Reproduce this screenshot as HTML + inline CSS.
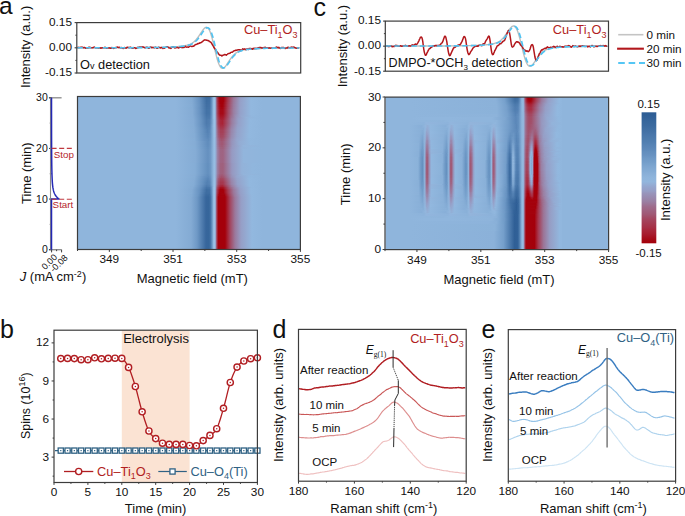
<!DOCTYPE html><html><head><meta charset="utf-8"><style>html,body{margin:0;padding:0;background:#fff;}svg{display:block;}</style></head><body><svg width="685" height="516" viewBox="0 0 685 516" font-family='"Liberation Sans", sans-serif'><defs><linearGradient id="h1" gradientUnits="userSpaceOnUse" x1="176" x2="262" y1="0" y2="0"><stop offset="0" stop-color="#8fb5dc"/><stop offset="0.186" stop-color="#83abd4"/><stop offset="0.267" stop-color="#6994c2"/><stop offset="0.349" stop-color="#3e6da1"/><stop offset="0.39" stop-color="#406fa3"/><stop offset="0.407" stop-color="#5380b3"/><stop offset="0.436" stop-color="#94bbe2"/><stop offset="0.448" stop-color="#9bc2e7"/><stop offset="0.453" stop-color="#99c0e5"/><stop offset="0.459" stop-color="#98aad1"/><stop offset="0.471" stop-color="#9f627f"/><stop offset="0.477" stop-color="#a3465f"/><stop offset="0.488" stop-color="#a72133"/><stop offset="0.506" stop-color="#a4020d"/><stop offset="0.552" stop-color="#a4000a"/><stop offset="0.61" stop-color="#a4425a"/><stop offset="0.669" stop-color="#9c7699"/><stop offset="0.744" stop-color="#969ec6"/><stop offset="0.872" stop-color="#92b8df"/><stop offset="1" stop-color="#8fb5dc"/></linearGradient><linearGradient id="h2" gradientUnits="userSpaceOnUse" x1="176" x2="262" y1="0" y2="0"><stop offset="0" stop-color="#8fb5dc"/><stop offset="0.186" stop-color="#83abd4"/><stop offset="0.273" stop-color="#6792c1"/><stop offset="0.355" stop-color="#3e6da1"/><stop offset="0.39" stop-color="#4170a4"/><stop offset="0.407" stop-color="#5481b3"/><stop offset="0.436" stop-color="#94bbe2"/><stop offset="0.448" stop-color="#9bc2e7"/><stop offset="0.453" stop-color="#99c0e5"/><stop offset="0.459" stop-color="#98aad1"/><stop offset="0.471" stop-color="#9f6482"/><stop offset="0.477" stop-color="#a34862"/><stop offset="0.488" stop-color="#a82437"/><stop offset="0.506" stop-color="#a50611"/><stop offset="0.517" stop-color="#a4000a"/><stop offset="0.552" stop-color="#a4010b"/><stop offset="0.605" stop-color="#a43e55"/><stop offset="0.669" stop-color="#9c789a"/><stop offset="0.744" stop-color="#969fc7"/><stop offset="0.872" stop-color="#92b8df"/><stop offset="1" stop-color="#8fb5dc"/></linearGradient><linearGradient id="h3" gradientUnits="userSpaceOnUse" x1="176" x2="262" y1="0" y2="0"><stop offset="0" stop-color="#8fb5dc"/><stop offset="0.186" stop-color="#84abd4"/><stop offset="0.273" stop-color="#6893c1"/><stop offset="0.355" stop-color="#3f6ea2"/><stop offset="0.39" stop-color="#4271a5"/><stop offset="0.407" stop-color="#5582b4"/><stop offset="0.436" stop-color="#95bce2"/><stop offset="0.448" stop-color="#9bc2e7"/><stop offset="0.453" stop-color="#99c0e5"/><stop offset="0.459" stop-color="#98aad1"/><stop offset="0.471" stop-color="#9f6584"/><stop offset="0.477" stop-color="#a34b64"/><stop offset="0.488" stop-color="#a8273b"/><stop offset="0.506" stop-color="#a50916"/><stop offset="0.517" stop-color="#a4000a"/><stop offset="0.547" stop-color="#a4000a"/><stop offset="0.605" stop-color="#a44158"/><stop offset="0.669" stop-color="#9b799c"/><stop offset="0.744" stop-color="#96a0c8"/><stop offset="0.872" stop-color="#92b8df"/><stop offset="1" stop-color="#8fb5dc"/></linearGradient><linearGradient id="h4" gradientUnits="userSpaceOnUse" x1="176" x2="262" y1="0" y2="0"><stop offset="0" stop-color="#8fb5dc"/><stop offset="0.186" stop-color="#84acd5"/><stop offset="0.273" stop-color="#6994c2"/><stop offset="0.355" stop-color="#416fa3"/><stop offset="0.39" stop-color="#4472a6"/><stop offset="0.407" stop-color="#5683b5"/><stop offset="0.436" stop-color="#95bce2"/><stop offset="0.448" stop-color="#9bc2e7"/><stop offset="0.453" stop-color="#99c0e5"/><stop offset="0.459" stop-color="#98abd2"/><stop offset="0.471" stop-color="#9e6786"/><stop offset="0.477" stop-color="#a24d67"/><stop offset="0.488" stop-color="#a72a3e"/><stop offset="0.506" stop-color="#a50d1a"/><stop offset="0.523" stop-color="#a4000a"/><stop offset="0.547" stop-color="#a4030d"/><stop offset="0.605" stop-color="#a4435c"/><stop offset="0.669" stop-color="#9b7b9e"/><stop offset="0.744" stop-color="#96a0c8"/><stop offset="0.872" stop-color="#92b8df"/><stop offset="1" stop-color="#8fb5dc"/></linearGradient><linearGradient id="h5" gradientUnits="userSpaceOnUse" x1="176" x2="262" y1="0" y2="0"><stop offset="0" stop-color="#8fb5dc"/><stop offset="0.192" stop-color="#83abd4"/><stop offset="0.279" stop-color="#6691c0"/><stop offset="0.355" stop-color="#4271a4"/><stop offset="0.39" stop-color="#4573a7"/><stop offset="0.407" stop-color="#5784b6"/><stop offset="0.436" stop-color="#95bce2"/><stop offset="0.448" stop-color="#9bc2e7"/><stop offset="0.453" stop-color="#99c0e5"/><stop offset="0.459" stop-color="#98abd2"/><stop offset="0.471" stop-color="#9e6989"/><stop offset="0.477" stop-color="#a2506a"/><stop offset="0.488" stop-color="#a72d42"/><stop offset="0.506" stop-color="#a6101f"/><stop offset="0.523" stop-color="#a4040f"/><stop offset="0.547" stop-color="#a50712"/><stop offset="0.605" stop-color="#a3465f"/><stop offset="0.669" stop-color="#9b7c9f"/><stop offset="0.744" stop-color="#96a1c9"/><stop offset="0.872" stop-color="#92b8df"/><stop offset="1" stop-color="#8fb5dc"/></linearGradient><linearGradient id="h6" gradientUnits="userSpaceOnUse" x1="176" x2="262" y1="0" y2="0"><stop offset="0" stop-color="#8fb5dc"/><stop offset="0.192" stop-color="#84abd4"/><stop offset="0.279" stop-color="#6792c1"/><stop offset="0.355" stop-color="#4372a6"/><stop offset="0.39" stop-color="#4675a8"/><stop offset="0.407" stop-color="#5885b7"/><stop offset="0.436" stop-color="#95bce2"/><stop offset="0.448" stop-color="#9bc2e7"/><stop offset="0.453" stop-color="#99c0e5"/><stop offset="0.459" stop-color="#98acd3"/><stop offset="0.471" stop-color="#9e6b8b"/><stop offset="0.483" stop-color="#a43f57"/><stop offset="0.5" stop-color="#a71b2d"/><stop offset="0.517" stop-color="#a50a16"/><stop offset="0.547" stop-color="#a50a17"/><stop offset="0.61" stop-color="#a24e68"/><stop offset="0.669" stop-color="#9b7ea1"/><stop offset="0.744" stop-color="#95a1c9"/><stop offset="0.872" stop-color="#92b8df"/><stop offset="1" stop-color="#8fb5dc"/></linearGradient><linearGradient id="h7" gradientUnits="userSpaceOnUse" x1="176" x2="262" y1="0" y2="0"><stop offset="0" stop-color="#8fb5dc"/><stop offset="0.192" stop-color="#84abd5"/><stop offset="0.279" stop-color="#6893c1"/><stop offset="0.355" stop-color="#4573a7"/><stop offset="0.39" stop-color="#4776a9"/><stop offset="0.407" stop-color="#5986b7"/><stop offset="0.436" stop-color="#95bce2"/><stop offset="0.448" stop-color="#9bc2e7"/><stop offset="0.453" stop-color="#99c0e5"/><stop offset="0.459" stop-color="#98acd3"/><stop offset="0.471" stop-color="#9e6d8d"/><stop offset="0.483" stop-color="#a4425a"/><stop offset="0.5" stop-color="#a71f31"/><stop offset="0.517" stop-color="#a50d1b"/><stop offset="0.547" stop-color="#a50e1c"/><stop offset="0.616" stop-color="#a15672"/><stop offset="0.674" stop-color="#9a83a7"/><stop offset="0.744" stop-color="#95a2ca"/><stop offset="0.872" stop-color="#92b8df"/><stop offset="1" stop-color="#8fb5dc"/></linearGradient><linearGradient id="h8" gradientUnits="userSpaceOnUse" x1="176" x2="262" y1="0" y2="0"><stop offset="0" stop-color="#8fb5dc"/><stop offset="0.192" stop-color="#84acd5"/><stop offset="0.279" stop-color="#6994c2"/><stop offset="0.355" stop-color="#4674a8"/><stop offset="0.39" stop-color="#4977aa"/><stop offset="0.407" stop-color="#5b87b8"/><stop offset="0.436" stop-color="#95bce2"/><stop offset="0.448" stop-color="#9bc2e7"/><stop offset="0.453" stop-color="#99c0e5"/><stop offset="0.459" stop-color="#98add4"/><stop offset="0.471" stop-color="#9d6f8f"/><stop offset="0.483" stop-color="#a3455d"/><stop offset="0.5" stop-color="#a82235"/><stop offset="0.517" stop-color="#a61120"/><stop offset="0.547" stop-color="#a61220"/><stop offset="0.628" stop-color="#9f6381"/><stop offset="0.686" stop-color="#998bb0"/><stop offset="0.75" stop-color="#95a4cc"/><stop offset="0.878" stop-color="#91b7de"/><stop offset="1" stop-color="#8fb5dc"/></linearGradient><linearGradient id="h9" gradientUnits="userSpaceOnUse" x1="176" x2="262" y1="0" y2="0"><stop offset="0" stop-color="#8fb5dc"/><stop offset="0.198" stop-color="#84abd4"/><stop offset="0.285" stop-color="#6792c1"/><stop offset="0.355" stop-color="#4776a9"/><stop offset="0.39" stop-color="#4a78ab"/><stop offset="0.407" stop-color="#5c88b9"/><stop offset="0.436" stop-color="#95bce2"/><stop offset="0.448" stop-color="#9bc2e7"/><stop offset="0.453" stop-color="#99c0e5"/><stop offset="0.459" stop-color="#98add4"/><stop offset="0.471" stop-color="#9d7192"/><stop offset="0.483" stop-color="#a34760"/><stop offset="0.5" stop-color="#a82539"/><stop offset="0.517" stop-color="#a61524"/><stop offset="0.547" stop-color="#a61525"/><stop offset="0.634" stop-color="#9e6a89"/><stop offset="0.698" stop-color="#9892b8"/><stop offset="0.762" stop-color="#95a8cf"/><stop offset="0.884" stop-color="#91b7de"/><stop offset="1" stop-color="#8fb5dc"/></linearGradient><linearGradient id="h10" gradientUnits="userSpaceOnUse" x1="176" x2="262" y1="0" y2="0"><stop offset="0" stop-color="#8fb5dc"/><stop offset="0.198" stop-color="#84abd5"/><stop offset="0.285" stop-color="#6893c1"/><stop offset="0.355" stop-color="#4977aa"/><stop offset="0.39" stop-color="#4b79ac"/><stop offset="0.407" stop-color="#5d89ba"/><stop offset="0.436" stop-color="#95bce2"/><stop offset="0.448" stop-color="#9bc2e7"/><stop offset="0.453" stop-color="#99bfe5"/><stop offset="0.459" stop-color="#97aed4"/><stop offset="0.471" stop-color="#9d7394"/><stop offset="0.483" stop-color="#a34a64"/><stop offset="0.5" stop-color="#a8293d"/><stop offset="0.517" stop-color="#a71929"/><stop offset="0.547" stop-color="#a7192a"/><stop offset="0.64" stop-color="#9d7091"/><stop offset="0.709" stop-color="#9798bf"/><stop offset="0.82" stop-color="#93b3da"/><stop offset="0.919" stop-color="#90b6dd"/><stop offset="1" stop-color="#8fb5dc"/></linearGradient><linearGradient id="h11" gradientUnits="userSpaceOnUse" x1="176" x2="262" y1="0" y2="0"><stop offset="0" stop-color="#8fb5dc"/><stop offset="0.198" stop-color="#84acd5"/><stop offset="0.285" stop-color="#6894c2"/><stop offset="0.355" stop-color="#4a78ab"/><stop offset="0.39" stop-color="#4d7aad"/><stop offset="0.407" stop-color="#5e8abb"/><stop offset="0.436" stop-color="#95bce2"/><stop offset="0.448" stop-color="#9bc2e7"/><stop offset="0.453" stop-color="#99bfe5"/><stop offset="0.459" stop-color="#97aed5"/><stop offset="0.471" stop-color="#9c7596"/><stop offset="0.483" stop-color="#a24d67"/><stop offset="0.5" stop-color="#a72d42"/><stop offset="0.517" stop-color="#a71c2e"/><stop offset="0.547" stop-color="#a71d2f"/><stop offset="0.645" stop-color="#9c7799"/><stop offset="0.721" stop-color="#969ec6"/><stop offset="0.855" stop-color="#92b7de"/><stop offset="1" stop-color="#8fb5dc"/></linearGradient><linearGradient id="h12" gradientUnits="userSpaceOnUse" x1="176" x2="262" y1="0" y2="0"><stop offset="0" stop-color="#8fb5dc"/><stop offset="0.203" stop-color="#84abd4"/><stop offset="0.291" stop-color="#6792c1"/><stop offset="0.355" stop-color="#4b79ac"/><stop offset="0.395" stop-color="#517fb1"/><stop offset="0.419" stop-color="#749eca"/><stop offset="0.442" stop-color="#9bc2e7"/><stop offset="0.453" stop-color="#99bfe5"/><stop offset="0.459" stop-color="#97aed5"/><stop offset="0.471" stop-color="#9c7798"/><stop offset="0.483" stop-color="#a2506a"/><stop offset="0.5" stop-color="#a63046"/><stop offset="0.523" stop-color="#a71f31"/><stop offset="0.547" stop-color="#a72133"/><stop offset="0.645" stop-color="#9c799b"/><stop offset="0.721" stop-color="#969fc7"/><stop offset="0.86" stop-color="#92b8df"/><stop offset="1" stop-color="#8fb5dc"/></linearGradient><linearGradient id="h13" gradientUnits="userSpaceOnUse" x1="176" x2="262" y1="0" y2="0"><stop offset="0" stop-color="#8fb5dc"/><stop offset="0.203" stop-color="#84abd5"/><stop offset="0.291" stop-color="#6893c1"/><stop offset="0.355" stop-color="#4d7aad"/><stop offset="0.395" stop-color="#5380b2"/><stop offset="0.419" stop-color="#759fcb"/><stop offset="0.442" stop-color="#9bc2e7"/><stop offset="0.453" stop-color="#99bfe5"/><stop offset="0.459" stop-color="#97afd6"/><stop offset="0.477" stop-color="#9f6381"/><stop offset="0.488" stop-color="#a3465f"/><stop offset="0.512" stop-color="#a8283c"/><stop offset="0.541" stop-color="#a82336"/><stop offset="0.651" stop-color="#9b7ea1"/><stop offset="0.727" stop-color="#95a1c9"/><stop offset="0.86" stop-color="#92b8df"/><stop offset="1" stop-color="#8fb5dc"/></linearGradient><linearGradient id="h14" gradientUnits="userSpaceOnUse" x1="176" x2="262" y1="0" y2="0"><stop offset="0" stop-color="#8fb5dc"/><stop offset="0.203" stop-color="#84acd5"/><stop offset="0.297" stop-color="#6691c0"/><stop offset="0.355" stop-color="#4e7cae"/><stop offset="0.395" stop-color="#5481b3"/><stop offset="0.424" stop-color="#80a9d3"/><stop offset="0.442" stop-color="#9bc2e7"/><stop offset="0.453" stop-color="#99bfe5"/><stop offset="0.459" stop-color="#97afd6"/><stop offset="0.477" stop-color="#9f6584"/><stop offset="0.488" stop-color="#a34962"/><stop offset="0.512" stop-color="#a72b40"/><stop offset="0.541" stop-color="#a8263a"/><stop offset="0.651" stop-color="#9b80a3"/><stop offset="0.721" stop-color="#96a0c8"/><stop offset="0.855" stop-color="#92b8df"/><stop offset="1" stop-color="#8fb5dc"/></linearGradient><linearGradient id="h15" gradientUnits="userSpaceOnUse" x1="176" x2="262" y1="0" y2="0"><stop offset="0" stop-color="#8fb5dc"/><stop offset="0.203" stop-color="#84acd5"/><stop offset="0.297" stop-color="#6792c1"/><stop offset="0.355" stop-color="#4f7db0"/><stop offset="0.395" stop-color="#5582b4"/><stop offset="0.424" stop-color="#81a9d3"/><stop offset="0.442" stop-color="#9bc2e7"/><stop offset="0.453" stop-color="#99bfe5"/><stop offset="0.459" stop-color="#97b0d6"/><stop offset="0.477" stop-color="#9e6887"/><stop offset="0.494" stop-color="#a4435b"/><stop offset="0.517" stop-color="#a72c41"/><stop offset="0.547" stop-color="#a72c41"/><stop offset="0.645" stop-color="#9b7ea1"/><stop offset="0.715" stop-color="#969fc7"/><stop offset="0.855" stop-color="#92b8df"/><stop offset="1" stop-color="#8fb5dc"/></linearGradient><linearGradient id="h16" gradientUnits="userSpaceOnUse" x1="176" x2="262" y1="0" y2="0"><stop offset="0" stop-color="#8fb5dc"/><stop offset="0.209" stop-color="#84abd4"/><stop offset="0.302" stop-color="#6591c0"/><stop offset="0.36" stop-color="#507db0"/><stop offset="0.395" stop-color="#5683b5"/><stop offset="0.43" stop-color="#8cb3db"/><stop offset="0.442" stop-color="#9bc1e6"/><stop offset="0.453" stop-color="#99bfe4"/><stop offset="0.459" stop-color="#97b0d7"/><stop offset="0.477" stop-color="#9e6a8a"/><stop offset="0.494" stop-color="#a3465f"/><stop offset="0.517" stop-color="#a73045"/><stop offset="0.547" stop-color="#a63046"/><stop offset="0.645" stop-color="#9b80a3"/><stop offset="0.715" stop-color="#96a0c8"/><stop offset="0.855" stop-color="#92b8df"/><stop offset="1" stop-color="#8fb5dc"/></linearGradient><linearGradient id="h17" gradientUnits="userSpaceOnUse" x1="176" x2="262" y1="0" y2="0"><stop offset="0" stop-color="#8fb5dc"/><stop offset="0.209" stop-color="#84acd5"/><stop offset="0.302" stop-color="#6792c1"/><stop offset="0.36" stop-color="#517eb1"/><stop offset="0.395" stop-color="#5885b6"/><stop offset="0.442" stop-color="#9ac1e6"/><stop offset="0.453" stop-color="#98bfe4"/><stop offset="0.459" stop-color="#97b0d7"/><stop offset="0.477" stop-color="#9d6d8d"/><stop offset="0.494" stop-color="#a34963"/><stop offset="0.517" stop-color="#a6344a"/><stop offset="0.547" stop-color="#a6344a"/><stop offset="0.645" stop-color="#9a82a6"/><stop offset="0.715" stop-color="#96a1c9"/><stop offset="0.855" stop-color="#92b8df"/><stop offset="1" stop-color="#8fb5dc"/></linearGradient><linearGradient id="h18" gradientUnits="userSpaceOnUse" x1="176" x2="262" y1="0" y2="0"><stop offset="0" stop-color="#8fb5dc"/><stop offset="0.209" stop-color="#84acd5"/><stop offset="0.302" stop-color="#6893c1"/><stop offset="0.36" stop-color="#5280b2"/><stop offset="0.395" stop-color="#5986b7"/><stop offset="0.442" stop-color="#9ac1e6"/><stop offset="0.453" stop-color="#98bee4"/><stop offset="0.459" stop-color="#97b1d7"/><stop offset="0.477" stop-color="#9d6f90"/><stop offset="0.494" stop-color="#a24d67"/><stop offset="0.517" stop-color="#a5384e"/><stop offset="0.547" stop-color="#a5384f"/><stop offset="0.645" stop-color="#9a84a8"/><stop offset="0.715" stop-color="#95a2ca"/><stop offset="0.855" stop-color="#92b8df"/><stop offset="1" stop-color="#8fb5dc"/></linearGradient><linearGradient id="h19" gradientUnits="userSpaceOnUse" x1="176" x2="262" y1="0" y2="0"><stop offset="0" stop-color="#8fb5dc"/><stop offset="0.209" stop-color="#85acd5"/><stop offset="0.308" stop-color="#6692c1"/><stop offset="0.366" stop-color="#5381b3"/><stop offset="0.395" stop-color="#5b87b8"/><stop offset="0.442" stop-color="#9ac0e5"/><stop offset="0.453" stop-color="#98bee4"/><stop offset="0.459" stop-color="#96b1d8"/><stop offset="0.477" stop-color="#9d7193"/><stop offset="0.494" stop-color="#a2506b"/><stop offset="0.517" stop-color="#a53c53"/><stop offset="0.547" stop-color="#a53c53"/><stop offset="0.645" stop-color="#9a86aa"/><stop offset="0.715" stop-color="#95a3ca"/><stop offset="0.855" stop-color="#92b8df"/><stop offset="1" stop-color="#8fb5dc"/></linearGradient><linearGradient id="h20" gradientUnits="userSpaceOnUse" x1="176" x2="262" y1="0" y2="0"><stop offset="0" stop-color="#8fb5dc"/><stop offset="0.209" stop-color="#85acd5"/><stop offset="0.308" stop-color="#6893c1"/><stop offset="0.366" stop-color="#5582b4"/><stop offset="0.395" stop-color="#5d89ba"/><stop offset="0.442" stop-color="#99c0e5"/><stop offset="0.453" stop-color="#98bee4"/><stop offset="0.459" stop-color="#96b1d8"/><stop offset="0.477" stop-color="#9c7495"/><stop offset="0.494" stop-color="#a1546f"/><stop offset="0.517" stop-color="#a44057"/><stop offset="0.547" stop-color="#a44058"/><stop offset="0.645" stop-color="#9987ac"/><stop offset="0.715" stop-color="#95a3cb"/><stop offset="0.855" stop-color="#92b8df"/><stop offset="1" stop-color="#8fb5dc"/></linearGradient><linearGradient id="h21" gradientUnits="userSpaceOnUse" x1="176" x2="262" y1="0" y2="0"><stop offset="0" stop-color="#8fb5dc"/><stop offset="0.215" stop-color="#84acd5"/><stop offset="0.314" stop-color="#6692c0"/><stop offset="0.372" stop-color="#5784b5"/><stop offset="0.401" stop-color="#648fbf"/><stop offset="0.442" stop-color="#99c0e5"/><stop offset="0.453" stop-color="#97bee3"/><stop offset="0.459" stop-color="#96b1d8"/><stop offset="0.477" stop-color="#9c7698"/><stop offset="0.494" stop-color="#a15773"/><stop offset="0.517" stop-color="#a4435c"/><stop offset="0.547" stop-color="#a4445c"/><stop offset="0.645" stop-color="#9989ae"/><stop offset="0.709" stop-color="#95a3ca"/><stop offset="0.849" stop-color="#92b8df"/><stop offset="1" stop-color="#8fb5dc"/></linearGradient><linearGradient id="h22" gradientUnits="userSpaceOnUse" x1="176" x2="262" y1="0" y2="0"><stop offset="0" stop-color="#8fb5dc"/><stop offset="0.215" stop-color="#84acd5"/><stop offset="0.314" stop-color="#6893c1"/><stop offset="0.372" stop-color="#5885b7"/><stop offset="0.401" stop-color="#6591c0"/><stop offset="0.442" stop-color="#99bfe5"/><stop offset="0.453" stop-color="#97bde3"/><stop offset="0.459" stop-color="#96b2d9"/><stop offset="0.477" stop-color="#9c799b"/><stop offset="0.494" stop-color="#a05a77"/><stop offset="0.517" stop-color="#a34760"/><stop offset="0.547" stop-color="#a34861"/><stop offset="0.645" stop-color="#998bb0"/><stop offset="0.709" stop-color="#95a3cb"/><stop offset="0.849" stop-color="#92b8df"/><stop offset="1" stop-color="#8fb5dc"/></linearGradient><linearGradient id="h23" gradientUnits="userSpaceOnUse" x1="176" x2="262" y1="0" y2="0"><stop offset="0" stop-color="#8fb5dc"/><stop offset="0.215" stop-color="#85acd5"/><stop offset="0.32" stop-color="#6792c1"/><stop offset="0.372" stop-color="#5a87b8"/><stop offset="0.401" stop-color="#6692c1"/><stop offset="0.442" stop-color="#98bfe4"/><stop offset="0.453" stop-color="#97bde3"/><stop offset="0.465" stop-color="#979fc7"/><stop offset="0.477" stop-color="#9b7b9e"/><stop offset="0.494" stop-color="#a05e7b"/><stop offset="0.517" stop-color="#a24b65"/><stop offset="0.547" stop-color="#a24c65"/><stop offset="0.645" stop-color="#998db2"/><stop offset="0.709" stop-color="#95a4cc"/><stop offset="0.849" stop-color="#92b8df"/><stop offset="1" stop-color="#8fb5dc"/></linearGradient><linearGradient id="h24" gradientUnits="userSpaceOnUse" x1="176" x2="262" y1="0" y2="0"><stop offset="0" stop-color="#8fb5dc"/><stop offset="0.215" stop-color="#85add5"/><stop offset="0.32" stop-color="#6893c2"/><stop offset="0.372" stop-color="#5c88b9"/><stop offset="0.401" stop-color="#6893c2"/><stop offset="0.442" stop-color="#98bee4"/><stop offset="0.453" stop-color="#97bde3"/><stop offset="0.465" stop-color="#97a0c8"/><stop offset="0.483" stop-color="#9d7293"/><stop offset="0.506" stop-color="#a15672"/><stop offset="0.529" stop-color="#a24e68"/><stop offset="0.552" stop-color="#a1536e"/><stop offset="0.645" stop-color="#988fb4"/><stop offset="0.709" stop-color="#95a5cd"/><stop offset="0.849" stop-color="#91b7de"/><stop offset="1" stop-color="#8fb5dc"/></linearGradient><linearGradient id="h25" gradientUnits="userSpaceOnUse" x1="176" x2="262" y1="0" y2="0"><stop offset="0" stop-color="#8fb5dc"/><stop offset="0.215" stop-color="#85add6"/><stop offset="0.326" stop-color="#6792c1"/><stop offset="0.378" stop-color="#5f8bbb"/><stop offset="0.401" stop-color="#6994c2"/><stop offset="0.442" stop-color="#98bee4"/><stop offset="0.453" stop-color="#96bde3"/><stop offset="0.465" stop-color="#96a1c9"/><stop offset="0.483" stop-color="#9c7496"/><stop offset="0.506" stop-color="#a05a76"/><stop offset="0.529" stop-color="#a1526d"/><stop offset="0.552" stop-color="#a15773"/><stop offset="0.645" stop-color="#9891b7"/><stop offset="0.709" stop-color="#95a6ce"/><stop offset="0.849" stop-color="#91b7de"/><stop offset="1" stop-color="#8fb5dc"/></linearGradient><linearGradient id="h26" gradientUnits="userSpaceOnUse" x1="176" x2="262" y1="0" y2="0"><stop offset="0" stop-color="#8fb5dc"/><stop offset="0.221" stop-color="#85acd5"/><stop offset="0.372" stop-color="#608cbc"/><stop offset="0.401" stop-color="#6b96c3"/><stop offset="0.442" stop-color="#97bee3"/><stop offset="0.453" stop-color="#96bce2"/><stop offset="0.465" stop-color="#96a2ca"/><stop offset="0.483" stop-color="#9c7799"/><stop offset="0.506" stop-color="#a05d7b"/><stop offset="0.535" stop-color="#a15672"/><stop offset="0.558" stop-color="#9f5f7d"/><stop offset="0.651" stop-color="#9795bc"/><stop offset="0.733" stop-color="#94acd3"/><stop offset="0.86" stop-color="#91b7de"/><stop offset="1" stop-color="#8fb5dc"/></linearGradient><linearGradient id="h27" gradientUnits="userSpaceOnUse" x1="176" x2="262" y1="0" y2="0"><stop offset="0" stop-color="#8fb5dc"/><stop offset="0.221" stop-color="#85add5"/><stop offset="0.372" stop-color="#618dbd"/><stop offset="0.401" stop-color="#6c97c4"/><stop offset="0.442" stop-color="#97bde3"/><stop offset="0.453" stop-color="#96bce2"/><stop offset="0.465" stop-color="#96a3cb"/><stop offset="0.483" stop-color="#9b7a9d"/><stop offset="0.506" stop-color="#9f617f"/><stop offset="0.535" stop-color="#a05a76"/><stop offset="0.558" stop-color="#9f6381"/><stop offset="0.657" stop-color="#9799c0"/><stop offset="0.785" stop-color="#93b4db"/><stop offset="1" stop-color="#8fb5dc"/></linearGradient><linearGradient id="h28" gradientUnits="userSpaceOnUse" x1="176" x2="262" y1="0" y2="0"><stop offset="0" stop-color="#8fb5dc"/><stop offset="0.221" stop-color="#85add6"/><stop offset="0.372" stop-color="#638fbe"/><stop offset="0.401" stop-color="#6d98c5"/><stop offset="0.442" stop-color="#97bde3"/><stop offset="0.453" stop-color="#96bce2"/><stop offset="0.465" stop-color="#96a4cc"/><stop offset="0.483" stop-color="#9b7da0"/><stop offset="0.512" stop-color="#9f627f"/><stop offset="0.547" stop-color="#9f607d"/><stop offset="0.651" stop-color="#9798c0"/><stop offset="0.767" stop-color="#93b2d9"/><stop offset="0.89" stop-color="#90b6dd"/><stop offset="1" stop-color="#8fb5dc"/></linearGradient><linearGradient id="h29" gradientUnits="userSpaceOnUse" x1="176" x2="262" y1="0" y2="0"><stop offset="0" stop-color="#8fb5dc"/><stop offset="0.227" stop-color="#85acd5"/><stop offset="0.372" stop-color="#6590bf"/><stop offset="0.401" stop-color="#6f99c6"/><stop offset="0.442" stop-color="#96bde3"/><stop offset="0.453" stop-color="#95bce2"/><stop offset="0.465" stop-color="#96a5cd"/><stop offset="0.483" stop-color="#9b80a3"/><stop offset="0.512" stop-color="#9e6584"/><stop offset="0.547" stop-color="#9f6382"/><stop offset="0.651" stop-color="#979ac2"/><stop offset="0.785" stop-color="#92b5dc"/><stop offset="1" stop-color="#8fb5dc"/></linearGradient><linearGradient id="h30" gradientUnits="userSpaceOnUse" x1="176" x2="262" y1="0" y2="0"><stop offset="0" stop-color="#8fb5dc"/><stop offset="0.18" stop-color="#84acd5"/><stop offset="0.262" stop-color="#6b96c4"/><stop offset="0.349" stop-color="#3d6ca1"/><stop offset="0.39" stop-color="#3f6ea2"/><stop offset="0.407" stop-color="#527fb2"/><stop offset="0.436" stop-color="#94bbe1"/><stop offset="0.448" stop-color="#9bc2e7"/><stop offset="0.453" stop-color="#99c0e5"/><stop offset="0.459" stop-color="#98a9d0"/><stop offset="0.471" stop-color="#a0607d"/><stop offset="0.477" stop-color="#a4445c"/><stop offset="0.488" stop-color="#a71e30"/><stop offset="0.506" stop-color="#a4000a"/><stop offset="0.558" stop-color="#a4020c"/><stop offset="0.61" stop-color="#a43f57"/><stop offset="0.669" stop-color="#9c7597"/><stop offset="0.744" stop-color="#969ec6"/><stop offset="0.872" stop-color="#92b8df"/><stop offset="1" stop-color="#8fb5dc"/></linearGradient><linearGradient id="h31" gradientUnits="userSpaceOnUse" x1="176" x2="262" y1="0" y2="0"><stop offset="0" stop-color="#8fb5dc"/><stop offset="0.18" stop-color="#83abd4"/><stop offset="0.256" stop-color="#6c97c5"/><stop offset="0.349" stop-color="#3b6a9f"/><stop offset="0.39" stop-color="#3c6ca0"/><stop offset="0.407" stop-color="#507eb0"/><stop offset="0.436" stop-color="#94bbe1"/><stop offset="0.448" stop-color="#9bc2e7"/><stop offset="0.453" stop-color="#99bfe5"/><stop offset="0.459" stop-color="#98a8cf"/><stop offset="0.471" stop-color="#a05c79"/><stop offset="0.477" stop-color="#a43f56"/><stop offset="0.488" stop-color="#a71828"/><stop offset="0.5" stop-color="#a4000a"/><stop offset="0.564" stop-color="#a4030e"/><stop offset="0.616" stop-color="#a44159"/><stop offset="0.674" stop-color="#9c7799"/><stop offset="0.75" stop-color="#969ec6"/><stop offset="0.878" stop-color="#92b8df"/><stop offset="1" stop-color="#8fb5dc"/></linearGradient><linearGradient id="h32" gradientUnits="userSpaceOnUse" x1="176" x2="262" y1="0" y2="0"><stop offset="0" stop-color="#8fb5dc"/><stop offset="0.18" stop-color="#83abd4"/><stop offset="0.256" stop-color="#6c97c4"/><stop offset="0.349" stop-color="#3a699e"/><stop offset="0.384" stop-color="#39699e"/><stop offset="0.401" stop-color="#4775a8"/><stop offset="0.419" stop-color="#6a95c3"/><stop offset="0.436" stop-color="#94bbe1"/><stop offset="0.448" stop-color="#9bc2e7"/><stop offset="0.453" stop-color="#99bfe5"/><stop offset="0.459" stop-color="#98a8cf"/><stop offset="0.471" stop-color="#a05a76"/><stop offset="0.477" stop-color="#a53c54"/><stop offset="0.488" stop-color="#a61524"/><stop offset="0.5" stop-color="#a4000a"/><stop offset="0.564" stop-color="#a4000a"/><stop offset="0.622" stop-color="#a3455d"/><stop offset="0.68" stop-color="#9b7a9c"/><stop offset="0.756" stop-color="#96a0c8"/><stop offset="0.884" stop-color="#92b8df"/><stop offset="1" stop-color="#8fb5dc"/></linearGradient><linearGradient id="h33" gradientUnits="userSpaceOnUse" x1="176" x2="262" y1="0" y2="0"><stop offset="0" stop-color="#8fb5dc"/><stop offset="0.18" stop-color="#83abd4"/><stop offset="0.25" stop-color="#6d98c5"/><stop offset="0.349" stop-color="#38679d"/><stop offset="0.384" stop-color="#37679c"/><stop offset="0.401" stop-color="#4473a7"/><stop offset="0.419" stop-color="#6893c2"/><stop offset="0.436" stop-color="#94bbe1"/><stop offset="0.448" stop-color="#9bc2e7"/><stop offset="0.453" stop-color="#99bfe5"/><stop offset="0.459" stop-color="#99a7ce"/><stop offset="0.471" stop-color="#a15672"/><stop offset="0.477" stop-color="#a5384e"/><stop offset="0.488" stop-color="#a60f1d"/><stop offset="0.494" stop-color="#a4010c"/><stop offset="0.57" stop-color="#a4010b"/><stop offset="0.622" stop-color="#a44058"/><stop offset="0.68" stop-color="#9c7799"/><stop offset="0.756" stop-color="#969fc7"/><stop offset="0.884" stop-color="#92b8df"/><stop offset="1" stop-color="#8fb5dc"/></linearGradient><linearGradient id="h34" gradientUnits="userSpaceOnUse" x1="176" x2="262" y1="0" y2="0"><stop offset="0" stop-color="#8fb5dc"/><stop offset="0.174" stop-color="#84abd4"/><stop offset="0.244" stop-color="#6f99c6"/><stop offset="0.349" stop-color="#37669c"/><stop offset="0.384" stop-color="#36669b"/><stop offset="0.401" stop-color="#4372a6"/><stop offset="0.419" stop-color="#6793c1"/><stop offset="0.436" stop-color="#94bbe1"/><stop offset="0.448" stop-color="#9bc2e7"/><stop offset="0.453" stop-color="#99bfe5"/><stop offset="0.459" stop-color="#99a7ce"/><stop offset="0.471" stop-color="#a15470"/><stop offset="0.477" stop-color="#a6354b"/><stop offset="0.488" stop-color="#a50c19"/><stop offset="0.494" stop-color="#a4000a"/><stop offset="0.57" stop-color="#a4000a"/><stop offset="0.628" stop-color="#a3445d"/><stop offset="0.686" stop-color="#9b799c"/><stop offset="0.756" stop-color="#969ec6"/><stop offset="0.884" stop-color="#92b8df"/><stop offset="1" stop-color="#8fb5dc"/></linearGradient><linearGradient id="h35" gradientUnits="userSpaceOnUse" x1="410" x2="562" y1="0" y2="0"><stop offset="0" stop-color="#8fb5dc"/><stop offset="0.562" stop-color="#8bb1d9"/><stop offset="0.618" stop-color="#78a2cd"/><stop offset="0.688" stop-color="#3e6da1"/><stop offset="0.707" stop-color="#3f6ea2"/><stop offset="0.72" stop-color="#5986b7"/><stop offset="0.734" stop-color="#8ab1d9"/><stop offset="0.743" stop-color="#95bbe1"/><stop offset="0.747" stop-color="#95afd6"/><stop offset="0.757" stop-color="#a2506b"/><stop offset="0.763" stop-color="#a8273b"/><stop offset="0.773" stop-color="#a50611"/><stop offset="0.78" stop-color="#a4000a"/><stop offset="0.803" stop-color="#a4030d"/><stop offset="0.832" stop-color="#a44058"/><stop offset="0.868" stop-color="#9b799c"/><stop offset="0.911" stop-color="#969fc7"/><stop offset="0.984" stop-color="#92b8df"/><stop offset="1" stop-color="#90b6dd"/></linearGradient><linearGradient id="h36" gradientUnits="userSpaceOnUse" x1="410" x2="562" y1="0" y2="0"><stop offset="0" stop-color="#8fb5dc"/><stop offset="0.562" stop-color="#8bb1d9"/><stop offset="0.622" stop-color="#77a0cc"/><stop offset="0.691" stop-color="#3e6da1"/><stop offset="0.711" stop-color="#4472a6"/><stop offset="0.72" stop-color="#5b87b8"/><stop offset="0.734" stop-color="#8ab1d9"/><stop offset="0.743" stop-color="#95bbe1"/><stop offset="0.747" stop-color="#95b0d7"/><stop offset="0.757" stop-color="#a1536e"/><stop offset="0.763" stop-color="#a72b40"/><stop offset="0.773" stop-color="#a50a17"/><stop offset="0.78" stop-color="#a4000a"/><stop offset="0.799" stop-color="#a4000a"/><stop offset="0.832" stop-color="#a4435b"/><stop offset="0.868" stop-color="#9b7b9e"/><stop offset="0.911" stop-color="#96a0c8"/><stop offset="0.984" stop-color="#92b8df"/><stop offset="1" stop-color="#90b6dd"/></linearGradient><linearGradient id="h37" gradientUnits="userSpaceOnUse" x1="410" x2="562" y1="0" y2="0"><stop offset="0" stop-color="#8fb5dc"/><stop offset="0.562" stop-color="#8bb1d9"/><stop offset="0.622" stop-color="#77a1cc"/><stop offset="0.691" stop-color="#3f6ea2"/><stop offset="0.711" stop-color="#4574a7"/><stop offset="0.72" stop-color="#5c88b9"/><stop offset="0.734" stop-color="#8ab2d9"/><stop offset="0.743" stop-color="#94bbe1"/><stop offset="0.747" stop-color="#95b0d7"/><stop offset="0.757" stop-color="#a15671"/><stop offset="0.763" stop-color="#a72e44"/><stop offset="0.773" stop-color="#a60e1c"/><stop offset="0.783" stop-color="#a4000a"/><stop offset="0.796" stop-color="#a4000a"/><stop offset="0.829" stop-color="#a44057"/><stop offset="0.865" stop-color="#9c799b"/><stop offset="0.908" stop-color="#969fc7"/><stop offset="0.98" stop-color="#92b8df"/><stop offset="1" stop-color="#90b6dd"/></linearGradient><linearGradient id="h38" gradientUnits="userSpaceOnUse" x1="410" x2="562" y1="0" y2="0"><stop offset="0" stop-color="#8fb5dc"/><stop offset="0.566" stop-color="#8bb1d9"/><stop offset="0.622" stop-color="#78a1cd"/><stop offset="0.691" stop-color="#4170a3"/><stop offset="0.711" stop-color="#4775a8"/><stop offset="0.72" stop-color="#5d8aba"/><stop offset="0.734" stop-color="#8ab2da"/><stop offset="0.743" stop-color="#94bbe1"/><stop offset="0.747" stop-color="#95b0d7"/><stop offset="0.757" stop-color="#a05874"/><stop offset="0.763" stop-color="#a63248"/><stop offset="0.773" stop-color="#a61221"/><stop offset="0.783" stop-color="#a4040f"/><stop offset="0.796" stop-color="#a40510"/><stop offset="0.829" stop-color="#a4435b"/><stop offset="0.865" stop-color="#9b7b9d"/><stop offset="0.908" stop-color="#96a0c8"/><stop offset="0.98" stop-color="#92b8df"/><stop offset="1" stop-color="#90b6dd"/></linearGradient><linearGradient id="h39" gradientUnits="userSpaceOnUse" x1="410" x2="562" y1="0" y2="0"><stop offset="0" stop-color="#8fb5dc"/><stop offset="0.566" stop-color="#8bb1d9"/><stop offset="0.625" stop-color="#77a1cc"/><stop offset="0.691" stop-color="#4473a6"/><stop offset="0.711" stop-color="#4a78ab"/><stop offset="0.72" stop-color="#608cbc"/><stop offset="0.734" stop-color="#8bb2da"/><stop offset="0.743" stop-color="#94bae1"/><stop offset="0.747" stop-color="#95b1d8"/><stop offset="0.75" stop-color="#9896bd"/><stop offset="0.757" stop-color="#a05e7b"/><stop offset="0.763" stop-color="#a53950"/><stop offset="0.773" stop-color="#a71b2c"/><stop offset="0.783" stop-color="#a50d1a"/><stop offset="0.796" stop-color="#a50e1b"/><stop offset="0.836" stop-color="#a15470"/><stop offset="0.868" stop-color="#9a82a6"/><stop offset="0.908" stop-color="#95a1c9"/><stop offset="0.98" stop-color="#92b8df"/><stop offset="1" stop-color="#90b6dd"/></linearGradient><linearGradient id="h40" gradientUnits="userSpaceOnUse" x1="410" x2="562" y1="0" y2="0"><stop offset="0" stop-color="#8fb5dc"/><stop offset="0.566" stop-color="#8bb2d9"/><stop offset="0.625" stop-color="#78a2cd"/><stop offset="0.691" stop-color="#4776a9"/><stop offset="0.711" stop-color="#4d7bad"/><stop offset="0.72" stop-color="#628ebe"/><stop offset="0.737" stop-color="#91b8de"/><stop offset="0.743" stop-color="#94bae0"/><stop offset="0.747" stop-color="#95b2d9"/><stop offset="0.75" stop-color="#9799c0"/><stop offset="0.757" stop-color="#9f6381"/><stop offset="0.763" stop-color="#a44159"/><stop offset="0.776" stop-color="#a71d2f"/><stop offset="0.786" stop-color="#a61525"/><stop offset="0.799" stop-color="#a71a2b"/><stop offset="0.845" stop-color="#9e6988"/><stop offset="0.882" stop-color="#9892b8"/><stop offset="0.914" stop-color="#95a6ce"/><stop offset="0.984" stop-color="#91b7de"/><stop offset="1" stop-color="#90b6dd"/></linearGradient><linearGradient id="h41" gradientUnits="userSpaceOnUse" x1="410" x2="562" y1="0" y2="0"><stop offset="0" stop-color="#8fb5dc"/><stop offset="0.569" stop-color="#8bb1d9"/><stop offset="0.628" stop-color="#78a1cd"/><stop offset="0.691" stop-color="#4b79ac"/><stop offset="0.711" stop-color="#507db0"/><stop offset="0.724" stop-color="#6f9ac7"/><stop offset="0.737" stop-color="#91b7de"/><stop offset="0.743" stop-color="#94bae0"/><stop offset="0.747" stop-color="#95b2d9"/><stop offset="0.75" stop-color="#979bc2"/><stop offset="0.757" stop-color="#9e6888"/><stop offset="0.763" stop-color="#a34861"/><stop offset="0.776" stop-color="#a8263a"/><stop offset="0.789" stop-color="#a71e30"/><stop offset="0.799" stop-color="#a82337"/><stop offset="0.852" stop-color="#9c7799"/><stop offset="0.895" stop-color="#969ec6"/><stop offset="0.974" stop-color="#92b8df"/><stop offset="1" stop-color="#90b6dd"/></linearGradient><linearGradient id="h42" gradientUnits="userSpaceOnUse" x1="410" x2="562" y1="0" y2="0"><stop offset="0" stop-color="#8fb5dc"/><stop offset="0.569" stop-color="#8bb1d9"/><stop offset="0.632" stop-color="#77a1cc"/><stop offset="0.691" stop-color="#4c7aad"/><stop offset="0.711" stop-color="#517fb1"/><stop offset="0.724" stop-color="#709bc7"/><stop offset="0.737" stop-color="#91b7de"/><stop offset="0.743" stop-color="#93bae0"/><stop offset="0.747" stop-color="#94b3da"/><stop offset="0.75" stop-color="#979cc4"/><stop offset="0.757" stop-color="#9e6b8b"/><stop offset="0.763" stop-color="#a24b65"/><stop offset="0.776" stop-color="#a72a3f"/><stop offset="0.789" stop-color="#a82336"/><stop offset="0.799" stop-color="#a8283c"/><stop offset="0.852" stop-color="#9c799c"/><stop offset="0.895" stop-color="#969fc7"/><stop offset="0.974" stop-color="#92b8df"/><stop offset="1" stop-color="#90b6dd"/></linearGradient><linearGradient id="h43" gradientUnits="userSpaceOnUse" x1="410" x2="562" y1="0" y2="0"><stop offset="0" stop-color="#8fb5dc"/><stop offset="0.569" stop-color="#8bb2d9"/><stop offset="0.632" stop-color="#78a1cc"/><stop offset="0.691" stop-color="#4e7cae"/><stop offset="0.711" stop-color="#5380b2"/><stop offset="0.737" stop-color="#91b7de"/><stop offset="0.743" stop-color="#93bae0"/><stop offset="0.747" stop-color="#94b3da"/><stop offset="0.75" stop-color="#969ec5"/><stop offset="0.757" stop-color="#9d6e8e"/><stop offset="0.763" stop-color="#a24f69"/><stop offset="0.776" stop-color="#a72f44"/><stop offset="0.789" stop-color="#a8283c"/><stop offset="0.799" stop-color="#a72c41"/><stop offset="0.852" stop-color="#9b7b9e"/><stop offset="0.891" stop-color="#969ec6"/><stop offset="0.97" stop-color="#92b8df"/><stop offset="1" stop-color="#90b6dd"/></linearGradient><linearGradient id="h44" gradientUnits="userSpaceOnUse" x1="410" x2="562" y1="0" y2="0"><stop offset="0" stop-color="#8fb5dc"/><stop offset="0.572" stop-color="#8bb1d9"/><stop offset="0.635" stop-color="#77a0cc"/><stop offset="0.691" stop-color="#507db0"/><stop offset="0.711" stop-color="#5481b4"/><stop offset="0.737" stop-color="#91b7de"/><stop offset="0.743" stop-color="#93b9e0"/><stop offset="0.747" stop-color="#94b3da"/><stop offset="0.75" stop-color="#969fc7"/><stop offset="0.757" stop-color="#9d7091"/><stop offset="0.763" stop-color="#a1536d"/><stop offset="0.776" stop-color="#a6344a"/><stop offset="0.789" stop-color="#a72d42"/><stop offset="0.799" stop-color="#a63147"/><stop offset="0.852" stop-color="#9b7ea1"/><stop offset="0.891" stop-color="#969fc7"/><stop offset="0.97" stop-color="#92b8df"/><stop offset="1" stop-color="#90b6dd"/></linearGradient><linearGradient id="h45" gradientUnits="userSpaceOnUse" x1="410" x2="562" y1="0" y2="0"><stop offset="0" stop-color="#8fb5dc"/><stop offset="0.572" stop-color="#8bb2d9"/><stop offset="0.638" stop-color="#76a0cb"/><stop offset="0.691" stop-color="#517fb1"/><stop offset="0.711" stop-color="#5683b5"/><stop offset="0.737" stop-color="#91b7de"/><stop offset="0.743" stop-color="#93b9e0"/><stop offset="0.747" stop-color="#94b4da"/><stop offset="0.75" stop-color="#96a0c8"/><stop offset="0.76" stop-color="#9f6381"/><stop offset="0.77" stop-color="#a3445d"/><stop offset="0.783" stop-color="#a63248"/><stop offset="0.799" stop-color="#a6364c"/><stop offset="0.852" stop-color="#9b80a3"/><stop offset="0.891" stop-color="#96a0c8"/><stop offset="0.97" stop-color="#92b8df"/><stop offset="1" stop-color="#90b6dd"/></linearGradient><linearGradient id="h46" gradientUnits="userSpaceOnUse" x1="410" x2="562" y1="0" y2="0"><stop offset="0" stop-color="#8fb5dc"/><stop offset="0.572" stop-color="#8bb2d9"/><stop offset="0.638" stop-color="#77a0cc"/><stop offset="0.691" stop-color="#5380b2"/><stop offset="0.711" stop-color="#5884b6"/><stop offset="0.737" stop-color="#90b7de"/><stop offset="0.743" stop-color="#93b9e0"/><stop offset="0.747" stop-color="#94b4db"/><stop offset="0.753" stop-color="#998aaf"/><stop offset="0.76" stop-color="#9e6685"/><stop offset="0.77" stop-color="#a34862"/><stop offset="0.783" stop-color="#a5374d"/><stop offset="0.799" stop-color="#a53b52"/><stop offset="0.852" stop-color="#9a82a6"/><stop offset="0.891" stop-color="#96a1c9"/><stop offset="0.97" stop-color="#92b8df"/><stop offset="1" stop-color="#90b6dd"/></linearGradient><linearGradient id="h47" gradientUnits="userSpaceOnUse" x1="410" x2="562" y1="0" y2="0"><stop offset="0" stop-color="#8fb5dc"/><stop offset="0.572" stop-color="#8bb2d9"/><stop offset="0.638" stop-color="#78a1cc"/><stop offset="0.694" stop-color="#5481b3"/><stop offset="0.711" stop-color="#5a86b7"/><stop offset="0.737" stop-color="#90b7de"/><stop offset="0.747" stop-color="#94b4db"/><stop offset="0.76" stop-color="#9e6989"/><stop offset="0.77" stop-color="#a24d66"/><stop offset="0.783" stop-color="#a53c53"/><stop offset="0.799" stop-color="#a43f57"/><stop offset="0.852" stop-color="#9a84a9"/><stop offset="0.891" stop-color="#95a2ca"/><stop offset="0.97" stop-color="#92b8df"/><stop offset="1" stop-color="#90b6dd"/></linearGradient><linearGradient id="h48" gradientUnits="userSpaceOnUse" x1="410" x2="562" y1="0" y2="0"><stop offset="0" stop-color="#8fb5dc"/><stop offset="0.572" stop-color="#8bb2da"/><stop offset="0.641" stop-color="#77a0cc"/><stop offset="0.694" stop-color="#5582b5"/><stop offset="0.711" stop-color="#5c88b9"/><stop offset="0.737" stop-color="#90b7de"/><stop offset="0.747" stop-color="#94b5db"/><stop offset="0.76" stop-color="#9d6c8d"/><stop offset="0.77" stop-color="#a2516b"/><stop offset="0.783" stop-color="#a44058"/><stop offset="0.799" stop-color="#a4445c"/><stop offset="0.852" stop-color="#9987ab"/><stop offset="0.888" stop-color="#95a1c9"/><stop offset="0.967" stop-color="#92b8df"/><stop offset="1" stop-color="#90b6dd"/></linearGradient><linearGradient id="h49" gradientUnits="userSpaceOnUse" x1="410" x2="562" y1="0" y2="0"><stop offset="0" stop-color="#8fb5dc"/><stop offset="0.569" stop-color="#8db3da"/><stop offset="0.641" stop-color="#77a1cc"/><stop offset="0.694" stop-color="#5784b6"/><stop offset="0.714" stop-color="#628ebe"/><stop offset="0.737" stop-color="#90b7de"/><stop offset="0.747" stop-color="#94b5dc"/><stop offset="0.76" stop-color="#9d7090"/><stop offset="0.77" stop-color="#a15570"/><stop offset="0.783" stop-color="#a3455e"/><stop offset="0.799" stop-color="#a34963"/><stop offset="0.855" stop-color="#998cb1"/><stop offset="0.891" stop-color="#95a4cc"/><stop offset="0.97" stop-color="#92b8df"/><stop offset="1" stop-color="#90b6dd"/></linearGradient><linearGradient id="h50" gradientUnits="userSpaceOnUse" x1="410" x2="562" y1="0" y2="0"><stop offset="0" stop-color="#8fb5dc"/><stop offset="0.569" stop-color="#8db3da"/><stop offset="0.641" stop-color="#78a2cd"/><stop offset="0.694" stop-color="#5a86b8"/><stop offset="0.714" stop-color="#6490bf"/><stop offset="0.737" stop-color="#90b7de"/><stop offset="0.747" stop-color="#94b5dc"/><stop offset="0.76" stop-color="#9c7394"/><stop offset="0.773" stop-color="#a1546f"/><stop offset="0.786" stop-color="#a34a63"/><stop offset="0.799" stop-color="#a24e68"/><stop offset="0.855" stop-color="#988eb4"/><stop offset="0.891" stop-color="#95a5cd"/><stop offset="0.97" stop-color="#91b7de"/><stop offset="1" stop-color="#90b6dd"/></linearGradient><linearGradient id="h51" gradientUnits="userSpaceOnUse" x1="410" x2="562" y1="0" y2="0"><stop offset="0" stop-color="#8fb5dc"/><stop offset="0.099" stop-color="#90b6dd"/><stop offset="0.257" stop-color="#90b6dd"/><stop offset="0.385" stop-color="#8fb5dc"/><stop offset="0.539" stop-color="#8fb5dc"/><stop offset="0.625" stop-color="#7fa7d1"/><stop offset="0.697" stop-color="#5a86b8"/><stop offset="0.714" stop-color="#6490bf"/><stop offset="0.737" stop-color="#90b7de"/><stop offset="0.747" stop-color="#94b5dc"/><stop offset="0.76" stop-color="#9c7394"/><stop offset="0.77" stop-color="#a05975"/><stop offset="0.783" stop-color="#a34b64"/><stop offset="0.799" stop-color="#a24f69"/><stop offset="0.862" stop-color="#9894ba"/><stop offset="0.901" stop-color="#94a9d1"/><stop offset="0.977" stop-color="#91b7de"/><stop offset="1" stop-color="#90b6dd"/></linearGradient><linearGradient id="h52" gradientUnits="userSpaceOnUse" x1="410" x2="562" y1="0" y2="0"><stop offset="0" stop-color="#8fb5dc"/><stop offset="0.095" stop-color="#8fb5dc"/><stop offset="0.22" stop-color="#8eb4db"/><stop offset="0.257" stop-color="#90b6dd"/><stop offset="0.382" stop-color="#8eb4db"/><stop offset="0.441" stop-color="#8fb5dc"/><stop offset="0.536" stop-color="#8eb5dc"/><stop offset="0.569" stop-color="#8eb4db"/><stop offset="0.645" stop-color="#76a0cb"/><stop offset="0.697" stop-color="#5a86b8"/><stop offset="0.714" stop-color="#6490bf"/><stop offset="0.737" stop-color="#90b7de"/><stop offset="0.747" stop-color="#94b5dc"/><stop offset="0.76" stop-color="#9c7394"/><stop offset="0.77" stop-color="#a05976"/><stop offset="0.783" stop-color="#a24b65"/><stop offset="0.799" stop-color="#a2506a"/><stop offset="0.865" stop-color="#9796bd"/><stop offset="0.918" stop-color="#94aed6"/><stop offset="0.98" stop-color="#91b7de"/><stop offset="1" stop-color="#90b6dd"/></linearGradient><linearGradient id="h53" gradientUnits="userSpaceOnUse" x1="410" x2="562" y1="0" y2="0"><stop offset="0" stop-color="#8fb5dc"/><stop offset="0.092" stop-color="#8db3db"/><stop offset="0.105" stop-color="#92b5dd"/><stop offset="0.25" stop-color="#8db3db"/><stop offset="0.263" stop-color="#92b5dd"/><stop offset="0.378" stop-color="#8cb3da"/><stop offset="0.395" stop-color="#93b4db"/><stop offset="0.533" stop-color="#8db3da"/><stop offset="0.562" stop-color="#90b6dd"/><stop offset="0.645" stop-color="#76a0cb"/><stop offset="0.697" stop-color="#5a87b8"/><stop offset="0.714" stop-color="#6490bf"/><stop offset="0.737" stop-color="#90b7de"/><stop offset="0.747" stop-color="#94b5dc"/><stop offset="0.76" stop-color="#9c7394"/><stop offset="0.77" stop-color="#a05976"/><stop offset="0.783" stop-color="#a24c65"/><stop offset="0.799" stop-color="#a1516c"/><stop offset="0.868" stop-color="#9799c0"/><stop offset="0.934" stop-color="#93b3da"/><stop offset="1" stop-color="#90b6dd"/></linearGradient><linearGradient id="h54" gradientUnits="userSpaceOnUse" x1="410" x2="562" y1="0" y2="0"><stop offset="0" stop-color="#8fb5dc"/><stop offset="0.092" stop-color="#8cb3da"/><stop offset="0.105" stop-color="#93b4db"/><stop offset="0.125" stop-color="#92b7de"/><stop offset="0.247" stop-color="#8bb1d9"/><stop offset="0.263" stop-color="#93b4db"/><stop offset="0.283" stop-color="#92b7de"/><stop offset="0.378" stop-color="#8cb2da"/><stop offset="0.391" stop-color="#93b5dc"/><stop offset="0.408" stop-color="#93b4db"/><stop offset="0.487" stop-color="#8fb5dc"/><stop offset="0.53" stop-color="#8bb1d9"/><stop offset="0.546" stop-color="#93b5dc"/><stop offset="0.572" stop-color="#8db3db"/><stop offset="0.645" stop-color="#769fcb"/><stop offset="0.701" stop-color="#5b87b8"/><stop offset="0.714" stop-color="#6490bf"/><stop offset="0.737" stop-color="#90b7de"/><stop offset="0.747" stop-color="#94b5dc"/><stop offset="0.76" stop-color="#9c7394"/><stop offset="0.77" stop-color="#a05a76"/><stop offset="0.783" stop-color="#a24d66"/><stop offset="0.803" stop-color="#a15773"/><stop offset="0.836" stop-color="#9c7698"/><stop offset="0.868" stop-color="#9799c0"/><stop offset="0.934" stop-color="#93b3da"/><stop offset="1" stop-color="#90b6dd"/></linearGradient><linearGradient id="h55" gradientUnits="userSpaceOnUse" x1="410" x2="562" y1="0" y2="0"><stop offset="0" stop-color="#8fb5dc"/><stop offset="0.076" stop-color="#88afd8"/><stop offset="0.102" stop-color="#92b6dd"/><stop offset="0.115" stop-color="#93afd6"/><stop offset="0.135" stop-color="#91b7de"/><stop offset="0.234" stop-color="#88afd8"/><stop offset="0.26" stop-color="#92b6dd"/><stop offset="0.273" stop-color="#93afd6"/><stop offset="0.293" stop-color="#91b7de"/><stop offset="0.375" stop-color="#89b0d8"/><stop offset="0.388" stop-color="#92b7de"/><stop offset="0.401" stop-color="#93afd6"/><stop offset="0.424" stop-color="#90b6dd"/><stop offset="0.513" stop-color="#89b0d8"/><stop offset="0.536" stop-color="#8fb5dc"/><stop offset="0.556" stop-color="#93b4db"/><stop offset="0.572" stop-color="#8db4db"/><stop offset="0.645" stop-color="#759fcb"/><stop offset="0.701" stop-color="#5b87b8"/><stop offset="0.714" stop-color="#6490bf"/><stop offset="0.737" stop-color="#90b7de"/><stop offset="0.747" stop-color="#94b5dc"/><stop offset="0.76" stop-color="#9c7394"/><stop offset="0.77" stop-color="#a05a76"/><stop offset="0.783" stop-color="#a24d67"/><stop offset="0.803" stop-color="#a05975"/><stop offset="0.832" stop-color="#9d7091"/><stop offset="0.865" stop-color="#9796bd"/><stop offset="0.918" stop-color="#94aed6"/><stop offset="0.98" stop-color="#91b7de"/><stop offset="1" stop-color="#90b6dd"/></linearGradient><linearGradient id="h56" gradientUnits="userSpaceOnUse" x1="410" x2="562" y1="0" y2="0"><stop offset="0" stop-color="#8fb5dc"/><stop offset="0.072" stop-color="#89afd8"/><stop offset="0.092" stop-color="#8bb2da"/><stop offset="0.102" stop-color="#93b5dc"/><stop offset="0.115" stop-color="#94add4"/><stop offset="0.135" stop-color="#91b7de"/><stop offset="0.227" stop-color="#8ab1d9"/><stop offset="0.25" stop-color="#8bb2da"/><stop offset="0.26" stop-color="#93b5dc"/><stop offset="0.273" stop-color="#94add4"/><stop offset="0.293" stop-color="#91b7de"/><stop offset="0.375" stop-color="#89b0d8"/><stop offset="0.388" stop-color="#92b6dd"/><stop offset="0.401" stop-color="#94add4"/><stop offset="0.421" stop-color="#91b7de"/><stop offset="0.51" stop-color="#89b0d8"/><stop offset="0.53" stop-color="#8ab0d8"/><stop offset="0.539" stop-color="#92b8df"/><stop offset="0.553" stop-color="#93b0d7"/><stop offset="0.566" stop-color="#91b7de"/><stop offset="0.645" stop-color="#759fcb"/><stop offset="0.701" stop-color="#5b87b8"/><stop offset="0.714" stop-color="#6490bf"/><stop offset="0.737" stop-color="#90b7de"/><stop offset="0.747" stop-color="#94b5dc"/><stop offset="0.76" stop-color="#9c7394"/><stop offset="0.77" stop-color="#a05a76"/><stop offset="0.783" stop-color="#a24e69"/><stop offset="0.829" stop-color="#9e6a8a"/><stop offset="0.862" stop-color="#9893ba"/><stop offset="0.901" stop-color="#94a9d1"/><stop offset="0.977" stop-color="#91b7de"/><stop offset="1" stop-color="#90b6dd"/></linearGradient><linearGradient id="h57" gradientUnits="userSpaceOnUse" x1="410" x2="562" y1="0" y2="0"><stop offset="0" stop-color="#8fb5dc"/><stop offset="0.069" stop-color="#89b0d8"/><stop offset="0.089" stop-color="#88afd8"/><stop offset="0.099" stop-color="#91b7de"/><stop offset="0.112" stop-color="#94aad2"/><stop offset="0.135" stop-color="#91b7de"/><stop offset="0.227" stop-color="#89b0d8"/><stop offset="0.247" stop-color="#88afd8"/><stop offset="0.257" stop-color="#91b7de"/><stop offset="0.27" stop-color="#94aad2"/><stop offset="0.293" stop-color="#91b7de"/><stop offset="0.362" stop-color="#87aed7"/><stop offset="0.382" stop-color="#8db3db"/><stop offset="0.388" stop-color="#92b5dc"/><stop offset="0.401" stop-color="#94aad2"/><stop offset="0.421" stop-color="#91b7de"/><stop offset="0.51" stop-color="#89b0d8"/><stop offset="0.53" stop-color="#89b0d8"/><stop offset="0.539" stop-color="#92b7de"/><stop offset="0.549" stop-color="#94add4"/><stop offset="0.569" stop-color="#90b6dd"/><stop offset="0.645" stop-color="#759fcb"/><stop offset="0.701" stop-color="#5b87b8"/><stop offset="0.714" stop-color="#6490bf"/><stop offset="0.737" stop-color="#90b7de"/><stop offset="0.747" stop-color="#94b5dc"/><stop offset="0.76" stop-color="#9c7394"/><stop offset="0.77" stop-color="#a05a77"/><stop offset="0.783" stop-color="#a2506a"/><stop offset="0.812" stop-color="#9f607e"/><stop offset="0.829" stop-color="#9e6887"/><stop offset="0.859" stop-color="#9890b6"/><stop offset="0.891" stop-color="#95a5cd"/><stop offset="0.97" stop-color="#91b7de"/><stop offset="1" stop-color="#90b6dd"/></linearGradient><linearGradient id="h58" gradientUnits="userSpaceOnUse" x1="410" x2="562" y1="0" y2="0"><stop offset="0" stop-color="#8fb5dc"/><stop offset="0.066" stop-color="#8ab1d9"/><stop offset="0.089" stop-color="#88afd7"/><stop offset="0.099" stop-color="#91b7de"/><stop offset="0.112" stop-color="#94a8cf"/><stop offset="0.135" stop-color="#91b7de"/><stop offset="0.224" stop-color="#8ab1d9"/><stop offset="0.247" stop-color="#88afd7"/><stop offset="0.257" stop-color="#91b7de"/><stop offset="0.27" stop-color="#94a8cf"/><stop offset="0.293" stop-color="#91b7de"/><stop offset="0.359" stop-color="#87aed7"/><stop offset="0.378" stop-color="#8ab0d8"/><stop offset="0.388" stop-color="#93b4db"/><stop offset="0.398" stop-color="#94a8d0"/><stop offset="0.424" stop-color="#91b7de"/><stop offset="0.507" stop-color="#8ab0d8"/><stop offset="0.526" stop-color="#86add6"/><stop offset="0.539" stop-color="#92b6dd"/><stop offset="0.549" stop-color="#94abd2"/><stop offset="0.569" stop-color="#90b6dd"/><stop offset="0.645" stop-color="#749eca"/><stop offset="0.674" stop-color="#6793c1"/><stop offset="0.704" stop-color="#5c88b9"/><stop offset="0.717" stop-color="#6a95c3"/><stop offset="0.737" stop-color="#90b7de"/><stop offset="0.747" stop-color="#94b5dc"/><stop offset="0.76" stop-color="#9c7394"/><stop offset="0.77" stop-color="#a05a77"/><stop offset="0.783" stop-color="#a2516b"/><stop offset="0.809" stop-color="#9f617f"/><stop offset="0.826" stop-color="#9f6280"/><stop offset="0.859" stop-color="#9890b6"/><stop offset="0.891" stop-color="#95a5cd"/><stop offset="0.97" stop-color="#91b7de"/><stop offset="1" stop-color="#90b6dd"/></linearGradient><linearGradient id="h59" gradientUnits="userSpaceOnUse" x1="410" x2="562" y1="0" y2="0"><stop offset="0" stop-color="#8fb5dc"/><stop offset="0.066" stop-color="#89b0d8"/><stop offset="0.086" stop-color="#85acd5"/><stop offset="0.099" stop-color="#92b8df"/><stop offset="0.112" stop-color="#95a5cd"/><stop offset="0.135" stop-color="#91b7de"/><stop offset="0.224" stop-color="#89b0d8"/><stop offset="0.243" stop-color="#85acd5"/><stop offset="0.257" stop-color="#92b8df"/><stop offset="0.27" stop-color="#95a5cd"/><stop offset="0.293" stop-color="#91b7de"/><stop offset="0.355" stop-color="#88afd8"/><stop offset="0.375" stop-color="#86aed6"/><stop offset="0.385" stop-color="#91b7de"/><stop offset="0.398" stop-color="#95a6cd"/><stop offset="0.424" stop-color="#91b7de"/><stop offset="0.507" stop-color="#89b0d8"/><stop offset="0.526" stop-color="#85add5"/><stop offset="0.539" stop-color="#92b5dc"/><stop offset="0.549" stop-color="#94a8d0"/><stop offset="0.569" stop-color="#90b6dd"/><stop offset="0.645" stop-color="#749eca"/><stop offset="0.668" stop-color="#6893c2"/><stop offset="0.704" stop-color="#5c88b9"/><stop offset="0.717" stop-color="#6a95c3"/><stop offset="0.737" stop-color="#90b7de"/><stop offset="0.747" stop-color="#94b5dc"/><stop offset="0.76" stop-color="#9c7394"/><stop offset="0.77" stop-color="#a05b77"/><stop offset="0.78" stop-color="#a1516c"/><stop offset="0.806" stop-color="#9f6382"/><stop offset="0.826" stop-color="#9f607d"/><stop offset="0.859" stop-color="#9890b6"/><stop offset="0.891" stop-color="#95a5cd"/><stop offset="0.97" stop-color="#91b7de"/><stop offset="1" stop-color="#90b6dd"/></linearGradient><linearGradient id="h60" gradientUnits="userSpaceOnUse" x1="410" x2="562" y1="0" y2="0"><stop offset="0" stop-color="#8fb5dc"/><stop offset="0.066" stop-color="#89b0d8"/><stop offset="0.086" stop-color="#84acd5"/><stop offset="0.099" stop-color="#92b8df"/><stop offset="0.109" stop-color="#95a5cc"/><stop offset="0.122" stop-color="#94abd2"/><stop offset="0.135" stop-color="#92b8df"/><stop offset="0.224" stop-color="#89b0d8"/><stop offset="0.243" stop-color="#84acd5"/><stop offset="0.257" stop-color="#92b8df"/><stop offset="0.266" stop-color="#95a5cc"/><stop offset="0.28" stop-color="#94abd2"/><stop offset="0.293" stop-color="#92b8df"/><stop offset="0.355" stop-color="#88afd7"/><stop offset="0.375" stop-color="#86add6"/><stop offset="0.385" stop-color="#91b7de"/><stop offset="0.398" stop-color="#95a3cb"/><stop offset="0.424" stop-color="#91b7de"/><stop offset="0.503" stop-color="#8ab1d9"/><stop offset="0.526" stop-color="#84acd5"/><stop offset="0.539" stop-color="#93b4db"/><stop offset="0.549" stop-color="#95a6ce"/><stop offset="0.569" stop-color="#91b7de"/><stop offset="0.645" stop-color="#749eca"/><stop offset="0.668" stop-color="#6893c2"/><stop offset="0.688" stop-color="#628dbd"/><stop offset="0.707" stop-color="#5d89ba"/><stop offset="0.724" stop-color="#78a1cd"/><stop offset="0.737" stop-color="#90b7de"/><stop offset="0.747" stop-color="#94b5dc"/><stop offset="0.76" stop-color="#9c7394"/><stop offset="0.77" stop-color="#a05b77"/><stop offset="0.78" stop-color="#a1526d"/><stop offset="0.806" stop-color="#9e6684"/><stop offset="0.822" stop-color="#a05c79"/><stop offset="0.836" stop-color="#9e6b8b"/><stop offset="0.859" stop-color="#9890b6"/><stop offset="0.891" stop-color="#95a5cd"/><stop offset="0.97" stop-color="#91b7de"/><stop offset="1" stop-color="#90b6dd"/></linearGradient><linearGradient id="h61" gradientUnits="userSpaceOnUse" x1="410" x2="562" y1="0" y2="0"><stop offset="0" stop-color="#8fb5dc"/><stop offset="0.062" stop-color="#8ab1d9"/><stop offset="0.086" stop-color="#83abd4"/><stop offset="0.099" stop-color="#92b7de"/><stop offset="0.109" stop-color="#95a3ca"/><stop offset="0.122" stop-color="#94a9d0"/><stop offset="0.135" stop-color="#92b8df"/><stop offset="0.22" stop-color="#8ab1d9"/><stop offset="0.243" stop-color="#83abd4"/><stop offset="0.257" stop-color="#92b7de"/><stop offset="0.266" stop-color="#95a3ca"/><stop offset="0.28" stop-color="#94a9d0"/><stop offset="0.293" stop-color="#92b8df"/><stop offset="0.355" stop-color="#87aed7"/><stop offset="0.375" stop-color="#85acd5"/><stop offset="0.385" stop-color="#91b7de"/><stop offset="0.398" stop-color="#96a1c9"/><stop offset="0.424" stop-color="#91b7de"/><stop offset="0.503" stop-color="#8ab1d9"/><stop offset="0.523" stop-color="#82aad3"/><stop offset="0.536" stop-color="#90b6dd"/><stop offset="0.549" stop-color="#95a4cc"/><stop offset="0.569" stop-color="#91b7de"/><stop offset="0.641" stop-color="#76a0cb"/><stop offset="0.664" stop-color="#6893c1"/><stop offset="0.684" stop-color="#6691c0"/><stop offset="0.704" stop-color="#5c88b9"/><stop offset="0.717" stop-color="#6a95c3"/><stop offset="0.737" stop-color="#90b7de"/><stop offset="0.747" stop-color="#94b5dc"/><stop offset="0.76" stop-color="#9c7395"/><stop offset="0.77" stop-color="#a05b78"/><stop offset="0.78" stop-color="#a1536f"/><stop offset="0.806" stop-color="#9e6887"/><stop offset="0.822" stop-color="#a05976"/><stop offset="0.832" stop-color="#9f6381"/><stop offset="0.855" stop-color="#998cb2"/><stop offset="0.885" stop-color="#95a2ca"/><stop offset="0.964" stop-color="#92b8df"/><stop offset="1" stop-color="#90b6dd"/></linearGradient><linearGradient id="h62" gradientUnits="userSpaceOnUse" x1="410" x2="562" y1="0" y2="0"><stop offset="0" stop-color="#8fb5dc"/><stop offset="0.062" stop-color="#8ab1d9"/><stop offset="0.086" stop-color="#82aad3"/><stop offset="0.099" stop-color="#92b7de"/><stop offset="0.109" stop-color="#96a0c8"/><stop offset="0.118" stop-color="#95a3cb"/><stop offset="0.135" stop-color="#92b8df"/><stop offset="0.22" stop-color="#8ab1d9"/><stop offset="0.243" stop-color="#82aad3"/><stop offset="0.257" stop-color="#92b7de"/><stop offset="0.266" stop-color="#96a0c8"/><stop offset="0.276" stop-color="#95a3cb"/><stop offset="0.293" stop-color="#92b8df"/><stop offset="0.352" stop-color="#89b0d8"/><stop offset="0.372" stop-color="#82aad3"/><stop offset="0.385" stop-color="#91b7de"/><stop offset="0.398" stop-color="#969fc7"/><stop offset="0.414" stop-color="#93afd7"/><stop offset="0.424" stop-color="#91b7de"/><stop offset="0.503" stop-color="#8ab0d8"/><stop offset="0.523" stop-color="#81a9d3"/><stop offset="0.536" stop-color="#90b6dd"/><stop offset="0.549" stop-color="#95a2c9"/><stop offset="0.569" stop-color="#91b7de"/><stop offset="0.641" stop-color="#769fcb"/><stop offset="0.661" stop-color="#6792c1"/><stop offset="0.681" stop-color="#6994c3"/><stop offset="0.701" stop-color="#5c88b9"/><stop offset="0.714" stop-color="#6490bf"/><stop offset="0.737" stop-color="#90b7de"/><stop offset="0.747" stop-color="#94b5dc"/><stop offset="0.76" stop-color="#9c7395"/><stop offset="0.77" stop-color="#a05b78"/><stop offset="0.78" stop-color="#a15570"/><stop offset="0.803" stop-color="#9e6b8b"/><stop offset="0.822" stop-color="#a15773"/><stop offset="0.832" stop-color="#9f607e"/><stop offset="0.855" stop-color="#998cb1"/><stop offset="0.885" stop-color="#95a2ca"/><stop offset="0.964" stop-color="#92b8df"/><stop offset="1" stop-color="#90b6dd"/></linearGradient><linearGradient id="h63" gradientUnits="userSpaceOnUse" x1="410" x2="562" y1="0" y2="0"><stop offset="0" stop-color="#8fb5dc"/><stop offset="0.062" stop-color="#8ab0d8"/><stop offset="0.086" stop-color="#81a9d3"/><stop offset="0.099" stop-color="#92b6dd"/><stop offset="0.109" stop-color="#969ec6"/><stop offset="0.118" stop-color="#96a1c9"/><stop offset="0.135" stop-color="#92b7de"/><stop offset="0.22" stop-color="#8ab0d8"/><stop offset="0.243" stop-color="#81a9d3"/><stop offset="0.257" stop-color="#92b6dd"/><stop offset="0.266" stop-color="#969ec6"/><stop offset="0.276" stop-color="#96a1c9"/><stop offset="0.293" stop-color="#92b7de"/><stop offset="0.352" stop-color="#88afd7"/><stop offset="0.372" stop-color="#81a9d2"/><stop offset="0.385" stop-color="#91b7de"/><stop offset="0.395" stop-color="#969fc7"/><stop offset="0.405" stop-color="#96a0c8"/><stop offset="0.424" stop-color="#91b7de"/><stop offset="0.503" stop-color="#89b0d8"/><stop offset="0.523" stop-color="#80a8d2"/><stop offset="0.536" stop-color="#90b6dd"/><stop offset="0.549" stop-color="#969fc7"/><stop offset="0.569" stop-color="#92b8df"/><stop offset="0.641" stop-color="#759fcb"/><stop offset="0.661" stop-color="#6692c0"/><stop offset="0.681" stop-color="#6b96c4"/><stop offset="0.701" stop-color="#5c88b9"/><stop offset="0.714" stop-color="#6490bf"/><stop offset="0.737" stop-color="#90b7de"/><stop offset="0.747" stop-color="#94b5dc"/><stop offset="0.76" stop-color="#9c7395"/><stop offset="0.77" stop-color="#a05c78"/><stop offset="0.78" stop-color="#a15671"/><stop offset="0.803" stop-color="#9d6f8f"/><stop offset="0.822" stop-color="#a1546f"/><stop offset="0.832" stop-color="#a05d7a"/><stop offset="0.852" stop-color="#9987ac"/><stop offset="0.878" stop-color="#969fc7"/><stop offset="0.964" stop-color="#92b8df"/><stop offset="1" stop-color="#90b6dd"/></linearGradient><linearGradient id="h64" gradientUnits="userSpaceOnUse" x1="410" x2="562" y1="0" y2="0"><stop offset="0" stop-color="#8fb5dc"/><stop offset="0.062" stop-color="#89b0d8"/><stop offset="0.082" stop-color="#7fa7d1"/><stop offset="0.099" stop-color="#92b6dd"/><stop offset="0.109" stop-color="#969cc3"/><stop offset="0.115" stop-color="#979bc2"/><stop offset="0.135" stop-color="#92b7de"/><stop offset="0.22" stop-color="#89b0d8"/><stop offset="0.24" stop-color="#7fa7d1"/><stop offset="0.257" stop-color="#92b6dd"/><stop offset="0.266" stop-color="#969cc3"/><stop offset="0.273" stop-color="#979bc2"/><stop offset="0.293" stop-color="#92b7de"/><stop offset="0.352" stop-color="#88afd7"/><stop offset="0.372" stop-color="#80a8d2"/><stop offset="0.385" stop-color="#91b7de"/><stop offset="0.395" stop-color="#969dc5"/><stop offset="0.401" stop-color="#979ac1"/><stop offset="0.424" stop-color="#92b8df"/><stop offset="0.503" stop-color="#89b0d8"/><stop offset="0.523" stop-color="#7fa7d1"/><stop offset="0.536" stop-color="#90b6dd"/><stop offset="0.549" stop-color="#969dc5"/><stop offset="0.562" stop-color="#94add5"/><stop offset="0.569" stop-color="#92b8df"/><stop offset="0.641" stop-color="#749eca"/><stop offset="0.661" stop-color="#6490bf"/><stop offset="0.681" stop-color="#6a95c3"/><stop offset="0.701" stop-color="#5a87b8"/><stop offset="0.714" stop-color="#628ebe"/><stop offset="0.737" stop-color="#90b7de"/><stop offset="0.747" stop-color="#94b5dc"/><stop offset="0.76" stop-color="#9d7091"/><stop offset="0.77" stop-color="#a15874"/><stop offset="0.78" stop-color="#a1526d"/><stop offset="0.799" stop-color="#9d6d8d"/><stop offset="0.806" stop-color="#9e6c8c"/><stop offset="0.822" stop-color="#a24e68"/><stop offset="0.832" stop-color="#a15772"/><stop offset="0.852" stop-color="#9a84a8"/><stop offset="0.878" stop-color="#969ec6"/><stop offset="0.964" stop-color="#92b8df"/><stop offset="1" stop-color="#90b6dd"/></linearGradient><linearGradient id="h65" gradientUnits="userSpaceOnUse" x1="410" x2="562" y1="0" y2="0"><stop offset="0" stop-color="#8fb5dc"/><stop offset="0.062" stop-color="#89b0d8"/><stop offset="0.082" stop-color="#7ea6d1"/><stop offset="0.099" stop-color="#92b5dc"/><stop offset="0.109" stop-color="#9799c0"/><stop offset="0.115" stop-color="#9798bf"/><stop offset="0.135" stop-color="#92b7de"/><stop offset="0.22" stop-color="#89b0d8"/><stop offset="0.24" stop-color="#7ea6d1"/><stop offset="0.257" stop-color="#92b5dc"/><stop offset="0.266" stop-color="#9799c0"/><stop offset="0.273" stop-color="#9798bf"/><stop offset="0.293" stop-color="#92b7de"/><stop offset="0.352" stop-color="#87aed7"/><stop offset="0.372" stop-color="#7fa7d1"/><stop offset="0.385" stop-color="#91b7de"/><stop offset="0.395" stop-color="#969bc2"/><stop offset="0.401" stop-color="#9797be"/><stop offset="0.424" stop-color="#92b8df"/><stop offset="0.5" stop-color="#8bb1d9"/><stop offset="0.523" stop-color="#7ea6d1"/><stop offset="0.536" stop-color="#90b6dd"/><stop offset="0.549" stop-color="#979ac2"/><stop offset="0.562" stop-color="#94acd3"/><stop offset="0.569" stop-color="#92b8df"/><stop offset="0.641" stop-color="#749eca"/><stop offset="0.658" stop-color="#638fbe"/><stop offset="0.681" stop-color="#6c97c4"/><stop offset="0.701" stop-color="#5a87b8"/><stop offset="0.714" stop-color="#628ebe"/><stop offset="0.737" stop-color="#90b7de"/><stop offset="0.747" stop-color="#94b5dc"/><stop offset="0.76" stop-color="#9d7091"/><stop offset="0.77" stop-color="#a05874"/><stop offset="0.78" stop-color="#a1546f"/><stop offset="0.799" stop-color="#9d7192"/><stop offset="0.806" stop-color="#9d6f8f"/><stop offset="0.819" stop-color="#a24f69"/><stop offset="0.826" stop-color="#a34a64"/><stop offset="0.836" stop-color="#a05b78"/><stop offset="0.852" stop-color="#9a84a8"/><stop offset="0.878" stop-color="#969ec6"/><stop offset="0.964" stop-color="#92b8df"/><stop offset="1" stop-color="#90b6dd"/></linearGradient><linearGradient id="h66" gradientUnits="userSpaceOnUse" x1="410" x2="562" y1="0" y2="0"><stop offset="0" stop-color="#8fb5dc"/><stop offset="0.059" stop-color="#8bb1d9"/><stop offset="0.082" stop-color="#7da5d0"/><stop offset="0.099" stop-color="#92b5dc"/><stop offset="0.109" stop-color="#9796bd"/><stop offset="0.115" stop-color="#9795bc"/><stop offset="0.135" stop-color="#92b6dd"/><stop offset="0.217" stop-color="#8bb1d9"/><stop offset="0.24" stop-color="#7da5d0"/><stop offset="0.257" stop-color="#92b5dc"/><stop offset="0.266" stop-color="#9796bd"/><stop offset="0.273" stop-color="#9795bc"/><stop offset="0.293" stop-color="#92b6dd"/><stop offset="0.349" stop-color="#89b0d8"/><stop offset="0.372" stop-color="#7ea6d1"/><stop offset="0.385" stop-color="#92b8df"/><stop offset="0.395" stop-color="#9798bf"/><stop offset="0.401" stop-color="#9794bb"/><stop offset="0.424" stop-color="#92b8df"/><stop offset="0.5" stop-color="#8ab1d9"/><stop offset="0.523" stop-color="#7da5d0"/><stop offset="0.536" stop-color="#90b6dd"/><stop offset="0.549" stop-color="#9797be"/><stop offset="0.562" stop-color="#94abd2"/><stop offset="0.569" stop-color="#92b7de"/><stop offset="0.638" stop-color="#77a0cc"/><stop offset="0.658" stop-color="#628ebe"/><stop offset="0.678" stop-color="#6f9ac7"/><stop offset="0.701" stop-color="#5a87b8"/><stop offset="0.714" stop-color="#628ebe"/><stop offset="0.737" stop-color="#90b7de"/><stop offset="0.747" stop-color="#94b5dc"/><stop offset="0.76" stop-color="#9d7091"/><stop offset="0.77" stop-color="#a05874"/><stop offset="0.78" stop-color="#a15570"/><stop offset="0.799" stop-color="#9c7597"/><stop offset="0.806" stop-color="#9d7293"/><stop offset="0.819" stop-color="#a24d67"/><stop offset="0.826" stop-color="#a34760"/><stop offset="0.836" stop-color="#a05874"/><stop offset="0.852" stop-color="#9a83a7"/><stop offset="0.878" stop-color="#969ec6"/><stop offset="0.964" stop-color="#92b8df"/><stop offset="1" stop-color="#90b6dd"/></linearGradient><linearGradient id="h67" gradientUnits="userSpaceOnUse" x1="410" x2="562" y1="0" y2="0"><stop offset="0" stop-color="#8fb5dc"/><stop offset="0.059" stop-color="#8ab1d9"/><stop offset="0.082" stop-color="#7ca5cf"/><stop offset="0.099" stop-color="#93b4db"/><stop offset="0.109" stop-color="#9894ba"/><stop offset="0.115" stop-color="#9893b9"/><stop offset="0.135" stop-color="#92b6dd"/><stop offset="0.217" stop-color="#8ab1d9"/><stop offset="0.24" stop-color="#7ca5cf"/><stop offset="0.257" stop-color="#93b4db"/><stop offset="0.266" stop-color="#9894ba"/><stop offset="0.273" stop-color="#9893b9"/><stop offset="0.293" stop-color="#92b6dd"/><stop offset="0.349" stop-color="#89b0d8"/><stop offset="0.368" stop-color="#7ca4cf"/><stop offset="0.382" stop-color="#8bb2d9"/><stop offset="0.385" stop-color="#92b8df"/><stop offset="0.395" stop-color="#9796bc"/><stop offset="0.401" stop-color="#9892b8"/><stop offset="0.424" stop-color="#92b8df"/><stop offset="0.5" stop-color="#8ab1d9"/><stop offset="0.523" stop-color="#7ca5cf"/><stop offset="0.536" stop-color="#90b6dd"/><stop offset="0.546" stop-color="#9799c0"/><stop offset="0.553" stop-color="#9796bd"/><stop offset="0.569" stop-color="#92b7de"/><stop offset="0.638" stop-color="#759fcb"/><stop offset="0.658" stop-color="#608cbc"/><stop offset="0.678" stop-color="#6f9ac7"/><stop offset="0.701" stop-color="#5885b7"/><stop offset="0.714" stop-color="#618cbc"/><stop offset="0.737" stop-color="#90b7de"/><stop offset="0.747" stop-color="#94b5db"/><stop offset="0.76" stop-color="#9d6d8d"/><stop offset="0.77" stop-color="#a15570"/><stop offset="0.78" stop-color="#a1526c"/><stop offset="0.799" stop-color="#9c7597"/><stop offset="0.806" stop-color="#9d7192"/><stop offset="0.819" stop-color="#a34760"/><stop offset="0.826" stop-color="#a44057"/><stop offset="0.836" stop-color="#a1526d"/><stop offset="0.852" stop-color="#9a80a4"/><stop offset="0.875" stop-color="#979ac2"/><stop offset="0.947" stop-color="#93b5dc"/><stop offset="1" stop-color="#90b6dd"/></linearGradient><linearGradient id="h68" gradientUnits="userSpaceOnUse" x1="410" x2="562" y1="0" y2="0"><stop offset="0" stop-color="#8fb5dc"/><stop offset="0.059" stop-color="#8ab1d9"/><stop offset="0.082" stop-color="#7ba4ce"/><stop offset="0.099" stop-color="#93b4db"/><stop offset="0.109" stop-color="#9891b7"/><stop offset="0.115" stop-color="#9890b6"/><stop offset="0.135" stop-color="#92b5dc"/><stop offset="0.217" stop-color="#8ab1d9"/><stop offset="0.24" stop-color="#7ba4ce"/><stop offset="0.257" stop-color="#93b4db"/><stop offset="0.266" stop-color="#9891b7"/><stop offset="0.273" stop-color="#9890b6"/><stop offset="0.293" stop-color="#92b5dc"/><stop offset="0.349" stop-color="#88afd8"/><stop offset="0.368" stop-color="#7ba4ce"/><stop offset="0.382" stop-color="#8bb1d9"/><stop offset="0.385" stop-color="#92b8df"/><stop offset="0.395" stop-color="#9893b9"/><stop offset="0.401" stop-color="#988fb5"/><stop offset="0.424" stop-color="#92b8df"/><stop offset="0.5" stop-color="#8ab1d8"/><stop offset="0.523" stop-color="#7ba4cf"/><stop offset="0.536" stop-color="#90b6dd"/><stop offset="0.546" stop-color="#9796bd"/><stop offset="0.553" stop-color="#9893ba"/><stop offset="0.569" stop-color="#92b6dd"/><stop offset="0.638" stop-color="#759fcb"/><stop offset="0.658" stop-color="#5f8bbb"/><stop offset="0.678" stop-color="#719bc8"/><stop offset="0.701" stop-color="#5985b7"/><stop offset="0.714" stop-color="#618cbc"/><stop offset="0.737" stop-color="#90b7de"/><stop offset="0.747" stop-color="#94b5db"/><stop offset="0.76" stop-color="#9d6d8d"/><stop offset="0.77" stop-color="#a15570"/><stop offset="0.78" stop-color="#a1536e"/><stop offset="0.796" stop-color="#9c7698"/><stop offset="0.803" stop-color="#9b7a9c"/><stop offset="0.809" stop-color="#9e6989"/><stop offset="0.819" stop-color="#a3445d"/><stop offset="0.826" stop-color="#a53c53"/><stop offset="0.832" stop-color="#a3455e"/><stop offset="0.852" stop-color="#9b80a3"/><stop offset="0.875" stop-color="#979ac2"/><stop offset="0.947" stop-color="#93b5dc"/><stop offset="1" stop-color="#90b6dd"/></linearGradient><linearGradient id="h69" gradientUnits="userSpaceOnUse" x1="410" x2="562" y1="0" y2="0"><stop offset="0" stop-color="#8fb5dc"/><stop offset="0.059" stop-color="#8ab0d8"/><stop offset="0.082" stop-color="#79a2cd"/><stop offset="0.095" stop-color="#8db3da"/><stop offset="0.099" stop-color="#93b3da"/><stop offset="0.109" stop-color="#998cb1"/><stop offset="0.115" stop-color="#998aaf"/><stop offset="0.132" stop-color="#93afd7"/><stop offset="0.141" stop-color="#91b7de"/><stop offset="0.217" stop-color="#8ab0d8"/><stop offset="0.24" stop-color="#79a2cd"/><stop offset="0.253" stop-color="#8db3da"/><stop offset="0.257" stop-color="#93b3da"/><stop offset="0.266" stop-color="#998cb1"/><stop offset="0.273" stop-color="#998aaf"/><stop offset="0.289" stop-color="#93afd7"/><stop offset="0.299" stop-color="#91b7de"/><stop offset="0.349" stop-color="#88afd7"/><stop offset="0.368" stop-color="#78a2cd"/><stop offset="0.382" stop-color="#8ab1d9"/><stop offset="0.385" stop-color="#92b8df"/><stop offset="0.395" stop-color="#988eb4"/><stop offset="0.401" stop-color="#9989ae"/><stop offset="0.421" stop-color="#93b3da"/><stop offset="0.461" stop-color="#8fb5dc"/><stop offset="0.5" stop-color="#89b0d8"/><stop offset="0.52" stop-color="#78a2cd"/><stop offset="0.53" stop-color="#81a9d3"/><stop offset="0.536" stop-color="#91b7de"/><stop offset="0.546" stop-color="#9891b7"/><stop offset="0.553" stop-color="#988eb4"/><stop offset="0.569" stop-color="#93b5dc"/><stop offset="0.635" stop-color="#77a0cc"/><stop offset="0.658" stop-color="#5b88b9"/><stop offset="0.668" stop-color="#6590bf"/><stop offset="0.678" stop-color="#739dc9"/><stop offset="0.701" stop-color="#5784b6"/><stop offset="0.714" stop-color="#5f8bbb"/><stop offset="0.737" stop-color="#90b7de"/><stop offset="0.747" stop-color="#94b4db"/><stop offset="0.76" stop-color="#9e6a8a"/><stop offset="0.77" stop-color="#a1526c"/><stop offset="0.78" stop-color="#a1526c"/><stop offset="0.796" stop-color="#9b7c9e"/><stop offset="0.803" stop-color="#9b7ea2"/><stop offset="0.809" stop-color="#9e6989"/><stop offset="0.819" stop-color="#a53c53"/><stop offset="0.826" stop-color="#a63046"/><stop offset="0.832" stop-color="#a53a51"/><stop offset="0.852" stop-color="#9b7c9f"/><stop offset="0.872" stop-color="#9796bd"/><stop offset="0.928" stop-color="#93b0d7"/><stop offset="0.99" stop-color="#91b7de"/><stop offset="1" stop-color="#90b6dd"/></linearGradient><linearGradient id="h70" gradientUnits="userSpaceOnUse" x1="410" x2="562" y1="0" y2="0"><stop offset="0" stop-color="#8fb5dc"/><stop offset="0.059" stop-color="#89b0d8"/><stop offset="0.082" stop-color="#78a1cc"/><stop offset="0.095" stop-color="#8db3da"/><stop offset="0.099" stop-color="#93b2d9"/><stop offset="0.109" stop-color="#9989ae"/><stop offset="0.115" stop-color="#9988ac"/><stop offset="0.132" stop-color="#93aed6"/><stop offset="0.141" stop-color="#91b7de"/><stop offset="0.217" stop-color="#89b0d8"/><stop offset="0.24" stop-color="#78a1cc"/><stop offset="0.253" stop-color="#8db3da"/><stop offset="0.257" stop-color="#93b2d9"/><stop offset="0.266" stop-color="#9989ae"/><stop offset="0.273" stop-color="#9988ac"/><stop offset="0.289" stop-color="#93aed6"/><stop offset="0.299" stop-color="#91b7de"/><stop offset="0.349" stop-color="#87afd7"/><stop offset="0.368" stop-color="#77a1cc"/><stop offset="0.378" stop-color="#83abd4"/><stop offset="0.385" stop-color="#92b7de"/><stop offset="0.395" stop-color="#998bb1"/><stop offset="0.401" stop-color="#9a87ab"/><stop offset="0.421" stop-color="#93b2da"/><stop offset="0.441" stop-color="#8fb5dc"/><stop offset="0.5" stop-color="#89b0d8"/><stop offset="0.52" stop-color="#77a1cc"/><stop offset="0.53" stop-color="#81a9d2"/><stop offset="0.536" stop-color="#91b7de"/><stop offset="0.546" stop-color="#988fb4"/><stop offset="0.553" stop-color="#998bb0"/><stop offset="0.569" stop-color="#93b4db"/><stop offset="0.635" stop-color="#77a0cc"/><stop offset="0.658" stop-color="#5a86b8"/><stop offset="0.668" stop-color="#6590bf"/><stop offset="0.678" stop-color="#759fcb"/><stop offset="0.701" stop-color="#5784b6"/><stop offset="0.714" stop-color="#5f8bbb"/><stop offset="0.737" stop-color="#90b7de"/><stop offset="0.747" stop-color="#94b4db"/><stop offset="0.76" stop-color="#9e6a8a"/><stop offset="0.77" stop-color="#a1526d"/><stop offset="0.78" stop-color="#a1536e"/><stop offset="0.796" stop-color="#9a81a5"/><stop offset="0.803" stop-color="#9a83a7"/><stop offset="0.806" stop-color="#9b7b9e"/><stop offset="0.819" stop-color="#a53950"/><stop offset="0.826" stop-color="#a72c40"/><stop offset="0.832" stop-color="#a6364c"/><stop offset="0.852" stop-color="#9b7b9e"/><stop offset="0.872" stop-color="#9796bd"/><stop offset="0.928" stop-color="#93b0d7"/><stop offset="0.99" stop-color="#91b7de"/><stop offset="1" stop-color="#90b6dd"/></linearGradient><linearGradient id="h71" gradientUnits="userSpaceOnUse" x1="410" x2="562" y1="0" y2="0"><stop offset="0" stop-color="#8fb5dc"/><stop offset="0.059" stop-color="#89b0d8"/><stop offset="0.082" stop-color="#77a0cc"/><stop offset="0.095" stop-color="#8cb3da"/><stop offset="0.099" stop-color="#93b2d9"/><stop offset="0.105" stop-color="#9891b7"/><stop offset="0.112" stop-color="#9a83a7"/><stop offset="0.118" stop-color="#998cb1"/><stop offset="0.132" stop-color="#94aed5"/><stop offset="0.141" stop-color="#91b7de"/><stop offset="0.217" stop-color="#89b0d8"/><stop offset="0.24" stop-color="#77a0cc"/><stop offset="0.253" stop-color="#8cb3da"/><stop offset="0.257" stop-color="#93b2d9"/><stop offset="0.263" stop-color="#9891b7"/><stop offset="0.27" stop-color="#9a83a7"/><stop offset="0.276" stop-color="#998cb1"/><stop offset="0.289" stop-color="#94aed5"/><stop offset="0.299" stop-color="#91b7de"/><stop offset="0.349" stop-color="#87aed7"/><stop offset="0.368" stop-color="#76a0cc"/><stop offset="0.378" stop-color="#82aad3"/><stop offset="0.385" stop-color="#92b7de"/><stop offset="0.395" stop-color="#9989ae"/><stop offset="0.401" stop-color="#9a84a8"/><stop offset="0.421" stop-color="#93b2d9"/><stop offset="0.434" stop-color="#90b6dd"/><stop offset="0.497" stop-color="#8bb2d9"/><stop offset="0.52" stop-color="#76a0cb"/><stop offset="0.53" stop-color="#80a8d2"/><stop offset="0.536" stop-color="#91b7de"/><stop offset="0.546" stop-color="#998cb1"/><stop offset="0.553" stop-color="#9988ad"/><stop offset="0.569" stop-color="#93b3db"/><stop offset="0.579" stop-color="#8cb3da"/><stop offset="0.635" stop-color="#76a0cc"/><stop offset="0.655" stop-color="#5986b7"/><stop offset="0.664" stop-color="#5f8bbb"/><stop offset="0.678" stop-color="#77a0cc"/><stop offset="0.691" stop-color="#638fbe"/><stop offset="0.704" stop-color="#5784b6"/><stop offset="0.714" stop-color="#5f8bbb"/><stop offset="0.737" stop-color="#90b7de"/><stop offset="0.747" stop-color="#94b4db"/><stop offset="0.76" stop-color="#9e6a8a"/><stop offset="0.77" stop-color="#a1526d"/><stop offset="0.78" stop-color="#a15571"/><stop offset="0.796" stop-color="#9a86ab"/><stop offset="0.803" stop-color="#9988ad"/><stop offset="0.806" stop-color="#9b7fa2"/><stop offset="0.819" stop-color="#a6364d"/><stop offset="0.826" stop-color="#a8273b"/><stop offset="0.832" stop-color="#a63247"/><stop offset="0.849" stop-color="#9d7192"/><stop offset="0.862" stop-color="#998cb1"/><stop offset="0.891" stop-color="#95a2ca"/><stop offset="0.97" stop-color="#92b8df"/><stop offset="1" stop-color="#90b6dd"/></linearGradient><linearGradient id="h72" gradientUnits="userSpaceOnUse" x1="410" x2="562" y1="0" y2="0"><stop offset="0" stop-color="#8fb5dc"/><stop offset="0.056" stop-color="#8bb2d9"/><stop offset="0.082" stop-color="#769fcb"/><stop offset="0.092" stop-color="#84acd5"/><stop offset="0.095" stop-color="#8cb3da"/><stop offset="0.099" stop-color="#93b1d8"/><stop offset="0.105" stop-color="#988fb4"/><stop offset="0.112" stop-color="#9a80a4"/><stop offset="0.118" stop-color="#9989ae"/><stop offset="0.128" stop-color="#95a6ce"/><stop offset="0.138" stop-color="#92b7de"/><stop offset="0.217" stop-color="#89b0d8"/><stop offset="0.24" stop-color="#769fcb"/><stop offset="0.25" stop-color="#84acd5"/><stop offset="0.253" stop-color="#8cb3da"/><stop offset="0.257" stop-color="#93b1d8"/><stop offset="0.263" stop-color="#988fb4"/><stop offset="0.27" stop-color="#9a80a4"/><stop offset="0.276" stop-color="#9989ae"/><stop offset="0.286" stop-color="#95a6ce"/><stop offset="0.296" stop-color="#92b7de"/><stop offset="0.345" stop-color="#89b0d8"/><stop offset="0.368" stop-color="#759fcb"/><stop offset="0.378" stop-color="#82aad3"/><stop offset="0.385" stop-color="#92b7de"/><stop offset="0.395" stop-color="#9a86ab"/><stop offset="0.401" stop-color="#9a81a5"/><stop offset="0.418" stop-color="#94abd3"/><stop offset="0.428" stop-color="#91b7de"/><stop offset="0.497" stop-color="#8bb1d9"/><stop offset="0.52" stop-color="#759fcb"/><stop offset="0.53" stop-color="#80a8d2"/><stop offset="0.536" stop-color="#91b7de"/><stop offset="0.546" stop-color="#9989ae"/><stop offset="0.553" stop-color="#9a86aa"/><stop offset="0.569" stop-color="#93b3da"/><stop offset="0.576" stop-color="#8fb5dc"/><stop offset="0.635" stop-color="#76a0cc"/><stop offset="0.655" stop-color="#5885b6"/><stop offset="0.664" stop-color="#5e8abb"/><stop offset="0.674" stop-color="#76a0cc"/><stop offset="0.684" stop-color="#739dc9"/><stop offset="0.697" stop-color="#5a86b8"/><stop offset="0.711" stop-color="#5a87b8"/><stop offset="0.737" stop-color="#90b7de"/><stop offset="0.747" stop-color="#94b4db"/><stop offset="0.76" stop-color="#9e6a8a"/><stop offset="0.77" stop-color="#a1536e"/><stop offset="0.776" stop-color="#a1526d"/><stop offset="0.783" stop-color="#9f607d"/><stop offset="0.796" stop-color="#998cb1"/><stop offset="0.803" stop-color="#988db3"/><stop offset="0.806" stop-color="#9a83a7"/><stop offset="0.819" stop-color="#a63349"/><stop offset="0.826" stop-color="#a82336"/><stop offset="0.832" stop-color="#a72d42"/><stop offset="0.849" stop-color="#9d7091"/><stop offset="0.859" stop-color="#9987ac"/><stop offset="0.885" stop-color="#969fc7"/><stop offset="0.967" stop-color="#92b8df"/><stop offset="1" stop-color="#90b6dd"/></linearGradient><linearGradient id="h73" gradientUnits="userSpaceOnUse" x1="410" x2="562" y1="0" y2="0"><stop offset="0" stop-color="#8fb5dc"/><stop offset="0.056" stop-color="#8bb1d9"/><stop offset="0.082" stop-color="#759fca"/><stop offset="0.092" stop-color="#84abd4"/><stop offset="0.095" stop-color="#8cb3da"/><stop offset="0.099" stop-color="#93b0d8"/><stop offset="0.105" stop-color="#998cb2"/><stop offset="0.109" stop-color="#9a81a5"/><stop offset="0.115" stop-color="#9b80a3"/><stop offset="0.132" stop-color="#94acd4"/><stop offset="0.141" stop-color="#91b7de"/><stop offset="0.214" stop-color="#8bb1d9"/><stop offset="0.24" stop-color="#759fca"/><stop offset="0.25" stop-color="#84abd4"/><stop offset="0.253" stop-color="#8cb3da"/><stop offset="0.257" stop-color="#93b0d8"/><stop offset="0.263" stop-color="#998cb2"/><stop offset="0.266" stop-color="#9a81a5"/><stop offset="0.273" stop-color="#9b80a3"/><stop offset="0.289" stop-color="#94acd4"/><stop offset="0.299" stop-color="#91b7de"/><stop offset="0.345" stop-color="#89b0d8"/><stop offset="0.368" stop-color="#749eca"/><stop offset="0.378" stop-color="#81a9d3"/><stop offset="0.385" stop-color="#92b6dd"/><stop offset="0.395" stop-color="#9a84a8"/><stop offset="0.401" stop-color="#9b7ea2"/><stop offset="0.418" stop-color="#94aad2"/><stop offset="0.428" stop-color="#92b8df"/><stop offset="0.497" stop-color="#8bb1d9"/><stop offset="0.52" stop-color="#749eca"/><stop offset="0.53" stop-color="#7fa7d1"/><stop offset="0.536" stop-color="#91b7de"/><stop offset="0.546" stop-color="#9987ab"/><stop offset="0.549" stop-color="#9a81a5"/><stop offset="0.556" stop-color="#998aaf"/><stop offset="0.569" stop-color="#93b2d9"/><stop offset="0.572" stop-color="#92b8df"/><stop offset="0.635" stop-color="#76a0cb"/><stop offset="0.655" stop-color="#5683b5"/><stop offset="0.664" stop-color="#5e8aba"/><stop offset="0.674" stop-color="#78a1cd"/><stop offset="0.684" stop-color="#759fcb"/><stop offset="0.697" stop-color="#5a87b8"/><stop offset="0.711" stop-color="#5a87b8"/><stop offset="0.737" stop-color="#90b7de"/><stop offset="0.747" stop-color="#94b4db"/><stop offset="0.76" stop-color="#9e6a8a"/><stop offset="0.77" stop-color="#a1536e"/><stop offset="0.776" stop-color="#a1536e"/><stop offset="0.783" stop-color="#9f6281"/><stop offset="0.796" stop-color="#9892b8"/><stop offset="0.803" stop-color="#9893b9"/><stop offset="0.806" stop-color="#9987ac"/><stop offset="0.819" stop-color="#a63046"/><stop offset="0.822" stop-color="#a82337"/><stop offset="0.826" stop-color="#a71e30"/><stop offset="0.832" stop-color="#a8283d"/><stop offset="0.849" stop-color="#9d6f8f"/><stop offset="0.859" stop-color="#9987ab"/><stop offset="0.885" stop-color="#969fc7"/><stop offset="0.967" stop-color="#92b8df"/><stop offset="1" stop-color="#90b6dd"/></linearGradient><linearGradient id="h74" gradientUnits="userSpaceOnUse" x1="410" x2="562" y1="0" y2="0"><stop offset="0" stop-color="#8fb5dc"/><stop offset="0.056" stop-color="#8bb1d9"/><stop offset="0.082" stop-color="#749eca"/><stop offset="0.092" stop-color="#83abd4"/><stop offset="0.095" stop-color="#8cb3da"/><stop offset="0.099" stop-color="#93b0d7"/><stop offset="0.105" stop-color="#998aaf"/><stop offset="0.109" stop-color="#9b7fa2"/><stop offset="0.115" stop-color="#9b7da0"/><stop offset="0.132" stop-color="#94acd3"/><stop offset="0.141" stop-color="#91b7de"/><stop offset="0.214" stop-color="#8bb1d9"/><stop offset="0.24" stop-color="#749eca"/><stop offset="0.25" stop-color="#83abd4"/><stop offset="0.253" stop-color="#8cb3da"/><stop offset="0.257" stop-color="#93b0d7"/><stop offset="0.263" stop-color="#998aaf"/><stop offset="0.266" stop-color="#9b7fa2"/><stop offset="0.273" stop-color="#9b7da0"/><stop offset="0.289" stop-color="#94acd3"/><stop offset="0.299" stop-color="#91b7de"/><stop offset="0.345" stop-color="#89b0d8"/><stop offset="0.368" stop-color="#739dc9"/><stop offset="0.378" stop-color="#81a9d2"/><stop offset="0.385" stop-color="#92b6dd"/><stop offset="0.395" stop-color="#9a81a5"/><stop offset="0.401" stop-color="#9b7c9e"/><stop offset="0.418" stop-color="#94aad1"/><stop offset="0.428" stop-color="#92b8df"/><stop offset="0.497" stop-color="#8ab1d9"/><stop offset="0.52" stop-color="#739dc9"/><stop offset="0.53" stop-color="#7ea7d1"/><stop offset="0.536" stop-color="#91b7de"/><stop offset="0.546" stop-color="#9a84a9"/><stop offset="0.549" stop-color="#9b7fa2"/><stop offset="0.556" stop-color="#9988ad"/><stop offset="0.566" stop-color="#94a9d0"/><stop offset="0.572" stop-color="#92b8df"/><stop offset="0.635" stop-color="#759fcb"/><stop offset="0.655" stop-color="#5481b3"/><stop offset="0.664" stop-color="#5c88b9"/><stop offset="0.674" stop-color="#78a2cd"/><stop offset="0.681" stop-color="#7aa3ce"/><stop offset="0.697" stop-color="#5985b7"/><stop offset="0.711" stop-color="#5885b6"/><stop offset="0.737" stop-color="#90b7de"/><stop offset="0.743" stop-color="#93b9e0"/><stop offset="0.747" stop-color="#94b4db"/><stop offset="0.76" stop-color="#9e6786"/><stop offset="0.77" stop-color="#a2506a"/><stop offset="0.776" stop-color="#a2506b"/><stop offset="0.783" stop-color="#9f607e"/><stop offset="0.793" stop-color="#998aaf"/><stop offset="0.799" stop-color="#9797be"/><stop offset="0.803" stop-color="#9894ba"/><stop offset="0.806" stop-color="#9987ac"/><stop offset="0.819" stop-color="#a72a3e"/><stop offset="0.822" stop-color="#a71c2d"/><stop offset="0.826" stop-color="#a61626"/><stop offset="0.829" stop-color="#a71828"/><stop offset="0.836" stop-color="#a72e43"/><stop offset="0.849" stop-color="#9e6b8b"/><stop offset="0.859" stop-color="#9a84a9"/><stop offset="0.885" stop-color="#969ec5"/><stop offset="0.967" stop-color="#92b8df"/><stop offset="1" stop-color="#90b6dd"/></linearGradient><linearGradient id="h75" gradientUnits="userSpaceOnUse" x1="410" x2="562" y1="0" y2="0"><stop offset="0" stop-color="#8fb5dc"/><stop offset="0.056" stop-color="#8ab1d9"/><stop offset="0.082" stop-color="#729dc9"/><stop offset="0.092" stop-color="#83aad4"/><stop offset="0.095" stop-color="#8cb2da"/><stop offset="0.099" stop-color="#93afd7"/><stop offset="0.105" stop-color="#9988ad"/><stop offset="0.109" stop-color="#9b7c9f"/><stop offset="0.115" stop-color="#9b7a9d"/><stop offset="0.132" stop-color="#94abd2"/><stop offset="0.141" stop-color="#91b7de"/><stop offset="0.214" stop-color="#8ab1d9"/><stop offset="0.24" stop-color="#729dc9"/><stop offset="0.25" stop-color="#83aad4"/><stop offset="0.253" stop-color="#8cb2da"/><stop offset="0.257" stop-color="#93afd7"/><stop offset="0.263" stop-color="#9988ad"/><stop offset="0.266" stop-color="#9b7c9f"/><stop offset="0.273" stop-color="#9b7a9d"/><stop offset="0.289" stop-color="#94abd2"/><stop offset="0.299" stop-color="#91b7de"/><stop offset="0.345" stop-color="#89b0d8"/><stop offset="0.368" stop-color="#729cc9"/><stop offset="0.378" stop-color="#80a8d2"/><stop offset="0.385" stop-color="#92b6dd"/><stop offset="0.391" stop-color="#998db2"/><stop offset="0.395" stop-color="#9b7fa2"/><stop offset="0.398" stop-color="#9c789a"/><stop offset="0.405" stop-color="#9b7fa3"/><stop offset="0.418" stop-color="#94a9d0"/><stop offset="0.428" stop-color="#92b8df"/><stop offset="0.497" stop-color="#8ab1d9"/><stop offset="0.52" stop-color="#729cc8"/><stop offset="0.53" stop-color="#7ea6d0"/><stop offset="0.536" stop-color="#91b7de"/><stop offset="0.546" stop-color="#9a82a6"/><stop offset="0.549" stop-color="#9b7c9f"/><stop offset="0.556" stop-color="#9a85aa"/><stop offset="0.566" stop-color="#94a8cf"/><stop offset="0.572" stop-color="#92b8df"/><stop offset="0.635" stop-color="#759fcb"/><stop offset="0.655" stop-color="#5380b2"/><stop offset="0.664" stop-color="#5b88b9"/><stop offset="0.674" stop-color="#7aa3ce"/><stop offset="0.681" stop-color="#7ca5cf"/><stop offset="0.697" stop-color="#5986b7"/><stop offset="0.711" stop-color="#5885b7"/><stop offset="0.737" stop-color="#90b7de"/><stop offset="0.743" stop-color="#93b9e0"/><stop offset="0.747" stop-color="#94b4db"/><stop offset="0.76" stop-color="#9e6786"/><stop offset="0.766" stop-color="#a15470"/><stop offset="0.773" stop-color="#a24f69"/><stop offset="0.78" stop-color="#a05874"/><stop offset="0.793" stop-color="#9890b6"/><stop offset="0.799" stop-color="#969ec6"/><stop offset="0.803" stop-color="#979ac1"/><stop offset="0.806" stop-color="#998bb1"/><stop offset="0.809" stop-color="#9c7496"/><stop offset="0.816" stop-color="#a53c54"/><stop offset="0.822" stop-color="#a61828"/><stop offset="0.826" stop-color="#a61120"/><stop offset="0.829" stop-color="#a61322"/><stop offset="0.836" stop-color="#a72a3e"/><stop offset="0.849" stop-color="#9e6a89"/><stop offset="0.859" stop-color="#9a84a8"/><stop offset="0.885" stop-color="#969ec5"/><stop offset="0.967" stop-color="#92b8df"/><stop offset="1" stop-color="#90b6dd"/></linearGradient><linearGradient id="h76" gradientUnits="userSpaceOnUse" x1="410" x2="562" y1="0" y2="0"><stop offset="0" stop-color="#8fb5dc"/><stop offset="0.056" stop-color="#8ab1d9"/><stop offset="0.082" stop-color="#719cc8"/><stop offset="0.092" stop-color="#82aad3"/><stop offset="0.095" stop-color="#8cb2da"/><stop offset="0.099" stop-color="#93afd6"/><stop offset="0.105" stop-color="#9a86aa"/><stop offset="0.109" stop-color="#9c799c"/><stop offset="0.112" stop-color="#9c7597"/><stop offset="0.118" stop-color="#9b7fa3"/><stop offset="0.132" stop-color="#94aad2"/><stop offset="0.141" stop-color="#91b7de"/><stop offset="0.214" stop-color="#8ab1d9"/><stop offset="0.24" stop-color="#719cc8"/><stop offset="0.25" stop-color="#82aad3"/><stop offset="0.253" stop-color="#8cb2da"/><stop offset="0.257" stop-color="#93afd6"/><stop offset="0.263" stop-color="#9a86aa"/><stop offset="0.266" stop-color="#9c799c"/><stop offset="0.27" stop-color="#9c7597"/><stop offset="0.276" stop-color="#9b7fa3"/><stop offset="0.289" stop-color="#94aad2"/><stop offset="0.299" stop-color="#91b7de"/><stop offset="0.345" stop-color="#89b0d8"/><stop offset="0.368" stop-color="#719bc8"/><stop offset="0.378" stop-color="#80a8d2"/><stop offset="0.385" stop-color="#92b5dd"/><stop offset="0.391" stop-color="#998bb0"/><stop offset="0.395" stop-color="#9b7c9f"/><stop offset="0.398" stop-color="#9c7597"/><stop offset="0.405" stop-color="#9b7da0"/><stop offset="0.418" stop-color="#94a8d0"/><stop offset="0.428" stop-color="#92b8df"/><stop offset="0.497" stop-color="#8ab1d9"/><stop offset="0.52" stop-color="#719bc8"/><stop offset="0.53" stop-color="#7da6d0"/><stop offset="0.536" stop-color="#91b7de"/><stop offset="0.546" stop-color="#9b7fa3"/><stop offset="0.549" stop-color="#9c799c"/><stop offset="0.556" stop-color="#9a83a7"/><stop offset="0.566" stop-color="#95a7cf"/><stop offset="0.572" stop-color="#92b8df"/><stop offset="0.635" stop-color="#749eca"/><stop offset="0.655" stop-color="#517eb1"/><stop offset="0.664" stop-color="#5986b7"/><stop offset="0.674" stop-color="#7aa3ce"/><stop offset="0.681" stop-color="#7da5d0"/><stop offset="0.697" stop-color="#5884b6"/><stop offset="0.711" stop-color="#5683b5"/><stop offset="0.737" stop-color="#91b7de"/><stop offset="0.743" stop-color="#93b9e0"/><stop offset="0.747" stop-color="#94b4db"/><stop offset="0.75" stop-color="#96a0c8"/><stop offset="0.757" stop-color="#9c7495"/><stop offset="0.763" stop-color="#a05975"/><stop offset="0.77" stop-color="#a24c66"/><stop offset="0.776" stop-color="#a24e68"/><stop offset="0.783" stop-color="#9f617f"/><stop offset="0.793" stop-color="#9891b7"/><stop offset="0.799" stop-color="#969fc7"/><stop offset="0.803" stop-color="#969bc3"/><stop offset="0.806" stop-color="#998cb1"/><stop offset="0.809" stop-color="#9d7394"/><stop offset="0.816" stop-color="#a5374e"/><stop offset="0.822" stop-color="#a6101e"/><stop offset="0.826" stop-color="#a50915"/><stop offset="0.829" stop-color="#a50b18"/><stop offset="0.836" stop-color="#a82336"/><stop offset="0.849" stop-color="#9e6685"/><stop offset="0.859" stop-color="#9a82a6"/><stop offset="0.882" stop-color="#979ac1"/><stop offset="0.954" stop-color="#92b5dc"/><stop offset="1" stop-color="#90b6dd"/></linearGradient><linearGradient id="h77" gradientUnits="userSpaceOnUse" x1="410" x2="562" y1="0" y2="0"><stop offset="0" stop-color="#8fb5dc"/><stop offset="0.056" stop-color="#8ab1d9"/><stop offset="0.082" stop-color="#709bc7"/><stop offset="0.092" stop-color="#82aad3"/><stop offset="0.095" stop-color="#8cb2da"/><stop offset="0.099" stop-color="#93aed6"/><stop offset="0.105" stop-color="#9a83a8"/><stop offset="0.109" stop-color="#9c7799"/><stop offset="0.112" stop-color="#9d7293"/><stop offset="0.118" stop-color="#9b7da0"/><stop offset="0.132" stop-color="#94aad1"/><stop offset="0.141" stop-color="#92b8df"/><stop offset="0.214" stop-color="#8ab1d9"/><stop offset="0.24" stop-color="#709bc7"/><stop offset="0.25" stop-color="#82aad3"/><stop offset="0.253" stop-color="#8cb2da"/><stop offset="0.257" stop-color="#93aed6"/><stop offset="0.263" stop-color="#9a83a8"/><stop offset="0.266" stop-color="#9c7799"/><stop offset="0.27" stop-color="#9d7293"/><stop offset="0.276" stop-color="#9b7da0"/><stop offset="0.289" stop-color="#94aad1"/><stop offset="0.299" stop-color="#92b8df"/><stop offset="0.345" stop-color="#88afd8"/><stop offset="0.368" stop-color="#709ac7"/><stop offset="0.378" stop-color="#7fa7d1"/><stop offset="0.385" stop-color="#92b5dc"/><stop offset="0.391" stop-color="#9989ae"/><stop offset="0.395" stop-color="#9b7a9c"/><stop offset="0.398" stop-color="#9d7394"/><stop offset="0.405" stop-color="#9b7a9d"/><stop offset="0.418" stop-color="#95a7cf"/><stop offset="0.428" stop-color="#92b8df"/><stop offset="0.497" stop-color="#8ab1d9"/><stop offset="0.52" stop-color="#6f9ac7"/><stop offset="0.53" stop-color="#7da5d0"/><stop offset="0.536" stop-color="#91b7de"/><stop offset="0.543" stop-color="#998cb2"/><stop offset="0.546" stop-color="#9b7da0"/><stop offset="0.549" stop-color="#9c7699"/><stop offset="0.556" stop-color="#9a81a4"/><stop offset="0.566" stop-color="#95a6ce"/><stop offset="0.572" stop-color="#92b7df"/><stop offset="0.635" stop-color="#749eca"/><stop offset="0.655" stop-color="#4f7db0"/><stop offset="0.664" stop-color="#5885b7"/><stop offset="0.674" stop-color="#7ca5cf"/><stop offset="0.681" stop-color="#7fa7d1"/><stop offset="0.697" stop-color="#5885b7"/><stop offset="0.711" stop-color="#5683b5"/><stop offset="0.737" stop-color="#91b7de"/><stop offset="0.743" stop-color="#93b9e0"/><stop offset="0.747" stop-color="#94b4db"/><stop offset="0.75" stop-color="#96a0c8"/><stop offset="0.757" stop-color="#9c7495"/><stop offset="0.763" stop-color="#a05975"/><stop offset="0.77" stop-color="#a24d67"/><stop offset="0.776" stop-color="#a2506a"/><stop offset="0.783" stop-color="#9f6483"/><stop offset="0.793" stop-color="#9797be"/><stop offset="0.799" stop-color="#95a5cc"/><stop offset="0.803" stop-color="#96a0c8"/><stop offset="0.806" stop-color="#9890b6"/><stop offset="0.809" stop-color="#9c7597"/><stop offset="0.816" stop-color="#a6354c"/><stop offset="0.819" stop-color="#a71d2e"/><stop offset="0.822" stop-color="#a50b18"/><stop offset="0.826" stop-color="#a4040f"/><stop offset="0.829" stop-color="#a50511"/><stop offset="0.836" stop-color="#a71e30"/><stop offset="0.849" stop-color="#9f6583"/><stop offset="0.859" stop-color="#9a82a5"/><stop offset="0.882" stop-color="#979ac1"/><stop offset="0.954" stop-color="#92b5dc"/><stop offset="1" stop-color="#90b6dd"/></linearGradient><linearGradient id="h78" gradientUnits="userSpaceOnUse" x1="410" x2="562" y1="0" y2="0"><stop offset="0" stop-color="#8fb5dc"/><stop offset="0.056" stop-color="#8ab1d9"/><stop offset="0.079" stop-color="#6f9ac7"/><stop offset="0.089" stop-color="#79a2cd"/><stop offset="0.095" stop-color="#8cb2da"/><stop offset="0.099" stop-color="#94aed5"/><stop offset="0.105" stop-color="#9a81a5"/><stop offset="0.109" stop-color="#9c7496"/><stop offset="0.112" stop-color="#9d6f90"/><stop offset="0.118" stop-color="#9b7b9d"/><stop offset="0.128" stop-color="#96a0c8"/><stop offset="0.138" stop-color="#92b5dc"/><stop offset="0.214" stop-color="#8ab1d9"/><stop offset="0.237" stop-color="#6f9ac7"/><stop offset="0.247" stop-color="#79a2cd"/><stop offset="0.253" stop-color="#8cb2da"/><stop offset="0.257" stop-color="#94aed5"/><stop offset="0.263" stop-color="#9a81a5"/><stop offset="0.266" stop-color="#9c7496"/><stop offset="0.27" stop-color="#9d6f90"/><stop offset="0.276" stop-color="#9b7b9d"/><stop offset="0.286" stop-color="#96a0c8"/><stop offset="0.296" stop-color="#92b5dc"/><stop offset="0.345" stop-color="#88afd7"/><stop offset="0.368" stop-color="#6f99c6"/><stop offset="0.378" stop-color="#7ea7d1"/><stop offset="0.385" stop-color="#92b5dc"/><stop offset="0.391" stop-color="#9987ab"/><stop offset="0.395" stop-color="#9c7799"/><stop offset="0.398" stop-color="#9d7091"/><stop offset="0.405" stop-color="#9c789a"/><stop offset="0.418" stop-color="#95a6ce"/><stop offset="0.428" stop-color="#92b8df"/><stop offset="0.497" stop-color="#8ab1d8"/><stop offset="0.52" stop-color="#6e99c6"/><stop offset="0.53" stop-color="#7ca5cf"/><stop offset="0.536" stop-color="#92b8df"/><stop offset="0.543" stop-color="#998aaf"/><stop offset="0.546" stop-color="#9b7a9d"/><stop offset="0.549" stop-color="#9c7495"/><stop offset="0.556" stop-color="#9b7ea2"/><stop offset="0.566" stop-color="#95a5cd"/><stop offset="0.572" stop-color="#92b7de"/><stop offset="0.635" stop-color="#739dc9"/><stop offset="0.655" stop-color="#4d7bae"/><stop offset="0.664" stop-color="#5683b5"/><stop offset="0.674" stop-color="#7ca5d0"/><stop offset="0.681" stop-color="#80a8d2"/><stop offset="0.697" stop-color="#5783b5"/><stop offset="0.711" stop-color="#5582b4"/><stop offset="0.737" stop-color="#91b7de"/><stop offset="0.743" stop-color="#93b9e0"/><stop offset="0.747" stop-color="#94b3da"/><stop offset="0.75" stop-color="#969fc7"/><stop offset="0.757" stop-color="#9d7192"/><stop offset="0.763" stop-color="#a15571"/><stop offset="0.77" stop-color="#a34963"/><stop offset="0.776" stop-color="#a24c66"/><stop offset="0.783" stop-color="#9f6381"/><stop offset="0.793" stop-color="#9798bf"/><stop offset="0.799" stop-color="#95a6ce"/><stop offset="0.803" stop-color="#95a2ca"/><stop offset="0.806" stop-color="#9891b7"/><stop offset="0.809" stop-color="#9c7496"/><stop offset="0.816" stop-color="#a73045"/><stop offset="0.819" stop-color="#a61625"/><stop offset="0.822" stop-color="#a4040e"/><stop offset="0.829" stop-color="#a4000a"/><stop offset="0.832" stop-color="#a50713"/><stop offset="0.842" stop-color="#a43e56"/><stop offset="0.852" stop-color="#9d6e8e"/><stop offset="0.862" stop-color="#9a85a9"/><stop offset="0.891" stop-color="#969fc7"/><stop offset="0.97" stop-color="#92b8df"/><stop offset="1" stop-color="#90b6dd"/></linearGradient><linearGradient id="h79" gradientUnits="userSpaceOnUse" x1="410" x2="562" y1="0" y2="0"><stop offset="0" stop-color="#8fb5dc"/><stop offset="0.056" stop-color="#8ab1d9"/><stop offset="0.079" stop-color="#6e99c6"/><stop offset="0.089" stop-color="#78a1cd"/><stop offset="0.095" stop-color="#8cb2da"/><stop offset="0.099" stop-color="#94add5"/><stop offset="0.105" stop-color="#9b7fa2"/><stop offset="0.109" stop-color="#9d7192"/><stop offset="0.112" stop-color="#9d6c8d"/><stop offset="0.118" stop-color="#9c789a"/><stop offset="0.128" stop-color="#969fc7"/><stop offset="0.138" stop-color="#92b5dc"/><stop offset="0.214" stop-color="#8ab1d9"/><stop offset="0.237" stop-color="#6e99c6"/><stop offset="0.247" stop-color="#78a1cd"/><stop offset="0.253" stop-color="#8cb2da"/><stop offset="0.257" stop-color="#94add5"/><stop offset="0.263" stop-color="#9b7fa2"/><stop offset="0.266" stop-color="#9d7192"/><stop offset="0.27" stop-color="#9d6c8d"/><stop offset="0.276" stop-color="#9c789a"/><stop offset="0.286" stop-color="#969fc7"/><stop offset="0.296" stop-color="#92b5dc"/><stop offset="0.345" stop-color="#88afd7"/><stop offset="0.368" stop-color="#6e98c6"/><stop offset="0.378" stop-color="#7ea6d1"/><stop offset="0.385" stop-color="#93b5dc"/><stop offset="0.391" stop-color="#9a85a9"/><stop offset="0.395" stop-color="#9c7596"/><stop offset="0.398" stop-color="#9d6d8d"/><stop offset="0.405" stop-color="#9c7597"/><stop offset="0.418" stop-color="#95a6cd"/><stop offset="0.428" stop-color="#92b8df"/><stop offset="0.497" stop-color="#8ab0d8"/><stop offset="0.52" stop-color="#6d98c5"/><stop offset="0.53" stop-color="#7ba4cf"/><stop offset="0.536" stop-color="#92b8df"/><stop offset="0.543" stop-color="#9988ad"/><stop offset="0.546" stop-color="#9c789a"/><stop offset="0.549" stop-color="#9d7192"/><stop offset="0.556" stop-color="#9b7c9f"/><stop offset="0.566" stop-color="#95a4cc"/><stop offset="0.572" stop-color="#92b7de"/><stop offset="0.635" stop-color="#729cc9"/><stop offset="0.655" stop-color="#4c7aad"/><stop offset="0.664" stop-color="#5683b5"/><stop offset="0.674" stop-color="#7ea7d1"/><stop offset="0.681" stop-color="#82aad3"/><stop offset="0.697" stop-color="#5784b6"/><stop offset="0.711" stop-color="#5582b4"/><stop offset="0.737" stop-color="#91b7de"/><stop offset="0.743" stop-color="#93b9e0"/><stop offset="0.747" stop-color="#94b3da"/><stop offset="0.75" stop-color="#969fc7"/><stop offset="0.757" stop-color="#9d7192"/><stop offset="0.763" stop-color="#a15671"/><stop offset="0.77" stop-color="#a34a63"/><stop offset="0.776" stop-color="#a24e68"/><stop offset="0.783" stop-color="#9e6685"/><stop offset="0.793" stop-color="#969ec6"/><stop offset="0.799" stop-color="#94acd3"/><stop offset="0.803" stop-color="#95a7cf"/><stop offset="0.806" stop-color="#9796bd"/><stop offset="0.809" stop-color="#9c7799"/><stop offset="0.816" stop-color="#a72e44"/><stop offset="0.819" stop-color="#a61221"/><stop offset="0.822" stop-color="#a4000a"/><stop offset="0.832" stop-color="#a4020c"/><stop offset="0.842" stop-color="#a53b52"/><stop offset="0.852" stop-color="#9d6d8d"/><stop offset="0.862" stop-color="#9a85a9"/><stop offset="0.888" stop-color="#969dc5"/><stop offset="0.967" stop-color="#92b7de"/><stop offset="1" stop-color="#90b6dd"/></linearGradient><linearGradient id="h80" gradientUnits="userSpaceOnUse" x1="410" x2="562" y1="0" y2="0"><stop offset="0" stop-color="#8fb5dc"/><stop offset="0.056" stop-color="#8ab0d8"/><stop offset="0.079" stop-color="#6d97c5"/><stop offset="0.089" stop-color="#77a1cc"/><stop offset="0.095" stop-color="#8cb2da"/><stop offset="0.099" stop-color="#94add4"/><stop offset="0.105" stop-color="#9b7da0"/><stop offset="0.109" stop-color="#9d6f8f"/><stop offset="0.112" stop-color="#9e6a89"/><stop offset="0.118" stop-color="#9c7698"/><stop offset="0.128" stop-color="#969ec6"/><stop offset="0.138" stop-color="#93b5dc"/><stop offset="0.214" stop-color="#8ab0d8"/><stop offset="0.237" stop-color="#6d97c5"/><stop offset="0.247" stop-color="#77a1cc"/><stop offset="0.253" stop-color="#8cb2da"/><stop offset="0.257" stop-color="#94add4"/><stop offset="0.263" stop-color="#9b7da0"/><stop offset="0.266" stop-color="#9d6f8f"/><stop offset="0.27" stop-color="#9e6a89"/><stop offset="0.276" stop-color="#9c7698"/><stop offset="0.286" stop-color="#969ec6"/><stop offset="0.296" stop-color="#93b5dc"/><stop offset="0.345" stop-color="#88afd7"/><stop offset="0.368" stop-color="#6c97c5"/><stop offset="0.378" stop-color="#7da6d0"/><stop offset="0.385" stop-color="#93b4db"/><stop offset="0.391" stop-color="#9a83a7"/><stop offset="0.395" stop-color="#9d7293"/><stop offset="0.398" stop-color="#9e6a8a"/><stop offset="0.401" stop-color="#9e6b8b"/><stop offset="0.411" stop-color="#998cb2"/><stop offset="0.418" stop-color="#95a5cd"/><stop offset="0.428" stop-color="#92b7df"/><stop offset="0.497" stop-color="#89b0d8"/><stop offset="0.52" stop-color="#6c97c4"/><stop offset="0.53" stop-color="#7ba4ce"/><stop offset="0.536" stop-color="#92b8df"/><stop offset="0.543" stop-color="#9a86ab"/><stop offset="0.546" stop-color="#9c7597"/><stop offset="0.549" stop-color="#9d6e8f"/><stop offset="0.553" stop-color="#9d7091"/><stop offset="0.569" stop-color="#94aed5"/><stop offset="0.572" stop-color="#92b6dd"/><stop offset="0.635" stop-color="#729cc9"/><stop offset="0.655" stop-color="#4a78ab"/><stop offset="0.664" stop-color="#5582b4"/><stop offset="0.674" stop-color="#80a9d2"/><stop offset="0.681" stop-color="#85acd5"/><stop offset="0.697" stop-color="#5885b6"/><stop offset="0.711" stop-color="#5582b4"/><stop offset="0.737" stop-color="#91b7de"/><stop offset="0.743" stop-color="#93b9e0"/><stop offset="0.747" stop-color="#94b3da"/><stop offset="0.75" stop-color="#969fc7"/><stop offset="0.757" stop-color="#9d7192"/><stop offset="0.763" stop-color="#a15671"/><stop offset="0.77" stop-color="#a34a64"/><stop offset="0.776" stop-color="#a24f6a"/><stop offset="0.783" stop-color="#9e6988"/><stop offset="0.793" stop-color="#95a4cb"/><stop offset="0.799" stop-color="#93b2d9"/><stop offset="0.803" stop-color="#94acd4"/><stop offset="0.806" stop-color="#969bc3"/><stop offset="0.809" stop-color="#9b7a9d"/><stop offset="0.816" stop-color="#a72d42"/><stop offset="0.819" stop-color="#a60f1d"/><stop offset="0.822" stop-color="#a4000a"/><stop offset="0.832" stop-color="#a4000a"/><stop offset="0.836" stop-color="#a50e1b"/><stop offset="0.849" stop-color="#a05e7b"/><stop offset="0.859" stop-color="#9b7ea2"/><stop offset="0.878" stop-color="#9796bd"/><stop offset="0.934" stop-color="#93b0d8"/><stop offset="0.993" stop-color="#90b6dd"/><stop offset="1" stop-color="#90b6dd"/></linearGradient><linearGradient id="h81" gradientUnits="userSpaceOnUse" x1="410" x2="562" y1="0" y2="0"><stop offset="0" stop-color="#8fb5dc"/><stop offset="0.056" stop-color="#89b0d8"/><stop offset="0.079" stop-color="#6c96c4"/><stop offset="0.089" stop-color="#76a0cc"/><stop offset="0.095" stop-color="#8bb2da"/><stop offset="0.099" stop-color="#94acd4"/><stop offset="0.105" stop-color="#9b7b9d"/><stop offset="0.109" stop-color="#9d6c8c"/><stop offset="0.112" stop-color="#9e6786"/><stop offset="0.118" stop-color="#9c7395"/><stop offset="0.128" stop-color="#969dc5"/><stop offset="0.138" stop-color="#93b4db"/><stop offset="0.214" stop-color="#89b0d8"/><stop offset="0.237" stop-color="#6c96c4"/><stop offset="0.247" stop-color="#76a0cc"/><stop offset="0.253" stop-color="#8bb2da"/><stop offset="0.257" stop-color="#94acd4"/><stop offset="0.263" stop-color="#9b7b9d"/><stop offset="0.266" stop-color="#9d6c8c"/><stop offset="0.27" stop-color="#9e6786"/><stop offset="0.276" stop-color="#9c7395"/><stop offset="0.286" stop-color="#969dc5"/><stop offset="0.296" stop-color="#93b4db"/><stop offset="0.342" stop-color="#8ab1d9"/><stop offset="0.368" stop-color="#6b96c4"/><stop offset="0.378" stop-color="#7da6d0"/><stop offset="0.385" stop-color="#93b4db"/><stop offset="0.391" stop-color="#9a81a4"/><stop offset="0.395" stop-color="#9d6f90"/><stop offset="0.398" stop-color="#9e6787"/><stop offset="0.401" stop-color="#9e6887"/><stop offset="0.408" stop-color="#9b7c9f"/><stop offset="0.418" stop-color="#95a4cc"/><stop offset="0.428" stop-color="#92b7de"/><stop offset="0.497" stop-color="#89b0d8"/><stop offset="0.52" stop-color="#6b96c4"/><stop offset="0.53" stop-color="#7aa3ce"/><stop offset="0.536" stop-color="#92b8df"/><stop offset="0.543" stop-color="#9a84a8"/><stop offset="0.546" stop-color="#9c7394"/><stop offset="0.549" stop-color="#9e6b8b"/><stop offset="0.553" stop-color="#9d6e8e"/><stop offset="0.569" stop-color="#94add4"/><stop offset="0.572" stop-color="#92b6dd"/><stop offset="0.632" stop-color="#769fcb"/><stop offset="0.645" stop-color="#5b88b9"/><stop offset="0.655" stop-color="#4977aa"/><stop offset="0.664" stop-color="#5582b4"/><stop offset="0.674" stop-color="#83aad4"/><stop offset="0.681" stop-color="#87aed7"/><stop offset="0.697" stop-color="#5885b7"/><stop offset="0.711" stop-color="#5582b4"/><stop offset="0.737" stop-color="#91b7de"/><stop offset="0.743" stop-color="#93b9e0"/><stop offset="0.747" stop-color="#94b3da"/><stop offset="0.75" stop-color="#969fc7"/><stop offset="0.757" stop-color="#9d7192"/><stop offset="0.763" stop-color="#a15671"/><stop offset="0.77" stop-color="#a24b64"/><stop offset="0.776" stop-color="#a2516b"/><stop offset="0.783" stop-color="#9d6c8c"/><stop offset="0.789" stop-color="#9798bf"/><stop offset="0.796" stop-color="#93b4db"/><stop offset="0.799" stop-color="#92b8df"/><stop offset="0.803" stop-color="#93b2d9"/><stop offset="0.806" stop-color="#96a0c8"/><stop offset="0.809" stop-color="#9b7da0"/><stop offset="0.816" stop-color="#a72b40"/><stop offset="0.819" stop-color="#a50b18"/><stop offset="0.822" stop-color="#a4000a"/><stop offset="0.832" stop-color="#a4000a"/><stop offset="0.836" stop-color="#a50915"/><stop offset="0.845" stop-color="#a34a64"/><stop offset="0.852" stop-color="#9e6b8b"/><stop offset="0.862" stop-color="#9a84a8"/><stop offset="0.888" stop-color="#969dc5"/><stop offset="0.967" stop-color="#92b7de"/><stop offset="1" stop-color="#90b6dd"/></linearGradient><linearGradient id="h82" gradientUnits="userSpaceOnUse" x1="410" x2="562" y1="0" y2="0"><stop offset="0" stop-color="#8fb5dc"/><stop offset="0.056" stop-color="#89b0d8"/><stop offset="0.079" stop-color="#6b95c3"/><stop offset="0.089" stop-color="#769fcb"/><stop offset="0.095" stop-color="#8bb2da"/><stop offset="0.099" stop-color="#94acd3"/><stop offset="0.105" stop-color="#9c789b"/><stop offset="0.109" stop-color="#9e6989"/><stop offset="0.112" stop-color="#9f6482"/><stop offset="0.118" stop-color="#9d7192"/><stop offset="0.128" stop-color="#969cc3"/><stop offset="0.138" stop-color="#93b4db"/><stop offset="0.207" stop-color="#8db3db"/><stop offset="0.227" stop-color="#78a1cd"/><stop offset="0.24" stop-color="#6b95c3"/><stop offset="0.25" stop-color="#80a8d2"/><stop offset="0.253" stop-color="#8bb2da"/><stop offset="0.257" stop-color="#94acd3"/><stop offset="0.263" stop-color="#9c789b"/><stop offset="0.266" stop-color="#9e6989"/><stop offset="0.27" stop-color="#9f6482"/><stop offset="0.276" stop-color="#9d7192"/><stop offset="0.286" stop-color="#969cc3"/><stop offset="0.296" stop-color="#93b4db"/><stop offset="0.336" stop-color="#8db3db"/><stop offset="0.355" stop-color="#7aa3ce"/><stop offset="0.368" stop-color="#6a95c3"/><stop offset="0.378" stop-color="#7ca5d0"/><stop offset="0.385" stop-color="#93b4db"/><stop offset="0.391" stop-color="#9b7fa2"/><stop offset="0.395" stop-color="#9d6d8d"/><stop offset="0.398" stop-color="#9f6583"/><stop offset="0.401" stop-color="#9e6584"/><stop offset="0.408" stop-color="#9b7a9d"/><stop offset="0.418" stop-color="#95a3cb"/><stop offset="0.428" stop-color="#92b7de"/><stop offset="0.497" stop-color="#89b0d8"/><stop offset="0.52" stop-color="#6a95c3"/><stop offset="0.53" stop-color="#7aa3ce"/><stop offset="0.536" stop-color="#92b8df"/><stop offset="0.543" stop-color="#9a82a6"/><stop offset="0.546" stop-color="#9d7091"/><stop offset="0.549" stop-color="#9e6988"/><stop offset="0.553" stop-color="#9e6b8b"/><stop offset="0.562" stop-color="#9893b9"/><stop offset="0.569" stop-color="#94add4"/><stop offset="0.572" stop-color="#92b6dd"/><stop offset="0.632" stop-color="#759fcb"/><stop offset="0.645" stop-color="#5986b7"/><stop offset="0.655" stop-color="#4675a8"/><stop offset="0.661" stop-color="#4b79ac"/><stop offset="0.668" stop-color="#618dbd"/><stop offset="0.674" stop-color="#83abd4"/><stop offset="0.681" stop-color="#88afd7"/><stop offset="0.697" stop-color="#5784b6"/><stop offset="0.711" stop-color="#5381b3"/><stop offset="0.727" stop-color="#7ba4cf"/><stop offset="0.737" stop-color="#91b7de"/><stop offset="0.743" stop-color="#93b9e0"/><stop offset="0.747" stop-color="#94b3da"/><stop offset="0.75" stop-color="#969ec5"/><stop offset="0.757" stop-color="#9d6f8f"/><stop offset="0.763" stop-color="#a1526d"/><stop offset="0.77" stop-color="#a34760"/><stop offset="0.776" stop-color="#a24e68"/><stop offset="0.783" stop-color="#9e6b8b"/><stop offset="0.789" stop-color="#9799c0"/><stop offset="0.796" stop-color="#92b6dd"/><stop offset="0.803" stop-color="#93b4db"/><stop offset="0.806" stop-color="#96a1c9"/><stop offset="0.809" stop-color="#9b7c9f"/><stop offset="0.816" stop-color="#a82539"/><stop offset="0.819" stop-color="#a4040f"/><stop offset="0.829" stop-color="#a4000a"/><stop offset="0.836" stop-color="#a4010b"/><stop offset="0.845" stop-color="#a3455e"/><stop offset="0.852" stop-color="#9e6887"/><stop offset="0.862" stop-color="#9a82a6"/><stop offset="0.888" stop-color="#969cc3"/><stop offset="0.964" stop-color="#92b7de"/><stop offset="1" stop-color="#90b6dd"/></linearGradient><linearGradient id="h83" gradientUnits="userSpaceOnUse" x1="410" x2="562" y1="0" y2="0"><stop offset="0" stop-color="#8fb5dc"/><stop offset="0.056" stop-color="#89b0d8"/><stop offset="0.079" stop-color="#6994c3"/><stop offset="0.089" stop-color="#759fcb"/><stop offset="0.095" stop-color="#8bb2d9"/><stop offset="0.099" stop-color="#94abd3"/><stop offset="0.105" stop-color="#9c7698"/><stop offset="0.109" stop-color="#9e6786"/><stop offset="0.112" stop-color="#9f617f"/><stop offset="0.115" stop-color="#9f6483"/><stop offset="0.132" stop-color="#95a5cd"/><stop offset="0.141" stop-color="#92b8df"/><stop offset="0.214" stop-color="#89b0d8"/><stop offset="0.237" stop-color="#6994c3"/><stop offset="0.247" stop-color="#759fcb"/><stop offset="0.253" stop-color="#8bb2d9"/><stop offset="0.257" stop-color="#94abd3"/><stop offset="0.263" stop-color="#9c7698"/><stop offset="0.266" stop-color="#9e6786"/><stop offset="0.27" stop-color="#9f617f"/><stop offset="0.273" stop-color="#9f6483"/><stop offset="0.289" stop-color="#95a5cd"/><stop offset="0.299" stop-color="#92b8df"/><stop offset="0.345" stop-color="#87aed7"/><stop offset="0.368" stop-color="#6994c2"/><stop offset="0.378" stop-color="#7ca5cf"/><stop offset="0.385" stop-color="#93b3da"/><stop offset="0.391" stop-color="#9b7da0"/><stop offset="0.395" stop-color="#9e6a8a"/><stop offset="0.398" stop-color="#9f6280"/><stop offset="0.401" stop-color="#9f6381"/><stop offset="0.408" stop-color="#9c789a"/><stop offset="0.418" stop-color="#95a3ca"/><stop offset="0.428" stop-color="#92b7de"/><stop offset="0.497" stop-color="#89b0d8"/><stop offset="0.52" stop-color="#6994c2"/><stop offset="0.526" stop-color="#709ac7"/><stop offset="0.536" stop-color="#92b8df"/><stop offset="0.543" stop-color="#9a80a4"/><stop offset="0.546" stop-color="#9d6e8e"/><stop offset="0.549" stop-color="#9e6685"/><stop offset="0.553" stop-color="#9e6887"/><stop offset="0.559" stop-color="#9a81a4"/><stop offset="0.566" stop-color="#96a0c8"/><stop offset="0.572" stop-color="#92b5dc"/><stop offset="0.632" stop-color="#759fca"/><stop offset="0.645" stop-color="#5885b6"/><stop offset="0.655" stop-color="#4573a7"/><stop offset="0.661" stop-color="#4a78ab"/><stop offset="0.668" stop-color="#618dbd"/><stop offset="0.674" stop-color="#85add6"/><stop offset="0.681" stop-color="#8bb1d9"/><stop offset="0.697" stop-color="#5784b6"/><stop offset="0.711" stop-color="#5381b3"/><stop offset="0.727" stop-color="#7ba4cf"/><stop offset="0.737" stop-color="#91b7de"/><stop offset="0.743" stop-color="#93b9e0"/><stop offset="0.747" stop-color="#94b3da"/><stop offset="0.75" stop-color="#969ec5"/><stop offset="0.757" stop-color="#9d6f8f"/><stop offset="0.763" stop-color="#a1536e"/><stop offset="0.77" stop-color="#a34861"/><stop offset="0.776" stop-color="#a2506a"/><stop offset="0.783" stop-color="#9d6e8f"/><stop offset="0.789" stop-color="#969fc7"/><stop offset="0.793" stop-color="#93b0d8"/><stop offset="0.799" stop-color="#8eb4db"/><stop offset="0.803" stop-color="#91b7de"/><stop offset="0.806" stop-color="#95a5cd"/><stop offset="0.809" stop-color="#9b7fa3"/><stop offset="0.816" stop-color="#a82437"/><stop offset="0.819" stop-color="#a4010b"/><stop offset="0.836" stop-color="#a4000a"/><stop offset="0.845" stop-color="#a4435b"/><stop offset="0.852" stop-color="#9e6786"/><stop offset="0.862" stop-color="#9a82a6"/><stop offset="0.885" stop-color="#979ac1"/><stop offset="0.954" stop-color="#93b4dc"/><stop offset="1" stop-color="#90b6dd"/></linearGradient><linearGradient id="h84" gradientUnits="userSpaceOnUse" x1="410" x2="562" y1="0" y2="0"><stop offset="0" stop-color="#8fb5dc"/><stop offset="0.056" stop-color="#89b0d8"/><stop offset="0.079" stop-color="#6893c2"/><stop offset="0.086" stop-color="#6c97c5"/><stop offset="0.095" stop-color="#8bb2d9"/><stop offset="0.099" stop-color="#94aad2"/><stop offset="0.105" stop-color="#9c7496"/><stop offset="0.109" stop-color="#9f6483"/><stop offset="0.112" stop-color="#a05e7c"/><stop offset="0.115" stop-color="#9f6280"/><stop offset="0.132" stop-color="#95a5cc"/><stop offset="0.141" stop-color="#92b8df"/><stop offset="0.214" stop-color="#89b0d8"/><stop offset="0.237" stop-color="#6893c2"/><stop offset="0.243" stop-color="#6c97c5"/><stop offset="0.253" stop-color="#8bb2d9"/><stop offset="0.257" stop-color="#94aad2"/><stop offset="0.263" stop-color="#9c7496"/><stop offset="0.266" stop-color="#9f6483"/><stop offset="0.27" stop-color="#a05e7c"/><stop offset="0.273" stop-color="#9f6280"/><stop offset="0.289" stop-color="#95a5cc"/><stop offset="0.299" stop-color="#92b8df"/><stop offset="0.345" stop-color="#87aed7"/><stop offset="0.368" stop-color="#6893c2"/><stop offset="0.378" stop-color="#7ba4cf"/><stop offset="0.385" stop-color="#93b3da"/><stop offset="0.391" stop-color="#9b7b9d"/><stop offset="0.395" stop-color="#9e6887"/><stop offset="0.398" stop-color="#9f5f7d"/><stop offset="0.401" stop-color="#9f607e"/><stop offset="0.408" stop-color="#9c7698"/><stop offset="0.418" stop-color="#95a2ca"/><stop offset="0.428" stop-color="#92b7de"/><stop offset="0.497" stop-color="#89b0d8"/><stop offset="0.52" stop-color="#6793c1"/><stop offset="0.526" stop-color="#6f99c6"/><stop offset="0.536" stop-color="#92b8df"/><stop offset="0.543" stop-color="#9b7ea1"/><stop offset="0.546" stop-color="#9e6b8b"/><stop offset="0.549" stop-color="#9f6381"/><stop offset="0.553" stop-color="#9e6584"/><stop offset="0.559" stop-color="#9b7fa2"/><stop offset="0.566" stop-color="#96a0c7"/><stop offset="0.572" stop-color="#92b5dc"/><stop offset="0.632" stop-color="#759eca"/><stop offset="0.645" stop-color="#5784b6"/><stop offset="0.655" stop-color="#4372a6"/><stop offset="0.661" stop-color="#4977aa"/><stop offset="0.668" stop-color="#618dbd"/><stop offset="0.674" stop-color="#88afd7"/><stop offset="0.678" stop-color="#8fb5dc"/><stop offset="0.684" stop-color="#86add6"/><stop offset="0.697" stop-color="#5885b6"/><stop offset="0.711" stop-color="#5381b3"/><stop offset="0.724" stop-color="#719cc8"/><stop offset="0.737" stop-color="#91b7de"/><stop offset="0.743" stop-color="#93b9e0"/><stop offset="0.747" stop-color="#94b3da"/><stop offset="0.75" stop-color="#969ec5"/><stop offset="0.757" stop-color="#9d6f8f"/><stop offset="0.763" stop-color="#a1536e"/><stop offset="0.77" stop-color="#a34962"/><stop offset="0.776" stop-color="#a2516c"/><stop offset="0.783" stop-color="#9d7293"/><stop offset="0.789" stop-color="#95a4cb"/><stop offset="0.793" stop-color="#92b6dd"/><stop offset="0.799" stop-color="#89b0d8"/><stop offset="0.803" stop-color="#8fb5dc"/><stop offset="0.806" stop-color="#94aad1"/><stop offset="0.809" stop-color="#9a83a7"/><stop offset="0.816" stop-color="#a82235"/><stop offset="0.819" stop-color="#a4000a"/><stop offset="0.836" stop-color="#a4000a"/><stop offset="0.839" stop-color="#a60f1d"/><stop offset="0.849" stop-color="#a15571"/><stop offset="0.855" stop-color="#9d7293"/><stop offset="0.868" stop-color="#998bb1"/><stop offset="0.905" stop-color="#95a5cc"/><stop offset="0.98" stop-color="#91b7de"/><stop offset="1" stop-color="#90b6dd"/></linearGradient><linearGradient id="h85" gradientUnits="userSpaceOnUse" x1="410" x2="562" y1="0" y2="0"><stop offset="0" stop-color="#8fb5dc"/><stop offset="0.053" stop-color="#8bb2d9"/><stop offset="0.072" stop-color="#709ac7"/><stop offset="0.082" stop-color="#6792c1"/><stop offset="0.092" stop-color="#7ea7d1"/><stop offset="0.095" stop-color="#8bb2d9"/><stop offset="0.099" stop-color="#94aad1"/><stop offset="0.105" stop-color="#9d7293"/><stop offset="0.109" stop-color="#9f627f"/><stop offset="0.112" stop-color="#a05c78"/><stop offset="0.115" stop-color="#9f5f7c"/><stop offset="0.125" stop-color="#9988ad"/><stop offset="0.132" stop-color="#95a4cc"/><stop offset="0.141" stop-color="#92b8df"/><stop offset="0.214" stop-color="#89b0d8"/><stop offset="0.237" stop-color="#6792c1"/><stop offset="0.243" stop-color="#6b96c4"/><stop offset="0.253" stop-color="#8bb2d9"/><stop offset="0.257" stop-color="#94aad1"/><stop offset="0.263" stop-color="#9d7293"/><stop offset="0.266" stop-color="#9f627f"/><stop offset="0.27" stop-color="#a05c78"/><stop offset="0.273" stop-color="#9f5f7c"/><stop offset="0.283" stop-color="#9988ad"/><stop offset="0.289" stop-color="#95a4cc"/><stop offset="0.299" stop-color="#92b8df"/><stop offset="0.342" stop-color="#8ab0d8"/><stop offset="0.368" stop-color="#6792c1"/><stop offset="0.378" stop-color="#7ba4ce"/><stop offset="0.385" stop-color="#93b3da"/><stop offset="0.391" stop-color="#9c799b"/><stop offset="0.395" stop-color="#9f6584"/><stop offset="0.398" stop-color="#a05c79"/><stop offset="0.401" stop-color="#a05d7a"/><stop offset="0.408" stop-color="#9c7495"/><stop offset="0.418" stop-color="#96a1c9"/><stop offset="0.428" stop-color="#92b6dd"/><stop offset="0.497" stop-color="#89b0d8"/><stop offset="0.52" stop-color="#6692c0"/><stop offset="0.526" stop-color="#6e98c6"/><stop offset="0.536" stop-color="#92b7de"/><stop offset="0.543" stop-color="#9b7c9f"/><stop offset="0.546" stop-color="#9e6988"/><stop offset="0.549" stop-color="#9f607e"/><stop offset="0.553" stop-color="#9f6381"/><stop offset="0.559" stop-color="#9b7da0"/><stop offset="0.566" stop-color="#969fc7"/><stop offset="0.572" stop-color="#93b4db"/><stop offset="0.632" stop-color="#749eca"/><stop offset="0.645" stop-color="#5683b5"/><stop offset="0.655" stop-color="#4271a4"/><stop offset="0.661" stop-color="#4876a9"/><stop offset="0.668" stop-color="#628ebd"/><stop offset="0.674" stop-color="#8ab1d9"/><stop offset="0.681" stop-color="#90b6dd"/><stop offset="0.697" stop-color="#5986b7"/><stop offset="0.711" stop-color="#5381b3"/><stop offset="0.724" stop-color="#719cc8"/><stop offset="0.737" stop-color="#91b7de"/><stop offset="0.743" stop-color="#93b9e0"/><stop offset="0.747" stop-color="#94b3da"/><stop offset="0.75" stop-color="#969ec5"/><stop offset="0.757" stop-color="#9d6f8f"/><stop offset="0.763" stop-color="#a1536e"/><stop offset="0.77" stop-color="#a34962"/><stop offset="0.776" stop-color="#a1536e"/><stop offset="0.78" stop-color="#9f617f"/><stop offset="0.789" stop-color="#94a9d0"/><stop offset="0.793" stop-color="#90b6dd"/><stop offset="0.799" stop-color="#85add5"/><stop offset="0.806" stop-color="#93aed6"/><stop offset="0.809" stop-color="#9a86ab"/><stop offset="0.812" stop-color="#a2506a"/><stop offset="0.816" stop-color="#a72032"/><stop offset="0.819" stop-color="#a4000a"/><stop offset="0.836" stop-color="#a4000a"/><stop offset="0.839" stop-color="#a50b18"/><stop offset="0.845" stop-color="#a43e56"/><stop offset="0.852" stop-color="#9f6483"/><stop offset="0.862" stop-color="#9a82a5"/><stop offset="0.885" stop-color="#979ac1"/><stop offset="0.954" stop-color="#93b4dc"/><stop offset="1" stop-color="#90b6dd"/></linearGradient><linearGradient id="h86" gradientUnits="userSpaceOnUse" x1="410" x2="562" y1="0" y2="0"><stop offset="0" stop-color="#8fb5dc"/><stop offset="0.053" stop-color="#8bb2d9"/><stop offset="0.072" stop-color="#709ac7"/><stop offset="0.082" stop-color="#6792c1"/><stop offset="0.092" stop-color="#7ea7d1"/><stop offset="0.095" stop-color="#8bb2d9"/><stop offset="0.099" stop-color="#94aad1"/><stop offset="0.105" stop-color="#9d7293"/><stop offset="0.109" stop-color="#9f627f"/><stop offset="0.112" stop-color="#a05c78"/><stop offset="0.115" stop-color="#9f5f7c"/><stop offset="0.125" stop-color="#9988ad"/><stop offset="0.132" stop-color="#95a4cc"/><stop offset="0.141" stop-color="#92b8df"/><stop offset="0.214" stop-color="#89b0d8"/><stop offset="0.237" stop-color="#6792c1"/><stop offset="0.243" stop-color="#6b96c4"/><stop offset="0.253" stop-color="#8bb2d9"/><stop offset="0.257" stop-color="#94aad1"/><stop offset="0.263" stop-color="#9d7293"/><stop offset="0.266" stop-color="#9f627f"/><stop offset="0.27" stop-color="#a05c78"/><stop offset="0.273" stop-color="#9f5f7c"/><stop offset="0.283" stop-color="#9988ad"/><stop offset="0.289" stop-color="#95a4cc"/><stop offset="0.299" stop-color="#92b8df"/><stop offset="0.342" stop-color="#8ab0d8"/><stop offset="0.368" stop-color="#6792c1"/><stop offset="0.378" stop-color="#7ba4ce"/><stop offset="0.385" stop-color="#93b3da"/><stop offset="0.391" stop-color="#9c799b"/><stop offset="0.395" stop-color="#9f6584"/><stop offset="0.398" stop-color="#a05c79"/><stop offset="0.401" stop-color="#a05d7a"/><stop offset="0.408" stop-color="#9c7495"/><stop offset="0.418" stop-color="#96a1c9"/><stop offset="0.428" stop-color="#92b6dd"/><stop offset="0.497" stop-color="#89b0d8"/><stop offset="0.52" stop-color="#6692c0"/><stop offset="0.526" stop-color="#6e98c6"/><stop offset="0.536" stop-color="#92b8df"/><stop offset="0.543" stop-color="#9b7c9f"/><stop offset="0.546" stop-color="#9e6988"/><stop offset="0.549" stop-color="#9f617e"/><stop offset="0.553" stop-color="#9f6381"/><stop offset="0.559" stop-color="#9b7da0"/><stop offset="0.566" stop-color="#969fc7"/><stop offset="0.572" stop-color="#93b5dc"/><stop offset="0.632" stop-color="#749eca"/><stop offset="0.645" stop-color="#5582b4"/><stop offset="0.655" stop-color="#4170a3"/><stop offset="0.661" stop-color="#4775a8"/><stop offset="0.668" stop-color="#608cbc"/><stop offset="0.674" stop-color="#88afd7"/><stop offset="0.678" stop-color="#8fb5dc"/><stop offset="0.684" stop-color="#86aed6"/><stop offset="0.697" stop-color="#5784b5"/><stop offset="0.711" stop-color="#527fb2"/><stop offset="0.724" stop-color="#709bc7"/><stop offset="0.737" stop-color="#91b7de"/><stop offset="0.743" stop-color="#93bae0"/><stop offset="0.747" stop-color="#94b3da"/><stop offset="0.75" stop-color="#979cc4"/><stop offset="0.757" stop-color="#9d6c8c"/><stop offset="0.763" stop-color="#a24f6a"/><stop offset="0.77" stop-color="#a3455e"/><stop offset="0.776" stop-color="#a24e68"/><stop offset="0.78" stop-color="#a05c79"/><stop offset="0.789" stop-color="#95a5cc"/><stop offset="0.793" stop-color="#92b8df"/><stop offset="0.799" stop-color="#88afd7"/><stop offset="0.803" stop-color="#8db3db"/><stop offset="0.806" stop-color="#94abd2"/><stop offset="0.809" stop-color="#9a82a6"/><stop offset="0.812" stop-color="#a24c66"/><stop offset="0.816" stop-color="#a71c2e"/><stop offset="0.819" stop-color="#a4000a"/><stop offset="0.836" stop-color="#a4000a"/><stop offset="0.839" stop-color="#a50814"/><stop offset="0.845" stop-color="#a53c53"/><stop offset="0.852" stop-color="#9f6280"/><stop offset="0.862" stop-color="#9b80a3"/><stop offset="0.885" stop-color="#9798bf"/><stop offset="0.944" stop-color="#93b2d9"/><stop offset="1" stop-color="#90b6dd"/></linearGradient><linearGradient id="h87" gradientUnits="userSpaceOnUse" x1="410" x2="562" y1="0" y2="0"><stop offset="0" stop-color="#8fb5dc"/><stop offset="0.053" stop-color="#8bb2d9"/><stop offset="0.072" stop-color="#6f99c6"/><stop offset="0.082" stop-color="#6691c0"/><stop offset="0.092" stop-color="#7ea6d1"/><stop offset="0.095" stop-color="#8bb1d9"/><stop offset="0.099" stop-color="#94a9d1"/><stop offset="0.105" stop-color="#9d7090"/><stop offset="0.109" stop-color="#9f5f7c"/><stop offset="0.112" stop-color="#a05975"/><stop offset="0.115" stop-color="#a05c79"/><stop offset="0.125" stop-color="#9987ab"/><stop offset="0.132" stop-color="#95a3cb"/><stop offset="0.141" stop-color="#92b7de"/><stop offset="0.214" stop-color="#89b0d8"/><stop offset="0.237" stop-color="#6691c0"/><stop offset="0.243" stop-color="#6a95c3"/><stop offset="0.253" stop-color="#8bb1d9"/><stop offset="0.257" stop-color="#94a9d1"/><stop offset="0.263" stop-color="#9d7090"/><stop offset="0.266" stop-color="#9f5f7c"/><stop offset="0.27" stop-color="#a05975"/><stop offset="0.273" stop-color="#a05c79"/><stop offset="0.283" stop-color="#9987ab"/><stop offset="0.289" stop-color="#95a3cb"/><stop offset="0.299" stop-color="#92b7de"/><stop offset="0.342" stop-color="#89b0d8"/><stop offset="0.368" stop-color="#6691c0"/><stop offset="0.378" stop-color="#7aa3ce"/><stop offset="0.385" stop-color="#93b2da"/><stop offset="0.391" stop-color="#9c7799"/><stop offset="0.395" stop-color="#9f6381"/><stop offset="0.398" stop-color="#a05a76"/><stop offset="0.401" stop-color="#a05a77"/><stop offset="0.408" stop-color="#9d7193"/><stop offset="0.418" stop-color="#96a0c8"/><stop offset="0.428" stop-color="#92b6dd"/><stop offset="0.493" stop-color="#8bb2d9"/><stop offset="0.513" stop-color="#6d98c5"/><stop offset="0.523" stop-color="#6792c1"/><stop offset="0.533" stop-color="#84abd5"/><stop offset="0.536" stop-color="#92b7de"/><stop offset="0.543" stop-color="#9b7a9d"/><stop offset="0.546" stop-color="#9e6685"/><stop offset="0.549" stop-color="#a05e7b"/><stop offset="0.553" stop-color="#9f607e"/><stop offset="0.559" stop-color="#9b7b9d"/><stop offset="0.566" stop-color="#969ec6"/><stop offset="0.572" stop-color="#93b4db"/><stop offset="0.632" stop-color="#749eca"/><stop offset="0.645" stop-color="#5481b3"/><stop offset="0.655" stop-color="#3f6ea2"/><stop offset="0.661" stop-color="#4574a7"/><stop offset="0.668" stop-color="#608cbc"/><stop offset="0.671" stop-color="#7aa3ce"/><stop offset="0.674" stop-color="#8bb1d9"/><stop offset="0.681" stop-color="#91b7de"/><stop offset="0.691" stop-color="#6e99c6"/><stop offset="0.697" stop-color="#5784b6"/><stop offset="0.711" stop-color="#527fb2"/><stop offset="0.724" stop-color="#709bc7"/><stop offset="0.737" stop-color="#91b7de"/><stop offset="0.743" stop-color="#93bae0"/><stop offset="0.747" stop-color="#94b3da"/><stop offset="0.75" stop-color="#979dc4"/><stop offset="0.757" stop-color="#9d6c8c"/><stop offset="0.763" stop-color="#a2506a"/><stop offset="0.77" stop-color="#a3465e"/><stop offset="0.776" stop-color="#a2506a"/><stop offset="0.78" stop-color="#9f5f7c"/><stop offset="0.789" stop-color="#94aad1"/><stop offset="0.793" stop-color="#8fb5dc"/><stop offset="0.799" stop-color="#83abd4"/><stop offset="0.806" stop-color="#93b0d7"/><stop offset="0.809" stop-color="#9a85aa"/><stop offset="0.812" stop-color="#a24d66"/><stop offset="0.816" stop-color="#a71a2b"/><stop offset="0.819" stop-color="#a4000a"/><stop offset="0.836" stop-color="#a4000a"/><stop offset="0.839" stop-color="#a4040f"/><stop offset="0.845" stop-color="#a53950"/><stop offset="0.852" stop-color="#9f617f"/><stop offset="0.859" stop-color="#9c789b"/><stop offset="0.875" stop-color="#9891b7"/><stop offset="0.914" stop-color="#94a8cf"/><stop offset="0.984" stop-color="#91b7de"/><stop offset="1" stop-color="#90b6dd"/></linearGradient><linearGradient id="h88" gradientUnits="userSpaceOnUse" x1="410" x2="562" y1="0" y2="0"><stop offset="0" stop-color="#8fb5dc"/><stop offset="0.053" stop-color="#8bb2d9"/><stop offset="0.072" stop-color="#6f99c6"/><stop offset="0.082" stop-color="#6691c0"/><stop offset="0.092" stop-color="#7ea6d1"/><stop offset="0.095" stop-color="#8bb1d9"/><stop offset="0.099" stop-color="#94a9d1"/><stop offset="0.105" stop-color="#9d7090"/><stop offset="0.109" stop-color="#9f5f7c"/><stop offset="0.112" stop-color="#a05975"/><stop offset="0.115" stop-color="#a05c79"/><stop offset="0.125" stop-color="#9987ab"/><stop offset="0.132" stop-color="#95a3cb"/><stop offset="0.141" stop-color="#92b7de"/><stop offset="0.214" stop-color="#89b0d8"/><stop offset="0.237" stop-color="#6691c0"/><stop offset="0.243" stop-color="#6a95c3"/><stop offset="0.253" stop-color="#8bb1d9"/><stop offset="0.257" stop-color="#94a9d1"/><stop offset="0.263" stop-color="#9d7090"/><stop offset="0.266" stop-color="#9f5f7c"/><stop offset="0.27" stop-color="#a05975"/><stop offset="0.273" stop-color="#a05c79"/><stop offset="0.283" stop-color="#9987ab"/><stop offset="0.289" stop-color="#95a3cb"/><stop offset="0.299" stop-color="#92b7de"/><stop offset="0.342" stop-color="#89b0d8"/><stop offset="0.368" stop-color="#6691c0"/><stop offset="0.378" stop-color="#7aa3ce"/><stop offset="0.385" stop-color="#93b2da"/><stop offset="0.391" stop-color="#9c7799"/><stop offset="0.395" stop-color="#9f6381"/><stop offset="0.398" stop-color="#a05a76"/><stop offset="0.401" stop-color="#a05a77"/><stop offset="0.408" stop-color="#9d7193"/><stop offset="0.418" stop-color="#96a0c8"/><stop offset="0.428" stop-color="#92b6dd"/><stop offset="0.493" stop-color="#8bb2d9"/><stop offset="0.513" stop-color="#6d98c5"/><stop offset="0.523" stop-color="#6792c1"/><stop offset="0.533" stop-color="#84abd5"/><stop offset="0.536" stop-color="#92b7de"/><stop offset="0.543" stop-color="#9b7a9d"/><stop offset="0.546" stop-color="#9e6685"/><stop offset="0.549" stop-color="#a05e7b"/><stop offset="0.553" stop-color="#9f607e"/><stop offset="0.559" stop-color="#9b7b9e"/><stop offset="0.566" stop-color="#969ec6"/><stop offset="0.572" stop-color="#93b4db"/><stop offset="0.632" stop-color="#739dc9"/><stop offset="0.645" stop-color="#5380b3"/><stop offset="0.655" stop-color="#3e6da2"/><stop offset="0.661" stop-color="#4473a6"/><stop offset="0.668" stop-color="#5f8bbb"/><stop offset="0.671" stop-color="#78a1cd"/><stop offset="0.674" stop-color="#89b0d8"/><stop offset="0.678" stop-color="#90b6dd"/><stop offset="0.684" stop-color="#87aed7"/><stop offset="0.697" stop-color="#5582b4"/><stop offset="0.711" stop-color="#517eb0"/><stop offset="0.724" stop-color="#6f9ac7"/><stop offset="0.737" stop-color="#91b7de"/><stop offset="0.743" stop-color="#94bae0"/><stop offset="0.747" stop-color="#95b2d9"/><stop offset="0.75" stop-color="#979bc3"/><stop offset="0.757" stop-color="#9e6989"/><stop offset="0.763" stop-color="#a24c66"/><stop offset="0.77" stop-color="#a44159"/><stop offset="0.776" stop-color="#a24b65"/><stop offset="0.78" stop-color="#a05a76"/><stop offset="0.789" stop-color="#95a6ce"/><stop offset="0.793" stop-color="#91b7de"/><stop offset="0.799" stop-color="#86add6"/><stop offset="0.803" stop-color="#8bb2da"/><stop offset="0.806" stop-color="#94acd4"/><stop offset="0.809" stop-color="#9a81a5"/><stop offset="0.812" stop-color="#a34962"/><stop offset="0.816" stop-color="#a61727"/><stop offset="0.819" stop-color="#a4000a"/><stop offset="0.839" stop-color="#a4010c"/><stop offset="0.845" stop-color="#a6364d"/><stop offset="0.852" stop-color="#9f5f7c"/><stop offset="0.859" stop-color="#9c7698"/><stop offset="0.875" stop-color="#988fb5"/><stop offset="0.911" stop-color="#95a6ce"/><stop offset="0.984" stop-color="#91b7de"/><stop offset="1" stop-color="#90b6dd"/></linearGradient><linearGradient id="h89" gradientUnits="userSpaceOnUse" x1="410" x2="562" y1="0" y2="0"><stop offset="0" stop-color="#8fb5dc"/><stop offset="0.053" stop-color="#8bb2d9"/><stop offset="0.072" stop-color="#6e99c6"/><stop offset="0.082" stop-color="#6590bf"/><stop offset="0.092" stop-color="#7da6d0"/><stop offset="0.095" stop-color="#8bb1d9"/><stop offset="0.099" stop-color="#94a9d0"/><stop offset="0.105" stop-color="#9d6d8e"/><stop offset="0.109" stop-color="#a05c79"/><stop offset="0.112" stop-color="#a15672"/><stop offset="0.115" stop-color="#a05a76"/><stop offset="0.125" stop-color="#9a85aa"/><stop offset="0.132" stop-color="#95a3ca"/><stop offset="0.141" stop-color="#92b7de"/><stop offset="0.211" stop-color="#8bb2d9"/><stop offset="0.23" stop-color="#6e99c6"/><stop offset="0.24" stop-color="#6590bf"/><stop offset="0.25" stop-color="#7da6d0"/><stop offset="0.253" stop-color="#8bb1d9"/><stop offset="0.257" stop-color="#94a9d0"/><stop offset="0.263" stop-color="#9d6d8e"/><stop offset="0.266" stop-color="#a05c79"/><stop offset="0.27" stop-color="#a15672"/><stop offset="0.273" stop-color="#a05a76"/><stop offset="0.283" stop-color="#9a85aa"/><stop offset="0.289" stop-color="#95a3ca"/><stop offset="0.299" stop-color="#92b7de"/><stop offset="0.342" stop-color="#89b0d8"/><stop offset="0.368" stop-color="#6490bf"/><stop offset="0.375" stop-color="#6f99c6"/><stop offset="0.382" stop-color="#87aed6"/><stop offset="0.385" stop-color="#93b2d9"/><stop offset="0.391" stop-color="#9c7596"/><stop offset="0.395" stop-color="#9f607e"/><stop offset="0.398" stop-color="#a15773"/><stop offset="0.401" stop-color="#a15874"/><stop offset="0.408" stop-color="#9d6f90"/><stop offset="0.418" stop-color="#969fc7"/><stop offset="0.428" stop-color="#92b6dd"/><stop offset="0.493" stop-color="#8bb1d9"/><stop offset="0.51" stop-color="#739dc9"/><stop offset="0.52" stop-color="#6490bf"/><stop offset="0.526" stop-color="#6c97c4"/><stop offset="0.536" stop-color="#92b7de"/><stop offset="0.543" stop-color="#9c789b"/><stop offset="0.546" stop-color="#9f6482"/><stop offset="0.549" stop-color="#a05b78"/><stop offset="0.553" stop-color="#a05e7b"/><stop offset="0.559" stop-color="#9c799b"/><stop offset="0.566" stop-color="#969dc4"/><stop offset="0.572" stop-color="#93b4db"/><stop offset="0.628" stop-color="#76a0cb"/><stop offset="0.638" stop-color="#6691c0"/><stop offset="0.651" stop-color="#4170a4"/><stop offset="0.658" stop-color="#3d6ca1"/><stop offset="0.664" stop-color="#4e7cae"/><stop offset="0.668" stop-color="#5f8bbb"/><stop offset="0.671" stop-color="#79a3ce"/><stop offset="0.674" stop-color="#8bb2da"/><stop offset="0.681" stop-color="#91b7de"/><stop offset="0.688" stop-color="#7da5d0"/><stop offset="0.697" stop-color="#5683b5"/><stop offset="0.711" stop-color="#517eb1"/><stop offset="0.724" stop-color="#6f9ac7"/><stop offset="0.737" stop-color="#91b7de"/><stop offset="0.743" stop-color="#94bae0"/><stop offset="0.747" stop-color="#95b2d9"/><stop offset="0.75" stop-color="#979bc3"/><stop offset="0.757" stop-color="#9e6a89"/><stop offset="0.763" stop-color="#a24c66"/><stop offset="0.77" stop-color="#a4425a"/><stop offset="0.776" stop-color="#a24d67"/><stop offset="0.78" stop-color="#a05d7a"/><stop offset="0.789" stop-color="#94abd3"/><stop offset="0.793" stop-color="#8eb4db"/><stop offset="0.799" stop-color="#81a9d3"/><stop offset="0.806" stop-color="#93b1d8"/><stop offset="0.809" stop-color="#9a85a9"/><stop offset="0.812" stop-color="#a34963"/><stop offset="0.816" stop-color="#a61524"/><stop offset="0.819" stop-color="#a4000a"/><stop offset="0.839" stop-color="#a4000a"/><stop offset="0.849" stop-color="#a24b65"/><stop offset="0.855" stop-color="#9e6c8c"/><stop offset="0.865" stop-color="#9a83a7"/><stop offset="0.898" stop-color="#96a0c8"/><stop offset="0.974" stop-color="#92b8df"/><stop offset="1" stop-color="#90b6dd"/></linearGradient><linearGradient id="h90" gradientUnits="userSpaceOnUse" x1="410" x2="562" y1="0" y2="0"><stop offset="0" stop-color="#8fb5dc"/><stop offset="0.053" stop-color="#8bb2d9"/><stop offset="0.072" stop-color="#6e99c6"/><stop offset="0.082" stop-color="#6590bf"/><stop offset="0.092" stop-color="#7da6d0"/><stop offset="0.095" stop-color="#8bb1d9"/><stop offset="0.099" stop-color="#94a9d0"/><stop offset="0.105" stop-color="#9d6d8e"/><stop offset="0.109" stop-color="#a05c79"/><stop offset="0.112" stop-color="#a15672"/><stop offset="0.115" stop-color="#a05a76"/><stop offset="0.125" stop-color="#9a85aa"/><stop offset="0.132" stop-color="#95a3ca"/><stop offset="0.141" stop-color="#92b7de"/><stop offset="0.211" stop-color="#8bb2d9"/><stop offset="0.23" stop-color="#6e99c6"/><stop offset="0.24" stop-color="#6590bf"/><stop offset="0.25" stop-color="#7da6d0"/><stop offset="0.253" stop-color="#8bb1d9"/><stop offset="0.257" stop-color="#94a9d0"/><stop offset="0.263" stop-color="#9d6d8e"/><stop offset="0.266" stop-color="#a05c79"/><stop offset="0.27" stop-color="#a15672"/><stop offset="0.273" stop-color="#a05a76"/><stop offset="0.283" stop-color="#9a85aa"/><stop offset="0.289" stop-color="#95a3ca"/><stop offset="0.299" stop-color="#92b7de"/><stop offset="0.342" stop-color="#89b0d8"/><stop offset="0.368" stop-color="#6490bf"/><stop offset="0.375" stop-color="#6f99c6"/><stop offset="0.382" stop-color="#87aed6"/><stop offset="0.385" stop-color="#93b2d9"/><stop offset="0.391" stop-color="#9c7596"/><stop offset="0.395" stop-color="#9f607e"/><stop offset="0.398" stop-color="#a15773"/><stop offset="0.401" stop-color="#a15874"/><stop offset="0.408" stop-color="#9d6f90"/><stop offset="0.418" stop-color="#969fc7"/><stop offset="0.428" stop-color="#92b6dd"/><stop offset="0.493" stop-color="#8bb1d9"/><stop offset="0.51" stop-color="#739dc9"/><stop offset="0.52" stop-color="#6490bf"/><stop offset="0.526" stop-color="#6c97c4"/><stop offset="0.536" stop-color="#92b7de"/><stop offset="0.543" stop-color="#9c789b"/><stop offset="0.546" stop-color="#9f6482"/><stop offset="0.549" stop-color="#a05b78"/><stop offset="0.553" stop-color="#a05e7b"/><stop offset="0.559" stop-color="#9c799b"/><stop offset="0.566" stop-color="#969dc5"/><stop offset="0.572" stop-color="#93b4db"/><stop offset="0.628" stop-color="#759fcb"/><stop offset="0.641" stop-color="#5b88b9"/><stop offset="0.655" stop-color="#3c6ba0"/><stop offset="0.661" stop-color="#4271a5"/><stop offset="0.668" stop-color="#5d8aba"/><stop offset="0.671" stop-color="#78a1cd"/><stop offset="0.674" stop-color="#8ab0d8"/><stop offset="0.678" stop-color="#91b7de"/><stop offset="0.684" stop-color="#88afd7"/><stop offset="0.697" stop-color="#5481b4"/><stop offset="0.711" stop-color="#4f7daf"/><stop offset="0.72" stop-color="#648fbf"/><stop offset="0.737" stop-color="#91b8de"/><stop offset="0.743" stop-color="#94bae0"/><stop offset="0.747" stop-color="#95b2d9"/><stop offset="0.75" stop-color="#979ac1"/><stop offset="0.757" stop-color="#9e6786"/><stop offset="0.763" stop-color="#a34962"/><stop offset="0.77" stop-color="#a43e55"/><stop offset="0.776" stop-color="#a34962"/><stop offset="0.78" stop-color="#a15874"/><stop offset="0.789" stop-color="#95a7cf"/><stop offset="0.793" stop-color="#90b6dd"/><stop offset="0.799" stop-color="#84abd4"/><stop offset="0.803" stop-color="#8ab0d8"/><stop offset="0.806" stop-color="#94add5"/><stop offset="0.809" stop-color="#9a81a4"/><stop offset="0.812" stop-color="#a3455e"/><stop offset="0.816" stop-color="#a61120"/><stop offset="0.819" stop-color="#a4000a"/><stop offset="0.839" stop-color="#a4000a"/><stop offset="0.849" stop-color="#a34962"/><stop offset="0.855" stop-color="#9e6a89"/><stop offset="0.865" stop-color="#9a81a5"/><stop offset="0.898" stop-color="#969fc7"/><stop offset="0.974" stop-color="#92b8df"/><stop offset="1" stop-color="#90b6dd"/></linearGradient><linearGradient id="h91" gradientUnits="userSpaceOnUse" x1="410" x2="562" y1="0" y2="0"><stop offset="0" stop-color="#8fb5dc"/><stop offset="0.053" stop-color="#8bb2d9"/><stop offset="0.072" stop-color="#6e99c6"/><stop offset="0.082" stop-color="#6590bf"/><stop offset="0.092" stop-color="#7da6d0"/><stop offset="0.095" stop-color="#8bb1d9"/><stop offset="0.099" stop-color="#94a9d0"/><stop offset="0.105" stop-color="#9d6d8e"/><stop offset="0.109" stop-color="#a05c79"/><stop offset="0.112" stop-color="#a15672"/><stop offset="0.115" stop-color="#a05a76"/><stop offset="0.125" stop-color="#9a85aa"/><stop offset="0.132" stop-color="#95a3ca"/><stop offset="0.141" stop-color="#92b7de"/><stop offset="0.211" stop-color="#8bb2d9"/><stop offset="0.23" stop-color="#6e99c6"/><stop offset="0.24" stop-color="#6590bf"/><stop offset="0.25" stop-color="#7da6d0"/><stop offset="0.253" stop-color="#8bb1d9"/><stop offset="0.257" stop-color="#94a9d0"/><stop offset="0.263" stop-color="#9d6d8e"/><stop offset="0.266" stop-color="#a05c79"/><stop offset="0.27" stop-color="#a15672"/><stop offset="0.273" stop-color="#a05a76"/><stop offset="0.283" stop-color="#9a85aa"/><stop offset="0.289" stop-color="#95a3ca"/><stop offset="0.299" stop-color="#92b7de"/><stop offset="0.342" stop-color="#89b0d8"/><stop offset="0.368" stop-color="#6490bf"/><stop offset="0.375" stop-color="#6f99c6"/><stop offset="0.382" stop-color="#87aed6"/><stop offset="0.385" stop-color="#93b2d9"/><stop offset="0.391" stop-color="#9c7596"/><stop offset="0.395" stop-color="#9f607e"/><stop offset="0.398" stop-color="#a15773"/><stop offset="0.401" stop-color="#a15874"/><stop offset="0.408" stop-color="#9d6f90"/><stop offset="0.418" stop-color="#969fc7"/><stop offset="0.428" stop-color="#92b6dd"/><stop offset="0.493" stop-color="#8bb1d9"/><stop offset="0.51" stop-color="#739dc9"/><stop offset="0.52" stop-color="#6490bf"/><stop offset="0.526" stop-color="#6c97c4"/><stop offset="0.536" stop-color="#92b7de"/><stop offset="0.543" stop-color="#9c789b"/><stop offset="0.546" stop-color="#9f6482"/><stop offset="0.549" stop-color="#a05b78"/><stop offset="0.553" stop-color="#a05e7b"/><stop offset="0.559" stop-color="#9c799c"/><stop offset="0.566" stop-color="#969dc5"/><stop offset="0.572" stop-color="#93b4db"/><stop offset="0.628" stop-color="#759fcb"/><stop offset="0.641" stop-color="#5b87b8"/><stop offset="0.655" stop-color="#3b6b9f"/><stop offset="0.661" stop-color="#4170a4"/><stop offset="0.668" stop-color="#5c88b9"/><stop offset="0.671" stop-color="#76a0cc"/><stop offset="0.674" stop-color="#88afd7"/><stop offset="0.678" stop-color="#90b6dd"/><stop offset="0.684" stop-color="#86add6"/><stop offset="0.694" stop-color="#5b88b9"/><stop offset="0.704" stop-color="#4c7aad"/><stop offset="0.714" stop-color="#527fb2"/><stop offset="0.737" stop-color="#91b8de"/><stop offset="0.743" stop-color="#94bae0"/><stop offset="0.747" stop-color="#95b2d9"/><stop offset="0.75" stop-color="#9799c0"/><stop offset="0.757" stop-color="#9f6483"/><stop offset="0.763" stop-color="#a3455e"/><stop offset="0.77" stop-color="#a53a51"/><stop offset="0.776" stop-color="#a3445d"/><stop offset="0.78" stop-color="#a1536e"/><stop offset="0.789" stop-color="#95a3cb"/><stop offset="0.793" stop-color="#92b8df"/><stop offset="0.799" stop-color="#86add6"/><stop offset="0.803" stop-color="#8cb3da"/><stop offset="0.806" stop-color="#94aad2"/><stop offset="0.809" stop-color="#9b7da0"/><stop offset="0.816" stop-color="#a50e1b"/><stop offset="0.819" stop-color="#a4000a"/><stop offset="0.839" stop-color="#a4000a"/><stop offset="0.849" stop-color="#a3465f"/><stop offset="0.855" stop-color="#9e6786"/><stop offset="0.865" stop-color="#9b7fa3"/><stop offset="0.898" stop-color="#969ec6"/><stop offset="0.974" stop-color="#92b8df"/><stop offset="1" stop-color="#90b6dd"/></linearGradient><linearGradient id="h92" gradientUnits="userSpaceOnUse" x1="410" x2="562" y1="0" y2="0"><stop offset="0" stop-color="#8fb5dc"/><stop offset="0.053" stop-color="#8bb2d9"/><stop offset="0.072" stop-color="#6e99c6"/><stop offset="0.082" stop-color="#6590bf"/><stop offset="0.092" stop-color="#7da6d0"/><stop offset="0.095" stop-color="#8bb1d9"/><stop offset="0.099" stop-color="#94a9d0"/><stop offset="0.105" stop-color="#9d6d8e"/><stop offset="0.109" stop-color="#a05c79"/><stop offset="0.112" stop-color="#a15672"/><stop offset="0.115" stop-color="#a05a76"/><stop offset="0.125" stop-color="#9a85aa"/><stop offset="0.132" stop-color="#95a3ca"/><stop offset="0.141" stop-color="#92b7de"/><stop offset="0.211" stop-color="#8bb2d9"/><stop offset="0.23" stop-color="#6e99c6"/><stop offset="0.24" stop-color="#6590bf"/><stop offset="0.25" stop-color="#7da6d0"/><stop offset="0.253" stop-color="#8bb1d9"/><stop offset="0.257" stop-color="#94a9d0"/><stop offset="0.263" stop-color="#9d6d8e"/><stop offset="0.266" stop-color="#a05c79"/><stop offset="0.27" stop-color="#a15672"/><stop offset="0.273" stop-color="#a05a76"/><stop offset="0.283" stop-color="#9a85aa"/><stop offset="0.289" stop-color="#95a3ca"/><stop offset="0.299" stop-color="#92b7de"/><stop offset="0.342" stop-color="#89b0d8"/><stop offset="0.368" stop-color="#6490bf"/><stop offset="0.375" stop-color="#6f99c6"/><stop offset="0.382" stop-color="#87aed6"/><stop offset="0.385" stop-color="#93b2d9"/><stop offset="0.391" stop-color="#9c7596"/><stop offset="0.395" stop-color="#9f607e"/><stop offset="0.398" stop-color="#a15773"/><stop offset="0.401" stop-color="#a15874"/><stop offset="0.408" stop-color="#9d6f90"/><stop offset="0.418" stop-color="#969fc7"/><stop offset="0.428" stop-color="#92b6dd"/><stop offset="0.493" stop-color="#8bb1d9"/><stop offset="0.51" stop-color="#739dc9"/><stop offset="0.52" stop-color="#6490bf"/><stop offset="0.526" stop-color="#6c97c4"/><stop offset="0.536" stop-color="#92b7de"/><stop offset="0.543" stop-color="#9c799b"/><stop offset="0.546" stop-color="#9f6483"/><stop offset="0.549" stop-color="#a05c78"/><stop offset="0.553" stop-color="#a05e7b"/><stop offset="0.559" stop-color="#9c799c"/><stop offset="0.566" stop-color="#969dc5"/><stop offset="0.572" stop-color="#93b4dc"/><stop offset="0.605" stop-color="#82aad3"/><stop offset="0.632" stop-color="#709bc7"/><stop offset="0.655" stop-color="#3b6a9f"/><stop offset="0.661" stop-color="#406fa3"/><stop offset="0.668" stop-color="#5a87b8"/><stop offset="0.671" stop-color="#759fca"/><stop offset="0.674" stop-color="#86aed6"/><stop offset="0.678" stop-color="#8fb5dc"/><stop offset="0.684" stop-color="#84acd5"/><stop offset="0.694" stop-color="#5986b7"/><stop offset="0.704" stop-color="#4a78ab"/><stop offset="0.714" stop-color="#517eb1"/><stop offset="0.737" stop-color="#91b8de"/><stop offset="0.743" stop-color="#94bae0"/><stop offset="0.747" stop-color="#95b1d8"/><stop offset="0.75" stop-color="#9798bf"/><stop offset="0.757" stop-color="#9f627f"/><stop offset="0.763" stop-color="#a44159"/><stop offset="0.77" stop-color="#a6354c"/><stop offset="0.776" stop-color="#a43f57"/><stop offset="0.78" stop-color="#a24f69"/><stop offset="0.786" stop-color="#9a82a5"/><stop offset="0.789" stop-color="#969fc7"/><stop offset="0.793" stop-color="#92b5dc"/><stop offset="0.799" stop-color="#89b0d8"/><stop offset="0.803" stop-color="#8fb5dc"/><stop offset="0.806" stop-color="#95a6ce"/><stop offset="0.809" stop-color="#9c789b"/><stop offset="0.812" stop-color="#a43d55"/><stop offset="0.816" stop-color="#a50a17"/><stop offset="0.819" stop-color="#a4000a"/><stop offset="0.839" stop-color="#a4000a"/><stop offset="0.842" stop-color="#a61220"/><stop offset="0.849" stop-color="#a3445d"/><stop offset="0.855" stop-color="#9f6584"/><stop offset="0.865" stop-color="#9b7ea1"/><stop offset="0.898" stop-color="#969dc5"/><stop offset="0.974" stop-color="#92b7de"/><stop offset="1" stop-color="#90b6dd"/></linearGradient><linearGradient id="h93" gradientUnits="userSpaceOnUse" x1="410" x2="562" y1="0" y2="0"><stop offset="0" stop-color="#8fb5dc"/><stop offset="0.053" stop-color="#8bb2d9"/><stop offset="0.072" stop-color="#6f99c6"/><stop offset="0.082" stop-color="#6691c0"/><stop offset="0.092" stop-color="#7ea6d1"/><stop offset="0.095" stop-color="#8bb1d9"/><stop offset="0.099" stop-color="#94a9d1"/><stop offset="0.105" stop-color="#9d7090"/><stop offset="0.109" stop-color="#9f5f7c"/><stop offset="0.112" stop-color="#a05975"/><stop offset="0.115" stop-color="#a05c79"/><stop offset="0.125" stop-color="#9987ab"/><stop offset="0.132" stop-color="#95a3cb"/><stop offset="0.141" stop-color="#92b7de"/><stop offset="0.214" stop-color="#89b0d8"/><stop offset="0.237" stop-color="#6691c0"/><stop offset="0.243" stop-color="#6a95c3"/><stop offset="0.253" stop-color="#8bb1d9"/><stop offset="0.257" stop-color="#94a9d1"/><stop offset="0.263" stop-color="#9d7090"/><stop offset="0.266" stop-color="#9f5f7c"/><stop offset="0.27" stop-color="#a05975"/><stop offset="0.273" stop-color="#a05c79"/><stop offset="0.283" stop-color="#9987ab"/><stop offset="0.289" stop-color="#95a3cb"/><stop offset="0.299" stop-color="#92b7de"/><stop offset="0.342" stop-color="#89b0d8"/><stop offset="0.368" stop-color="#6691c0"/><stop offset="0.378" stop-color="#7aa3ce"/><stop offset="0.385" stop-color="#93b2da"/><stop offset="0.391" stop-color="#9c7799"/><stop offset="0.395" stop-color="#9f6381"/><stop offset="0.398" stop-color="#a05a76"/><stop offset="0.401" stop-color="#a05a77"/><stop offset="0.408" stop-color="#9d7193"/><stop offset="0.418" stop-color="#96a0c8"/><stop offset="0.428" stop-color="#92b6dd"/><stop offset="0.493" stop-color="#8bb2d9"/><stop offset="0.513" stop-color="#6d98c5"/><stop offset="0.523" stop-color="#6792c1"/><stop offset="0.533" stop-color="#84abd4"/><stop offset="0.536" stop-color="#92b8df"/><stop offset="0.543" stop-color="#9b7b9d"/><stop offset="0.546" stop-color="#9e6786"/><stop offset="0.549" stop-color="#a05e7c"/><stop offset="0.553" stop-color="#9f617e"/><stop offset="0.559" stop-color="#9b7b9e"/><stop offset="0.566" stop-color="#969ec6"/><stop offset="0.572" stop-color="#92b5dc"/><stop offset="0.605" stop-color="#82aad3"/><stop offset="0.632" stop-color="#709bc7"/><stop offset="0.655" stop-color="#3c6ba0"/><stop offset="0.661" stop-color="#4170a4"/><stop offset="0.668" stop-color="#5a86b8"/><stop offset="0.671" stop-color="#739dc9"/><stop offset="0.674" stop-color="#84acd5"/><stop offset="0.678" stop-color="#8cb2da"/><stop offset="0.684" stop-color="#82aad3"/><stop offset="0.694" stop-color="#5885b6"/><stop offset="0.704" stop-color="#4a78ab"/><stop offset="0.714" stop-color="#517eb1"/><stop offset="0.737" stop-color="#91b8de"/><stop offset="0.743" stop-color="#94bae0"/><stop offset="0.747" stop-color="#95b1d8"/><stop offset="0.75" stop-color="#9798bf"/><stop offset="0.757" stop-color="#9f617f"/><stop offset="0.763" stop-color="#a44159"/><stop offset="0.77" stop-color="#a6354b"/><stop offset="0.776" stop-color="#a43e55"/><stop offset="0.78" stop-color="#a24c66"/><stop offset="0.786" stop-color="#9b7da0"/><stop offset="0.789" stop-color="#9799c1"/><stop offset="0.793" stop-color="#93afd6"/><stop offset="0.796" stop-color="#90b6dd"/><stop offset="0.803" stop-color="#92b8df"/><stop offset="0.806" stop-color="#95a2ca"/><stop offset="0.809" stop-color="#9c7597"/><stop offset="0.816" stop-color="#a50c19"/><stop offset="0.819" stop-color="#a4000a"/><stop offset="0.839" stop-color="#a4000a"/><stop offset="0.849" stop-color="#a3465f"/><stop offset="0.855" stop-color="#9e6685"/><stop offset="0.865" stop-color="#9b7ea1"/><stop offset="0.898" stop-color="#969dc5"/><stop offset="0.974" stop-color="#92b7de"/><stop offset="1" stop-color="#90b6dd"/></linearGradient><linearGradient id="h94" gradientUnits="userSpaceOnUse" x1="410" x2="562" y1="0" y2="0"><stop offset="0" stop-color="#8fb5dc"/><stop offset="0.053" stop-color="#8bb2d9"/><stop offset="0.072" stop-color="#6f99c6"/><stop offset="0.082" stop-color="#6691c0"/><stop offset="0.092" stop-color="#7ea6d1"/><stop offset="0.095" stop-color="#8bb1d9"/><stop offset="0.099" stop-color="#94a9d1"/><stop offset="0.105" stop-color="#9d7090"/><stop offset="0.109" stop-color="#9f5f7c"/><stop offset="0.112" stop-color="#a05975"/><stop offset="0.115" stop-color="#a05c79"/><stop offset="0.125" stop-color="#9987ab"/><stop offset="0.132" stop-color="#95a3cb"/><stop offset="0.141" stop-color="#92b7de"/><stop offset="0.214" stop-color="#89b0d8"/><stop offset="0.237" stop-color="#6691c0"/><stop offset="0.243" stop-color="#6a95c3"/><stop offset="0.253" stop-color="#8bb1d9"/><stop offset="0.257" stop-color="#94a9d1"/><stop offset="0.263" stop-color="#9d7090"/><stop offset="0.266" stop-color="#9f5f7c"/><stop offset="0.27" stop-color="#a05975"/><stop offset="0.273" stop-color="#a05c79"/><stop offset="0.283" stop-color="#9987ab"/><stop offset="0.289" stop-color="#95a3cb"/><stop offset="0.299" stop-color="#92b7de"/><stop offset="0.342" stop-color="#89b0d8"/><stop offset="0.368" stop-color="#6691c0"/><stop offset="0.378" stop-color="#7aa3ce"/><stop offset="0.385" stop-color="#93b2da"/><stop offset="0.391" stop-color="#9c7799"/><stop offset="0.395" stop-color="#9f6381"/><stop offset="0.398" stop-color="#a05a76"/><stop offset="0.401" stop-color="#a05a77"/><stop offset="0.408" stop-color="#9d7193"/><stop offset="0.418" stop-color="#96a0c8"/><stop offset="0.428" stop-color="#92b6dd"/><stop offset="0.493" stop-color="#8bb2d9"/><stop offset="0.513" stop-color="#6d98c5"/><stop offset="0.523" stop-color="#6792c1"/><stop offset="0.533" stop-color="#84abd4"/><stop offset="0.536" stop-color="#92b8df"/><stop offset="0.543" stop-color="#9b7b9d"/><stop offset="0.546" stop-color="#9e6786"/><stop offset="0.549" stop-color="#a05e7c"/><stop offset="0.553" stop-color="#9f617f"/><stop offset="0.559" stop-color="#9b7c9e"/><stop offset="0.566" stop-color="#969fc6"/><stop offset="0.572" stop-color="#92b5dc"/><stop offset="0.605" stop-color="#82aad3"/><stop offset="0.632" stop-color="#709ac7"/><stop offset="0.655" stop-color="#3b6a9f"/><stop offset="0.661" stop-color="#406fa3"/><stop offset="0.668" stop-color="#5885b6"/><stop offset="0.671" stop-color="#719cc8"/><stop offset="0.674" stop-color="#82aad4"/><stop offset="0.678" stop-color="#8ab1d9"/><stop offset="0.684" stop-color="#80a8d2"/><stop offset="0.694" stop-color="#5683b5"/><stop offset="0.704" stop-color="#4977aa"/><stop offset="0.714" stop-color="#4f7db0"/><stop offset="0.737" stop-color="#91b8de"/><stop offset="0.743" stop-color="#94bae1"/><stop offset="0.747" stop-color="#95b1d8"/><stop offset="0.757" stop-color="#9f5f7c"/><stop offset="0.763" stop-color="#a43e55"/><stop offset="0.77" stop-color="#a63146"/><stop offset="0.776" stop-color="#a53950"/><stop offset="0.78" stop-color="#a34760"/><stop offset="0.786" stop-color="#9c789a"/><stop offset="0.789" stop-color="#9794bb"/><stop offset="0.793" stop-color="#94abd2"/><stop offset="0.796" stop-color="#92b8df"/><stop offset="0.803" stop-color="#92b5dc"/><stop offset="0.806" stop-color="#969ec6"/><stop offset="0.809" stop-color="#9d7192"/><stop offset="0.812" stop-color="#a53950"/><stop offset="0.816" stop-color="#a50815"/><stop offset="0.819" stop-color="#a4000a"/><stop offset="0.839" stop-color="#a4000a"/><stop offset="0.842" stop-color="#a61221"/><stop offset="0.849" stop-color="#a4435c"/><stop offset="0.855" stop-color="#9f6482"/><stop offset="0.865" stop-color="#9b7c9f"/><stop offset="0.898" stop-color="#969cc4"/><stop offset="0.97" stop-color="#92b7de"/><stop offset="1" stop-color="#90b6dd"/></linearGradient><linearGradient id="h95" gradientUnits="userSpaceOnUse" x1="410" x2="562" y1="0" y2="0"><stop offset="0" stop-color="#8fb5dc"/><stop offset="0.053" stop-color="#8bb2d9"/><stop offset="0.072" stop-color="#709ac7"/><stop offset="0.082" stop-color="#6792c1"/><stop offset="0.092" stop-color="#7ea7d1"/><stop offset="0.095" stop-color="#8bb2d9"/><stop offset="0.099" stop-color="#94aad1"/><stop offset="0.105" stop-color="#9d7293"/><stop offset="0.109" stop-color="#9f627f"/><stop offset="0.112" stop-color="#a05c78"/><stop offset="0.115" stop-color="#9f5f7c"/><stop offset="0.125" stop-color="#9988ad"/><stop offset="0.132" stop-color="#95a4cc"/><stop offset="0.141" stop-color="#92b8df"/><stop offset="0.214" stop-color="#89b0d8"/><stop offset="0.237" stop-color="#6792c1"/><stop offset="0.243" stop-color="#6b96c4"/><stop offset="0.253" stop-color="#8bb2d9"/><stop offset="0.257" stop-color="#94aad1"/><stop offset="0.263" stop-color="#9d7293"/><stop offset="0.266" stop-color="#9f627f"/><stop offset="0.27" stop-color="#a05c78"/><stop offset="0.273" stop-color="#9f5f7c"/><stop offset="0.283" stop-color="#9988ad"/><stop offset="0.289" stop-color="#95a4cc"/><stop offset="0.299" stop-color="#92b8df"/><stop offset="0.342" stop-color="#8ab0d8"/><stop offset="0.368" stop-color="#6792c1"/><stop offset="0.378" stop-color="#7ba4ce"/><stop offset="0.385" stop-color="#93b3da"/><stop offset="0.391" stop-color="#9c799b"/><stop offset="0.395" stop-color="#9f6584"/><stop offset="0.398" stop-color="#a05c79"/><stop offset="0.401" stop-color="#a05d7a"/><stop offset="0.408" stop-color="#9c7495"/><stop offset="0.418" stop-color="#96a1c9"/><stop offset="0.428" stop-color="#92b6dd"/><stop offset="0.497" stop-color="#89b0d8"/><stop offset="0.52" stop-color="#6692c0"/><stop offset="0.526" stop-color="#6e98c6"/><stop offset="0.536" stop-color="#92b8df"/><stop offset="0.543" stop-color="#9b7da0"/><stop offset="0.546" stop-color="#9e6989"/><stop offset="0.549" stop-color="#9f617f"/><stop offset="0.553" stop-color="#9f6482"/><stop offset="0.559" stop-color="#9b7ea1"/><stop offset="0.566" stop-color="#969fc7"/><stop offset="0.572" stop-color="#92b6dd"/><stop offset="0.605" stop-color="#82aad3"/><stop offset="0.632" stop-color="#709ac7"/><stop offset="0.655" stop-color="#3c6ca0"/><stop offset="0.661" stop-color="#4170a4"/><stop offset="0.668" stop-color="#5885b6"/><stop offset="0.674" stop-color="#80a8d2"/><stop offset="0.678" stop-color="#87aed7"/><stop offset="0.684" stop-color="#7da6d0"/><stop offset="0.694" stop-color="#5582b4"/><stop offset="0.704" stop-color="#4977aa"/><stop offset="0.714" stop-color="#4f7daf"/><stop offset="0.737" stop-color="#91b8de"/><stop offset="0.743" stop-color="#94bae1"/><stop offset="0.747" stop-color="#95b1d8"/><stop offset="0.757" stop-color="#9f5f7c"/><stop offset="0.763" stop-color="#a53d55"/><stop offset="0.77" stop-color="#a73045"/><stop offset="0.776" stop-color="#a5374e"/><stop offset="0.78" stop-color="#a3455d"/><stop offset="0.786" stop-color="#9c7394"/><stop offset="0.793" stop-color="#95a5cc"/><stop offset="0.796" stop-color="#93b2d9"/><stop offset="0.799" stop-color="#92b7de"/><stop offset="0.803" stop-color="#93afd7"/><stop offset="0.806" stop-color="#9798c0"/><stop offset="0.809" stop-color="#9d6d8e"/><stop offset="0.812" stop-color="#a5384f"/><stop offset="0.816" stop-color="#a50a17"/><stop offset="0.819" stop-color="#a4000a"/><stop offset="0.839" stop-color="#a4000a"/><stop offset="0.849" stop-color="#a3455e"/><stop offset="0.855" stop-color="#9f6483"/><stop offset="0.865" stop-color="#9b7c9f"/><stop offset="0.898" stop-color="#969cc4"/><stop offset="0.97" stop-color="#92b7de"/><stop offset="1" stop-color="#90b6dd"/></linearGradient><linearGradient id="h96" gradientUnits="userSpaceOnUse" x1="410" x2="562" y1="0" y2="0"><stop offset="0" stop-color="#8fb5dc"/><stop offset="0.056" stop-color="#89b0d8"/><stop offset="0.079" stop-color="#6893c2"/><stop offset="0.086" stop-color="#6c97c5"/><stop offset="0.095" stop-color="#8bb2d9"/><stop offset="0.099" stop-color="#94aad2"/><stop offset="0.105" stop-color="#9c7496"/><stop offset="0.109" stop-color="#9f6483"/><stop offset="0.112" stop-color="#a05e7c"/><stop offset="0.115" stop-color="#9f6280"/><stop offset="0.132" stop-color="#95a5cc"/><stop offset="0.141" stop-color="#92b8df"/><stop offset="0.214" stop-color="#89b0d8"/><stop offset="0.237" stop-color="#6893c2"/><stop offset="0.243" stop-color="#6c97c5"/><stop offset="0.253" stop-color="#8bb2d9"/><stop offset="0.257" stop-color="#94aad2"/><stop offset="0.263" stop-color="#9c7496"/><stop offset="0.266" stop-color="#9f6483"/><stop offset="0.27" stop-color="#a05e7c"/><stop offset="0.273" stop-color="#9f6280"/><stop offset="0.289" stop-color="#95a5cc"/><stop offset="0.299" stop-color="#92b8df"/><stop offset="0.345" stop-color="#87aed7"/><stop offset="0.368" stop-color="#6893c2"/><stop offset="0.378" stop-color="#7ba4cf"/><stop offset="0.385" stop-color="#93b3da"/><stop offset="0.391" stop-color="#9b7b9d"/><stop offset="0.395" stop-color="#9e6887"/><stop offset="0.398" stop-color="#9f5f7d"/><stop offset="0.401" stop-color="#9f607e"/><stop offset="0.408" stop-color="#9c7698"/><stop offset="0.418" stop-color="#95a2ca"/><stop offset="0.428" stop-color="#92b7de"/><stop offset="0.497" stop-color="#89b0d8"/><stop offset="0.52" stop-color="#6793c1"/><stop offset="0.526" stop-color="#6f99c6"/><stop offset="0.536" stop-color="#92b8df"/><stop offset="0.543" stop-color="#9b7fa2"/><stop offset="0.546" stop-color="#9d6c8c"/><stop offset="0.549" stop-color="#9f6483"/><stop offset="0.553" stop-color="#9e6685"/><stop offset="0.559" stop-color="#9b80a3"/><stop offset="0.566" stop-color="#96a1c9"/><stop offset="0.572" stop-color="#92b6dd"/><stop offset="0.602" stop-color="#82aad4"/><stop offset="0.632" stop-color="#6f9ac7"/><stop offset="0.655" stop-color="#3d6ca0"/><stop offset="0.661" stop-color="#4170a4"/><stop offset="0.668" stop-color="#5683b5"/><stop offset="0.674" stop-color="#7ca5cf"/><stop offset="0.678" stop-color="#83aad4"/><stop offset="0.684" stop-color="#79a2cd"/><stop offset="0.694" stop-color="#5380b2"/><stop offset="0.704" stop-color="#4775a8"/><stop offset="0.714" stop-color="#4e7cae"/><stop offset="0.737" stop-color="#91b8df"/><stop offset="0.743" stop-color="#94bae1"/><stop offset="0.747" stop-color="#95b1d8"/><stop offset="0.757" stop-color="#a05c79"/><stop offset="0.763" stop-color="#a53a50"/><stop offset="0.77" stop-color="#a72b40"/><stop offset="0.776" stop-color="#a63147"/><stop offset="0.78" stop-color="#a53d55"/><stop offset="0.786" stop-color="#9e6989"/><stop offset="0.793" stop-color="#979ac2"/><stop offset="0.796" stop-color="#95a8cf"/><stop offset="0.799" stop-color="#94acd4"/><stop offset="0.803" stop-color="#95a6cd"/><stop offset="0.806" stop-color="#988eb4"/><stop offset="0.809" stop-color="#9e6685"/><stop offset="0.812" stop-color="#a6344a"/><stop offset="0.816" stop-color="#a50815"/><stop offset="0.819" stop-color="#a4000a"/><stop offset="0.839" stop-color="#a4000a"/><stop offset="0.849" stop-color="#a3445d"/><stop offset="0.855" stop-color="#9f6381"/><stop offset="0.868" stop-color="#9b7fa3"/><stop offset="0.908" stop-color="#96a1c9"/><stop offset="0.98" stop-color="#92b8df"/><stop offset="1" stop-color="#90b6dd"/></linearGradient><linearGradient id="h97" gradientUnits="userSpaceOnUse" x1="410" x2="562" y1="0" y2="0"><stop offset="0" stop-color="#8fb5dc"/><stop offset="0.056" stop-color="#89b0d8"/><stop offset="0.079" stop-color="#6994c3"/><stop offset="0.089" stop-color="#759fcb"/><stop offset="0.095" stop-color="#8bb2d9"/><stop offset="0.099" stop-color="#94abd3"/><stop offset="0.105" stop-color="#9c7698"/><stop offset="0.109" stop-color="#9e6786"/><stop offset="0.112" stop-color="#9f617f"/><stop offset="0.115" stop-color="#9f6483"/><stop offset="0.132" stop-color="#95a5cd"/><stop offset="0.141" stop-color="#92b8df"/><stop offset="0.214" stop-color="#89b0d8"/><stop offset="0.237" stop-color="#6994c3"/><stop offset="0.247" stop-color="#759fcb"/><stop offset="0.253" stop-color="#8bb2d9"/><stop offset="0.257" stop-color="#94abd3"/><stop offset="0.263" stop-color="#9c7698"/><stop offset="0.266" stop-color="#9e6786"/><stop offset="0.27" stop-color="#9f617f"/><stop offset="0.273" stop-color="#9f6483"/><stop offset="0.289" stop-color="#95a5cd"/><stop offset="0.299" stop-color="#92b8df"/><stop offset="0.345" stop-color="#87aed7"/><stop offset="0.368" stop-color="#6994c2"/><stop offset="0.378" stop-color="#7ca5cf"/><stop offset="0.385" stop-color="#93b3da"/><stop offset="0.391" stop-color="#9b7da0"/><stop offset="0.395" stop-color="#9e6a8a"/><stop offset="0.398" stop-color="#9f6280"/><stop offset="0.401" stop-color="#9f6381"/><stop offset="0.408" stop-color="#9c789a"/><stop offset="0.418" stop-color="#95a3ca"/><stop offset="0.428" stop-color="#92b7de"/><stop offset="0.497" stop-color="#89b0d8"/><stop offset="0.52" stop-color="#6894c2"/><stop offset="0.526" stop-color="#6f9ac7"/><stop offset="0.536" stop-color="#92b8df"/><stop offset="0.543" stop-color="#9a81a5"/><stop offset="0.546" stop-color="#9d6f8f"/><stop offset="0.549" stop-color="#9e6786"/><stop offset="0.553" stop-color="#9e6989"/><stop offset="0.559" stop-color="#9a82a6"/><stop offset="0.566" stop-color="#95a2c9"/><stop offset="0.572" stop-color="#92b7de"/><stop offset="0.602" stop-color="#82aad4"/><stop offset="0.632" stop-color="#6f9ac7"/><stop offset="0.655" stop-color="#3e6da1"/><stop offset="0.661" stop-color="#4271a5"/><stop offset="0.668" stop-color="#5683b5"/><stop offset="0.674" stop-color="#7aa3ce"/><stop offset="0.681" stop-color="#7ea7d1"/><stop offset="0.697" stop-color="#4b79ac"/><stop offset="0.711" stop-color="#4977aa"/><stop offset="0.72" stop-color="#5f8bbb"/><stop offset="0.734" stop-color="#8ab2da"/><stop offset="0.743" stop-color="#94bae1"/><stop offset="0.747" stop-color="#95b1d8"/><stop offset="0.757" stop-color="#a05c79"/><stop offset="0.763" stop-color="#a53950"/><stop offset="0.77" stop-color="#a72b3f"/><stop offset="0.776" stop-color="#a72f45"/><stop offset="0.783" stop-color="#a24d67"/><stop offset="0.793" stop-color="#9893b9"/><stop offset="0.796" stop-color="#95a1c9"/><stop offset="0.799" stop-color="#95a6ce"/><stop offset="0.803" stop-color="#96a0c8"/><stop offset="0.806" stop-color="#9989ae"/><stop offset="0.809" stop-color="#9f6381"/><stop offset="0.812" stop-color="#a63349"/><stop offset="0.816" stop-color="#a50a17"/><stop offset="0.819" stop-color="#a4000a"/><stop offset="0.839" stop-color="#a4010b"/><stop offset="0.845" stop-color="#a63147"/><stop offset="0.852" stop-color="#a15773"/><stop offset="0.862" stop-color="#9c7496"/><stop offset="0.885" stop-color="#9890b6"/><stop offset="0.918" stop-color="#95a5cd"/><stop offset="0.987" stop-color="#91b7de"/><stop offset="1" stop-color="#90b6dd"/></linearGradient><linearGradient id="h98" gradientUnits="userSpaceOnUse" x1="410" x2="562" y1="0" y2="0"><stop offset="0" stop-color="#8fb5dc"/><stop offset="0.056" stop-color="#89b0d8"/><stop offset="0.079" stop-color="#6b95c3"/><stop offset="0.089" stop-color="#769fcb"/><stop offset="0.095" stop-color="#8bb2da"/><stop offset="0.099" stop-color="#94acd3"/><stop offset="0.105" stop-color="#9c789b"/><stop offset="0.109" stop-color="#9e6989"/><stop offset="0.112" stop-color="#9f6482"/><stop offset="0.118" stop-color="#9d7192"/><stop offset="0.128" stop-color="#969cc3"/><stop offset="0.138" stop-color="#93b4db"/><stop offset="0.207" stop-color="#8db3db"/><stop offset="0.227" stop-color="#78a1cd"/><stop offset="0.24" stop-color="#6b95c3"/><stop offset="0.25" stop-color="#80a8d2"/><stop offset="0.253" stop-color="#8bb2da"/><stop offset="0.257" stop-color="#94acd3"/><stop offset="0.263" stop-color="#9c789b"/><stop offset="0.266" stop-color="#9e6989"/><stop offset="0.27" stop-color="#9f6482"/><stop offset="0.276" stop-color="#9d7192"/><stop offset="0.286" stop-color="#969cc3"/><stop offset="0.296" stop-color="#93b4db"/><stop offset="0.336" stop-color="#8db3db"/><stop offset="0.355" stop-color="#7aa3ce"/><stop offset="0.368" stop-color="#6a95c3"/><stop offset="0.378" stop-color="#7ca5d0"/><stop offset="0.385" stop-color="#93b4db"/><stop offset="0.391" stop-color="#9b7fa2"/><stop offset="0.395" stop-color="#9d6d8d"/><stop offset="0.398" stop-color="#9f6583"/><stop offset="0.401" stop-color="#9e6584"/><stop offset="0.408" stop-color="#9b7a9d"/><stop offset="0.418" stop-color="#95a3cb"/><stop offset="0.428" stop-color="#92b7de"/><stop offset="0.497" stop-color="#89b0d8"/><stop offset="0.52" stop-color="#6a95c3"/><stop offset="0.53" stop-color="#79a3ce"/><stop offset="0.536" stop-color="#92b8df"/><stop offset="0.543" stop-color="#9a83a7"/><stop offset="0.546" stop-color="#9d7192"/><stop offset="0.549" stop-color="#9e6a89"/><stop offset="0.553" stop-color="#9e6c8c"/><stop offset="0.569" stop-color="#94aed5"/><stop offset="0.572" stop-color="#92b7de"/><stop offset="0.605" stop-color="#81a9d3"/><stop offset="0.635" stop-color="#6b96c3"/><stop offset="0.655" stop-color="#3f6ea2"/><stop offset="0.661" stop-color="#4372a5"/><stop offset="0.668" stop-color="#5683b5"/><stop offset="0.674" stop-color="#78a1cc"/><stop offset="0.681" stop-color="#7ba4cf"/><stop offset="0.697" stop-color="#4b79ac"/><stop offset="0.711" stop-color="#4977aa"/><stop offset="0.72" stop-color="#5f8bbb"/><stop offset="0.734" stop-color="#8ab2da"/><stop offset="0.743" stop-color="#94bae1"/><stop offset="0.747" stop-color="#95b1d8"/><stop offset="0.757" stop-color="#a05c79"/><stop offset="0.763" stop-color="#a53950"/><stop offset="0.77" stop-color="#a72a3f"/><stop offset="0.776" stop-color="#a72e43"/><stop offset="0.783" stop-color="#a34a63"/><stop offset="0.793" stop-color="#998cb1"/><stop offset="0.796" stop-color="#979bc2"/><stop offset="0.799" stop-color="#96a0c8"/><stop offset="0.803" stop-color="#9799c1"/><stop offset="0.806" stop-color="#9a83a7"/><stop offset="0.809" stop-color="#9f5f7d"/><stop offset="0.816" stop-color="#a50c19"/><stop offset="0.819" stop-color="#a4000a"/><stop offset="0.836" stop-color="#a4000a"/><stop offset="0.839" stop-color="#a50510"/><stop offset="0.849" stop-color="#a34861"/><stop offset="0.855" stop-color="#9f6483"/><stop offset="0.868" stop-color="#9b7fa3"/><stop offset="0.908" stop-color="#96a1c9"/><stop offset="0.98" stop-color="#92b8df"/><stop offset="1" stop-color="#90b6dd"/></linearGradient><linearGradient id="h99" gradientUnits="userSpaceOnUse" x1="410" x2="562" y1="0" y2="0"><stop offset="0" stop-color="#8fb5dc"/><stop offset="0.056" stop-color="#89b0d8"/><stop offset="0.079" stop-color="#6c96c4"/><stop offset="0.089" stop-color="#76a0cc"/><stop offset="0.095" stop-color="#8bb2da"/><stop offset="0.099" stop-color="#94acd4"/><stop offset="0.105" stop-color="#9b7b9d"/><stop offset="0.109" stop-color="#9d6c8c"/><stop offset="0.112" stop-color="#9e6786"/><stop offset="0.118" stop-color="#9c7395"/><stop offset="0.128" stop-color="#969dc5"/><stop offset="0.138" stop-color="#93b4db"/><stop offset="0.214" stop-color="#89b0d8"/><stop offset="0.237" stop-color="#6c96c4"/><stop offset="0.247" stop-color="#76a0cc"/><stop offset="0.253" stop-color="#8bb2da"/><stop offset="0.257" stop-color="#94acd4"/><stop offset="0.263" stop-color="#9b7b9d"/><stop offset="0.266" stop-color="#9d6c8c"/><stop offset="0.27" stop-color="#9e6786"/><stop offset="0.276" stop-color="#9c7395"/><stop offset="0.286" stop-color="#969dc5"/><stop offset="0.296" stop-color="#93b4db"/><stop offset="0.342" stop-color="#8ab1d9"/><stop offset="0.368" stop-color="#6b96c4"/><stop offset="0.378" stop-color="#7da6d0"/><stop offset="0.385" stop-color="#93b4db"/><stop offset="0.391" stop-color="#9a81a4"/><stop offset="0.395" stop-color="#9d6f90"/><stop offset="0.398" stop-color="#9e6787"/><stop offset="0.401" stop-color="#9e6887"/><stop offset="0.408" stop-color="#9b7c9f"/><stop offset="0.418" stop-color="#95a4cc"/><stop offset="0.428" stop-color="#92b7de"/><stop offset="0.497" stop-color="#89b0d8"/><stop offset="0.52" stop-color="#6b96c4"/><stop offset="0.53" stop-color="#7aa3ce"/><stop offset="0.536" stop-color="#92b8df"/><stop offset="0.543" stop-color="#9a85a9"/><stop offset="0.546" stop-color="#9c7495"/><stop offset="0.549" stop-color="#9d6d8d"/><stop offset="0.553" stop-color="#9d6f8f"/><stop offset="0.569" stop-color="#93afd6"/><stop offset="0.572" stop-color="#92b8df"/><stop offset="0.602" stop-color="#82aad3"/><stop offset="0.632" stop-color="#6f99c6"/><stop offset="0.655" stop-color="#406fa3"/><stop offset="0.664" stop-color="#4a78ab"/><stop offset="0.668" stop-color="#5481b3"/><stop offset="0.674" stop-color="#749eca"/><stop offset="0.681" stop-color="#77a1cc"/><stop offset="0.694" stop-color="#4f7caf"/><stop offset="0.707" stop-color="#4573a7"/><stop offset="0.717" stop-color="#5481b3"/><stop offset="0.734" stop-color="#8ab2da"/><stop offset="0.743" stop-color="#94bbe1"/><stop offset="0.747" stop-color="#95b0d7"/><stop offset="0.757" stop-color="#a05975"/><stop offset="0.763" stop-color="#a6354c"/><stop offset="0.77" stop-color="#a82539"/><stop offset="0.776" stop-color="#a8283c"/><stop offset="0.783" stop-color="#a44159"/><stop offset="0.793" stop-color="#9a80a4"/><stop offset="0.796" stop-color="#988eb4"/><stop offset="0.799" stop-color="#9894ba"/><stop offset="0.803" stop-color="#988eb4"/><stop offset="0.806" stop-color="#9b7a9c"/><stop offset="0.809" stop-color="#a05874"/><stop offset="0.812" stop-color="#a72e43"/><stop offset="0.816" stop-color="#a50a17"/><stop offset="0.819" stop-color="#a4000a"/><stop offset="0.836" stop-color="#a4000a"/><stop offset="0.839" stop-color="#a50712"/><stop offset="0.849" stop-color="#a34760"/><stop offset="0.859" stop-color="#9e6c8c"/><stop offset="0.875" stop-color="#9a86aa"/><stop offset="0.911" stop-color="#95a2c9"/><stop offset="0.984" stop-color="#92b8df"/><stop offset="1" stop-color="#90b6dd"/></linearGradient><linearGradient id="h100" gradientUnits="userSpaceOnUse" x1="410" x2="562" y1="0" y2="0"><stop offset="0" stop-color="#8fb5dc"/><stop offset="0.056" stop-color="#8ab0d8"/><stop offset="0.079" stop-color="#6d97c5"/><stop offset="0.089" stop-color="#77a1cc"/><stop offset="0.095" stop-color="#8cb2da"/><stop offset="0.099" stop-color="#94add4"/><stop offset="0.105" stop-color="#9b7da0"/><stop offset="0.109" stop-color="#9d6f8f"/><stop offset="0.112" stop-color="#9e6a89"/><stop offset="0.118" stop-color="#9c7698"/><stop offset="0.128" stop-color="#969ec6"/><stop offset="0.138" stop-color="#93b5dc"/><stop offset="0.214" stop-color="#8ab0d8"/><stop offset="0.237" stop-color="#6d97c5"/><stop offset="0.247" stop-color="#77a1cc"/><stop offset="0.253" stop-color="#8cb2da"/><stop offset="0.257" stop-color="#94add4"/><stop offset="0.263" stop-color="#9b7da0"/><stop offset="0.266" stop-color="#9d6f8f"/><stop offset="0.27" stop-color="#9e6a89"/><stop offset="0.276" stop-color="#9c7698"/><stop offset="0.286" stop-color="#969ec6"/><stop offset="0.296" stop-color="#93b5dc"/><stop offset="0.345" stop-color="#88afd7"/><stop offset="0.368" stop-color="#6c97c5"/><stop offset="0.378" stop-color="#7da6d0"/><stop offset="0.385" stop-color="#93b4db"/><stop offset="0.391" stop-color="#9a83a7"/><stop offset="0.395" stop-color="#9d7293"/><stop offset="0.398" stop-color="#9e6a8a"/><stop offset="0.401" stop-color="#9e6b8b"/><stop offset="0.411" stop-color="#998cb2"/><stop offset="0.418" stop-color="#95a5cd"/><stop offset="0.428" stop-color="#92b7df"/><stop offset="0.497" stop-color="#89b0d8"/><stop offset="0.52" stop-color="#6c97c4"/><stop offset="0.53" stop-color="#7aa3ce"/><stop offset="0.536" stop-color="#91b7de"/><stop offset="0.543" stop-color="#9987ac"/><stop offset="0.546" stop-color="#9c7799"/><stop offset="0.549" stop-color="#9d7090"/><stop offset="0.553" stop-color="#9d7293"/><stop offset="0.569" stop-color="#93b0d7"/><stop offset="0.572" stop-color="#92b8df"/><stop offset="0.602" stop-color="#82aad3"/><stop offset="0.635" stop-color="#6a95c3"/><stop offset="0.655" stop-color="#406fa3"/><stop offset="0.664" stop-color="#4977ab"/><stop offset="0.674" stop-color="#709ac7"/><stop offset="0.681" stop-color="#729dc9"/><stop offset="0.694" stop-color="#4c7aad"/><stop offset="0.707" stop-color="#4372a6"/><stop offset="0.717" stop-color="#5280b2"/><stop offset="0.734" stop-color="#8ab2d9"/><stop offset="0.743" stop-color="#94bbe1"/><stop offset="0.747" stop-color="#95b0d7"/><stop offset="0.757" stop-color="#a15772"/><stop offset="0.763" stop-color="#a63247"/><stop offset="0.77" stop-color="#a72133"/><stop offset="0.776" stop-color="#a82235"/><stop offset="0.783" stop-color="#a53950"/><stop offset="0.793" stop-color="#9c7597"/><stop offset="0.796" stop-color="#9a82a6"/><stop offset="0.799" stop-color="#9988ad"/><stop offset="0.803" stop-color="#9a83a7"/><stop offset="0.806" stop-color="#9d7091"/><stop offset="0.812" stop-color="#a72a3e"/><stop offset="0.816" stop-color="#a50814"/><stop offset="0.819" stop-color="#a4000a"/><stop offset="0.836" stop-color="#a4000a"/><stop offset="0.839" stop-color="#a50814"/><stop offset="0.849" stop-color="#a3465f"/><stop offset="0.859" stop-color="#9e6a8a"/><stop offset="0.875" stop-color="#9a84a8"/><stop offset="0.911" stop-color="#96a1c9"/><stop offset="0.984" stop-color="#92b8df"/><stop offset="1" stop-color="#90b6dd"/></linearGradient><linearGradient id="h101" gradientUnits="userSpaceOnUse" x1="410" x2="562" y1="0" y2="0"><stop offset="0" stop-color="#8fb5dc"/><stop offset="0.056" stop-color="#8ab1d9"/><stop offset="0.079" stop-color="#6e99c6"/><stop offset="0.089" stop-color="#78a1cd"/><stop offset="0.095" stop-color="#8cb2da"/><stop offset="0.099" stop-color="#94add5"/><stop offset="0.105" stop-color="#9b7fa2"/><stop offset="0.109" stop-color="#9d7192"/><stop offset="0.112" stop-color="#9d6c8d"/><stop offset="0.118" stop-color="#9c789a"/><stop offset="0.128" stop-color="#969fc7"/><stop offset="0.138" stop-color="#92b5dc"/><stop offset="0.214" stop-color="#8ab1d9"/><stop offset="0.237" stop-color="#6e99c6"/><stop offset="0.247" stop-color="#78a1cd"/><stop offset="0.253" stop-color="#8cb2da"/><stop offset="0.257" stop-color="#94add5"/><stop offset="0.263" stop-color="#9b7fa2"/><stop offset="0.266" stop-color="#9d7192"/><stop offset="0.27" stop-color="#9d6c8d"/><stop offset="0.276" stop-color="#9c789a"/><stop offset="0.286" stop-color="#969fc7"/><stop offset="0.296" stop-color="#92b5dc"/><stop offset="0.345" stop-color="#88afd7"/><stop offset="0.368" stop-color="#6e98c6"/><stop offset="0.378" stop-color="#7ea6d1"/><stop offset="0.385" stop-color="#93b5dc"/><stop offset="0.391" stop-color="#9a85a9"/><stop offset="0.395" stop-color="#9c7596"/><stop offset="0.398" stop-color="#9d6d8d"/><stop offset="0.405" stop-color="#9c7597"/><stop offset="0.418" stop-color="#95a6cd"/><stop offset="0.428" stop-color="#92b8df"/><stop offset="0.497" stop-color="#8ab0d8"/><stop offset="0.52" stop-color="#6d98c5"/><stop offset="0.53" stop-color="#7ba4cf"/><stop offset="0.536" stop-color="#91b7de"/><stop offset="0.543" stop-color="#9989ae"/><stop offset="0.546" stop-color="#9c799c"/><stop offset="0.549" stop-color="#9d7294"/><stop offset="0.556" stop-color="#9b7ea1"/><stop offset="0.566" stop-color="#95a6ce"/><stop offset="0.572" stop-color="#91b7de"/><stop offset="0.605" stop-color="#80a8d2"/><stop offset="0.635" stop-color="#6994c2"/><stop offset="0.655" stop-color="#4170a4"/><stop offset="0.664" stop-color="#4977aa"/><stop offset="0.674" stop-color="#6b96c4"/><stop offset="0.681" stop-color="#6e98c6"/><stop offset="0.697" stop-color="#4573a7"/><stop offset="0.711" stop-color="#4473a6"/><stop offset="0.72" stop-color="#5b87b8"/><stop offset="0.734" stop-color="#8ab1d9"/><stop offset="0.743" stop-color="#95bbe1"/><stop offset="0.747" stop-color="#95b0d7"/><stop offset="0.757" stop-color="#a1546f"/><stop offset="0.763" stop-color="#a72e43"/><stop offset="0.77" stop-color="#a71c2e"/><stop offset="0.776" stop-color="#a71c2d"/><stop offset="0.783" stop-color="#a63147"/><stop offset="0.793" stop-color="#9e6a89"/><stop offset="0.796" stop-color="#9c7698"/><stop offset="0.799" stop-color="#9b7c9f"/><stop offset="0.803" stop-color="#9c789a"/><stop offset="0.806" stop-color="#9e6786"/><stop offset="0.812" stop-color="#a82539"/><stop offset="0.816" stop-color="#a50612"/><stop offset="0.822" stop-color="#a4000a"/><stop offset="0.836" stop-color="#a4000a"/><stop offset="0.839" stop-color="#a50915"/><stop offset="0.849" stop-color="#a3455e"/><stop offset="0.859" stop-color="#9e6888"/><stop offset="0.878" stop-color="#9a86aa"/><stop offset="0.914" stop-color="#95a2ca"/><stop offset="0.987" stop-color="#92b8df"/><stop offset="1" stop-color="#90b6dd"/></linearGradient><linearGradient id="h102" gradientUnits="userSpaceOnUse" x1="410" x2="562" y1="0" y2="0"><stop offset="0" stop-color="#8fb5dc"/><stop offset="0.056" stop-color="#8ab1d9"/><stop offset="0.079" stop-color="#6f9ac7"/><stop offset="0.089" stop-color="#79a2cd"/><stop offset="0.095" stop-color="#8cb2da"/><stop offset="0.099" stop-color="#94aed5"/><stop offset="0.105" stop-color="#9a81a5"/><stop offset="0.109" stop-color="#9c7496"/><stop offset="0.112" stop-color="#9d6f90"/><stop offset="0.118" stop-color="#9b7b9d"/><stop offset="0.128" stop-color="#96a0c8"/><stop offset="0.138" stop-color="#92b5dc"/><stop offset="0.214" stop-color="#8ab1d9"/><stop offset="0.237" stop-color="#6f9ac7"/><stop offset="0.247" stop-color="#79a2cd"/><stop offset="0.253" stop-color="#8cb2da"/><stop offset="0.257" stop-color="#94aed5"/><stop offset="0.263" stop-color="#9a81a5"/><stop offset="0.266" stop-color="#9c7496"/><stop offset="0.27" stop-color="#9d6f90"/><stop offset="0.276" stop-color="#9b7b9d"/><stop offset="0.286" stop-color="#96a0c8"/><stop offset="0.296" stop-color="#92b5dc"/><stop offset="0.345" stop-color="#88afd7"/><stop offset="0.368" stop-color="#6f99c6"/><stop offset="0.378" stop-color="#7ea7d1"/><stop offset="0.385" stop-color="#92b5dc"/><stop offset="0.391" stop-color="#9987ab"/><stop offset="0.395" stop-color="#9c7799"/><stop offset="0.398" stop-color="#9d7091"/><stop offset="0.405" stop-color="#9c789a"/><stop offset="0.418" stop-color="#95a6ce"/><stop offset="0.428" stop-color="#92b8df"/><stop offset="0.497" stop-color="#8ab1d8"/><stop offset="0.52" stop-color="#6e99c6"/><stop offset="0.53" stop-color="#7ca4cf"/><stop offset="0.536" stop-color="#91b7de"/><stop offset="0.543" stop-color="#998cb1"/><stop offset="0.546" stop-color="#9b7c9f"/><stop offset="0.549" stop-color="#9c7597"/><stop offset="0.556" stop-color="#9a80a4"/><stop offset="0.566" stop-color="#95a7cf"/><stop offset="0.572" stop-color="#91b7de"/><stop offset="0.632" stop-color="#6d98c5"/><stop offset="0.655" stop-color="#4170a4"/><stop offset="0.664" stop-color="#4876a9"/><stop offset="0.674" stop-color="#6793c1"/><stop offset="0.681" stop-color="#6994c2"/><stop offset="0.697" stop-color="#4271a5"/><stop offset="0.711" stop-color="#4372a5"/><stop offset="0.72" stop-color="#5986b7"/><stop offset="0.734" stop-color="#8ab1d9"/><stop offset="0.743" stop-color="#95bbe1"/><stop offset="0.747" stop-color="#95afd6"/><stop offset="0.757" stop-color="#a2516c"/><stop offset="0.763" stop-color="#a72a3f"/><stop offset="0.77" stop-color="#a61828"/><stop offset="0.776" stop-color="#a61626"/><stop offset="0.783" stop-color="#a8293e"/><stop offset="0.793" stop-color="#a05f7c"/><stop offset="0.799" stop-color="#9d7091"/><stop offset="0.803" stop-color="#9d6d8d"/><stop offset="0.806" stop-color="#a05d7b"/><stop offset="0.812" stop-color="#a72134"/><stop offset="0.816" stop-color="#a4040f"/><stop offset="0.826" stop-color="#a4000a"/><stop offset="0.836" stop-color="#a4000a"/><stop offset="0.839" stop-color="#a50a17"/><stop offset="0.849" stop-color="#a3445d"/><stop offset="0.859" stop-color="#9e6786"/><stop offset="0.878" stop-color="#9a84a9"/><stop offset="0.914" stop-color="#96a1c9"/><stop offset="0.987" stop-color="#92b8df"/><stop offset="1" stop-color="#90b6dd"/></linearGradient><linearGradient id="h103" gradientUnits="userSpaceOnUse" x1="410" x2="562" y1="0" y2="0"><stop offset="0" stop-color="#8fb5dc"/><stop offset="0.056" stop-color="#8ab1d9"/><stop offset="0.082" stop-color="#709bc7"/><stop offset="0.092" stop-color="#82aad3"/><stop offset="0.095" stop-color="#8cb2da"/><stop offset="0.099" stop-color="#93aed6"/><stop offset="0.105" stop-color="#9a83a8"/><stop offset="0.109" stop-color="#9c7799"/><stop offset="0.112" stop-color="#9d7293"/><stop offset="0.118" stop-color="#9b7da0"/><stop offset="0.132" stop-color="#94aad1"/><stop offset="0.141" stop-color="#92b8df"/><stop offset="0.214" stop-color="#8ab1d9"/><stop offset="0.24" stop-color="#709bc7"/><stop offset="0.25" stop-color="#82aad3"/><stop offset="0.253" stop-color="#8cb2da"/><stop offset="0.257" stop-color="#93aed6"/><stop offset="0.263" stop-color="#9a83a8"/><stop offset="0.266" stop-color="#9c7799"/><stop offset="0.27" stop-color="#9d7293"/><stop offset="0.276" stop-color="#9b7da0"/><stop offset="0.289" stop-color="#94aad1"/><stop offset="0.299" stop-color="#92b8df"/><stop offset="0.345" stop-color="#88afd8"/><stop offset="0.368" stop-color="#709ac7"/><stop offset="0.378" stop-color="#7fa7d1"/><stop offset="0.385" stop-color="#92b5dc"/><stop offset="0.391" stop-color="#9989ae"/><stop offset="0.395" stop-color="#9b7a9c"/><stop offset="0.398" stop-color="#9d7394"/><stop offset="0.405" stop-color="#9b7a9d"/><stop offset="0.418" stop-color="#95a7cf"/><stop offset="0.428" stop-color="#92b8df"/><stop offset="0.497" stop-color="#8ab1d9"/><stop offset="0.52" stop-color="#6f9ac7"/><stop offset="0.53" stop-color="#7ca5cf"/><stop offset="0.536" stop-color="#91b7de"/><stop offset="0.546" stop-color="#9b7fa2"/><stop offset="0.549" stop-color="#9c789b"/><stop offset="0.556" stop-color="#9a83a7"/><stop offset="0.566" stop-color="#94a8d0"/><stop offset="0.572" stop-color="#91b7de"/><stop offset="0.632" stop-color="#6c97c5"/><stop offset="0.655" stop-color="#4270a4"/><stop offset="0.664" stop-color="#4775a9"/><stop offset="0.674" stop-color="#638fbe"/><stop offset="0.681" stop-color="#6490bf"/><stop offset="0.697" stop-color="#406fa3"/><stop offset="0.711" stop-color="#4170a4"/><stop offset="0.72" stop-color="#5885b6"/><stop offset="0.734" stop-color="#8ab1d9"/><stop offset="0.743" stop-color="#95bbe1"/><stop offset="0.747" stop-color="#96afd6"/><stop offset="0.757" stop-color="#a24e68"/><stop offset="0.763" stop-color="#a8263a"/><stop offset="0.77" stop-color="#a61322"/><stop offset="0.776" stop-color="#a6111f"/><stop offset="0.783" stop-color="#a82235"/><stop offset="0.793" stop-color="#a1546f"/><stop offset="0.799" stop-color="#9f6584"/><stop offset="0.803" stop-color="#9f6280"/><stop offset="0.806" stop-color="#a15470"/><stop offset="0.809" stop-color="#a53c53"/><stop offset="0.816" stop-color="#a4020d"/><stop offset="0.836" stop-color="#a4000a"/><stop offset="0.839" stop-color="#a50b18"/><stop offset="0.849" stop-color="#a4435c"/><stop offset="0.859" stop-color="#9f6584"/><stop offset="0.878" stop-color="#9a83a7"/><stop offset="0.914" stop-color="#96a1c8"/><stop offset="0.987" stop-color="#92b8df"/><stop offset="1" stop-color="#90b6dd"/></linearGradient><linearGradient id="h104" gradientUnits="userSpaceOnUse" x1="410" x2="562" y1="0" y2="0"><stop offset="0" stop-color="#8fb5dc"/><stop offset="0.056" stop-color="#8ab1d9"/><stop offset="0.082" stop-color="#719cc8"/><stop offset="0.092" stop-color="#82aad3"/><stop offset="0.095" stop-color="#8cb2da"/><stop offset="0.099" stop-color="#93afd6"/><stop offset="0.105" stop-color="#9a86aa"/><stop offset="0.109" stop-color="#9c799c"/><stop offset="0.112" stop-color="#9c7597"/><stop offset="0.118" stop-color="#9b7fa3"/><stop offset="0.132" stop-color="#94aad2"/><stop offset="0.141" stop-color="#91b7de"/><stop offset="0.214" stop-color="#8ab1d9"/><stop offset="0.24" stop-color="#719cc8"/><stop offset="0.25" stop-color="#82aad3"/><stop offset="0.253" stop-color="#8cb2da"/><stop offset="0.257" stop-color="#93afd6"/><stop offset="0.263" stop-color="#9a86aa"/><stop offset="0.266" stop-color="#9c799c"/><stop offset="0.27" stop-color="#9c7597"/><stop offset="0.276" stop-color="#9b7fa3"/><stop offset="0.289" stop-color="#94aad2"/><stop offset="0.299" stop-color="#91b7de"/><stop offset="0.345" stop-color="#89b0d8"/><stop offset="0.368" stop-color="#719bc8"/><stop offset="0.378" stop-color="#80a8d2"/><stop offset="0.385" stop-color="#92b5dd"/><stop offset="0.391" stop-color="#998bb0"/><stop offset="0.395" stop-color="#9b7c9f"/><stop offset="0.398" stop-color="#9c7597"/><stop offset="0.405" stop-color="#9b7da0"/><stop offset="0.418" stop-color="#94a8d0"/><stop offset="0.428" stop-color="#92b8df"/><stop offset="0.497" stop-color="#8ab1d9"/><stop offset="0.52" stop-color="#709bc7"/><stop offset="0.53" stop-color="#7da5d0"/><stop offset="0.536" stop-color="#91b7de"/><stop offset="0.546" stop-color="#9a81a5"/><stop offset="0.549" stop-color="#9b7b9e"/><stop offset="0.556" stop-color="#9a85aa"/><stop offset="0.566" stop-color="#94a9d1"/><stop offset="0.572" stop-color="#91b7de"/><stop offset="0.632" stop-color="#6c96c4"/><stop offset="0.655" stop-color="#4271a4"/><stop offset="0.664" stop-color="#4675a8"/><stop offset="0.674" stop-color="#5f8bbc"/><stop offset="0.681" stop-color="#608cbc"/><stop offset="0.697" stop-color="#3e6da2"/><stop offset="0.711" stop-color="#406fa3"/><stop offset="0.72" stop-color="#5784b6"/><stop offset="0.734" stop-color="#8ab1d9"/><stop offset="0.74" stop-color="#95bbe1"/><stop offset="0.743" stop-color="#95bbe1"/><stop offset="0.747" stop-color="#96afd6"/><stop offset="0.757" stop-color="#a24c65"/><stop offset="0.763" stop-color="#a82336"/><stop offset="0.77" stop-color="#a60f1d"/><stop offset="0.776" stop-color="#a50b18"/><stop offset="0.783" stop-color="#a71a2b"/><stop offset="0.793" stop-color="#a34962"/><stop offset="0.799" stop-color="#a05a76"/><stop offset="0.803" stop-color="#a15874"/><stop offset="0.806" stop-color="#a24b65"/><stop offset="0.809" stop-color="#a6354b"/><stop offset="0.816" stop-color="#a4000a"/><stop offset="0.836" stop-color="#a4000a"/><stop offset="0.839" stop-color="#a50c19"/><stop offset="0.849" stop-color="#a4425b"/><stop offset="0.859" stop-color="#9f6381"/><stop offset="0.878" stop-color="#9a81a5"/><stop offset="0.918" stop-color="#95a2ca"/><stop offset="0.987" stop-color="#92b8df"/><stop offset="1" stop-color="#90b6dd"/></linearGradient><linearGradient id="h105" gradientUnits="userSpaceOnUse" x1="410" x2="562" y1="0" y2="0"><stop offset="0" stop-color="#8fb5dc"/><stop offset="0.056" stop-color="#8ab1d9"/><stop offset="0.082" stop-color="#729dc9"/><stop offset="0.092" stop-color="#83aad4"/><stop offset="0.095" stop-color="#8cb2da"/><stop offset="0.099" stop-color="#93afd7"/><stop offset="0.105" stop-color="#9988ad"/><stop offset="0.109" stop-color="#9b7c9f"/><stop offset="0.115" stop-color="#9b7a9d"/><stop offset="0.132" stop-color="#94abd2"/><stop offset="0.141" stop-color="#91b7de"/><stop offset="0.214" stop-color="#8ab1d9"/><stop offset="0.24" stop-color="#729dc9"/><stop offset="0.25" stop-color="#83aad4"/><stop offset="0.253" stop-color="#8cb2da"/><stop offset="0.257" stop-color="#93afd7"/><stop offset="0.263" stop-color="#9988ad"/><stop offset="0.266" stop-color="#9b7c9f"/><stop offset="0.273" stop-color="#9b7a9d"/><stop offset="0.289" stop-color="#94abd2"/><stop offset="0.299" stop-color="#91b7de"/><stop offset="0.345" stop-color="#89b0d8"/><stop offset="0.368" stop-color="#729cc9"/><stop offset="0.378" stop-color="#80a8d2"/><stop offset="0.385" stop-color="#92b6dd"/><stop offset="0.391" stop-color="#998db2"/><stop offset="0.395" stop-color="#9b7fa2"/><stop offset="0.398" stop-color="#9c789a"/><stop offset="0.405" stop-color="#9b7fa3"/><stop offset="0.418" stop-color="#94a9d0"/><stop offset="0.428" stop-color="#92b8df"/><stop offset="0.497" stop-color="#8ab1d9"/><stop offset="0.52" stop-color="#729cc8"/><stop offset="0.53" stop-color="#7da6d0"/><stop offset="0.536" stop-color="#91b7de"/><stop offset="0.546" stop-color="#9a84a8"/><stop offset="0.549" stop-color="#9b7ea1"/><stop offset="0.556" stop-color="#9988ad"/><stop offset="0.566" stop-color="#94abd2"/><stop offset="0.572" stop-color="#90b6dd"/><stop offset="0.632" stop-color="#6b96c4"/><stop offset="0.655" stop-color="#4271a5"/><stop offset="0.664" stop-color="#4674a8"/><stop offset="0.678" stop-color="#5e8abb"/><stop offset="0.697" stop-color="#3d6ca0"/><stop offset="0.711" stop-color="#3e6da2"/><stop offset="0.72" stop-color="#5683b5"/><stop offset="0.734" stop-color="#8ab1d9"/><stop offset="0.74" stop-color="#95bbe1"/><stop offset="0.743" stop-color="#95bbe1"/><stop offset="0.747" stop-color="#96afd6"/><stop offset="0.757" stop-color="#a34962"/><stop offset="0.763" stop-color="#a71f31"/><stop offset="0.77" stop-color="#a50a17"/><stop offset="0.776" stop-color="#a50511"/><stop offset="0.783" stop-color="#a61322"/><stop offset="0.793" stop-color="#a43e56"/><stop offset="0.799" stop-color="#a24f69"/><stop offset="0.803" stop-color="#a24d67"/><stop offset="0.806" stop-color="#a4425b"/><stop offset="0.816" stop-color="#a4000a"/><stop offset="0.836" stop-color="#a4000a"/><stop offset="0.842" stop-color="#a71f32"/><stop offset="0.852" stop-color="#a24f69"/><stop offset="0.865" stop-color="#9d6e8f"/><stop offset="0.898" stop-color="#9894ba"/><stop offset="0.944" stop-color="#94add4"/><stop offset="0.997" stop-color="#91b7de"/><stop offset="1" stop-color="#90b6dd"/></linearGradient><linearGradient id="h106" gradientUnits="userSpaceOnUse" x1="410" x2="562" y1="0" y2="0"><stop offset="0" stop-color="#8fb5dc"/><stop offset="0.056" stop-color="#8bb1d9"/><stop offset="0.082" stop-color="#749eca"/><stop offset="0.092" stop-color="#83abd4"/><stop offset="0.095" stop-color="#8cb3da"/><stop offset="0.099" stop-color="#93b0d7"/><stop offset="0.105" stop-color="#998aaf"/><stop offset="0.109" stop-color="#9b7fa2"/><stop offset="0.115" stop-color="#9b7da0"/><stop offset="0.132" stop-color="#94acd3"/><stop offset="0.141" stop-color="#91b7de"/><stop offset="0.214" stop-color="#8bb1d9"/><stop offset="0.24" stop-color="#749eca"/><stop offset="0.25" stop-color="#83abd4"/><stop offset="0.253" stop-color="#8cb3da"/><stop offset="0.257" stop-color="#93b0d7"/><stop offset="0.263" stop-color="#998aaf"/><stop offset="0.266" stop-color="#9b7fa2"/><stop offset="0.273" stop-color="#9b7da0"/><stop offset="0.289" stop-color="#94acd3"/><stop offset="0.299" stop-color="#91b7de"/><stop offset="0.345" stop-color="#89b0d8"/><stop offset="0.368" stop-color="#739dc9"/><stop offset="0.378" stop-color="#81a9d2"/><stop offset="0.385" stop-color="#92b6dd"/><stop offset="0.395" stop-color="#9a81a5"/><stop offset="0.401" stop-color="#9b7c9e"/><stop offset="0.418" stop-color="#94aad1"/><stop offset="0.428" stop-color="#92b8df"/><stop offset="0.497" stop-color="#8ab1d9"/><stop offset="0.52" stop-color="#739dc9"/><stop offset="0.53" stop-color="#7ea6d1"/><stop offset="0.536" stop-color="#91b7de"/><stop offset="0.546" stop-color="#9a87ab"/><stop offset="0.549" stop-color="#9a81a5"/><stop offset="0.556" stop-color="#998bb0"/><stop offset="0.569" stop-color="#93b5dc"/><stop offset="0.602" stop-color="#80a8d2"/><stop offset="0.635" stop-color="#6792c1"/><stop offset="0.655" stop-color="#4372a6"/><stop offset="0.664" stop-color="#4674a8"/><stop offset="0.678" stop-color="#5b88b9"/><stop offset="0.697" stop-color="#3c6ba0"/><stop offset="0.711" stop-color="#3e6da2"/><stop offset="0.72" stop-color="#5683b5"/><stop offset="0.734" stop-color="#8ab1d9"/><stop offset="0.74" stop-color="#95bbe1"/><stop offset="0.743" stop-color="#95bbe1"/><stop offset="0.747" stop-color="#96afd6"/><stop offset="0.757" stop-color="#a34962"/><stop offset="0.763" stop-color="#a71f31"/><stop offset="0.77" stop-color="#a50a16"/><stop offset="0.776" stop-color="#a4040f"/><stop offset="0.783" stop-color="#a6101f"/><stop offset="0.796" stop-color="#a4425b"/><stop offset="0.803" stop-color="#a34861"/><stop offset="0.806" stop-color="#a43e56"/><stop offset="0.816" stop-color="#a4000a"/><stop offset="0.836" stop-color="#a4000a"/><stop offset="0.849" stop-color="#a4435b"/><stop offset="0.859" stop-color="#9f6280"/><stop offset="0.878" stop-color="#9b80a3"/><stop offset="0.918" stop-color="#96a1c9"/><stop offset="0.987" stop-color="#92b8df"/><stop offset="1" stop-color="#90b6dd"/></linearGradient><linearGradient id="h107" gradientUnits="userSpaceOnUse" x1="410" x2="562" y1="0" y2="0"><stop offset="0" stop-color="#8fb5dc"/><stop offset="0.056" stop-color="#8bb1d9"/><stop offset="0.082" stop-color="#759fca"/><stop offset="0.092" stop-color="#84abd4"/><stop offset="0.095" stop-color="#8cb3da"/><stop offset="0.099" stop-color="#93b0d8"/><stop offset="0.105" stop-color="#998cb2"/><stop offset="0.109" stop-color="#9a81a5"/><stop offset="0.115" stop-color="#9b80a3"/><stop offset="0.132" stop-color="#94acd4"/><stop offset="0.141" stop-color="#91b7de"/><stop offset="0.214" stop-color="#8bb1d9"/><stop offset="0.24" stop-color="#759fca"/><stop offset="0.25" stop-color="#84abd4"/><stop offset="0.253" stop-color="#8cb3da"/><stop offset="0.257" stop-color="#93b0d8"/><stop offset="0.263" stop-color="#998cb2"/><stop offset="0.266" stop-color="#9a81a5"/><stop offset="0.273" stop-color="#9b80a3"/><stop offset="0.289" stop-color="#94acd4"/><stop offset="0.299" stop-color="#91b7de"/><stop offset="0.345" stop-color="#89b0d8"/><stop offset="0.368" stop-color="#749eca"/><stop offset="0.378" stop-color="#81a9d3"/><stop offset="0.385" stop-color="#92b6dd"/><stop offset="0.395" stop-color="#9a84a8"/><stop offset="0.401" stop-color="#9b7ea2"/><stop offset="0.418" stop-color="#94aad2"/><stop offset="0.428" stop-color="#92b8df"/><stop offset="0.497" stop-color="#8bb1d9"/><stop offset="0.52" stop-color="#749eca"/><stop offset="0.53" stop-color="#7ea7d1"/><stop offset="0.536" stop-color="#90b6dd"/><stop offset="0.546" stop-color="#9989ae"/><stop offset="0.549" stop-color="#9a84a8"/><stop offset="0.556" stop-color="#998db3"/><stop offset="0.569" stop-color="#92b5dd"/><stop offset="0.602" stop-color="#80a8d2"/><stop offset="0.635" stop-color="#6692c0"/><stop offset="0.655" stop-color="#4472a6"/><stop offset="0.664" stop-color="#4574a7"/><stop offset="0.678" stop-color="#5784b6"/><stop offset="0.697" stop-color="#3b6a9f"/><stop offset="0.711" stop-color="#3d6ca1"/><stop offset="0.72" stop-color="#5582b4"/><stop offset="0.734" stop-color="#8ab1d9"/><stop offset="0.74" stop-color="#95bce2"/><stop offset="0.743" stop-color="#95bbe2"/><stop offset="0.747" stop-color="#96aed5"/><stop offset="0.757" stop-color="#a3465f"/><stop offset="0.763" stop-color="#a71b2d"/><stop offset="0.77" stop-color="#a50511"/><stop offset="0.776" stop-color="#a4000a"/><stop offset="0.78" stop-color="#a4010c"/><stop offset="0.789" stop-color="#a82235"/><stop offset="0.799" stop-color="#a43d55"/><stop offset="0.803" stop-color="#a43e55"/><stop offset="0.806" stop-color="#a6354c"/><stop offset="0.816" stop-color="#a4000a"/><stop offset="0.836" stop-color="#a4000a"/><stop offset="0.849" stop-color="#a4415a"/><stop offset="0.859" stop-color="#9f607e"/><stop offset="0.878" stop-color="#9b7fa2"/><stop offset="0.918" stop-color="#96a0c8"/><stop offset="0.99" stop-color="#91b7de"/><stop offset="1" stop-color="#90b6dd"/></linearGradient><linearGradient id="h108" gradientUnits="userSpaceOnUse" x1="410" x2="562" y1="0" y2="0"><stop offset="0" stop-color="#8fb5dc"/><stop offset="0.056" stop-color="#8bb2d9"/><stop offset="0.082" stop-color="#769fcb"/><stop offset="0.092" stop-color="#84acd5"/><stop offset="0.095" stop-color="#8cb3da"/><stop offset="0.099" stop-color="#93b1d8"/><stop offset="0.105" stop-color="#988fb4"/><stop offset="0.112" stop-color="#9a80a4"/><stop offset="0.118" stop-color="#9989ae"/><stop offset="0.128" stop-color="#95a6ce"/><stop offset="0.138" stop-color="#92b7de"/><stop offset="0.217" stop-color="#89b0d8"/><stop offset="0.24" stop-color="#769fcb"/><stop offset="0.25" stop-color="#84acd5"/><stop offset="0.253" stop-color="#8cb3da"/><stop offset="0.257" stop-color="#93b1d8"/><stop offset="0.263" stop-color="#988fb4"/><stop offset="0.27" stop-color="#9a80a4"/><stop offset="0.276" stop-color="#9989ae"/><stop offset="0.286" stop-color="#95a6ce"/><stop offset="0.296" stop-color="#92b7de"/><stop offset="0.345" stop-color="#89b0d8"/><stop offset="0.368" stop-color="#759fcb"/><stop offset="0.378" stop-color="#82aad3"/><stop offset="0.385" stop-color="#92b7de"/><stop offset="0.395" stop-color="#9a86ab"/><stop offset="0.401" stop-color="#9a81a5"/><stop offset="0.418" stop-color="#94abd3"/><stop offset="0.428" stop-color="#91b7de"/><stop offset="0.497" stop-color="#8bb1d9"/><stop offset="0.52" stop-color="#759fcb"/><stop offset="0.53" stop-color="#7fa7d1"/><stop offset="0.536" stop-color="#90b6dd"/><stop offset="0.546" stop-color="#998cb1"/><stop offset="0.553" stop-color="#9988ad"/><stop offset="0.569" stop-color="#92b6dd"/><stop offset="0.602" stop-color="#80a8d2"/><stop offset="0.635" stop-color="#6792c1"/><stop offset="0.655" stop-color="#4573a7"/><stop offset="0.668" stop-color="#4a78ab"/><stop offset="0.678" stop-color="#5582b4"/><stop offset="0.697" stop-color="#3a6a9f"/><stop offset="0.711" stop-color="#3d6ca1"/><stop offset="0.72" stop-color="#5582b4"/><stop offset="0.734" stop-color="#8ab1d9"/><stop offset="0.74" stop-color="#95bce2"/><stop offset="0.743" stop-color="#95bbe2"/><stop offset="0.747" stop-color="#96aed5"/><stop offset="0.757" stop-color="#a3465f"/><stop offset="0.763" stop-color="#a71b2c"/><stop offset="0.77" stop-color="#a50510"/><stop offset="0.776" stop-color="#a4000a"/><stop offset="0.78" stop-color="#a4000a"/><stop offset="0.786" stop-color="#a61220"/><stop offset="0.796" stop-color="#a63247"/><stop offset="0.803" stop-color="#a5384f"/><stop offset="0.806" stop-color="#a63147"/><stop offset="0.816" stop-color="#a4000a"/><stop offset="0.832" stop-color="#a4000a"/><stop offset="0.836" stop-color="#a4040f"/><stop offset="0.849" stop-color="#a4435b"/><stop offset="0.859" stop-color="#9f607e"/><stop offset="0.878" stop-color="#9b7fa2"/><stop offset="0.918" stop-color="#96a0c8"/><stop offset="0.99" stop-color="#91b7de"/><stop offset="1" stop-color="#90b6dd"/></linearGradient><linearGradient id="h109" gradientUnits="userSpaceOnUse" x1="410" x2="562" y1="0" y2="0"><stop offset="0" stop-color="#8fb5dc"/><stop offset="0.059" stop-color="#89b0d8"/><stop offset="0.082" stop-color="#77a0cc"/><stop offset="0.095" stop-color="#8cb3da"/><stop offset="0.099" stop-color="#93b2d9"/><stop offset="0.105" stop-color="#9891b7"/><stop offset="0.112" stop-color="#9a83a7"/><stop offset="0.118" stop-color="#998cb1"/><stop offset="0.132" stop-color="#94aed5"/><stop offset="0.141" stop-color="#91b7de"/><stop offset="0.217" stop-color="#89b0d8"/><stop offset="0.24" stop-color="#77a0cc"/><stop offset="0.253" stop-color="#8cb3da"/><stop offset="0.257" stop-color="#93b2d9"/><stop offset="0.263" stop-color="#9891b7"/><stop offset="0.27" stop-color="#9a83a7"/><stop offset="0.276" stop-color="#998cb1"/><stop offset="0.289" stop-color="#94aed5"/><stop offset="0.299" stop-color="#91b7de"/><stop offset="0.349" stop-color="#87aed7"/><stop offset="0.368" stop-color="#76a0cc"/><stop offset="0.378" stop-color="#82aad3"/><stop offset="0.385" stop-color="#92b7de"/><stop offset="0.395" stop-color="#9989ae"/><stop offset="0.401" stop-color="#9a84a8"/><stop offset="0.421" stop-color="#93b2d9"/><stop offset="0.434" stop-color="#90b6dd"/><stop offset="0.497" stop-color="#8bb2d9"/><stop offset="0.52" stop-color="#76a0cb"/><stop offset="0.53" stop-color="#7fa8d2"/><stop offset="0.536" stop-color="#90b6dd"/><stop offset="0.546" stop-color="#988eb4"/><stop offset="0.553" stop-color="#998bb0"/><stop offset="0.569" stop-color="#92b7de"/><stop offset="0.602" stop-color="#80a8d2"/><stop offset="0.635" stop-color="#6792c1"/><stop offset="0.655" stop-color="#4674a8"/><stop offset="0.668" stop-color="#4a78ab"/><stop offset="0.678" stop-color="#5381b3"/><stop offset="0.697" stop-color="#3a699e"/><stop offset="0.711" stop-color="#3d6ca1"/><stop offset="0.72" stop-color="#5582b4"/><stop offset="0.734" stop-color="#8ab1d9"/><stop offset="0.74" stop-color="#95bce2"/><stop offset="0.743" stop-color="#95bbe2"/><stop offset="0.747" stop-color="#96aed5"/><stop offset="0.757" stop-color="#a3465f"/><stop offset="0.763" stop-color="#a71b2c"/><stop offset="0.77" stop-color="#a40510"/><stop offset="0.78" stop-color="#a4000a"/><stop offset="0.786" stop-color="#a60e1c"/><stop offset="0.796" stop-color="#a72c41"/><stop offset="0.803" stop-color="#a63349"/><stop offset="0.806" stop-color="#a72d42"/><stop offset="0.816" stop-color="#a4000a"/><stop offset="0.832" stop-color="#a4000a"/><stop offset="0.836" stop-color="#a50814"/><stop offset="0.849" stop-color="#a4445c"/><stop offset="0.859" stop-color="#9f617e"/><stop offset="0.878" stop-color="#9b7fa2"/><stop offset="0.918" stop-color="#96a0c8"/><stop offset="0.99" stop-color="#91b7de"/><stop offset="1" stop-color="#90b6dd"/></linearGradient><linearGradient id="h110" gradientUnits="userSpaceOnUse" x1="410" x2="562" y1="0" y2="0"><stop offset="0" stop-color="#8fb5dc"/><stop offset="0.059" stop-color="#89b0d8"/><stop offset="0.082" stop-color="#78a1cc"/><stop offset="0.095" stop-color="#8db3da"/><stop offset="0.099" stop-color="#93b2d9"/><stop offset="0.109" stop-color="#9989ae"/><stop offset="0.115" stop-color="#9988ac"/><stop offset="0.132" stop-color="#93aed6"/><stop offset="0.141" stop-color="#91b7de"/><stop offset="0.217" stop-color="#89b0d8"/><stop offset="0.24" stop-color="#78a1cc"/><stop offset="0.253" stop-color="#8db3da"/><stop offset="0.257" stop-color="#93b2d9"/><stop offset="0.266" stop-color="#9989ae"/><stop offset="0.273" stop-color="#9988ac"/><stop offset="0.289" stop-color="#93aed6"/><stop offset="0.299" stop-color="#91b7de"/><stop offset="0.349" stop-color="#87afd7"/><stop offset="0.368" stop-color="#77a1cc"/><stop offset="0.378" stop-color="#83abd4"/><stop offset="0.385" stop-color="#92b7de"/><stop offset="0.395" stop-color="#998bb1"/><stop offset="0.401" stop-color="#9a87ab"/><stop offset="0.421" stop-color="#93b2da"/><stop offset="0.441" stop-color="#8fb5dc"/><stop offset="0.5" stop-color="#89b0d8"/><stop offset="0.52" stop-color="#77a0cc"/><stop offset="0.53" stop-color="#80a8d2"/><stop offset="0.536" stop-color="#90b6dd"/><stop offset="0.546" stop-color="#9891b7"/><stop offset="0.553" stop-color="#988eb4"/><stop offset="0.569" stop-color="#92b8df"/><stop offset="0.602" stop-color="#7fa8d2"/><stop offset="0.635" stop-color="#6692c0"/><stop offset="0.658" stop-color="#4472a6"/><stop offset="0.678" stop-color="#507eb0"/><stop offset="0.697" stop-color="#38689d"/><stop offset="0.711" stop-color="#3c6ba0"/><stop offset="0.72" stop-color="#5481b3"/><stop offset="0.734" stop-color="#8ab1d9"/><stop offset="0.74" stop-color="#95bce2"/><stop offset="0.743" stop-color="#95bce2"/><stop offset="0.747" stop-color="#96aed5"/><stop offset="0.757" stop-color="#a4435c"/><stop offset="0.763" stop-color="#a61828"/><stop offset="0.77" stop-color="#a4000a"/><stop offset="0.783" stop-color="#a4000a"/><stop offset="0.799" stop-color="#a8283c"/><stop offset="0.806" stop-color="#a82539"/><stop offset="0.816" stop-color="#a4000a"/><stop offset="0.832" stop-color="#a4000a"/><stop offset="0.839" stop-color="#a61728"/><stop offset="0.852" stop-color="#a24e68"/><stop offset="0.868" stop-color="#9d7091"/><stop offset="0.911" stop-color="#969cc3"/><stop offset="0.974" stop-color="#92b5dc"/><stop offset="1" stop-color="#91b7de"/></linearGradient><linearGradient id="h111" gradientUnits="userSpaceOnUse" x1="410" x2="562" y1="0" y2="0"><stop offset="0" stop-color="#8fb5dc"/><stop offset="0.059" stop-color="#8ab1d9"/><stop offset="0.082" stop-color="#7aa3ce"/><stop offset="0.099" stop-color="#93b3da"/><stop offset="0.109" stop-color="#988eb4"/><stop offset="0.115" stop-color="#998db3"/><stop offset="0.135" stop-color="#93b5dc"/><stop offset="0.217" stop-color="#8ab1d9"/><stop offset="0.24" stop-color="#7aa3ce"/><stop offset="0.257" stop-color="#93b3da"/><stop offset="0.266" stop-color="#988eb4"/><stop offset="0.273" stop-color="#998db3"/><stop offset="0.293" stop-color="#93b5dc"/><stop offset="0.349" stop-color="#88afd7"/><stop offset="0.368" stop-color="#79a3ce"/><stop offset="0.382" stop-color="#8bb1d9"/><stop offset="0.385" stop-color="#92b8df"/><stop offset="0.395" stop-color="#9891b7"/><stop offset="0.401" stop-color="#998cb1"/><stop offset="0.421" stop-color="#93b3db"/><stop offset="0.497" stop-color="#8bb2da"/><stop offset="0.523" stop-color="#79a3ce"/><stop offset="0.536" stop-color="#90b6dd"/><stop offset="0.546" stop-color="#9796bd"/><stop offset="0.553" stop-color="#9894ba"/><stop offset="0.569" stop-color="#91b7de"/><stop offset="0.632" stop-color="#6995c3"/><stop offset="0.658" stop-color="#4573a7"/><stop offset="0.678" stop-color="#4c7aad"/><stop offset="0.701" stop-color="#36659b"/><stop offset="0.714" stop-color="#406fa3"/><stop offset="0.724" stop-color="#608cbc"/><stop offset="0.734" stop-color="#8ab1d9"/><stop offset="0.74" stop-color="#95bce2"/><stop offset="0.743" stop-color="#95bce2"/><stop offset="0.747" stop-color="#96aed5"/><stop offset="0.757" stop-color="#a44159"/><stop offset="0.763" stop-color="#a61423"/><stop offset="0.766" stop-color="#a50611"/><stop offset="0.773" stop-color="#a4000a"/><stop offset="0.786" stop-color="#a4000a"/><stop offset="0.803" stop-color="#a71c2e"/><stop offset="0.809" stop-color="#a61221"/><stop offset="0.816" stop-color="#a4000a"/><stop offset="0.832" stop-color="#a4000a"/><stop offset="0.849" stop-color="#a4425b"/><stop offset="0.862" stop-color="#9f6382"/><stop offset="0.888" stop-color="#9a86ab"/><stop offset="0.928" stop-color="#95a5cd"/><stop offset="0.993" stop-color="#91b7de"/><stop offset="1" stop-color="#91b7de"/></linearGradient><linearGradient id="h112" gradientUnits="userSpaceOnUse" x1="410" x2="562" y1="0" y2="0"><stop offset="0" stop-color="#8fb5dc"/><stop offset="0.059" stop-color="#8ab1d9"/><stop offset="0.082" stop-color="#7ba4ce"/><stop offset="0.099" stop-color="#93b4db"/><stop offset="0.109" stop-color="#9891b7"/><stop offset="0.115" stop-color="#9890b6"/><stop offset="0.135" stop-color="#92b5dc"/><stop offset="0.217" stop-color="#8ab1d9"/><stop offset="0.24" stop-color="#7ba4ce"/><stop offset="0.257" stop-color="#93b4db"/><stop offset="0.266" stop-color="#9891b7"/><stop offset="0.273" stop-color="#9890b6"/><stop offset="0.293" stop-color="#92b5dc"/><stop offset="0.349" stop-color="#88afd8"/><stop offset="0.368" stop-color="#7ba4ce"/><stop offset="0.382" stop-color="#8bb1d9"/><stop offset="0.385" stop-color="#92b8df"/><stop offset="0.395" stop-color="#9893b9"/><stop offset="0.401" stop-color="#988fb5"/><stop offset="0.424" stop-color="#92b8df"/><stop offset="0.5" stop-color="#8ab1d8"/><stop offset="0.523" stop-color="#7aa3ce"/><stop offset="0.536" stop-color="#90b6dd"/><stop offset="0.546" stop-color="#9799c0"/><stop offset="0.553" stop-color="#9797be"/><stop offset="0.569" stop-color="#91b7de"/><stop offset="0.628" stop-color="#6c97c4"/><stop offset="0.658" stop-color="#4573a7"/><stop offset="0.681" stop-color="#4675a8"/><stop offset="0.701" stop-color="#35649a"/><stop offset="0.714" stop-color="#3f6ea2"/><stop offset="0.724" stop-color="#5f8bbc"/><stop offset="0.734" stop-color="#89b1d9"/><stop offset="0.74" stop-color="#95bce2"/><stop offset="0.743" stop-color="#95bce2"/><stop offset="0.747" stop-color="#96add4"/><stop offset="0.757" stop-color="#a43e56"/><stop offset="0.763" stop-color="#a6101f"/><stop offset="0.766" stop-color="#a4020c"/><stop offset="0.789" stop-color="#a4000a"/><stop offset="0.803" stop-color="#a61423"/><stop offset="0.809" stop-color="#a50c19"/><stop offset="0.812" stop-color="#a4020d"/><stop offset="0.832" stop-color="#a4010b"/><stop offset="0.849" stop-color="#a44159"/><stop offset="0.862" stop-color="#9f6280"/><stop offset="0.888" stop-color="#9a85a9"/><stop offset="0.928" stop-color="#95a4cc"/><stop offset="0.993" stop-color="#91b7de"/><stop offset="1" stop-color="#91b7de"/></linearGradient><linearGradient id="h113" gradientUnits="userSpaceOnUse" x1="410" x2="562" y1="0" y2="0"><stop offset="0" stop-color="#8fb5dc"/><stop offset="0.059" stop-color="#8ab1d9"/><stop offset="0.082" stop-color="#7ca5cf"/><stop offset="0.099" stop-color="#93b4db"/><stop offset="0.109" stop-color="#9894ba"/><stop offset="0.115" stop-color="#9893b9"/><stop offset="0.135" stop-color="#92b6dd"/><stop offset="0.217" stop-color="#8ab1d9"/><stop offset="0.24" stop-color="#7ca5cf"/><stop offset="0.257" stop-color="#93b4db"/><stop offset="0.266" stop-color="#9894ba"/><stop offset="0.273" stop-color="#9893b9"/><stop offset="0.293" stop-color="#92b6dd"/><stop offset="0.349" stop-color="#89b0d8"/><stop offset="0.368" stop-color="#7ca4cf"/><stop offset="0.382" stop-color="#8bb2d9"/><stop offset="0.385" stop-color="#92b8df"/><stop offset="0.395" stop-color="#9796bc"/><stop offset="0.401" stop-color="#9892b8"/><stop offset="0.424" stop-color="#92b8df"/><stop offset="0.5" stop-color="#8ab1d9"/><stop offset="0.523" stop-color="#7ba4cf"/><stop offset="0.536" stop-color="#90b6dd"/><stop offset="0.549" stop-color="#9798bf"/><stop offset="0.562" stop-color="#94add5"/><stop offset="0.569" stop-color="#91b7de"/><stop offset="0.628" stop-color="#6b96c3"/><stop offset="0.658" stop-color="#4372a6"/><stop offset="0.681" stop-color="#4271a4"/><stop offset="0.701" stop-color="#326198"/><stop offset="0.714" stop-color="#3d6ca0"/><stop offset="0.724" stop-color="#5d8aba"/><stop offset="0.734" stop-color="#89b1d9"/><stop offset="0.74" stop-color="#95bce2"/><stop offset="0.743" stop-color="#96bce2"/><stop offset="0.747" stop-color="#96add4"/><stop offset="0.757" stop-color="#a5394f"/><stop offset="0.763" stop-color="#a50916"/><stop offset="0.766" stop-color="#a4000a"/><stop offset="0.799" stop-color="#a4030d"/><stop offset="0.806" stop-color="#a50713"/><stop offset="0.816" stop-color="#a4000a"/><stop offset="0.832" stop-color="#a4000a"/><stop offset="0.849" stop-color="#a43d55"/><stop offset="0.865" stop-color="#9f6482"/><stop offset="0.898" stop-color="#998db3"/><stop offset="0.938" stop-color="#94a8d0"/><stop offset="0.997" stop-color="#91b7de"/><stop offset="1" stop-color="#91b7de"/></linearGradient><linearGradient id="h114" gradientUnits="userSpaceOnUse" x1="410" x2="562" y1="0" y2="0"><stop offset="0" stop-color="#8fb5dc"/><stop offset="0.059" stop-color="#8bb1d9"/><stop offset="0.082" stop-color="#7da5d0"/><stop offset="0.099" stop-color="#92b5dc"/><stop offset="0.109" stop-color="#9796bd"/><stop offset="0.115" stop-color="#9795bc"/><stop offset="0.135" stop-color="#92b6dd"/><stop offset="0.217" stop-color="#8bb1d9"/><stop offset="0.24" stop-color="#7da5d0"/><stop offset="0.257" stop-color="#92b5dc"/><stop offset="0.266" stop-color="#9796bd"/><stop offset="0.273" stop-color="#9795bc"/><stop offset="0.293" stop-color="#92b6dd"/><stop offset="0.349" stop-color="#89b0d8"/><stop offset="0.372" stop-color="#7ea6d1"/><stop offset="0.385" stop-color="#92b8df"/><stop offset="0.395" stop-color="#9798bf"/><stop offset="0.401" stop-color="#9794bb"/><stop offset="0.424" stop-color="#92b8df"/><stop offset="0.5" stop-color="#8ab1d9"/><stop offset="0.523" stop-color="#7ca5d0"/><stop offset="0.536" stop-color="#8fb5dc"/><stop offset="0.549" stop-color="#969bc3"/><stop offset="0.562" stop-color="#93afd6"/><stop offset="0.569" stop-color="#90b6dd"/><stop offset="0.628" stop-color="#6a95c3"/><stop offset="0.661" stop-color="#4270a4"/><stop offset="0.681" stop-color="#3f6ea2"/><stop offset="0.701" stop-color="#306097"/><stop offset="0.714" stop-color="#3b6b9f"/><stop offset="0.724" stop-color="#5c89ba"/><stop offset="0.734" stop-color="#89b1d9"/><stop offset="0.74" stop-color="#95bce2"/><stop offset="0.743" stop-color="#96bce2"/><stop offset="0.747" stop-color="#96acd3"/><stop offset="0.757" stop-color="#a6364c"/><stop offset="0.763" stop-color="#a50611"/><stop offset="0.77" stop-color="#a4000a"/><stop offset="0.832" stop-color="#a4000a"/><stop offset="0.849" stop-color="#a53c53"/><stop offset="0.865" stop-color="#9f6280"/><stop offset="0.898" stop-color="#998cb1"/><stop offset="0.938" stop-color="#94a8d0"/><stop offset="0.997" stop-color="#91b7de"/><stop offset="1" stop-color="#91b7de"/></linearGradient><linearGradient id="h115" gradientUnits="userSpaceOnUse" x1="410" x2="562" y1="0" y2="0"><stop offset="0" stop-color="#8fb5dc"/><stop offset="0.062" stop-color="#89b0d8"/><stop offset="0.082" stop-color="#7ea6d1"/><stop offset="0.099" stop-color="#92b5dc"/><stop offset="0.109" stop-color="#9799c0"/><stop offset="0.115" stop-color="#9798bf"/><stop offset="0.135" stop-color="#92b7de"/><stop offset="0.22" stop-color="#89b0d8"/><stop offset="0.24" stop-color="#7ea6d1"/><stop offset="0.257" stop-color="#92b5dc"/><stop offset="0.266" stop-color="#9799c0"/><stop offset="0.273" stop-color="#9798bf"/><stop offset="0.293" stop-color="#92b7de"/><stop offset="0.352" stop-color="#87aed7"/><stop offset="0.372" stop-color="#7fa7d1"/><stop offset="0.385" stop-color="#91b7de"/><stop offset="0.395" stop-color="#969bc2"/><stop offset="0.401" stop-color="#9797be"/><stop offset="0.424" stop-color="#92b8df"/><stop offset="0.5" stop-color="#8bb1d9"/><stop offset="0.523" stop-color="#7da6d0"/><stop offset="0.536" stop-color="#8fb5dc"/><stop offset="0.549" stop-color="#969ec6"/><stop offset="0.562" stop-color="#93b0d7"/><stop offset="0.569" stop-color="#90b6dd"/><stop offset="0.628" stop-color="#6a95c3"/><stop offset="0.661" stop-color="#4271a5"/><stop offset="0.684" stop-color="#3b6a9f"/><stop offset="0.701" stop-color="#306097"/><stop offset="0.714" stop-color="#3b6b9f"/><stop offset="0.724" stop-color="#5c89ba"/><stop offset="0.734" stop-color="#89b1d9"/><stop offset="0.74" stop-color="#95bce2"/><stop offset="0.743" stop-color="#96bce2"/><stop offset="0.747" stop-color="#96acd3"/><stop offset="0.757" stop-color="#a6364c"/><stop offset="0.763" stop-color="#a50611"/><stop offset="0.77" stop-color="#a4000a"/><stop offset="0.832" stop-color="#a4030e"/><stop offset="0.849" stop-color="#a53d54"/><stop offset="0.868" stop-color="#9e6887"/><stop offset="0.908" stop-color="#9795bb"/><stop offset="0.947" stop-color="#94acd3"/><stop offset="1" stop-color="#91b7de"/></linearGradient><linearGradient id="h116" gradientUnits="userSpaceOnUse" x1="410" x2="562" y1="0" y2="0"><stop offset="0" stop-color="#8fb5dc"/><stop offset="0.062" stop-color="#89b0d8"/><stop offset="0.082" stop-color="#7fa7d1"/><stop offset="0.099" stop-color="#92b6dd"/><stop offset="0.109" stop-color="#969cc3"/><stop offset="0.115" stop-color="#979bc2"/><stop offset="0.135" stop-color="#92b7de"/><stop offset="0.22" stop-color="#89b0d8"/><stop offset="0.24" stop-color="#7fa7d1"/><stop offset="0.257" stop-color="#92b6dd"/><stop offset="0.266" stop-color="#969cc3"/><stop offset="0.273" stop-color="#979bc2"/><stop offset="0.293" stop-color="#92b7de"/><stop offset="0.352" stop-color="#88afd7"/><stop offset="0.372" stop-color="#80a8d2"/><stop offset="0.385" stop-color="#91b7de"/><stop offset="0.395" stop-color="#969dc5"/><stop offset="0.401" stop-color="#979ac1"/><stop offset="0.424" stop-color="#92b8df"/><stop offset="0.503" stop-color="#89b0d8"/><stop offset="0.523" stop-color="#7ea7d1"/><stop offset="0.536" stop-color="#8fb5dc"/><stop offset="0.549" stop-color="#96a0c8"/><stop offset="0.562" stop-color="#93b1d9"/><stop offset="0.566" stop-color="#92b8df"/><stop offset="0.625" stop-color="#6c97c5"/><stop offset="0.661" stop-color="#4270a4"/><stop offset="0.684" stop-color="#39689d"/><stop offset="0.701" stop-color="#2f5e96"/><stop offset="0.714" stop-color="#3a6a9f"/><stop offset="0.724" stop-color="#5b88b9"/><stop offset="0.734" stop-color="#89b0d9"/><stop offset="0.74" stop-color="#95bce2"/><stop offset="0.743" stop-color="#96bce2"/><stop offset="0.747" stop-color="#96acd3"/><stop offset="0.757" stop-color="#a63349"/><stop offset="0.763" stop-color="#a4020d"/><stop offset="0.832" stop-color="#a4030e"/><stop offset="0.849" stop-color="#a53b53"/><stop offset="0.868" stop-color="#9e6685"/><stop offset="0.908" stop-color="#9894ba"/><stop offset="0.947" stop-color="#94abd3"/><stop offset="1" stop-color="#91b7de"/></linearGradient><linearGradient id="h117" gradientUnits="userSpaceOnUse" x1="410" x2="562" y1="0" y2="0"><stop offset="0" stop-color="#8fb5dc"/><stop offset="0.062" stop-color="#8ab0d8"/><stop offset="0.086" stop-color="#81a9d3"/><stop offset="0.099" stop-color="#92b6dd"/><stop offset="0.109" stop-color="#969ec6"/><stop offset="0.118" stop-color="#96a1c9"/><stop offset="0.135" stop-color="#92b7de"/><stop offset="0.22" stop-color="#8ab0d8"/><stop offset="0.243" stop-color="#81a9d3"/><stop offset="0.257" stop-color="#92b6dd"/><stop offset="0.266" stop-color="#969ec6"/><stop offset="0.276" stop-color="#96a1c9"/><stop offset="0.293" stop-color="#92b7de"/><stop offset="0.352" stop-color="#88afd7"/><stop offset="0.372" stop-color="#81a9d2"/><stop offset="0.385" stop-color="#91b7de"/><stop offset="0.395" stop-color="#969fc7"/><stop offset="0.405" stop-color="#96a0c8"/><stop offset="0.424" stop-color="#91b7de"/><stop offset="0.503" stop-color="#89b0d8"/><stop offset="0.523" stop-color="#7fa8d2"/><stop offset="0.539" stop-color="#93b3db"/><stop offset="0.549" stop-color="#95a2ca"/><stop offset="0.566" stop-color="#92b8df"/><stop offset="0.625" stop-color="#6c97c5"/><stop offset="0.661" stop-color="#4271a5"/><stop offset="0.691" stop-color="#326198"/><stop offset="0.707" stop-color="#316198"/><stop offset="0.717" stop-color="#4372a5"/><stop offset="0.734" stop-color="#89b0d9"/><stop offset="0.74" stop-color="#95bce2"/><stop offset="0.743" stop-color="#96bce2"/><stop offset="0.747" stop-color="#96acd3"/><stop offset="0.757" stop-color="#a63349"/><stop offset="0.763" stop-color="#a4020d"/><stop offset="0.829" stop-color="#a4000a"/><stop offset="0.839" stop-color="#a71c2d"/><stop offset="0.855" stop-color="#a24d67"/><stop offset="0.878" stop-color="#9c7496"/><stop offset="0.918" stop-color="#969cc3"/><stop offset="0.984" stop-color="#92b7de"/><stop offset="1" stop-color="#91b7de"/></linearGradient><linearGradient id="h118" gradientUnits="userSpaceOnUse" x1="410" x2="562" y1="0" y2="0"><stop offset="0" stop-color="#8fb5dc"/><stop offset="0.062" stop-color="#8ab1d9"/><stop offset="0.086" stop-color="#82aad3"/><stop offset="0.099" stop-color="#92b7de"/><stop offset="0.109" stop-color="#96a0c8"/><stop offset="0.118" stop-color="#95a3cb"/><stop offset="0.135" stop-color="#92b8df"/><stop offset="0.22" stop-color="#8ab1d9"/><stop offset="0.243" stop-color="#82aad3"/><stop offset="0.257" stop-color="#92b7de"/><stop offset="0.266" stop-color="#96a0c8"/><stop offset="0.276" stop-color="#95a3cb"/><stop offset="0.293" stop-color="#92b8df"/><stop offset="0.352" stop-color="#89b0d8"/><stop offset="0.372" stop-color="#82aad3"/><stop offset="0.385" stop-color="#91b7de"/><stop offset="0.398" stop-color="#969fc7"/><stop offset="0.414" stop-color="#93afd7"/><stop offset="0.424" stop-color="#91b7de"/><stop offset="0.503" stop-color="#8ab0d8"/><stop offset="0.523" stop-color="#80a8d2"/><stop offset="0.539" stop-color="#93b4dc"/><stop offset="0.549" stop-color="#95a5cc"/><stop offset="0.566" stop-color="#91b7de"/><stop offset="0.625" stop-color="#6c97c5"/><stop offset="0.664" stop-color="#4170a4"/><stop offset="0.701" stop-color="#2e5e96"/><stop offset="0.714" stop-color="#3a6a9f"/><stop offset="0.724" stop-color="#5b88b9"/><stop offset="0.734" stop-color="#89b0d9"/><stop offset="0.74" stop-color="#95bce2"/><stop offset="0.743" stop-color="#96bce2"/><stop offset="0.747" stop-color="#96acd3"/><stop offset="0.757" stop-color="#a63349"/><stop offset="0.763" stop-color="#a4020d"/><stop offset="0.829" stop-color="#a4000a"/><stop offset="0.849" stop-color="#a53d54"/><stop offset="0.872" stop-color="#9e6b8b"/><stop offset="0.911" stop-color="#9796bd"/><stop offset="0.954" stop-color="#94aed5"/><stop offset="1" stop-color="#91b7de"/></linearGradient><linearGradient id="h119" gradientUnits="userSpaceOnUse" x1="410" x2="562" y1="0" y2="0"><stop offset="0" stop-color="#8fb5dc"/><stop offset="0.062" stop-color="#8ab1d9"/><stop offset="0.086" stop-color="#83abd4"/><stop offset="0.099" stop-color="#92b7de"/><stop offset="0.109" stop-color="#95a3ca"/><stop offset="0.122" stop-color="#94a9d0"/><stop offset="0.135" stop-color="#92b8df"/><stop offset="0.22" stop-color="#8ab1d9"/><stop offset="0.243" stop-color="#83abd4"/><stop offset="0.257" stop-color="#92b7de"/><stop offset="0.266" stop-color="#95a3ca"/><stop offset="0.28" stop-color="#94a9d0"/><stop offset="0.293" stop-color="#92b8df"/><stop offset="0.355" stop-color="#87aed7"/><stop offset="0.375" stop-color="#85acd5"/><stop offset="0.385" stop-color="#91b7de"/><stop offset="0.398" stop-color="#96a1c9"/><stop offset="0.424" stop-color="#91b7de"/><stop offset="0.503" stop-color="#8ab1d9"/><stop offset="0.526" stop-color="#83abd4"/><stop offset="0.539" stop-color="#92b6dd"/><stop offset="0.549" stop-color="#95a7cf"/><stop offset="0.566" stop-color="#91b7de"/><stop offset="0.625" stop-color="#6c97c5"/><stop offset="0.664" stop-color="#4170a4"/><stop offset="0.701" stop-color="#2e5e96"/><stop offset="0.714" stop-color="#3a6a9f"/><stop offset="0.724" stop-color="#5b88b9"/><stop offset="0.734" stop-color="#89b0d9"/><stop offset="0.74" stop-color="#95bce2"/><stop offset="0.743" stop-color="#96bce2"/><stop offset="0.747" stop-color="#96acd3"/><stop offset="0.757" stop-color="#a63349"/><stop offset="0.763" stop-color="#a4020d"/><stop offset="0.829" stop-color="#a4030d"/><stop offset="0.852" stop-color="#a3465f"/><stop offset="0.878" stop-color="#9c7496"/><stop offset="0.918" stop-color="#969cc3"/><stop offset="0.984" stop-color="#92b7de"/><stop offset="1" stop-color="#91b7de"/></linearGradient><linearGradient id="h120" gradientUnits="userSpaceOnUse" x1="410" x2="562" y1="0" y2="0"><stop offset="0" stop-color="#8fb5dc"/><stop offset="0.066" stop-color="#89b0d8"/><stop offset="0.086" stop-color="#84acd5"/><stop offset="0.099" stop-color="#92b8df"/><stop offset="0.109" stop-color="#95a5cc"/><stop offset="0.122" stop-color="#94abd2"/><stop offset="0.135" stop-color="#92b8df"/><stop offset="0.224" stop-color="#89b0d8"/><stop offset="0.243" stop-color="#84acd5"/><stop offset="0.257" stop-color="#92b8df"/><stop offset="0.266" stop-color="#95a5cc"/><stop offset="0.28" stop-color="#94abd2"/><stop offset="0.293" stop-color="#92b8df"/><stop offset="0.355" stop-color="#88afd7"/><stop offset="0.375" stop-color="#86add6"/><stop offset="0.385" stop-color="#91b7de"/><stop offset="0.398" stop-color="#95a3cb"/><stop offset="0.424" stop-color="#91b7de"/><stop offset="0.503" stop-color="#8ab1d9"/><stop offset="0.526" stop-color="#84abd4"/><stop offset="0.539" stop-color="#92b7de"/><stop offset="0.549" stop-color="#94a9d1"/><stop offset="0.566" stop-color="#90b6dd"/><stop offset="0.625" stop-color="#6d97c5"/><stop offset="0.668" stop-color="#3f6ea2"/><stop offset="0.701" stop-color="#2e5e96"/><stop offset="0.714" stop-color="#3a6a9f"/><stop offset="0.724" stop-color="#5b88b9"/><stop offset="0.734" stop-color="#89b0d9"/><stop offset="0.74" stop-color="#95bce2"/><stop offset="0.743" stop-color="#96bce2"/><stop offset="0.747" stop-color="#96acd3"/><stop offset="0.757" stop-color="#a63349"/><stop offset="0.763" stop-color="#a4020d"/><stop offset="0.826" stop-color="#a4000a"/><stop offset="0.842" stop-color="#a72b40"/><stop offset="0.859" stop-color="#a15570"/><stop offset="0.885" stop-color="#9b7c9f"/><stop offset="0.924" stop-color="#96a0c8"/><stop offset="0.993" stop-color="#91b7de"/><stop offset="1" stop-color="#91b7de"/></linearGradient><linearGradient id="h121" gradientUnits="userSpaceOnUse" x1="410" x2="562" y1="0" y2="0"><stop offset="0" stop-color="#8fb5dc"/><stop offset="0.066" stop-color="#89b0d8"/><stop offset="0.086" stop-color="#85acd5"/><stop offset="0.099" stop-color="#92b8df"/><stop offset="0.112" stop-color="#95a5cd"/><stop offset="0.135" stop-color="#91b7de"/><stop offset="0.224" stop-color="#89b0d8"/><stop offset="0.243" stop-color="#85acd5"/><stop offset="0.257" stop-color="#92b8df"/><stop offset="0.27" stop-color="#95a5cd"/><stop offset="0.293" stop-color="#91b7de"/><stop offset="0.355" stop-color="#88afd8"/><stop offset="0.375" stop-color="#86aed6"/><stop offset="0.385" stop-color="#91b7de"/><stop offset="0.398" stop-color="#95a6cd"/><stop offset="0.424" stop-color="#91b7de"/><stop offset="0.507" stop-color="#89b0d8"/><stop offset="0.526" stop-color="#84acd5"/><stop offset="0.539" stop-color="#92b8df"/><stop offset="0.549" stop-color="#94acd3"/><stop offset="0.562" stop-color="#92b8df"/><stop offset="0.625" stop-color="#6d97c5"/><stop offset="0.668" stop-color="#3f6ea2"/><stop offset="0.701" stop-color="#2e5e95"/><stop offset="0.714" stop-color="#3a6a9f"/><stop offset="0.724" stop-color="#5b88b9"/><stop offset="0.734" stop-color="#89b0d9"/><stop offset="0.74" stop-color="#95bce2"/><stop offset="0.743" stop-color="#96bce2"/><stop offset="0.747" stop-color="#96acd3"/><stop offset="0.757" stop-color="#a63349"/><stop offset="0.763" stop-color="#a4020c"/><stop offset="0.826" stop-color="#a4010b"/><stop offset="0.849" stop-color="#a43f57"/><stop offset="0.875" stop-color="#9d7091"/><stop offset="0.914" stop-color="#9799c0"/><stop offset="0.964" stop-color="#93b1d9"/><stop offset="1" stop-color="#91b7de"/></linearGradient><linearGradient id="h122" gradientUnits="userSpaceOnUse" x1="410" x2="562" y1="0" y2="0"><stop offset="0" stop-color="#8fb5dc"/><stop offset="0.066" stop-color="#8ab1d9"/><stop offset="0.089" stop-color="#88afd7"/><stop offset="0.099" stop-color="#91b7de"/><stop offset="0.112" stop-color="#94a8cf"/><stop offset="0.135" stop-color="#91b7de"/><stop offset="0.224" stop-color="#8ab1d9"/><stop offset="0.247" stop-color="#88afd7"/><stop offset="0.257" stop-color="#91b7de"/><stop offset="0.27" stop-color="#94a8cf"/><stop offset="0.293" stop-color="#91b7de"/><stop offset="0.359" stop-color="#87aed7"/><stop offset="0.378" stop-color="#8ab0d8"/><stop offset="0.388" stop-color="#93b4db"/><stop offset="0.398" stop-color="#94a8d0"/><stop offset="0.424" stop-color="#91b7de"/><stop offset="0.507" stop-color="#8ab0d8"/><stop offset="0.526" stop-color="#85add6"/><stop offset="0.539" stop-color="#92b8df"/><stop offset="0.549" stop-color="#94aed5"/><stop offset="0.566" stop-color="#8fb5dc"/><stop offset="0.625" stop-color="#6d97c5"/><stop offset="0.671" stop-color="#3d6ca1"/><stop offset="0.701" stop-color="#2e5e95"/><stop offset="0.714" stop-color="#3a6a9f"/><stop offset="0.724" stop-color="#5b88b9"/><stop offset="0.734" stop-color="#89b0d9"/><stop offset="0.74" stop-color="#95bce2"/><stop offset="0.743" stop-color="#96bce2"/><stop offset="0.747" stop-color="#96acd3"/><stop offset="0.757" stop-color="#a63349"/><stop offset="0.763" stop-color="#a4020c"/><stop offset="0.826" stop-color="#a4030e"/><stop offset="0.849" stop-color="#a44057"/><stop offset="0.875" stop-color="#9d7091"/><stop offset="0.914" stop-color="#9799c0"/><stop offset="0.964" stop-color="#93b1d9"/><stop offset="1" stop-color="#91b7de"/></linearGradient><linearGradient id="h123" gradientUnits="userSpaceOnUse" x1="410" x2="562" y1="0" y2="0"><stop offset="0" stop-color="#8fb5dc"/><stop offset="0.069" stop-color="#89b0d8"/><stop offset="0.089" stop-color="#88afd8"/><stop offset="0.099" stop-color="#91b7de"/><stop offset="0.112" stop-color="#94aad2"/><stop offset="0.135" stop-color="#91b7de"/><stop offset="0.227" stop-color="#89b0d8"/><stop offset="0.247" stop-color="#88afd8"/><stop offset="0.257" stop-color="#91b7de"/><stop offset="0.27" stop-color="#94aad2"/><stop offset="0.293" stop-color="#91b7de"/><stop offset="0.362" stop-color="#87aed7"/><stop offset="0.382" stop-color="#8db3db"/><stop offset="0.388" stop-color="#92b5dc"/><stop offset="0.401" stop-color="#94aad2"/><stop offset="0.421" stop-color="#91b7de"/><stop offset="0.51" stop-color="#89b0d8"/><stop offset="0.53" stop-color="#88afd7"/><stop offset="0.539" stop-color="#91b7de"/><stop offset="0.553" stop-color="#93b1d8"/><stop offset="0.566" stop-color="#8fb5dc"/><stop offset="0.622" stop-color="#6f9ac7"/><stop offset="0.678" stop-color="#38689d"/><stop offset="0.701" stop-color="#2e5e95"/><stop offset="0.714" stop-color="#3a6a9f"/><stop offset="0.724" stop-color="#5b88b9"/><stop offset="0.734" stop-color="#89b0d9"/><stop offset="0.74" stop-color="#95bce2"/><stop offset="0.743" stop-color="#96bce2"/><stop offset="0.747" stop-color="#96acd3"/><stop offset="0.757" stop-color="#a63349"/><stop offset="0.763" stop-color="#a4020c"/><stop offset="0.822" stop-color="#a4000a"/><stop offset="0.849" stop-color="#a44058"/><stop offset="0.875" stop-color="#9d7091"/><stop offset="0.914" stop-color="#9799c0"/><stop offset="0.964" stop-color="#93b1d9"/><stop offset="1" stop-color="#91b7de"/></linearGradient><linearGradient id="h124" gradientUnits="userSpaceOnUse" x1="410" x2="562" y1="0" y2="0"><stop offset="0" stop-color="#8fb5dc"/><stop offset="0.072" stop-color="#89afd8"/><stop offset="0.092" stop-color="#8bb2da"/><stop offset="0.102" stop-color="#93b5dc"/><stop offset="0.115" stop-color="#94add4"/><stop offset="0.135" stop-color="#91b7de"/><stop offset="0.227" stop-color="#8ab1d9"/><stop offset="0.25" stop-color="#8bb2da"/><stop offset="0.26" stop-color="#93b5dc"/><stop offset="0.273" stop-color="#94add4"/><stop offset="0.293" stop-color="#91b7de"/><stop offset="0.375" stop-color="#89b0d8"/><stop offset="0.388" stop-color="#92b6dd"/><stop offset="0.401" stop-color="#94add4"/><stop offset="0.421" stop-color="#91b7de"/><stop offset="0.51" stop-color="#89b0d8"/><stop offset="0.53" stop-color="#89b0d8"/><stop offset="0.543" stop-color="#92b6dd"/><stop offset="0.556" stop-color="#92b5dd"/><stop offset="0.618" stop-color="#729dc9"/><stop offset="0.681" stop-color="#35659b"/><stop offset="0.701" stop-color="#2e5e95"/><stop offset="0.714" stop-color="#3a6a9f"/><stop offset="0.724" stop-color="#5b88b9"/><stop offset="0.734" stop-color="#89b0d9"/><stop offset="0.74" stop-color="#95bce2"/><stop offset="0.743" stop-color="#96bce2"/><stop offset="0.747" stop-color="#96acd3"/><stop offset="0.757" stop-color="#a63349"/><stop offset="0.763" stop-color="#a4020c"/><stop offset="0.822" stop-color="#a4000a"/><stop offset="0.849" stop-color="#a44159"/><stop offset="0.878" stop-color="#9c7496"/><stop offset="0.918" stop-color="#969cc3"/><stop offset="0.984" stop-color="#92b7de"/><stop offset="1" stop-color="#91b7de"/></linearGradient><linearGradient id="h125" gradientUnits="userSpaceOnUse" x1="410" x2="562" y1="0" y2="0"><stop offset="0" stop-color="#8fb5dc"/><stop offset="0.076" stop-color="#88afd8"/><stop offset="0.102" stop-color="#92b6dd"/><stop offset="0.115" stop-color="#93afd6"/><stop offset="0.135" stop-color="#91b7de"/><stop offset="0.234" stop-color="#88afd8"/><stop offset="0.26" stop-color="#92b6dd"/><stop offset="0.273" stop-color="#93afd6"/><stop offset="0.293" stop-color="#91b7de"/><stop offset="0.375" stop-color="#89b0d8"/><stop offset="0.388" stop-color="#92b7de"/><stop offset="0.401" stop-color="#93afd6"/><stop offset="0.424" stop-color="#90b6dd"/><stop offset="0.513" stop-color="#89b0d8"/><stop offset="0.536" stop-color="#8eb4db"/><stop offset="0.559" stop-color="#91b7de"/><stop offset="0.622" stop-color="#709ac7"/><stop offset="0.684" stop-color="#336299"/><stop offset="0.704" stop-color="#2f5f96"/><stop offset="0.714" stop-color="#3a6a9f"/><stop offset="0.724" stop-color="#5b88b9"/><stop offset="0.734" stop-color="#89b0d9"/><stop offset="0.74" stop-color="#95bce2"/><stop offset="0.743" stop-color="#96bce2"/><stop offset="0.747" stop-color="#96acd3"/><stop offset="0.757" stop-color="#a63349"/><stop offset="0.763" stop-color="#a4020c"/><stop offset="0.822" stop-color="#a4020c"/><stop offset="0.849" stop-color="#a44159"/><stop offset="0.878" stop-color="#9c7496"/><stop offset="0.918" stop-color="#969cc3"/><stop offset="0.984" stop-color="#92b7de"/><stop offset="1" stop-color="#91b7de"/></linearGradient><linearGradient id="h126" gradientUnits="userSpaceOnUse" x1="410" x2="562" y1="0" y2="0"><stop offset="0" stop-color="#8fb5dc"/><stop offset="0.092" stop-color="#8cb3da"/><stop offset="0.105" stop-color="#93b4db"/><stop offset="0.125" stop-color="#92b7de"/><stop offset="0.247" stop-color="#8bb1d9"/><stop offset="0.263" stop-color="#93b4db"/><stop offset="0.283" stop-color="#92b7de"/><stop offset="0.378" stop-color="#8cb2da"/><stop offset="0.391" stop-color="#93b5dc"/><stop offset="0.408" stop-color="#93b4db"/><stop offset="0.487" stop-color="#8fb5dc"/><stop offset="0.53" stop-color="#8ab1d9"/><stop offset="0.556" stop-color="#91b7de"/><stop offset="0.618" stop-color="#729dc9"/><stop offset="0.684" stop-color="#326299"/><stop offset="0.704" stop-color="#2f5f96"/><stop offset="0.714" stop-color="#3a6a9f"/><stop offset="0.724" stop-color="#5b88b9"/><stop offset="0.734" stop-color="#89b0d9"/><stop offset="0.74" stop-color="#95bce2"/><stop offset="0.743" stop-color="#96bce2"/><stop offset="0.747" stop-color="#96acd3"/><stop offset="0.757" stop-color="#a63349"/><stop offset="0.763" stop-color="#a4020c"/><stop offset="0.822" stop-color="#a4030e"/><stop offset="0.852" stop-color="#a34962"/><stop offset="0.882" stop-color="#9c789a"/><stop offset="0.921" stop-color="#969ec6"/><stop offset="0.99" stop-color="#92b8df"/><stop offset="1" stop-color="#91b7de"/></linearGradient><linearGradient id="h127" gradientUnits="userSpaceOnUse" x1="410" x2="562" y1="0" y2="0"><stop offset="0" stop-color="#8fb5dc"/><stop offset="0.092" stop-color="#8db3db"/><stop offset="0.105" stop-color="#92b5dd"/><stop offset="0.25" stop-color="#8db3db"/><stop offset="0.263" stop-color="#92b5dd"/><stop offset="0.378" stop-color="#8cb3da"/><stop offset="0.395" stop-color="#93b4db"/><stop offset="0.533" stop-color="#8cb2da"/><stop offset="0.559" stop-color="#8fb5dc"/><stop offset="0.618" stop-color="#729dc9"/><stop offset="0.688" stop-color="#306097"/><stop offset="0.707" stop-color="#316198"/><stop offset="0.717" stop-color="#4372a5"/><stop offset="0.734" stop-color="#89b0d9"/><stop offset="0.74" stop-color="#95bce2"/><stop offset="0.743" stop-color="#96bce2"/><stop offset="0.747" stop-color="#96acd3"/><stop offset="0.757" stop-color="#a63349"/><stop offset="0.763" stop-color="#a4020c"/><stop offset="0.819" stop-color="#a4000a"/><stop offset="0.849" stop-color="#a4425a"/><stop offset="0.878" stop-color="#9c7496"/><stop offset="0.918" stop-color="#969cc3"/><stop offset="0.984" stop-color="#92b7de"/><stop offset="1" stop-color="#91b7de"/></linearGradient><linearGradient id="h128" gradientUnits="userSpaceOnUse" x1="410" x2="562" y1="0" y2="0"><stop offset="0" stop-color="#8fb5dc"/><stop offset="0.095" stop-color="#8fb5dc"/><stop offset="0.22" stop-color="#8eb4db"/><stop offset="0.257" stop-color="#90b6dd"/><stop offset="0.382" stop-color="#8eb4db"/><stop offset="0.441" stop-color="#8fb5dc"/><stop offset="0.536" stop-color="#8db3db"/><stop offset="0.566" stop-color="#8cb2da"/><stop offset="0.618" stop-color="#729dc9"/><stop offset="0.688" stop-color="#305f97"/><stop offset="0.707" stop-color="#316198"/><stop offset="0.717" stop-color="#4372a5"/><stop offset="0.734" stop-color="#89b0d9"/><stop offset="0.74" stop-color="#95bce2"/><stop offset="0.743" stop-color="#96bce2"/><stop offset="0.747" stop-color="#96acd3"/><stop offset="0.757" stop-color="#a63349"/><stop offset="0.763" stop-color="#a4020c"/><stop offset="0.819" stop-color="#a4000a"/><stop offset="0.849" stop-color="#a4425a"/><stop offset="0.878" stop-color="#9c7496"/><stop offset="0.918" stop-color="#969cc3"/><stop offset="0.984" stop-color="#92b7de"/><stop offset="1" stop-color="#91b7de"/></linearGradient><linearGradient id="h129" gradientUnits="userSpaceOnUse" x1="410" x2="562" y1="0" y2="0"><stop offset="0" stop-color="#8fb5dc"/><stop offset="0.099" stop-color="#90b6dd"/><stop offset="0.257" stop-color="#90b6dd"/><stop offset="0.385" stop-color="#8fb5dc"/><stop offset="0.539" stop-color="#8eb4db"/><stop offset="0.582" stop-color="#84acd5"/><stop offset="0.622" stop-color="#709ac7"/><stop offset="0.688" stop-color="#2f5f97"/><stop offset="0.707" stop-color="#316198"/><stop offset="0.717" stop-color="#4372a5"/><stop offset="0.734" stop-color="#89b0d9"/><stop offset="0.74" stop-color="#95bce2"/><stop offset="0.743" stop-color="#96bce2"/><stop offset="0.747" stop-color="#96acd3"/><stop offset="0.757" stop-color="#a63349"/><stop offset="0.763" stop-color="#a4020c"/><stop offset="0.819" stop-color="#a4000a"/><stop offset="0.845" stop-color="#a53b52"/><stop offset="0.878" stop-color="#9c7496"/><stop offset="0.918" stop-color="#969cc3"/><stop offset="0.984" stop-color="#92b7de"/><stop offset="1" stop-color="#91b7de"/></linearGradient><linearGradient id="h130" gradientUnits="userSpaceOnUse" x1="410" x2="562" y1="0" y2="0"><stop offset="0" stop-color="#8fb5dc"/><stop offset="0.516" stop-color="#8db3db"/><stop offset="0.569" stop-color="#89b0d8"/><stop offset="0.618" stop-color="#729dc9"/><stop offset="0.688" stop-color="#2f5f96"/><stop offset="0.707" stop-color="#316198"/><stop offset="0.717" stop-color="#4372a5"/><stop offset="0.734" stop-color="#89b0d9"/><stop offset="0.74" stop-color="#95bce2"/><stop offset="0.743" stop-color="#96bce2"/><stop offset="0.747" stop-color="#96acd3"/><stop offset="0.757" stop-color="#a63349"/><stop offset="0.763" stop-color="#a4020c"/><stop offset="0.819" stop-color="#a4000a"/><stop offset="0.845" stop-color="#a53b53"/><stop offset="0.878" stop-color="#9c7496"/><stop offset="0.918" stop-color="#969cc3"/><stop offset="0.984" stop-color="#92b7de"/><stop offset="1" stop-color="#91b7de"/></linearGradient><linearGradient id="h131" gradientUnits="userSpaceOnUse" x1="410" x2="562" y1="0" y2="0"><stop offset="0" stop-color="#8fb5dc"/><stop offset="0.559" stop-color="#8bb2d9"/><stop offset="0.615" stop-color="#759fcb"/><stop offset="0.688" stop-color="#2f5f96"/><stop offset="0.707" stop-color="#316198"/><stop offset="0.717" stop-color="#4372a5"/><stop offset="0.734" stop-color="#89b0d9"/><stop offset="0.74" stop-color="#95bce2"/><stop offset="0.743" stop-color="#96bce2"/><stop offset="0.747" stop-color="#96acd3"/><stop offset="0.757" stop-color="#a63349"/><stop offset="0.763" stop-color="#a4020c"/><stop offset="0.819" stop-color="#a4000a"/><stop offset="0.845" stop-color="#a53c53"/><stop offset="0.878" stop-color="#9c7496"/><stop offset="0.918" stop-color="#969cc3"/><stop offset="0.984" stop-color="#92b7de"/><stop offset="1" stop-color="#91b7de"/></linearGradient><linearGradient id="h132" gradientUnits="userSpaceOnUse" x1="410" x2="562" y1="0" y2="0"><stop offset="0" stop-color="#8fb5dc"/><stop offset="0.553" stop-color="#8bb1d9"/><stop offset="0.615" stop-color="#759fcb"/><stop offset="0.688" stop-color="#2f5f96"/><stop offset="0.707" stop-color="#316198"/><stop offset="0.717" stop-color="#4372a5"/><stop offset="0.734" stop-color="#89b0d9"/><stop offset="0.74" stop-color="#95bce2"/><stop offset="0.743" stop-color="#96bce2"/><stop offset="0.747" stop-color="#96acd3"/><stop offset="0.757" stop-color="#a63349"/><stop offset="0.763" stop-color="#a4020c"/><stop offset="0.819" stop-color="#a4000a"/><stop offset="0.845" stop-color="#a53c53"/><stop offset="0.878" stop-color="#9c7496"/><stop offset="0.918" stop-color="#969cc3"/><stop offset="0.984" stop-color="#92b7de"/><stop offset="1" stop-color="#91b7de"/></linearGradient><linearGradient id="cb" x1="0" y1="0" x2="0" y2="1"><stop offset="0" stop-color="#2c5c94"/><stop offset="0.03" stop-color="#306097"/><stop offset="0.05" stop-color="#34639a"/><stop offset="0.07" stop-color="#37679c"/><stop offset="0.1" stop-color="#3b6a9f"/><stop offset="0.12" stop-color="#3f6ea2"/><stop offset="0.15" stop-color="#4472a6"/><stop offset="0.17" stop-color="#4876aa"/><stop offset="0.2" stop-color="#4d7bad"/><stop offset="0.23" stop-color="#517fb1"/><stop offset="0.25" stop-color="#5683b5"/><stop offset="0.28" stop-color="#5c88b9"/><stop offset="0.3" stop-color="#628ebd"/><stop offset="0.33" stop-color="#6893c2"/><stop offset="0.35" stop-color="#6e99c6"/><stop offset="0.38" stop-color="#749eca"/><stop offset="0.4" stop-color="#79a3ce"/><stop offset="0.42" stop-color="#7fa7d1"/><stop offset="0.45" stop-color="#84acd5"/><stop offset="0.47" stop-color="#8ab0d8"/><stop offset="0.5" stop-color="#8fb5dc"/><stop offset="0.53" stop-color="#92b6dd"/><stop offset="0.55" stop-color="#94aed6"/><stop offset="0.57" stop-color="#95a6ce"/><stop offset="0.6" stop-color="#969ec6"/><stop offset="0.62" stop-color="#9894ba"/><stop offset="0.65" stop-color="#998aaf"/><stop offset="0.68" stop-color="#9a80a3"/><stop offset="0.7" stop-color="#9c7698"/><stop offset="0.72" stop-color="#9e6c8c"/><stop offset="0.75" stop-color="#9f6280"/><stop offset="0.78" stop-color="#a05874"/><stop offset="0.8" stop-color="#a24e68"/><stop offset="0.82" stop-color="#a4445d"/><stop offset="0.85" stop-color="#a53a51"/><stop offset="0.88" stop-color="#a63046"/><stop offset="0.9" stop-color="#a8263a"/><stop offset="0.93" stop-color="#a71c2e"/><stop offset="0.95" stop-color="#a61322"/><stop offset="0.97" stop-color="#a50a16"/><stop offset="1" stop-color="#a4000a"/></linearGradient></defs><text x="-1.1" y="14" font-size="24.5" text-anchor="start" fill="#111">a</text>
<polyline points="77.3,47.77 77.8,47.77 78.3,47.77 78.8,47.77 79.3,47.77 79.8,47.77 80.3,47.77 80.8,47.77 81.3,47.77 81.8,47.77 82.3,47.77 82.8,47.77 83.3,47.77 83.8,47.77 84.3,47.77 84.8,47.77 85.3,47.77 85.8,47.76 86.3,47.76 86.8,47.76 87.3,47.76 87.8,47.76 88.3,47.76 88.8,47.76 89.3,47.76 89.8,47.76 90.3,47.76 90.8,47.76 91.3,47.76 91.8,47.76 92.3,47.76 92.8,47.76 93.3,47.76 93.8,47.76 94.3,47.76 94.8,47.76 95.3,47.76 95.8,47.76 96.3,47.75 96.8,47.75 97.3,47.75 97.8,47.75 98.3,47.75 98.8,47.75 99.3,47.75 99.8,47.75 100.3,47.75 100.8,47.75 101.3,47.75 101.8,47.75 102.3,47.75 102.8,47.75 103.3,47.75 103.8,47.74 104.3,47.74 104.8,47.74 105.3,47.74 105.8,47.74 106.3,47.74 106.8,47.74 107.3,47.74 107.8,47.74 108.3,47.74 108.8,47.74 109.3,47.74 109.8,47.74 110.3,47.73 110.8,47.73 111.3,47.73 111.8,47.73 112.3,47.73 112.8,47.73 113.3,47.73 113.8,47.73 114.3,47.73 114.8,47.73 115.3,47.72 115.8,47.72 116.3,47.72 116.8,47.72 117.3,47.72 117.8,47.72 118.3,47.72 118.8,47.72 119.3,47.71 119.8,47.71 120.3,47.71 120.8,47.71 121.3,47.71 121.8,47.71 122.3,47.71 122.8,47.7 123.3,47.7 123.8,47.7 124.3,47.7 124.8,47.7 125.3,47.7 125.8,47.69 126.3,47.69 126.8,47.69 127.3,47.69 127.8,47.69 128.3,47.69 128.8,47.68 129.3,47.68 129.8,47.68 130.3,47.68 130.8,47.68 131.3,47.67 131.8,47.67 132.3,47.67 132.8,47.67 133.3,47.66 133.8,47.66 134.3,47.66 134.8,47.66 135.3,47.65 135.8,47.65 136.3,47.65 136.8,47.65 137.3,47.64 137.8,47.64 138.3,47.64 138.8,47.63 139.3,47.63 139.8,47.63 140.3,47.62 140.8,47.62 141.3,47.62 141.8,47.61 142.3,47.61 142.8,47.61 143.3,47.6 143.8,47.6 144.3,47.59 144.8,47.59 145.3,47.58 145.8,47.58 146.3,47.58 146.8,47.57 147.3,47.57 147.8,47.56 148.3,47.56 148.8,47.55 149.3,47.55 149.8,47.54 150.3,47.53 150.8,47.53 151.3,47.52 151.8,47.52 152.3,47.51 152.8,47.5 153.3,47.5 153.8,47.49 154.3,47.48 154.8,47.47 155.3,47.47 155.8,47.46 156.3,47.45 156.8,47.44 157.3,47.43 157.8,47.42 158.3,47.41 158.8,47.4 159.3,47.39 159.8,47.38 160.3,47.37 160.8,47.36 161.3,47.35 161.8,47.34 162.3,47.33 162.8,47.31 163.3,47.3 163.8,47.29 164.3,47.27 164.8,47.26 165.3,47.24 165.8,47.23 166.3,47.21 166.8,47.2 167.3,47.18 167.8,47.16 168.3,47.14 168.8,47.12 169.3,47.1 169.8,47.08 170.3,47.06 170.8,47.04 171.3,47.01 171.8,46.99 172.3,46.96 172.8,46.94 173.3,46.91 173.8,46.88 174.3,46.85 174.8,46.82 175.3,46.79 175.8,46.75 176.3,46.72 176.8,46.68 177.3,46.64 177.8,46.6 178.3,46.56 178.8,46.52 179.3,46.47 179.8,46.42 180.3,46.37 180.8,46.32 181.3,46.26 181.8,46.2 182.3,46.13 182.8,46.06 183.3,45.99 183.8,45.91 184.3,45.83 184.8,45.74 185.3,45.65 185.8,45.54 186.3,45.43 186.8,45.31 187.3,45.18 187.8,45.04 188.3,44.88 188.8,44.71 189.3,44.53 189.8,44.33 190.3,44.11 190.8,43.87 191.3,43.6 191.8,43.32 192.3,43 192.8,42.67 193.3,42.3 193.8,41.9 194.3,41.47 194.8,41 195.3,40.51 195.8,39.97 196.3,39.41 196.8,38.81 197.3,38.17 197.8,37.51 198.3,36.81 198.8,36.1 199.3,35.36 199.8,34.6 200.3,33.83 200.8,33.06 201.3,32.3 201.8,31.55 202.3,30.82 202.8,30.13 203.3,29.48 203.8,28.9 204.3,28.38 204.8,27.95 205.3,27.62 205.8,27.4 206.3,27.3 206.8,27.35 207.3,27.54 207.8,27.89 208.3,28.41 208.8,29.11 209.3,29.98 209.8,31.04 210.3,32.27 210.8,33.68 211.3,35.25 211.8,36.97 212.3,38.83 212.8,40.8 213.3,42.86 213.8,44.99 214.3,47.15 214.8,49.32 215.3,51.47 215.8,53.57 216.3,55.6 216.8,57.53 217.3,59.33 217.8,60.99 218.3,62.5 218.8,63.84 219.3,65 219.8,65.99 220.3,66.79 220.8,67.42 221.3,67.87 221.8,68.16 222.3,68.29 222.8,68.28 223.3,68.13 223.8,67.86 224.3,67.49 224.8,67.02 225.3,66.48 225.8,65.87 226.3,65.2 226.8,64.49 227.3,63.75 227.8,63 228.3,62.23 228.8,61.46 229.3,60.7 229.8,59.95 230.3,59.21 230.8,58.5 231.3,57.82 231.8,57.17 232.3,56.55 232.8,55.96 233.3,55.41 233.8,54.89 234.3,54.41 234.8,53.96 235.3,53.54 235.8,53.15 236.3,52.8 236.8,52.47 237.3,52.17 237.8,51.89 238.3,51.64 238.8,51.4 239.3,51.19 239.8,51 240.3,50.82 240.8,50.66 241.3,50.51 241.8,50.37 242.3,50.24 242.8,50.12 243.3,50.02 243.8,49.92 244.3,49.82 244.8,49.74 245.3,49.65 245.8,49.58 246.3,49.51 246.8,49.44 247.3,49.38 247.8,49.32 248.3,49.26 248.8,49.21 249.3,49.16 249.8,49.11 250.3,49.06 250.8,49.02 251.3,48.98 251.8,48.94 252.3,48.9 252.8,48.87 253.3,48.83 253.8,48.8 254.3,48.77 254.8,48.74 255.3,48.71 255.8,48.68 256.3,48.65 256.8,48.63 257.3,48.6 257.8,48.58 258.3,48.55 258.8,48.53 259.3,48.51 259.8,48.49 260.3,48.47 260.8,48.45 261.3,48.43 261.8,48.41 262.3,48.4 262.8,48.38 263.3,48.36 263.8,48.35 264.3,48.33 264.8,48.32 265.3,48.31 265.8,48.29 266.3,48.28 266.8,48.27 267.3,48.26 267.8,48.24 268.3,48.23 268.8,48.22 269.3,48.21 269.8,48.2 270.3,48.19 270.8,48.18 271.3,48.17 271.8,48.16 272.3,48.16 272.8,48.15 273.3,48.14 273.8,48.13 274.3,48.12 274.8,48.12 275.3,48.11 275.8,48.1 276.3,48.09 276.8,48.09 277.3,48.08 277.8,48.08 278.3,48.07 278.8,48.06 279.3,48.06 279.8,48.05 280.3,48.05 280.8,48.04 281.3,48.04 281.8,48.03 282.3,48.03 282.8,48.02 283.3,48.02 283.8,48.01 284.3,48.01 284.8,48 285.3,48 285.8,48 286.3,47.99 286.8,47.99 287.3,47.99 287.8,47.98 288.3,47.98 288.8,47.97 289.3,47.97 289.8,47.97 290.3,47.97 290.8,47.96 291.3,47.96 291.8,47.96 292.3,47.95 292.8,47.95 293.3,47.95 293.8,47.95 294.3,47.94 294.8,47.94 295.3,47.94 295.8,47.93 296.3,47.93 296.8,47.93 297.3,47.93 297.8,47.93 298.3,47.92 298.8,47.92 299.3,47.92" fill="none" stroke="#bdbdbd" stroke-width="1.4" stroke-linejoin="round"/>
<polyline points="77.3,47.26 77.8,47.54 78.3,47.37 78.8,47.63 79.3,47.44 79.8,47.43 80.3,47.41 80.8,47.19 81.3,47.44 81.8,47.15 82.3,47.18 82.8,47.18 83.3,47.68 83.8,47.7 84.3,47.57 84.8,47.44 85.3,47.99 85.8,48.22 86.3,48.07 86.8,48.09 87.3,47.73 87.8,48.04 88.3,47.58 88.8,47.65 89.3,47.15 89.8,47.17 90.3,47.61 90.8,47.66 91.3,47.84 91.8,47.72 92.3,47.85 92.8,47.82 93.3,47.44 93.8,47.23 94.3,47 94.8,47.41 95.3,47.66 95.8,47.73 96.3,47.67 96.8,47.68 97.3,47.68 97.8,47.81 98.3,47.98 98.8,47.94 99.3,47.79 99.8,47.68 100.3,48.1 100.8,48.2 101.3,48.04 101.8,48.11 102.3,47.7 102.8,47.79 103.3,47.64 103.8,47.66 104.3,47.71 104.8,47.23 105.3,47.58 105.8,47.76 106.3,48.12 106.8,48.25 107.3,47.95 107.8,48.03 108.3,47.85 108.8,48.02 109.3,47.86 109.8,48.03 110.3,48.27 110.8,48.28 111.3,48.16 111.8,47.57 112.3,47.73 112.8,47.71 113.3,48.33 113.8,48.41 114.3,48.17 114.8,47.77 115.3,47.66 115.8,47.49 116.3,47.54 116.8,47.21 117.3,47.27 117.8,47 118.3,47.4 118.8,47.41 119.3,47.53 119.8,47.28 120.3,47.77 120.8,47.66 121.3,47.7 121.8,47.49 122.3,48.02 122.8,48.27 123.3,48.48 123.8,48.07 124.3,47.8 124.8,47.46 125.3,47.87 125.8,48.23 126.3,48.09 126.8,47.62 127.3,47.13 127.8,47.19 128.3,47.39 128.8,47.63 129.3,47.65 129.8,47.33 130.3,47.21 130.8,47.28 131.3,47.66 131.8,48.01 132.3,48.22 132.8,48.19 133.3,47.97 133.8,47.95 134.3,47.65 134.8,47.83 135.3,47.9 135.8,48.45 136.3,48.38 136.8,48.12 137.3,47.8 137.8,47.34 138.3,47.5 138.8,47.27 139.3,47.25 139.8,46.96 140.3,47.03 140.8,47.21 141.3,47.1 141.8,46.99 142.3,46.87 142.8,46.9 143.3,47.14 143.8,47.05 144.3,47.57 144.8,47.73 145.3,47.81 145.8,47.4 146.3,47.22 146.8,47.36 147.3,47.27 147.8,47.6 148.3,48.02 148.8,48.25 149.3,48 149.8,47.39 150.3,47.15 150.8,47.05 151.3,47.17 151.8,47.65 152.3,47.53 152.8,47.37 153.3,47.44 153.8,47.69 154.3,47.77 154.8,47.49 155.3,47.15 155.8,47.41 156.3,47.69 156.8,48.25 157.3,48.36 157.8,47.87 158.3,47.54 158.8,47.18 159.3,47.52 159.8,47.63 160.3,48.03 160.8,47.73 161.3,47.52 161.8,47.54 162.3,47.97 162.8,48.39 163.3,48.38 163.8,48.26 164.3,48.18 164.8,47.79 165.3,47.58 165.8,47.32 166.3,47.18 166.8,46.85 167.3,46.79 167.8,46.94 168.3,47.38 168.8,47.82 169.3,47.94 169.8,48.09 170.3,48.11 170.8,48.44 171.3,48.05 171.8,47.53 172.3,47.03 172.8,46.91 173.3,46.89 173.8,47.14 174.3,47.6 174.8,48.01 175.3,47.91 175.8,47.73 176.3,47.69 176.8,47.41 177.3,47.4 177.8,47.46 178.3,47.91 178.8,47.95 179.3,47.65 179.8,47.23 180.3,47.23 180.8,47.12 181.3,47.51 181.8,47.61 182.3,47.63 182.8,47.34 183.3,47.29 183.8,47.48 184.3,47.3 184.8,46.72 185.3,46.3 185.8,46.75 186.3,47.16 186.8,47.12 187.3,47.02 187.8,47.08 188.3,47.36 188.8,46.98 189.3,46.63 189.8,46.2 190.3,45.9 190.8,46.09 191.3,46.34 191.8,46.57 192.3,46.43 192.8,46.16 193.3,46.26 193.8,46.04 194.3,45.73 194.8,45.14 195.3,44.61 195.8,44.43 196.3,44.44 196.8,44.2 197.3,44.08 197.8,43.53 198.3,43.71 198.8,43.4 199.3,43.34 199.8,42.85 200.3,42.93 200.8,42.62 201.3,42.56 201.8,42.01 202.3,41.82 202.8,41.3 203.3,40.74 203.8,40.46 204.3,40.04 204.8,39.87 205.3,39.99 205.8,39.9 206.3,40.18 206.8,40.15 207.3,40.47 207.8,40.51 208.3,40.56 208.8,40.82 209.3,41.45 209.8,41.56 210.3,42.02 210.8,42.19 211.3,42.88 211.8,43.66 212.3,44.52 212.8,45.44 213.3,46.19 213.8,47.25 214.3,47.97 214.8,48.67 215.3,49.2 215.8,50.02 216.3,50.83 216.8,51.5 217.3,52.19 217.8,52.66 218.3,53.54 218.8,54.15 219.3,54.84 219.8,55.21 220.3,55.21 220.8,55.23 221.3,55.4 221.8,55.89 222.3,55.84 222.8,55.31 223.3,55.01 223.8,54.88 224.3,54.84 224.8,54.45 225.3,54.67 225.8,54.82 226.3,55.15 226.8,54.57 227.3,54.28 227.8,53.86 228.3,53.6 228.8,53.45 229.3,53.4 229.8,53.2 230.3,53.01 230.8,52.39 231.3,52.35 231.8,52.16 232.3,52.24 232.8,51.83 233.3,51.28 233.8,50.9 234.3,50.86 234.8,50.56 235.3,50.3 235.8,50.43 236.3,50.19 236.8,50.24 237.3,49.96 237.8,49.87 238.3,49.63 238.8,49.68 239.3,49.93 239.8,49.68 240.3,49.86 240.8,49.98 241.3,50.52 241.8,49.88 242.3,49.47 242.8,48.8 243.3,49.19 243.8,49.14 244.3,49.15 244.8,48.86 245.3,49.24 245.8,49.65 246.3,49.49 246.8,48.94 247.3,48.95 247.8,49.11 248.3,49.43 248.8,48.83 249.3,48.45 249.8,48.39 250.3,48.57 250.8,48.54 251.3,48.66 251.8,48.76 252.3,49.21 252.8,48.6 253.3,48.71 253.8,48.18 254.3,48.66 254.8,48.36 255.3,48.51 255.8,48.27 256.3,48.56 256.8,48.48 257.3,48.17 257.8,47.88 258.3,47.84 258.8,47.8 259.3,47.54 259.8,47.39 260.3,47.43 260.8,47.52 261.3,47.67 261.8,48.02 262.3,48 262.8,48.11 263.3,47.71 263.8,47.74 264.3,47.4 264.8,47.44 265.3,47.21 265.8,47.68 266.3,47.87 266.8,47.98 267.3,47.8 267.8,48.05 268.3,47.99 268.8,48.21 269.3,47.87 269.8,48.12 270.3,48.13 270.8,48.1 271.3,48.1 271.8,48 272.3,48.39 272.8,48.27 273.3,48.37 273.8,48.18 274.3,48.37 274.8,48.08 275.3,47.84 275.8,47.45 276.3,47.26 276.8,47.08 277.3,47.53 277.8,47.61 278.3,47.67 278.8,47.23 279.3,47.62 279.8,48.09 280.3,48.48 280.8,48.1 281.3,47.68 281.8,47.43 282.3,47.55 282.8,47.49 283.3,47.59 283.8,47.46 284.3,47.99 284.8,48.34 285.3,48.53 285.8,48.05 286.3,48.04 286.8,47.88 287.3,47.96 287.8,47.31 288.3,47.36 288.8,47.44 289.3,47.77 289.8,47.65 290.3,47.67 290.8,47.33 291.3,47.37 291.8,47.1 292.3,47.36 292.8,47.21 293.3,47.16 293.8,47.1 294.3,47.23 294.8,47.6 295.3,47.75 295.8,48.09 296.3,48.14 296.8,48.26 297.3,48.35 297.8,48.17 298.3,47.91 298.8,47.98 299.3,48.16" fill="none" stroke="#b2171c" stroke-width="1.5" stroke-linejoin="round"/>
<polyline points="77.3,47.77 77.8,47.77 78.3,47.77 78.8,47.77 79.3,47.77 79.8,47.77 80.3,47.77 80.8,47.77 81.3,47.77 81.8,47.77 82.3,47.77 82.8,47.77 83.3,47.77 83.8,47.77 84.3,47.77 84.8,47.77 85.3,47.77 85.8,47.77 86.3,47.77 86.8,47.77 87.3,47.77 87.8,47.76 88.3,47.76 88.8,47.76 89.3,47.76 89.8,47.76 90.3,47.76 90.8,47.76 91.3,47.76 91.8,47.76 92.3,47.76 92.8,47.76 93.3,47.76 93.8,47.76 94.3,47.76 94.8,47.76 95.3,47.76 95.8,47.76 96.3,47.76 96.8,47.76 97.3,47.76 97.8,47.76 98.3,47.75 98.8,47.75 99.3,47.75 99.8,47.75 100.3,47.75 100.8,47.75 101.3,47.75 101.8,47.75 102.3,47.75 102.8,47.75 103.3,47.75 103.8,47.75 104.3,47.75 104.8,47.75 105.3,47.75 105.8,47.74 106.3,47.74 106.8,47.74 107.3,47.74 107.8,47.74 108.3,47.74 108.8,47.74 109.3,47.74 109.8,47.74 110.3,47.74 110.8,47.74 111.3,47.74 111.8,47.73 112.3,47.73 112.8,47.73 113.3,47.73 113.8,47.73 114.3,47.73 114.8,47.73 115.3,47.73 115.8,47.73 116.3,47.73 116.8,47.72 117.3,47.72 117.8,47.72 118.3,47.72 118.8,47.72 119.3,47.72 119.8,47.72 120.3,47.72 120.8,47.72 121.3,47.71 121.8,47.71 122.3,47.71 122.8,47.71 123.3,47.71 123.8,47.71 124.3,47.71 124.8,47.7 125.3,47.7 125.8,47.7 126.3,47.7 126.8,47.7 127.3,47.7 127.8,47.69 128.3,47.69 128.8,47.69 129.3,47.69 129.8,47.69 130.3,47.68 130.8,47.68 131.3,47.68 131.8,47.68 132.3,47.68 132.8,47.67 133.3,47.67 133.8,47.67 134.3,47.67 134.8,47.66 135.3,47.66 135.8,47.66 136.3,47.66 136.8,47.65 137.3,47.65 137.8,47.65 138.3,47.65 138.8,47.64 139.3,47.64 139.8,47.64 140.3,47.63 140.8,47.63 141.3,47.63 141.8,47.62 142.3,47.62 142.8,47.62 143.3,47.61 143.8,47.61 144.3,47.61 144.8,47.6 145.3,47.6 145.8,47.59 146.3,47.59 146.8,47.59 147.3,47.58 147.8,47.58 148.3,47.57 148.8,47.57 149.3,47.56 149.8,47.56 150.3,47.55 150.8,47.55 151.3,47.54 151.8,47.53 152.3,47.53 152.8,47.52 153.3,47.52 153.8,47.51 154.3,47.5 154.8,47.5 155.3,47.49 155.8,47.48 156.3,47.47 156.8,47.47 157.3,47.46 157.8,47.45 158.3,47.44 158.8,47.43 159.3,47.42 159.8,47.41 160.3,47.4 160.8,47.39 161.3,47.38 161.8,47.37 162.3,47.36 162.8,47.35 163.3,47.34 163.8,47.33 164.3,47.31 164.8,47.3 165.3,47.29 165.8,47.27 166.3,47.26 166.8,47.24 167.3,47.23 167.8,47.21 168.3,47.19 168.8,47.18 169.3,47.16 169.8,47.14 170.3,47.12 170.8,47.1 171.3,47.08 171.8,47.06 172.3,47.03 172.8,47.01 173.3,46.99 173.8,46.96 174.3,46.93 174.8,46.91 175.3,46.88 175.8,46.85 176.3,46.82 176.8,46.78 177.3,46.75 177.8,46.71 178.3,46.67 178.8,46.64 179.3,46.59 179.8,46.55 180.3,46.51 180.8,46.46 181.3,46.41 181.8,46.36 182.3,46.3 182.8,46.24 183.3,46.18 183.8,46.11 184.3,46.04 184.8,45.97 185.3,45.89 185.8,45.8 186.3,45.71 186.8,45.61 187.3,45.5 187.8,45.38 188.3,45.26 188.8,45.12 189.3,44.97 189.8,44.81 190.3,44.63 190.8,44.44 191.3,44.22 191.8,43.99 192.3,43.74 192.8,43.46 193.3,43.16 193.8,42.84 194.3,42.48 194.8,42.1 195.3,41.68 195.8,41.23 196.3,40.75 196.8,40.24 197.3,39.69 197.8,39.11 198.3,38.49 198.8,37.85 199.3,37.17 199.8,36.47 200.3,35.75 200.8,35.01 201.3,34.26 201.8,33.51 202.3,32.76 202.8,32.02 203.3,31.3 203.8,30.61 204.3,29.97 204.8,29.38 205.3,28.86 205.8,28.42 206.3,28.08 206.8,27.84 207.3,27.72 207.8,27.73 208.3,27.89 208.8,28.21 209.3,28.68 209.8,29.33 210.3,30.15 210.8,31.15 211.3,32.33 211.8,33.68 212.3,35.18 212.8,36.84 213.3,38.64 213.8,40.55 214.3,42.55 214.8,44.62 215.3,46.74 215.8,48.86 216.3,50.98 216.8,53.05 217.3,55.05 217.8,56.96 218.3,58.76 218.8,60.42 219.3,61.92 219.8,63.27 220.3,64.45 220.8,65.45 221.3,66.27 221.8,66.92 222.3,67.39 222.8,67.71 223.3,67.87 223.8,67.88 224.3,67.76 224.8,67.52 225.3,67.18 225.8,66.74 226.3,66.22 226.8,65.63 227.3,64.99 227.8,64.3 228.3,63.58 228.8,62.84 229.3,62.09 229.8,61.34 230.3,60.59 230.8,59.85 231.3,59.13 231.8,58.43 232.3,57.75 232.8,57.11 233.3,56.49 233.8,55.91 234.3,55.36 234.8,54.85 235.3,54.37 235.8,53.92 236.3,53.5 236.8,53.12 237.3,52.76 237.8,52.44 238.3,52.14 238.8,51.86 239.3,51.61 239.8,51.38 240.3,51.16 240.8,50.97 241.3,50.79 241.8,50.63 242.3,50.48 242.8,50.34 243.3,50.22 243.8,50.1 244.3,49.99 244.8,49.89 245.3,49.8 245.8,49.71 246.3,49.63 246.8,49.56 247.3,49.49 247.8,49.42 248.3,49.36 248.8,49.3 249.3,49.24 249.8,49.19 250.3,49.14 250.8,49.09 251.3,49.05 251.8,49.01 252.3,48.96 252.8,48.93 253.3,48.89 253.8,48.85 254.3,48.82 254.8,48.78 255.3,48.75 255.8,48.72 256.3,48.69 256.8,48.67 257.3,48.64 257.8,48.61 258.3,48.59 258.8,48.57 259.3,48.54 259.8,48.52 260.3,48.5 260.8,48.48 261.3,48.46 261.8,48.44 262.3,48.42 262.8,48.41 263.3,48.39 263.8,48.37 264.3,48.36 264.8,48.34 265.3,48.33 265.8,48.31 266.3,48.3 266.8,48.29 267.3,48.27 267.8,48.26 268.3,48.25 268.8,48.24 269.3,48.23 269.8,48.22 270.3,48.21 270.8,48.2 271.3,48.19 271.8,48.18 272.3,48.17 272.8,48.16 273.3,48.15 273.8,48.14 274.3,48.13 274.8,48.13 275.3,48.12 275.8,48.11 276.3,48.1 276.8,48.1 277.3,48.09 277.8,48.08 278.3,48.08 278.8,48.07 279.3,48.07 279.8,48.06 280.3,48.05 280.8,48.05 281.3,48.04 281.8,48.04 282.3,48.03 282.8,48.03 283.3,48.02 283.8,48.02 284.3,48.01 284.8,48.01 285.3,48.01 285.8,48 286.3,48 286.8,47.99 287.3,47.99 287.8,47.99 288.3,47.98 288.8,47.98 289.3,47.98 289.8,47.97 290.3,47.97 290.8,47.97 291.3,47.96 291.8,47.96 292.3,47.96 292.8,47.95 293.3,47.95 293.8,47.95 294.3,47.95 294.8,47.94 295.3,47.94 295.8,47.94 296.3,47.94 296.8,47.93 297.3,47.93 297.8,47.93 298.3,47.93 298.8,47.92 299.3,47.92" fill="none" stroke="#4fc3f2" stroke-width="1.6" stroke-linejoin="round" stroke-dasharray="5.5 3"/>
<rect x="76.8" y="22.6" width="223.9" height="50.4" fill="none" stroke="#3c3c3c" stroke-width="1.2"/>
<line x1="74.6" y1="22.6" x2="76.8" y2="22.6" stroke="#3c3c3c" stroke-width="1.1"/>
<text x="72" y="25.9" font-size="11.8" text-anchor="end" fill="#111">0.15</text>
<line x1="74.6" y1="47.8" x2="76.8" y2="47.8" stroke="#3c3c3c" stroke-width="1.1"/>
<text x="72" y="51.1" font-size="11.8" text-anchor="end" fill="#111">0.00</text>
<line x1="74.6" y1="73" x2="76.8" y2="73" stroke="#3c3c3c" stroke-width="1.1"/>
<text x="72" y="76.3" font-size="11.8" text-anchor="end" fill="#111">-0.15</text>
<line x1="75.4" y1="35.2" x2="76.8" y2="35.2" stroke="#3c3c3c" stroke-width="1.0"/>
<line x1="75.4" y1="60.4" x2="76.8" y2="60.4" stroke="#3c3c3c" stroke-width="1.0"/>
<text x="297.6" y="34.4" font-size="12.8" text-anchor="end" fill="#b11e22">Cu&#8211;Ti<tspan font-size="9" dy="3.5">1</tspan><tspan dy="-3.5">O</tspan><tspan font-size="9" dy="3.5">3</tspan></text>
<text x="80" y="68.6" font-size="12.8" text-anchor="start" fill="#111">O<tspan font-size="9">v</tspan> detection</text>
<text x="30" y="46.9" font-size="13" text-anchor="middle" fill="#111" transform="rotate(-90 30 46.9)">Intensity (a.u.)</text>
<rect x="78" y="97" width="222.5" height="152" fill="#8fb5dc"/>
<rect x="176" y="97" width="86" height="2" fill="url(#h1)"/>
<rect x="176" y="99" width="86" height="3" fill="url(#h2)"/>
<rect x="176" y="102" width="86" height="2" fill="url(#h3)"/>
<rect x="176" y="104" width="86" height="3" fill="url(#h4)"/>
<rect x="176" y="107" width="86" height="2" fill="url(#h5)"/>
<rect x="176" y="109" width="86" height="5" fill="url(#h6)"/>
<rect x="176" y="114" width="86" height="1" fill="url(#h7)"/>
<rect x="176" y="115" width="86" height="1" fill="url(#h8)"/>
<rect x="176" y="116" width="86" height="1" fill="url(#h9)"/>
<rect x="176" y="117" width="86" height="1" fill="url(#h10)"/>
<rect x="176" y="118" width="86" height="1" fill="url(#h11)"/>
<rect x="176" y="119" width="86" height="1" fill="url(#h12)"/>
<rect x="176" y="120" width="86" height="4" fill="url(#h13)"/>
<rect x="176" y="124" width="86" height="1" fill="url(#h14)"/>
<rect x="176" y="125" width="86" height="1" fill="url(#h15)"/>
<rect x="176" y="126" width="86" height="1" fill="url(#h16)"/>
<rect x="176" y="127" width="86" height="1" fill="url(#h17)"/>
<rect x="176" y="128" width="86" height="1" fill="url(#h18)"/>
<rect x="176" y="129" width="86" height="1" fill="url(#h19)"/>
<rect x="176" y="130" width="86" height="3" fill="url(#h20)"/>
<rect x="176" y="133" width="86" height="2" fill="url(#h21)"/>
<rect x="176" y="135" width="86" height="2" fill="url(#h22)"/>
<rect x="176" y="137" width="86" height="1" fill="url(#h23)"/>
<rect x="176" y="138" width="86" height="1" fill="url(#h24)"/>
<rect x="176" y="139" width="86" height="2" fill="url(#h25)"/>
<rect x="176" y="141" width="86" height="4" fill="url(#h26)"/>
<rect x="176" y="145" width="86" height="2" fill="url(#h27)"/>
<rect x="176" y="147" width="86" height="2" fill="url(#h28)"/>
<rect x="176" y="149" width="86" height="14" fill="url(#h29)"/>
<rect x="176" y="163" width="86" height="11" fill="url(#h28)"/>
<rect x="176" y="174" width="86" height="1" fill="url(#h27)"/>
<rect x="176" y="175" width="86" height="1" fill="url(#h26)"/>
<rect x="176" y="176" width="86" height="1" fill="url(#h25)"/>
<rect x="176" y="177" width="86" height="1" fill="url(#h24)"/>
<rect x="176" y="178" width="86" height="1" fill="url(#h22)"/>
<rect x="176" y="179" width="86" height="1" fill="url(#h21)"/>
<rect x="176" y="180" width="86" height="1" fill="url(#h20)"/>
<rect x="176" y="181" width="86" height="1" fill="url(#h19)"/>
<rect x="176" y="182" width="86" height="2" fill="url(#h18)"/>
<rect x="176" y="184" width="86" height="1" fill="url(#h17)"/>
<rect x="176" y="185" width="86" height="1" fill="url(#h14)"/>
<rect x="176" y="186" width="86" height="1" fill="url(#h12)"/>
<rect x="176" y="187" width="86" height="1" fill="url(#h8)"/>
<rect x="176" y="188" width="86" height="1" fill="url(#h6)"/>
<rect x="176" y="189" width="86" height="1" fill="url(#h3)"/>
<rect x="176" y="190" width="86" height="2" fill="url(#h2)"/>
<rect x="176" y="192" width="86" height="1" fill="url(#h1)"/>
<rect x="176" y="193" width="86" height="1" fill="url(#h30)"/>
<rect x="176" y="194" width="86" height="1" fill="url(#h31)"/>
<rect x="176" y="195" width="86" height="1" fill="url(#h32)"/>
<rect x="176" y="196" width="86" height="1" fill="url(#h33)"/>
<rect x="176" y="197" width="86" height="52" fill="url(#h34)"/>
<rect x="77.5" y="96.5" width="222.9" height="153" fill="none" stroke="#3c3c3c" stroke-width="1.2"/>
<line x1="77.5" y1="249.5" x2="77.5" y2="251" stroke="#3c3c3c" stroke-width="1.0"/>
<line x1="109.34" y1="249.5" x2="109.34" y2="251.9" stroke="#3c3c3c" stroke-width="1.0"/>
<text x="109.34" y="263.2" font-size="11.8" text-anchor="middle" fill="#111">349</text>
<line x1="141.19" y1="249.5" x2="141.19" y2="251" stroke="#3c3c3c" stroke-width="1.0"/>
<line x1="173.03" y1="249.5" x2="173.03" y2="251.9" stroke="#3c3c3c" stroke-width="1.0"/>
<text x="173.03" y="263.2" font-size="11.8" text-anchor="middle" fill="#111">351</text>
<line x1="204.87" y1="249.5" x2="204.87" y2="251" stroke="#3c3c3c" stroke-width="1.0"/>
<line x1="236.71" y1="249.5" x2="236.71" y2="251.9" stroke="#3c3c3c" stroke-width="1.0"/>
<text x="236.71" y="263.2" font-size="11.8" text-anchor="middle" fill="#111">353</text>
<line x1="268.56" y1="249.5" x2="268.56" y2="251" stroke="#3c3c3c" stroke-width="1.0"/>
<line x1="300.4" y1="249.5" x2="300.4" y2="251.9" stroke="#3c3c3c" stroke-width="1.0"/>
<text x="300.4" y="263.2" font-size="11.8" text-anchor="middle" fill="#111">355</text>
<text x="192.3" y="282.9" font-size="13" text-anchor="middle" fill="#111">Magnetic field (mT)</text>
<line x1="48.9" y1="97.8" x2="61.6" y2="97.8" stroke="#8a8a8a" stroke-width="1.3"/>
<line x1="48.9" y1="249.7" x2="61.6" y2="249.7" stroke="#8a8a8a" stroke-width="1.3"/>
<line x1="49" y1="249.7" x2="51.6" y2="249.7" stroke="#3c3c3c" stroke-width="1.0"/>
<text x="47.8" y="253.3" font-size="10.5" text-anchor="end" fill="#111">0</text>
<line x1="49" y1="199.07" x2="51.6" y2="199.07" stroke="#3c3c3c" stroke-width="1.0"/>
<text x="47.8" y="202.67" font-size="10.5" text-anchor="end" fill="#111">10</text>
<line x1="49" y1="148.43" x2="51.6" y2="148.43" stroke="#3c3c3c" stroke-width="1.0"/>
<text x="47.8" y="152.03" font-size="10.5" text-anchor="end" fill="#111">20</text>
<line x1="49" y1="97.8" x2="51.6" y2="97.8" stroke="#3c3c3c" stroke-width="1.0"/>
<text x="47.8" y="101.4" font-size="10.5" text-anchor="end" fill="#111">30</text>
<line x1="49.8" y1="224.38" x2="51.6" y2="224.38" stroke="#3c3c3c" stroke-width="1.0"/>
<line x1="49.8" y1="173.75" x2="51.6" y2="173.75" stroke="#3c3c3c" stroke-width="1.0"/>
<line x1="49.8" y1="123.12" x2="51.6" y2="123.12" stroke="#3c3c3c" stroke-width="1.0"/>
<line x1="51.6" y1="249.7" x2="51.6" y2="252.4" stroke="#3c3c3c" stroke-width="1.0"/>
<line x1="61.6" y1="249.7" x2="61.6" y2="252.4" stroke="#3c3c3c" stroke-width="1.0"/>
<line x1="56.6" y1="249.7" x2="56.6" y2="251.2" stroke="#3c3c3c" stroke-width="1.0"/>
<line x1="50.5" y1="97.8" x2="50.5" y2="249.7" stroke="#8a8a8a" stroke-width="1.1"/>
<polyline points="51.5,249.7 51.5,249.19 51.5,248.69 51.5,248.18 51.5,247.67 51.5,247.17 51.5,246.66 51.5,246.16 51.5,245.65 51.5,245.14 51.5,244.64 51.5,244.13 51.5,243.62 51.5,243.12 51.5,242.61 51.5,242.1 51.5,241.6 51.5,241.09 51.5,240.59 51.5,240.08 51.5,239.57 51.5,239.07 51.5,238.56 51.5,238.05 51.5,237.55 51.5,237.04 51.5,236.54 51.5,236.03 51.5,235.52 51.5,235.02 51.5,234.51 51.5,234 51.5,233.5 51.5,232.99 51.5,232.48 51.5,231.98 51.5,231.47 51.5,230.97 51.5,230.46 51.5,229.95 51.5,229.45 51.5,228.94 51.5,228.43 51.5,227.93 51.5,227.42 51.5,226.91 51.5,226.41 51.5,225.9 51.5,225.4 51.5,224.89 51.5,224.38 51.5,223.88 51.5,223.37 51.5,222.86 51.5,222.36 51.5,221.85 51.5,221.35 51.5,220.84 51.5,220.33 51.5,219.83 51.5,219.32 51.5,218.81 51.5,218.31 51.5,217.8 51.5,217.29 51.5,216.79 51.5,216.28 51.5,215.78 51.5,215.27 51.5,214.76 51.5,214.26 51.5,213.75 51.5,213.24 51.5,212.74 51.5,212.23 51.5,211.72 51.5,211.22 51.5,210.71 51.5,210.21 51.5,209.7 51.5,209.19 51.5,208.69 51.5,208.18 51.5,207.67 51.5,207.17 51.5,206.66 51.5,206.16 51.5,205.65 51.5,205.14 51.5,204.64 51.5,204.13 51.5,203.62 51.5,203.12 51.5,202.61 51.5,202.1 51.5,201.6 51.5,201.09 51.5,200.59 51.5,200.08 51.5,199.57 51.5,199.07 59.1,199.07 58.44,198.56 57.84,198.05 57.31,197.55 56.82,197.04 56.39,196.53 55.99,196.03 55.64,195.52 55.32,195.02 55.03,194.51 54.76,194 54.52,193.5 54.31,192.99 54.11,192.48 53.93,191.98 53.77,191.47 53.62,190.97 53.48,190.46 53.36,189.95 53.25,189.45 53.15,188.94 53.05,188.43 52.96,187.93 52.88,187.42 52.81,186.91 52.74,186.41 52.68,185.9 52.62,185.4 52.57,184.89 52.52,184.38 52.47,183.88 52.43,183.37 52.39,182.86 52.35,182.36 52.31,181.85 52.28,181.34 52.25,180.84 52.22,180.33 52.19,179.83 52.17,179.32 52.14,178.81 52.12,178.31 52.1,177.8 52.08,177.29 52.06,176.79 52.04,176.28 52.02,175.78 52,175.27 51.98,174.76 51.97,174.26 51.95,173.75 51.94,173.24 51.93,172.74 51.91,172.23 51.9,171.72 51.89,171.22 51.87,170.71 51.86,170.21 51.85,169.7 51.84,169.19 51.83,168.69 51.82,168.18 51.81,167.67 51.8,167.17 51.79,166.66 51.79,166.16 51.78,165.65 51.77,165.14 51.76,164.64 51.75,164.13 51.75,163.62 51.74,163.12 51.73,162.61 51.73,162.1 51.72,161.6 51.71,161.09 51.71,160.59 51.7,160.08 51.69,159.57 51.69,159.07 51.68,158.56 51.68,158.05 51.67,157.55 51.67,157.04 51.66,156.53 51.66,156.03 51.65,155.52 51.65,155.02 51.65,154.51 51.64,154 51.64,153.5 51.63,152.99 51.63,152.48 51.63,151.98 51.62,151.47 51.62,150.97 51.62,150.46 51.61,149.95 51.61,149.45 51.61,148.94 51.6,148.43 51.6,147.93 51.6,147.42 51.59,146.91 51.59,146.41 51.59,145.9 51.59,145.4 51.58,144.89 51.58,144.38 51.58,143.88 51.58,143.37 51.58,142.86 51.57,142.36 51.57,141.85 51.57,141.34 51.57,140.84 51.57,140.33 51.56,139.83 51.56,139.32 51.56,138.81 51.56,138.31 51.56,137.8 51.56,137.29 51.55,136.79 51.55,136.28 51.55,135.78 51.55,135.27 51.55,134.76 51.55,134.26 51.55,133.75 51.54,133.24 51.54,132.74 51.54,132.23 51.54,131.72 51.54,131.22 51.54,130.71 51.54,130.21 51.54,129.7 51.53,129.19 51.53,128.69 51.53,128.18 51.53,127.67 51.53,127.17 51.53,126.66 51.53,126.15 51.53,125.65 51.53,125.14 51.53,124.64 51.53,124.13 51.53,123.62 51.52,123.12 51.52,122.61 51.52,122.1 51.52,121.6 51.52,121.09 51.52,120.59 51.52,120.08 51.52,119.57 51.52,119.07 51.52,118.56 51.52,118.05 51.52,117.55 51.52,117.04 51.52,116.53 51.52,116.03 51.52,115.52 51.52,115.02 51.52,114.51 51.51,114 51.51,113.5 51.51,112.99 51.51,112.48 51.51,111.98 51.51,111.47 51.51,110.96 51.51,110.46 51.51,109.95 51.51,109.45 51.51,108.94 51.51,108.43 51.51,107.93 51.51,107.42 51.51,106.91 51.51,106.41 51.51,105.9 51.51,105.4 51.51,104.89 51.51,104.38 51.51,103.88 51.51,103.37 51.51,102.86 51.51,102.36 51.51,101.85 51.51,101.34 51.51,100.84 51.51,100.33 51.51,99.83 51.51,99.32 51.51,98.81 51.51,98.31 51.51,97.8" fill="none" stroke="#2428b4" stroke-width="1.5" stroke-linejoin="round"/>
<line x1="51.6" y1="148.4" x2="72" y2="148.4" stroke="#c0393f" stroke-width="1.1" stroke-dasharray="5 2.6"/>
<line x1="51.6" y1="199.2" x2="72" y2="199.2" stroke="#c0393f" stroke-width="1.1" stroke-dasharray="5 2.6"/>
<text x="53.8" y="157.8" font-size="9.8" text-anchor="start" fill="#b5262b">Stop</text>
<text x="52.6" y="207.9" font-size="9.8" text-anchor="start" fill="#b5262b">Start</text>
<text x="30.8" y="173.2" font-size="13" text-anchor="middle" fill="#111" transform="rotate(-90 30.8 173.2)">Time (min)</text>
<text x="51.5" y="264" font-size="9" text-anchor="middle" fill="#111" transform="rotate(-45 51.5 264)">0.00</text>
<text x="61" y="265.6" font-size="9" text-anchor="middle" fill="#111" transform="rotate(-45 61 265.6)">-0.08</text>
<text x="19.7" y="281.3" font-size="13" text-anchor="start" fill="#111"><tspan font-style="italic">J</tspan> (mA cm<tspan font-size="9" dy="-4.5">-2</tspan><tspan dy="4.5">)</tspan></text>
<text x="313.5" y="16.1" font-size="25" text-anchor="start" fill="#111">c</text>
<polyline points="385.8,46.07 386.3,46.07 386.8,46.07 387.3,46.07 387.8,46.07 388.3,46.07 388.8,46.07 389.3,46.07 389.8,46.07 390.3,46.07 390.8,46.07 391.3,46.06 391.8,46.06 392.3,46.06 392.8,46.06 393.3,46.06 393.8,46.06 394.3,46.06 394.8,46.06 395.3,46.06 395.8,46.06 396.3,46.06 396.8,46.06 397.3,46.06 397.8,46.06 398.3,46.06 398.8,46.06 399.3,46.06 399.8,46.06 400.3,46.06 400.8,46.06 401.3,46.06 401.8,46.05 402.3,46.05 402.8,46.05 403.3,46.05 403.8,46.05 404.3,46.05 404.8,46.05 405.3,46.05 405.8,46.05 406.3,46.05 406.8,46.05 407.3,46.05 407.8,46.05 408.3,46.05 408.8,46.05 409.3,46.05 409.8,46.04 410.3,46.04 410.8,46.04 411.3,46.04 411.8,46.04 412.3,46.04 412.8,46.04 413.3,46.04 413.8,46.04 414.3,46.04 414.8,46.04 415.3,46.04 415.8,46.04 416.3,46.03 416.8,46.03 417.3,46.03 417.8,46.03 418.3,46.03 418.8,46.03 419.3,46.03 419.8,46.03 420.3,46.03 420.8,46.03 421.3,46.02 421.8,46.02 422.3,46.02 422.8,46.02 423.3,46.02 423.8,46.02 424.3,46.02 424.8,46.02 425.3,46.01 425.8,46.01 426.3,46.01 426.8,46.01 427.3,46.01 427.8,46.01 428.3,46.01 428.8,46 429.3,46 429.8,46 430.3,46 430.8,46 431.3,46 431.8,46 432.3,45.99 432.8,45.99 433.3,45.99 433.8,45.99 434.3,45.99 434.8,45.98 435.3,45.98 435.8,45.98 436.3,45.98 436.8,45.98 437.3,45.97 437.8,45.97 438.3,45.97 438.8,45.97 439.3,45.97 439.8,45.96 440.3,45.96 440.8,45.96 441.3,45.96 441.8,45.95 442.3,45.95 442.8,45.95 443.3,45.94 443.8,45.94 444.3,45.94 444.8,45.94 445.3,45.93 445.8,45.93 446.3,45.93 446.8,45.92 447.3,45.92 447.8,45.92 448.3,45.91 448.8,45.91 449.3,45.91 449.8,45.9 450.3,45.9 450.8,45.89 451.3,45.89 451.8,45.88 452.3,45.88 452.8,45.88 453.3,45.87 453.8,45.87 454.3,45.86 454.8,45.86 455.3,45.85 455.8,45.85 456.3,45.84 456.8,45.83 457.3,45.83 457.8,45.82 458.3,45.82 458.8,45.81 459.3,45.8 459.8,45.8 460.3,45.79 460.8,45.78 461.3,45.77 461.8,45.77 462.3,45.76 462.8,45.75 463.3,45.74 463.8,45.73 464.3,45.73 464.8,45.72 465.3,45.71 465.8,45.7 466.3,45.69 466.8,45.68 467.3,45.67 467.8,45.65 468.3,45.64 468.8,45.63 469.3,45.62 469.8,45.61 470.3,45.59 470.8,45.58 471.3,45.57 471.8,45.55 472.3,45.54 472.8,45.52 473.3,45.5 473.8,45.49 474.3,45.47 474.8,45.45 475.3,45.43 475.8,45.41 476.3,45.39 476.8,45.37 477.3,45.35 477.8,45.33 478.3,45.3 478.8,45.28 479.3,45.25 479.8,45.23 480.3,45.2 480.8,45.17 481.3,45.14 481.8,45.11 482.3,45.08 482.8,45.04 483.3,45.01 483.8,44.97 484.3,44.93 484.8,44.89 485.3,44.85 485.8,44.81 486.3,44.76 486.8,44.71 487.3,44.66 487.8,44.6 488.3,44.55 488.8,44.48 489.3,44.42 489.8,44.35 490.3,44.28 490.8,44.2 491.3,44.12 491.8,44.03 492.3,43.93 492.8,43.83 493.3,43.71 493.8,43.59 494.3,43.46 494.8,43.32 495.3,43.16 495.8,42.99 496.3,42.81 496.8,42.61 497.3,42.39 497.8,42.15 498.3,41.89 498.8,41.6 499.3,41.29 499.8,40.96 500.3,40.6 500.8,40.2 501.3,39.78 501.8,39.33 502.3,38.84 502.8,38.32 503.3,37.77 503.8,37.19 504.3,36.57 504.8,35.93 505.3,35.26 505.8,34.57 506.3,33.85 506.8,33.12 507.3,32.39 507.8,31.64 508.3,30.91 508.8,30.19 509.3,29.48 509.8,28.82 510.3,28.19 510.8,27.62 511.3,27.12 511.8,26.69 512.3,26.35 512.8,26.12 513.3,26.01 513.8,26.02 514.3,26.18 514.8,26.48 515.3,26.94 515.8,27.56 516.3,28.35 516.8,29.32 517.3,30.45 517.8,31.75 518.3,33.2 518.8,34.8 519.3,36.54 519.8,38.39 520.3,40.34 520.8,42.36 521.3,44.43 521.8,46.52 522.3,48.6 522.8,50.65 523.3,52.65 523.8,54.56 524.3,56.37 524.8,58.05 525.3,59.6 525.8,60.99 526.3,62.23 526.8,63.29 527.3,64.18 527.8,64.91 528.3,65.47 528.8,65.86 529.3,66.1 529.8,66.2 530.3,66.16 530.8,66 531.3,65.72 531.8,65.35 532.3,64.89 532.8,64.36 533.3,63.77 533.8,63.12 534.3,62.44 534.8,61.73 535.3,61 535.8,60.26 536.3,59.52 536.8,58.78 537.3,58.06 537.8,57.35 538.3,56.67 538.8,56.01 539.3,55.38 539.8,54.78 540.3,54.2 540.8,53.67 541.3,53.16 541.8,52.69 542.3,52.24 542.8,51.83 543.3,51.45 543.8,51.1 544.3,50.78 544.8,50.48 545.3,50.21 545.8,49.95 546.3,49.72 546.8,49.51 547.3,49.32 547.8,49.14 548.3,48.97 548.8,48.82 549.3,48.69 549.8,48.56 550.3,48.44 550.8,48.33 551.3,48.23 551.8,48.14 552.3,48.05 552.8,47.97 553.3,47.89 553.8,47.82 554.3,47.75 554.8,47.69 555.3,47.63 555.8,47.57 556.3,47.52 556.8,47.47 557.3,47.42 557.8,47.38 558.3,47.33 558.8,47.29 559.3,47.25 559.8,47.21 560.3,47.18 560.8,47.14 561.3,47.11 561.8,47.08 562.3,47.05 562.8,47.02 563.3,46.99 563.8,46.96 564.3,46.94 564.8,46.91 565.3,46.89 565.8,46.86 566.3,46.84 566.8,46.82 567.3,46.8 567.8,46.78 568.3,46.76 568.8,46.74 569.3,46.72 569.8,46.71 570.3,46.69 570.8,46.67 571.3,46.66 571.8,46.64 572.3,46.63 572.8,46.62 573.3,46.6 573.8,46.59 574.3,46.58 574.8,46.56 575.3,46.55 575.8,46.54 576.3,46.53 576.8,46.52 577.3,46.51 577.8,46.5 578.3,46.49 578.8,46.48 579.3,46.47 579.8,46.46 580.3,46.45 580.8,46.45 581.3,46.44 581.8,46.43 582.3,46.42 582.8,46.41 583.3,46.41 583.8,46.4 584.3,46.39 584.8,46.39 585.3,46.38 585.8,46.38 586.3,46.37 586.8,46.36 587.3,46.36 587.8,46.35 588.3,46.35 588.8,46.34 589.3,46.34 589.8,46.33 590.3,46.33 590.8,46.32 591.3,46.32 591.8,46.31 592.3,46.31 592.8,46.31 593.3,46.3 593.8,46.3 594.3,46.29 594.8,46.29 595.3,46.29 595.8,46.28 596.3,46.28 596.8,46.28 597.3,46.27 597.8,46.27 598.3,46.27 598.8,46.26 599.3,46.26 599.8,46.26 600.3,46.25 600.8,46.25 601.3,46.25 601.8,46.25 602.3,46.24 602.8,46.24 603.3,46.24 603.8,46.24 604.3,46.23 604.8,46.23 605.3,46.23 605.8,46.23 606.3,46.22 606.8,46.22 607.3,46.22" fill="none" stroke="#bdbdbd" stroke-width="1.4" stroke-linejoin="round"/>
<polyline points="385.8,45.94 386.3,46.07 386.8,46 387.3,46.07 387.8,46.24 388.3,46.63 388.8,46.56 389.3,46.5 389.8,46.18 390.3,46.03 390.8,45.83 391.3,46.29 391.8,46.48 392.3,46.69 392.8,46.52 393.3,46.58 393.8,46.48 394.3,46.55 394.8,46.1 395.3,45.67 395.8,45.29 396.3,45.38 396.8,45.42 397.3,45.89 397.8,46.02 398.3,46.36 398.8,46.22 399.3,46.29 399.8,46.2 400.3,45.78 400.8,45.85 401.3,46.02 401.8,46.34 402.3,46.16 402.8,46.09 403.3,45.79 403.8,45.92 404.3,45.64 404.8,45.63 405.3,45.31 405.8,45.61 406.3,45.68 406.8,45.98 407.3,46.13 407.8,46.3 408.3,46.04 408.8,45.69 409.3,45.79 409.8,46.01 410.3,46.07 410.8,46 411.3,45.49 411.8,45.12 412.3,44.8 412.8,45.17 413.3,45.19 413.8,45.31 414.3,44.7 414.8,44.4 415.3,44.03 415.8,44.25 416.3,44.39 416.8,44.3 417.3,43.57 417.8,42.84 418.3,41.91 418.8,41.06 419.3,39.67 419.8,38.76 420.3,37.46 420.8,37.23 421.3,37.03 421.8,37.56 422.3,38.93 422.8,41.62 423.3,45.75 423.8,49.36 424.3,52.11 424.8,53.76 425.3,55.15 425.8,55.2 426.3,54.83 426.8,53.27 427.3,52.29 427.8,51.36 428.3,50.31 428.8,49.64 429.3,48.65 429.8,48.61 430.3,48.12 430.8,47.61 431.3,47.36 431.8,47.01 432.3,46.7 432.8,45.95 433.3,45.82 433.8,45.99 434.3,46.07 434.8,45.73 435.3,45.56 435.8,45.46 436.3,45.83 436.8,45.49 437.3,45.66 437.8,45.53 438.3,45.47 438.8,45.42 439.3,45.14 439.8,45.42 440.3,44.71 440.8,44.1 441.3,43.27 441.8,43.11 442.3,42.45 442.8,41.45 443.3,39.94 443.8,38.52 444.3,37.19 444.8,36.15 445.3,36.29 445.8,37.08 446.3,39.35 446.8,41.72 447.3,45.19 447.8,48.52 448.3,51.58 448.8,53.8 449.3,55.14 449.8,55.68 450.3,55.35 450.8,54.08 451.3,52.9 451.8,51.79 452.3,50.68 452.8,49.65 453.3,48.34 453.8,47.9 454.3,47.27 454.8,47.38 455.3,47.03 455.8,46.66 456.3,45.96 456.8,45.93 457.3,45.61 457.8,45.68 458.3,45.06 458.8,44.92 459.3,44.8 459.8,44.86 460.3,44.39 460.8,43.76 461.3,42.59 461.8,41.9 462.3,40.66 462.8,39.38 463.3,37.91 463.8,36.74 464.3,36.59 464.8,36.89 465.3,37.95 465.8,40.09 466.3,43.52 466.8,47.29 467.3,50.26 467.8,52.48 468.3,53.94 468.8,54.71 469.3,54.4 469.8,53.68 470.3,52.49 470.8,51.6 471.3,50.89 471.8,50.23 472.3,49.32 472.8,48.37 473.3,47.72 473.8,47.31 474.3,46.96 474.8,46.41 475.3,46.14 475.8,46.39 476.3,46.28 476.8,46.29 477.3,45.94 477.8,46.31 478.3,46.01 478.8,45.65 479.3,45.13 479.8,45.13 480.3,45.12 480.8,45.46 481.3,45.62 481.8,45.74 482.3,44.93 482.8,44.16 483.3,43.78 483.8,44.02 484.3,43.88 484.8,43.24 485.3,41.93 485.8,40.99 486.3,40.15 486.8,39.5 487.3,38.6 487.8,37.57 488.3,36.54 488.8,36.1 489.3,36.58 489.8,38.89 490.3,42.35 490.8,46.46 491.3,50.04 491.8,52.74 492.3,54.29 492.8,54.71 493.3,54.37 493.8,53.01 494.3,52.04 494.8,50.55 495.3,49.94 495.8,48.78 496.3,47.94 496.8,46.68 497.3,45.83 497.8,45.55 498.3,45.5 498.8,45.03 499.3,44.3 499.8,43.84 500.3,43.81 500.8,43.67 501.3,43.1 501.8,42.73 502.3,42.05 502.8,41.64 503.3,41.01 503.8,41.03 504.3,40.53 504.8,39.94 505.3,38.57 505.8,37.06 506.3,35.23 506.8,34.05 507.3,32.9 507.8,31.74 508.3,30.44 508.8,30.45 509.3,31.91 509.8,34.47 510.3,37.44 510.8,40.85 511.3,44.24 511.8,46.41 512.3,47.12 512.8,46.9 513.3,46.48 513.8,45.94 514.3,44.73 514.8,43.91 515.3,43.05 515.8,42.6 516.3,41.79 516.8,41.76 517.3,41.64 517.8,42.23 518.3,42.05 518.8,42.41 519.3,42.89 519.8,43.51 520.3,44.64 520.8,45.15 521.3,45.79 521.8,46.03 522.3,46.7 522.8,47.73 523.3,48.91 523.8,49.38 524.3,49.8 524.8,49.85 525.3,50.86 525.8,51.08 526.3,51.26 526.8,50.82 527.3,51.02 527.8,51.46 528.3,51.69 528.8,51.38 529.3,50.67 529.8,49.7 530.3,48.24 530.8,46.45 531.3,45.31 531.8,44.82 532.3,44.62 532.8,45.29 533.3,46.96 533.8,50.05 534.3,53.18 534.8,56.25 535.3,58.48 535.8,59.87 536.3,60.34 536.8,60.46 537.3,59.25 537.8,58.26 538.3,56.3 538.8,55.06 539.3,53.75 539.8,53.13 540.3,52.33 540.8,51.13 541.3,50.33 541.8,49.83 542.3,50.01 542.8,49.49 543.3,49.19 543.8,48.92 544.3,48.58 544.8,48.41 545.3,48.17 545.8,48.5 546.3,48.11 546.8,47.46 547.3,46.87 547.8,47.35 548.3,47.4 548.8,47.77 549.3,47.67 549.8,47.65 550.3,47.27 550.8,47.25 551.3,47.38 551.8,47.32 552.3,47.11 552.8,46.87 553.3,46.84 553.8,46.32 554.3,46.58 554.8,46.97 555.3,47.36 555.8,47.46 556.3,46.84 556.8,46.54 557.3,46.21 557.8,46.81 558.3,47.26 558.8,47.18 559.3,46.69 559.8,46.33 560.3,46.38 560.8,46.81 561.3,46.63 561.8,46.82 562.3,46.68 562.8,47.09 563.3,47.06 563.8,46.96 564.3,46.62 564.8,46.3 565.3,46.13 565.8,46.42 566.3,46.25 566.8,46.13 567.3,46.1 567.8,46.2 568.3,46.11 568.8,45.62 569.3,45.81 569.8,45.98 570.3,46.6 570.8,46.82 571.3,47.25 571.8,46.77 572.3,46.23 572.8,45.63 573.3,45.78 573.8,46.19 574.3,46.42 574.8,46.23 575.3,46.03 575.8,46.14 576.3,46.43 576.8,46.65 577.3,46.79 577.8,46.78 578.3,46.36 578.8,46.35 579.3,46.1 579.8,46.39 580.3,46.08 580.8,46.37 581.3,46.12 581.8,46.04 582.3,45.7 582.8,45.67 583.3,46.09 583.8,46.31 584.3,46.42 584.8,46.09 585.3,46.37 585.8,46.49 586.3,46.37 586.8,46.25 587.3,46.34 587.8,46.85 588.3,46.37 588.8,46.25 589.3,46.14 589.8,46.63 590.3,46.92 590.8,46.4 591.3,46.03 591.8,45.5 592.3,45.59 592.8,46.04 593.3,46.35 593.8,46.84 594.3,46.44 594.8,46.63 595.3,46.31 595.8,46.23 596.3,46.17 596.8,46.5 597.3,46.4 597.8,46.27 598.3,46.05 598.8,46.13 599.3,45.97 599.8,45.65 600.3,45.64 600.8,45.57 601.3,45.87 601.8,46.17 602.3,46.13 602.8,45.74 603.3,45.52 603.8,45.84 604.3,45.95 604.8,45.94 605.3,45.62 605.8,46.03 606.3,46.19 606.8,46.09 607.3,45.76" fill="none" stroke="#b2171c" stroke-width="1.5" stroke-linejoin="round"/>
<polyline points="385.8,46.07 386.3,46.07 386.8,46.07 387.3,46.07 387.8,46.07 388.3,46.07 388.8,46.07 389.3,46.07 389.8,46.07 390.3,46.07 390.8,46.07 391.3,46.07 391.8,46.07 392.3,46.07 392.8,46.07 393.3,46.06 393.8,46.06 394.3,46.06 394.8,46.06 395.3,46.06 395.8,46.06 396.3,46.06 396.8,46.06 397.3,46.06 397.8,46.06 398.3,46.06 398.8,46.06 399.3,46.06 399.8,46.06 400.3,46.06 400.8,46.06 401.3,46.06 401.8,46.06 402.3,46.06 402.8,46.06 403.3,46.06 403.8,46.05 404.3,46.05 404.8,46.05 405.3,46.05 405.8,46.05 406.3,46.05 406.8,46.05 407.3,46.05 407.8,46.05 408.3,46.05 408.8,46.05 409.3,46.05 409.8,46.05 410.3,46.05 410.8,46.05 411.3,46.05 411.8,46.04 412.3,46.04 412.8,46.04 413.3,46.04 413.8,46.04 414.3,46.04 414.8,46.04 415.3,46.04 415.8,46.04 416.3,46.04 416.8,46.04 417.3,46.04 417.8,46.03 418.3,46.03 418.8,46.03 419.3,46.03 419.8,46.03 420.3,46.03 420.8,46.03 421.3,46.03 421.8,46.03 422.3,46.03 422.8,46.02 423.3,46.02 423.8,46.02 424.3,46.02 424.8,46.02 425.3,46.02 425.8,46.02 426.3,46.02 426.8,46.02 427.3,46.01 427.8,46.01 428.3,46.01 428.8,46.01 429.3,46.01 429.8,46.01 430.3,46.01 430.8,46 431.3,46 431.8,46 432.3,46 432.8,46 433.3,46 433.8,45.99 434.3,45.99 434.8,45.99 435.3,45.99 435.8,45.99 436.3,45.99 436.8,45.98 437.3,45.98 437.8,45.98 438.3,45.98 438.8,45.98 439.3,45.97 439.8,45.97 440.3,45.97 440.8,45.97 441.3,45.96 441.8,45.96 442.3,45.96 442.8,45.96 443.3,45.95 443.8,45.95 444.3,45.95 444.8,45.95 445.3,45.94 445.8,45.94 446.3,45.94 446.8,45.93 447.3,45.93 447.8,45.93 448.3,45.92 448.8,45.92 449.3,45.92 449.8,45.91 450.3,45.91 450.8,45.91 451.3,45.9 451.8,45.9 452.3,45.89 452.8,45.89 453.3,45.89 453.8,45.88 454.3,45.88 454.8,45.87 455.3,45.87 455.8,45.86 456.3,45.86 456.8,45.85 457.3,45.85 457.8,45.84 458.3,45.83 458.8,45.83 459.3,45.82 459.8,45.82 460.3,45.81 460.8,45.8 461.3,45.8 461.8,45.79 462.3,45.78 462.8,45.78 463.3,45.77 463.8,45.76 464.3,45.75 464.8,45.74 465.3,45.73 465.8,45.73 466.3,45.72 466.8,45.71 467.3,45.7 467.8,45.69 468.3,45.68 468.8,45.67 469.3,45.65 469.8,45.64 470.3,45.63 470.8,45.62 471.3,45.61 471.8,45.59 472.3,45.58 472.8,45.56 473.3,45.55 473.8,45.53 474.3,45.52 474.8,45.5 475.3,45.49 475.8,45.47 476.3,45.45 476.8,45.43 477.3,45.41 477.8,45.39 478.3,45.37 478.8,45.35 479.3,45.32 479.8,45.3 480.3,45.28 480.8,45.25 481.3,45.22 481.8,45.2 482.3,45.17 482.8,45.14 483.3,45.1 483.8,45.07 484.3,45.04 484.8,45 485.3,44.96 485.8,44.92 486.3,44.88 486.8,44.84 487.3,44.79 487.8,44.75 488.3,44.7 488.8,44.64 489.3,44.59 489.8,44.53 490.3,44.47 490.8,44.4 491.3,44.33 491.8,44.25 492.3,44.17 492.8,44.09 493.3,43.99 493.8,43.89 494.3,43.78 494.8,43.67 495.3,43.54 495.8,43.4 496.3,43.25 496.8,43.09 497.3,42.91 497.8,42.72 498.3,42.51 498.8,42.28 499.3,42.02 499.8,41.75 500.3,41.45 500.8,41.13 501.3,40.78 501.8,40.4 502.3,39.99 502.8,39.56 503.3,39.08 503.8,38.58 504.3,38.05 504.8,37.48 505.3,36.89 505.8,36.26 506.3,35.61 506.8,34.93 507.3,34.24 507.8,33.53 508.3,32.8 508.8,32.08 509.3,31.36 509.8,30.64 510.3,29.95 510.8,29.29 511.3,28.67 511.8,28.1 512.3,27.59 512.8,27.15 513.3,26.81 513.8,26.56 514.3,26.42 514.8,26.41 515.3,26.53 515.8,26.8 516.3,27.22 516.8,27.8 517.3,28.54 517.8,29.45 518.3,30.53 518.8,31.77 519.3,33.16 519.8,34.7 520.3,36.38 520.8,38.18 521.3,40.07 521.8,42.03 522.3,44.05 522.8,46.1 523.3,48.15 523.8,50.17 524.3,52.13 524.8,54.02 525.3,55.82 525.8,57.5 526.3,59.04 526.8,60.43 527.3,61.67 527.8,62.75 528.3,63.66 528.8,64.4 529.3,64.98 529.8,65.4 530.3,65.67 530.8,65.79 531.3,65.78 531.8,65.64 532.3,65.39 532.8,65.05 533.3,64.61 533.8,64.1 534.3,63.53 534.8,62.91 535.3,62.25 535.8,61.56 536.3,60.84 536.8,60.12 537.3,59.4 537.8,58.67 538.3,57.96 538.8,57.27 539.3,56.59 539.8,55.94 540.3,55.31 540.8,54.72 541.3,54.15 541.8,53.62 542.3,53.12 542.8,52.64 543.3,52.21 543.8,51.8 544.3,51.42 544.8,51.07 545.3,50.75 545.8,50.45 546.3,50.18 546.8,49.92 547.3,49.69 547.8,49.48 548.3,49.29 548.8,49.11 549.3,48.95 549.8,48.8 550.3,48.66 550.8,48.53 551.3,48.42 551.8,48.31 552.3,48.21 552.8,48.11 553.3,48.03 553.8,47.95 554.3,47.87 554.8,47.8 555.3,47.73 555.8,47.67 556.3,47.61 556.8,47.56 557.3,47.5 557.8,47.45 558.3,47.41 558.8,47.36 559.3,47.32 559.8,47.28 560.3,47.24 560.8,47.2 561.3,47.16 561.8,47.13 562.3,47.1 562.8,47.06 563.3,47.03 563.8,47 564.3,46.98 564.8,46.95 565.3,46.92 565.8,46.9 566.3,46.88 566.8,46.85 567.3,46.83 567.8,46.81 568.3,46.79 568.8,46.77 569.3,46.75 569.8,46.73 570.3,46.71 570.8,46.7 571.3,46.68 571.8,46.67 572.3,46.65 572.8,46.64 573.3,46.62 573.8,46.61 574.3,46.59 574.8,46.58 575.3,46.57 575.8,46.56 576.3,46.55 576.8,46.53 577.3,46.52 577.8,46.51 578.3,46.5 578.8,46.49 579.3,46.48 579.8,46.47 580.3,46.47 580.8,46.46 581.3,46.45 581.8,46.44 582.3,46.43 582.8,46.42 583.3,46.42 583.8,46.41 584.3,46.4 584.8,46.4 585.3,46.39 585.8,46.38 586.3,46.38 586.8,46.37 587.3,46.37 587.8,46.36 588.3,46.35 588.8,46.35 589.3,46.34 589.8,46.34 590.3,46.33 590.8,46.33 591.3,46.32 591.8,46.32 592.3,46.31 592.8,46.31 593.3,46.31 593.8,46.3 594.3,46.3 594.8,46.29 595.3,46.29 595.8,46.29 596.3,46.28 596.8,46.28 597.3,46.28 597.8,46.27 598.3,46.27 598.8,46.27 599.3,46.26 599.8,46.26 600.3,46.26 600.8,46.25 601.3,46.25 601.8,46.25 602.3,46.25 602.8,46.24 603.3,46.24 603.8,46.24 604.3,46.24 604.8,46.23 605.3,46.23 605.8,46.23 606.3,46.23 606.8,46.22 607.3,46.22" fill="none" stroke="#4fc3f2" stroke-width="1.6" stroke-linejoin="round" stroke-dasharray="5.5 3"/>
<rect x="385.3" y="21.1" width="223.2" height="50.1" fill="none" stroke="#3c3c3c" stroke-width="1.2"/>
<line x1="383.1" y1="21.1" x2="385.3" y2="21.1" stroke="#3c3c3c" stroke-width="1.1"/>
<text x="381" y="24.4" font-size="11.8" text-anchor="end" fill="#111">0.15</text>
<line x1="383.1" y1="46.15" x2="385.3" y2="46.15" stroke="#3c3c3c" stroke-width="1.1"/>
<text x="381" y="49.45" font-size="11.8" text-anchor="end" fill="#111">0.00</text>
<line x1="383.1" y1="71.2" x2="385.3" y2="71.2" stroke="#3c3c3c" stroke-width="1.1"/>
<text x="381" y="74.5" font-size="11.8" text-anchor="end" fill="#111">-0.15</text>
<line x1="383.9" y1="33.62" x2="385.3" y2="33.62" stroke="#3c3c3c" stroke-width="1.0"/>
<line x1="383.9" y1="58.68" x2="385.3" y2="58.68" stroke="#3c3c3c" stroke-width="1.0"/>
<text x="606.5" y="34.2" font-size="12.8" text-anchor="end" fill="#b11e22">Cu&#8211;Ti<tspan font-size="9" dy="3.5">1</tspan><tspan dy="-3.5">O</tspan><tspan font-size="9" dy="3.5">3</tspan></text>
<text x="388.6" y="67.3" font-size="12.6" text-anchor="start" fill="#111">DMPO-*OCH<tspan font-size="8" dy="3">3</tspan><tspan dy="-3"> detection</tspan></text>
<text x="347.5" y="46.1" font-size="13" text-anchor="middle" fill="#111" transform="rotate(-90 347.5 46.1)">Intensity (a.u.)</text>
<line x1="618.2" y1="34.7" x2="643.4" y2="34.7" stroke="#c4c4c4" stroke-width="1.6"/>
<line x1="617.1" y1="48.7" x2="643.9" y2="48.7" stroke="#b2171c" stroke-width="2.1"/>
<line x1="618.2" y1="63" x2="645" y2="63" stroke="#55c6f4" stroke-width="2.0" stroke-dasharray="6.6 3.8"/>
<text x="646.5" y="38.8" font-size="11.7" text-anchor="start" fill="#111">0 min</text>
<text x="646.5" y="52.8" font-size="11.7" text-anchor="start" fill="#111">20 min</text>
<text x="646.5" y="67.1" font-size="11.7" text-anchor="start" fill="#111">30 min</text>
<rect x="385.5" y="97" width="223" height="152" fill="#8fb5dc"/>
<rect x="410" y="97" width="152" height="1" fill="url(#h35)"/>
<rect x="410" y="98" width="152" height="2" fill="url(#h36)"/>
<rect x="410" y="100" width="152" height="1" fill="url(#h37)"/>
<rect x="410" y="101" width="152" height="1" fill="url(#h38)"/>
<rect x="410" y="102" width="152" height="1" fill="url(#h39)"/>
<rect x="410" y="103" width="152" height="1" fill="url(#h40)"/>
<rect x="410" y="104" width="152" height="1" fill="url(#h41)"/>
<rect x="410" y="105" width="152" height="1" fill="url(#h42)"/>
<rect x="410" y="106" width="152" height="1" fill="url(#h43)"/>
<rect x="410" y="107" width="152" height="3" fill="url(#h44)"/>
<rect x="410" y="110" width="152" height="1" fill="url(#h45)"/>
<rect x="410" y="111" width="152" height="1" fill="url(#h46)"/>
<rect x="410" y="112" width="152" height="1" fill="url(#h47)"/>
<rect x="410" y="113" width="152" height="1" fill="url(#h48)"/>
<rect x="410" y="114" width="152" height="2" fill="url(#h49)"/>
<rect x="410" y="116" width="152" height="1" fill="url(#h50)"/>
<rect x="410" y="117" width="152" height="3" fill="url(#h51)"/>
<rect x="410" y="120" width="152" height="2" fill="url(#h52)"/>
<rect x="410" y="122" width="152" height="2" fill="url(#h53)"/>
<rect x="410" y="124" width="152" height="1" fill="url(#h54)"/>
<rect x="410" y="125" width="152" height="2" fill="url(#h55)"/>
<rect x="410" y="127" width="152" height="1" fill="url(#h56)"/>
<rect x="410" y="128" width="152" height="1" fill="url(#h57)"/>
<rect x="410" y="129" width="152" height="1" fill="url(#h58)"/>
<rect x="410" y="130" width="152" height="1" fill="url(#h59)"/>
<rect x="410" y="131" width="152" height="1" fill="url(#h60)"/>
<rect x="410" y="132" width="152" height="1" fill="url(#h61)"/>
<rect x="410" y="133" width="152" height="1" fill="url(#h62)"/>
<rect x="410" y="134" width="152" height="1" fill="url(#h63)"/>
<rect x="410" y="135" width="152" height="1" fill="url(#h64)"/>
<rect x="410" y="136" width="152" height="1" fill="url(#h65)"/>
<rect x="410" y="137" width="152" height="1" fill="url(#h66)"/>
<rect x="410" y="138" width="152" height="1" fill="url(#h67)"/>
<rect x="410" y="139" width="152" height="1" fill="url(#h68)"/>
<rect x="410" y="140" width="152" height="1" fill="url(#h69)"/>
<rect x="410" y="141" width="152" height="1" fill="url(#h70)"/>
<rect x="410" y="142" width="152" height="1" fill="url(#h71)"/>
<rect x="410" y="143" width="152" height="1" fill="url(#h72)"/>
<rect x="410" y="144" width="152" height="1" fill="url(#h73)"/>
<rect x="410" y="145" width="152" height="1" fill="url(#h74)"/>
<rect x="410" y="146" width="152" height="1" fill="url(#h75)"/>
<rect x="410" y="147" width="152" height="1" fill="url(#h76)"/>
<rect x="410" y="148" width="152" height="1" fill="url(#h77)"/>
<rect x="410" y="149" width="152" height="1" fill="url(#h78)"/>
<rect x="410" y="150" width="152" height="1" fill="url(#h79)"/>
<rect x="410" y="151" width="152" height="1" fill="url(#h80)"/>
<rect x="410" y="152" width="152" height="1" fill="url(#h81)"/>
<rect x="410" y="153" width="152" height="1" fill="url(#h82)"/>
<rect x="410" y="154" width="152" height="2" fill="url(#h83)"/>
<rect x="410" y="156" width="152" height="1" fill="url(#h84)"/>
<rect x="410" y="157" width="152" height="1" fill="url(#h85)"/>
<rect x="410" y="158" width="152" height="2" fill="url(#h86)"/>
<rect x="410" y="160" width="152" height="1" fill="url(#h87)"/>
<rect x="410" y="161" width="152" height="2" fill="url(#h88)"/>
<rect x="410" y="163" width="152" height="1" fill="url(#h89)"/>
<rect x="410" y="164" width="152" height="7" fill="url(#h90)"/>
<rect x="410" y="171" width="152" height="3" fill="url(#h91)"/>
<rect x="410" y="174" width="152" height="1" fill="url(#h92)"/>
<rect x="410" y="175" width="152" height="2" fill="url(#h93)"/>
<rect x="410" y="177" width="152" height="1" fill="url(#h94)"/>
<rect x="410" y="178" width="152" height="2" fill="url(#h95)"/>
<rect x="410" y="180" width="152" height="2" fill="url(#h96)"/>
<rect x="410" y="182" width="152" height="2" fill="url(#h97)"/>
<rect x="410" y="184" width="152" height="1" fill="url(#h98)"/>
<rect x="410" y="185" width="152" height="1" fill="url(#h99)"/>
<rect x="410" y="186" width="152" height="1" fill="url(#h100)"/>
<rect x="410" y="187" width="152" height="1" fill="url(#h101)"/>
<rect x="410" y="188" width="152" height="1" fill="url(#h102)"/>
<rect x="410" y="189" width="152" height="1" fill="url(#h103)"/>
<rect x="410" y="190" width="152" height="1" fill="url(#h104)"/>
<rect x="410" y="191" width="152" height="1" fill="url(#h105)"/>
<rect x="410" y="192" width="152" height="1" fill="url(#h106)"/>
<rect x="410" y="193" width="152" height="1" fill="url(#h107)"/>
<rect x="410" y="194" width="152" height="1" fill="url(#h108)"/>
<rect x="410" y="195" width="152" height="1" fill="url(#h109)"/>
<rect x="410" y="196" width="152" height="1" fill="url(#h110)"/>
<rect x="410" y="197" width="152" height="1" fill="url(#h111)"/>
<rect x="410" y="198" width="152" height="1" fill="url(#h112)"/>
<rect x="410" y="199" width="152" height="1" fill="url(#h113)"/>
<rect x="410" y="200" width="152" height="1" fill="url(#h114)"/>
<rect x="410" y="201" width="152" height="1" fill="url(#h115)"/>
<rect x="410" y="202" width="152" height="1" fill="url(#h116)"/>
<rect x="410" y="203" width="152" height="1" fill="url(#h117)"/>
<rect x="410" y="204" width="152" height="1" fill="url(#h118)"/>
<rect x="410" y="205" width="152" height="1" fill="url(#h119)"/>
<rect x="410" y="206" width="152" height="1" fill="url(#h120)"/>
<rect x="410" y="207" width="152" height="1" fill="url(#h121)"/>
<rect x="410" y="208" width="152" height="1" fill="url(#h122)"/>
<rect x="410" y="209" width="152" height="1" fill="url(#h123)"/>
<rect x="410" y="210" width="152" height="1" fill="url(#h124)"/>
<rect x="410" y="211" width="152" height="2" fill="url(#h125)"/>
<rect x="410" y="213" width="152" height="1" fill="url(#h126)"/>
<rect x="410" y="214" width="152" height="2" fill="url(#h127)"/>
<rect x="410" y="216" width="152" height="2" fill="url(#h128)"/>
<rect x="410" y="218" width="152" height="3" fill="url(#h129)"/>
<rect x="410" y="221" width="152" height="3" fill="url(#h130)"/>
<rect x="410" y="224" width="152" height="7" fill="url(#h131)"/>
<rect x="410" y="231" width="152" height="18" fill="url(#h132)"/>
<rect x="385" y="97.1" width="223.6" height="152.5" fill="none" stroke="#3c3c3c" stroke-width="1.2"/>
<line x1="385" y1="249.6" x2="385" y2="251.1" stroke="#3c3c3c" stroke-width="1.0"/>
<line x1="416.94" y1="249.6" x2="416.94" y2="252" stroke="#3c3c3c" stroke-width="1.0"/>
<text x="416.94" y="263.9" font-size="11.8" text-anchor="middle" fill="#111">349</text>
<line x1="448.89" y1="249.6" x2="448.89" y2="251.1" stroke="#3c3c3c" stroke-width="1.0"/>
<line x1="480.83" y1="249.6" x2="480.83" y2="252" stroke="#3c3c3c" stroke-width="1.0"/>
<text x="480.83" y="263.9" font-size="11.8" text-anchor="middle" fill="#111">351</text>
<line x1="512.77" y1="249.6" x2="512.77" y2="251.1" stroke="#3c3c3c" stroke-width="1.0"/>
<line x1="544.71" y1="249.6" x2="544.71" y2="252" stroke="#3c3c3c" stroke-width="1.0"/>
<text x="544.71" y="263.9" font-size="11.8" text-anchor="middle" fill="#111">353</text>
<line x1="576.66" y1="249.6" x2="576.66" y2="251.1" stroke="#3c3c3c" stroke-width="1.0"/>
<line x1="608.6" y1="249.6" x2="608.6" y2="252" stroke="#3c3c3c" stroke-width="1.0"/>
<text x="608.6" y="263.9" font-size="11.8" text-anchor="middle" fill="#111">355</text>
<line x1="382.6" y1="249.5" x2="385" y2="249.5" stroke="#3c3c3c" stroke-width="1.0"/>
<text x="381" y="253" font-size="11.8" text-anchor="end" fill="#111">0</text>
<line x1="382.6" y1="198.67" x2="385" y2="198.67" stroke="#3c3c3c" stroke-width="1.0"/>
<text x="381" y="202.17" font-size="11.8" text-anchor="end" fill="#111">10</text>
<line x1="382.6" y1="147.83" x2="385" y2="147.83" stroke="#3c3c3c" stroke-width="1.0"/>
<text x="381" y="151.33" font-size="11.8" text-anchor="end" fill="#111">20</text>
<line x1="382.6" y1="97" x2="385" y2="97" stroke="#3c3c3c" stroke-width="1.0"/>
<text x="381" y="100.5" font-size="11.8" text-anchor="end" fill="#111">30</text>
<line x1="383.4" y1="224.08" x2="385" y2="224.08" stroke="#3c3c3c" stroke-width="1.0"/>
<line x1="383.4" y1="173.25" x2="385" y2="173.25" stroke="#3c3c3c" stroke-width="1.0"/>
<line x1="383.4" y1="122.42" x2="385" y2="122.42" stroke="#3c3c3c" stroke-width="1.0"/>
<text x="349.7" y="174.3" font-size="13" text-anchor="middle" fill="#111" transform="rotate(-90 349.7 174.3)">Time (min)</text>
<text x="499" y="283.5" font-size="13" text-anchor="middle" fill="#111">Magnetic field (mT)</text>
<rect x="641.6" y="112.3" width="14.7" height="131" fill="url(#cb)" stroke="none" stroke-width="1.0"/>
<text x="648.6" y="107.8" font-size="11.5" text-anchor="middle" fill="#111">0.15</text>
<text x="648.6" y="256.6" font-size="11.5" text-anchor="middle" fill="#111">-0.15</text>
<text x="670.5" y="179.8" font-size="13" text-anchor="middle" fill="#111" transform="rotate(-90 670.5 179.8)">Intensity (a.u.)</text>
<text x="0" y="338" font-size="25" text-anchor="start" fill="#111">b</text>
<rect x="121.8" y="330.2" width="67.8" height="152.3" fill="#fbe3d3" stroke="none" stroke-width="1.0"/>
<polyline points="55,450.6 257.4,450.6" fill="none" stroke="#306284" stroke-width="1.2" stroke-linejoin="round"/>
<rect x="58.18" y="448" width="5.2" height="5.2" fill="#fff" stroke="#306284" stroke-width="1.3"/>
<rect x="60.18" y="450" width="1.2" height="1.2" fill="#306284" stroke="none" stroke-width="1.0"/>
<rect x="64.96" y="448" width="5.2" height="5.2" fill="#fff" stroke="#306284" stroke-width="1.3"/>
<rect x="66.96" y="450" width="1.2" height="1.2" fill="#306284" stroke="none" stroke-width="1.0"/>
<rect x="71.74" y="448" width="5.2" height="5.2" fill="#fff" stroke="#306284" stroke-width="1.3"/>
<rect x="73.74" y="450" width="1.2" height="1.2" fill="#306284" stroke="none" stroke-width="1.0"/>
<rect x="78.52" y="448" width="5.2" height="5.2" fill="#fff" stroke="#306284" stroke-width="1.3"/>
<rect x="80.52" y="450" width="1.2" height="1.2" fill="#306284" stroke="none" stroke-width="1.0"/>
<rect x="85.3" y="448" width="5.2" height="5.2" fill="#fff" stroke="#306284" stroke-width="1.3"/>
<rect x="87.3" y="450" width="1.2" height="1.2" fill="#306284" stroke="none" stroke-width="1.0"/>
<rect x="92.08" y="448" width="5.2" height="5.2" fill="#fff" stroke="#306284" stroke-width="1.3"/>
<rect x="94.08" y="450" width="1.2" height="1.2" fill="#306284" stroke="none" stroke-width="1.0"/>
<rect x="98.86" y="448" width="5.2" height="5.2" fill="#fff" stroke="#306284" stroke-width="1.3"/>
<rect x="100.86" y="450" width="1.2" height="1.2" fill="#306284" stroke="none" stroke-width="1.0"/>
<rect x="105.64" y="448" width="5.2" height="5.2" fill="#fff" stroke="#306284" stroke-width="1.3"/>
<rect x="107.64" y="450" width="1.2" height="1.2" fill="#306284" stroke="none" stroke-width="1.0"/>
<rect x="112.42" y="448" width="5.2" height="5.2" fill="#fff" stroke="#306284" stroke-width="1.3"/>
<rect x="114.42" y="450" width="1.2" height="1.2" fill="#306284" stroke="none" stroke-width="1.0"/>
<rect x="119.2" y="448" width="5.2" height="5.2" fill="#fff" stroke="#306284" stroke-width="1.3"/>
<rect x="121.2" y="450" width="1.2" height="1.2" fill="#306284" stroke="none" stroke-width="1.0"/>
<rect x="125.98" y="448" width="5.2" height="5.2" fill="#fff" stroke="#306284" stroke-width="1.3"/>
<rect x="127.98" y="450" width="1.2" height="1.2" fill="#306284" stroke="none" stroke-width="1.0"/>
<rect x="132.76" y="448" width="5.2" height="5.2" fill="#fff" stroke="#306284" stroke-width="1.3"/>
<rect x="134.76" y="450" width="1.2" height="1.2" fill="#306284" stroke="none" stroke-width="1.0"/>
<rect x="139.54" y="448" width="5.2" height="5.2" fill="#fff" stroke="#306284" stroke-width="1.3"/>
<rect x="141.54" y="450" width="1.2" height="1.2" fill="#306284" stroke="none" stroke-width="1.0"/>
<rect x="146.32" y="448" width="5.2" height="5.2" fill="#fff" stroke="#306284" stroke-width="1.3"/>
<rect x="148.32" y="450" width="1.2" height="1.2" fill="#306284" stroke="none" stroke-width="1.0"/>
<rect x="153.1" y="448" width="5.2" height="5.2" fill="#fff" stroke="#306284" stroke-width="1.3"/>
<rect x="155.1" y="450" width="1.2" height="1.2" fill="#306284" stroke="none" stroke-width="1.0"/>
<rect x="159.88" y="448" width="5.2" height="5.2" fill="#fff" stroke="#306284" stroke-width="1.3"/>
<rect x="161.88" y="450" width="1.2" height="1.2" fill="#306284" stroke="none" stroke-width="1.0"/>
<rect x="166.66" y="448" width="5.2" height="5.2" fill="#fff" stroke="#306284" stroke-width="1.3"/>
<rect x="168.66" y="450" width="1.2" height="1.2" fill="#306284" stroke="none" stroke-width="1.0"/>
<rect x="173.44" y="448" width="5.2" height="5.2" fill="#fff" stroke="#306284" stroke-width="1.3"/>
<rect x="175.44" y="450" width="1.2" height="1.2" fill="#306284" stroke="none" stroke-width="1.0"/>
<rect x="180.22" y="448" width="5.2" height="5.2" fill="#fff" stroke="#306284" stroke-width="1.3"/>
<rect x="182.22" y="450" width="1.2" height="1.2" fill="#306284" stroke="none" stroke-width="1.0"/>
<rect x="187" y="448" width="5.2" height="5.2" fill="#fff" stroke="#306284" stroke-width="1.3"/>
<rect x="189" y="450" width="1.2" height="1.2" fill="#306284" stroke="none" stroke-width="1.0"/>
<rect x="193.78" y="448" width="5.2" height="5.2" fill="#fff" stroke="#306284" stroke-width="1.3"/>
<rect x="195.78" y="450" width="1.2" height="1.2" fill="#306284" stroke="none" stroke-width="1.0"/>
<rect x="200.56" y="448" width="5.2" height="5.2" fill="#fff" stroke="#306284" stroke-width="1.3"/>
<rect x="202.56" y="450" width="1.2" height="1.2" fill="#306284" stroke="none" stroke-width="1.0"/>
<rect x="207.34" y="448" width="5.2" height="5.2" fill="#fff" stroke="#306284" stroke-width="1.3"/>
<rect x="209.34" y="450" width="1.2" height="1.2" fill="#306284" stroke="none" stroke-width="1.0"/>
<rect x="214.12" y="448" width="5.2" height="5.2" fill="#fff" stroke="#306284" stroke-width="1.3"/>
<rect x="216.12" y="450" width="1.2" height="1.2" fill="#306284" stroke="none" stroke-width="1.0"/>
<rect x="220.9" y="448" width="5.2" height="5.2" fill="#fff" stroke="#306284" stroke-width="1.3"/>
<rect x="222.9" y="450" width="1.2" height="1.2" fill="#306284" stroke="none" stroke-width="1.0"/>
<rect x="227.68" y="448" width="5.2" height="5.2" fill="#fff" stroke="#306284" stroke-width="1.3"/>
<rect x="229.68" y="450" width="1.2" height="1.2" fill="#306284" stroke="none" stroke-width="1.0"/>
<rect x="234.46" y="448" width="5.2" height="5.2" fill="#fff" stroke="#306284" stroke-width="1.3"/>
<rect x="236.46" y="450" width="1.2" height="1.2" fill="#306284" stroke="none" stroke-width="1.0"/>
<rect x="241.24" y="448" width="5.2" height="5.2" fill="#fff" stroke="#306284" stroke-width="1.3"/>
<rect x="243.24" y="450" width="1.2" height="1.2" fill="#306284" stroke="none" stroke-width="1.0"/>
<rect x="248.02" y="448" width="5.2" height="5.2" fill="#fff" stroke="#306284" stroke-width="1.3"/>
<rect x="250.02" y="450" width="1.2" height="1.2" fill="#306284" stroke="none" stroke-width="1.0"/>
<rect x="254.8" y="448" width="5.2" height="5.2" fill="#fff" stroke="#306284" stroke-width="1.3"/>
<rect x="256.8" y="450" width="1.2" height="1.2" fill="#306284" stroke="none" stroke-width="1.0"/>
<polyline points="60.78,358.6 61.3,358.58 62,358.55 62.83,358.52 63.75,358.49 64.72,358.45 65.71,358.43 66.67,358.41 67.56,358.4 68.41,358.4 69.25,358.4 70.1,358.41 70.95,358.42 71.8,358.44 72.65,358.48 73.49,358.53 74.34,358.6 75.19,358.7 76.03,358.84 76.88,358.99 77.73,359.16 78.58,359.33 79.42,359.48 80.27,359.61 81.12,359.7 81.97,359.77 82.81,359.82 83.66,359.86 84.51,359.89 85.36,359.89 86.2,359.86 87.05,359.8 87.9,359.7 88.75,359.53 89.59,359.29 90.44,359 91.29,358.69 92.14,358.38 92.99,358.12 93.83,357.91 94.68,357.8 95.53,357.8 96.37,357.88 97.22,358.02 98.07,358.21 98.92,358.4 99.76,358.58 100.61,358.72 101.46,358.8 102.31,358.82 103.16,358.79 104,358.74 104.85,358.68 105.7,358.6 106.55,358.52 107.39,358.45 108.24,358.4 109.09,358.36 109.94,358.33 110.78,358.29 111.63,358.26 112.48,358.24 113.32,358.22 114.17,358.2 115.02,358.2 115.87,358.15 116.72,358.02 117.56,357.86 118.41,357.73 119.26,357.66 120.1,357.72 120.95,357.95 121.8,358.4 122.65,359.03 123.49,359.79 124.34,360.69 125.19,361.72 126.04,362.9 126.88,364.23 127.73,365.73 128.58,367.4 129.43,369.26 130.27,371.32 131.12,373.55 131.97,375.93 132.82,378.44 133.67,381.05 134.51,383.75 135.36,386.5 136.21,389.41 137.05,392.53 137.9,395.8 138.75,399.14 139.6,402.49 140.44,405.76 141.29,408.89 142.14,411.8 142.99,414.57 143.83,417.3 144.68,419.96 145.53,422.51 146.38,424.92 147.22,427.16 148.07,429.2 148.92,431 149.77,432.53 150.61,433.79 151.46,434.83 152.31,435.71 153.16,436.48 154,437.18 154.85,437.87 155.7,438.6 156.55,439.34 157.39,440.04 158.24,440.69 159.09,441.3 159.94,441.86 160.78,442.36 161.63,442.81 162.48,443.2 163.33,443.52 164.17,443.77 165.02,443.95 165.87,444.09 166.72,444.19 167.56,444.26 168.41,444.33 169.26,444.4 170.11,444.46 170.95,444.48 171.8,444.49 172.65,444.47 173.5,444.45 174.35,444.43 175.19,444.41 176.04,444.4 176.89,444.39 177.73,444.37 178.58,444.35 179.43,444.33 180.28,444.32 181.12,444.32 181.97,444.35 182.82,444.4 183.67,444.49 184.51,444.62 185.36,444.77 186.21,444.93 187.06,445.1 187.91,445.26 188.75,445.39 189.6,445.5 190.45,445.61 191.29,445.76 192.14,445.91 192.99,446.04 193.84,446.13 194.69,446.13 195.53,446.03 196.38,445.8 197.23,445.41 198.07,444.89 198.92,444.25 199.77,443.54 200.62,442.79 201.46,442.03 202.31,441.29 203.16,440.6 204.01,439.96 204.85,439.34 205.7,438.72 206.55,438.09 207.4,437.46 208.25,436.81 209.09,436.12 209.94,435.4 210.79,434.73 211.63,434.15 212.48,433.6 213.33,433 214.18,432.28 215.02,431.37 215.87,430.2 216.72,428.7 217.57,426.84 218.41,424.69 219.26,422.29 220.11,419.69 220.96,416.95 221.8,414.1 222.65,411.2 223.5,408.3 224.35,405.26 225.19,401.99 226.04,398.56 226.89,395.09 227.74,391.65 228.59,388.35 229.43,385.26 230.28,382.5 231.13,380.01 231.97,377.7 232.82,375.55 233.67,373.57 234.52,371.74 235.36,370.05 236.21,368.51 237.06,367.1 237.91,365.87 238.75,364.83 239.6,363.96 240.45,363.23 241.3,362.6 242.14,362.04 242.99,361.52 243.84,361 244.69,360.52 245.53,360.12 246.38,359.8 247.23,359.52 248.08,359.29 248.93,359.09 249.77,358.89 250.62,358.7 251.51,358.51 252.47,358.36 253.46,358.22 254.43,358.11 255.35,358.01 256.18,357.93 256.88,357.86 257.4,357.8" fill="none" stroke="#b11e22" stroke-width="1.3" stroke-linejoin="round"/>
<circle cx="60.78" cy="358.6" r="3.1" fill="#fff" stroke="#b11e22" stroke-width="1.4"/>
<circle cx="60.78" cy="358.6" r="0.75" fill="#b11e22"/>
<circle cx="67.56" cy="358.4" r="3.1" fill="#fff" stroke="#b11e22" stroke-width="1.4"/>
<circle cx="67.56" cy="358.4" r="0.75" fill="#b11e22"/>
<circle cx="74.34" cy="358.6" r="3.1" fill="#fff" stroke="#b11e22" stroke-width="1.4"/>
<circle cx="74.34" cy="358.6" r="0.75" fill="#b11e22"/>
<circle cx="81.12" cy="359.7" r="3.1" fill="#fff" stroke="#b11e22" stroke-width="1.4"/>
<circle cx="81.12" cy="359.7" r="0.75" fill="#b11e22"/>
<circle cx="87.9" cy="359.7" r="3.1" fill="#fff" stroke="#b11e22" stroke-width="1.4"/>
<circle cx="87.9" cy="359.7" r="0.75" fill="#b11e22"/>
<circle cx="94.68" cy="357.8" r="3.1" fill="#fff" stroke="#b11e22" stroke-width="1.4"/>
<circle cx="94.68" cy="357.8" r="0.75" fill="#b11e22"/>
<circle cx="101.46" cy="358.8" r="3.1" fill="#fff" stroke="#b11e22" stroke-width="1.4"/>
<circle cx="101.46" cy="358.8" r="0.75" fill="#b11e22"/>
<circle cx="108.24" cy="358.4" r="3.1" fill="#fff" stroke="#b11e22" stroke-width="1.4"/>
<circle cx="108.24" cy="358.4" r="0.75" fill="#b11e22"/>
<circle cx="115.02" cy="358.2" r="3.1" fill="#fff" stroke="#b11e22" stroke-width="1.4"/>
<circle cx="115.02" cy="358.2" r="0.75" fill="#b11e22"/>
<circle cx="121.8" cy="358.4" r="3.1" fill="#fff" stroke="#b11e22" stroke-width="1.4"/>
<circle cx="121.8" cy="358.4" r="0.75" fill="#b11e22"/>
<circle cx="128.58" cy="367.4" r="3.1" fill="#fff" stroke="#b11e22" stroke-width="1.4"/>
<circle cx="128.58" cy="367.4" r="0.75" fill="#b11e22"/>
<circle cx="135.36" cy="386.5" r="3.1" fill="#fff" stroke="#b11e22" stroke-width="1.4"/>
<circle cx="135.36" cy="386.5" r="0.75" fill="#b11e22"/>
<circle cx="142.14" cy="411.8" r="3.1" fill="#fff" stroke="#b11e22" stroke-width="1.4"/>
<circle cx="142.14" cy="411.8" r="0.75" fill="#b11e22"/>
<circle cx="148.92" cy="431" r="3.1" fill="#fff" stroke="#b11e22" stroke-width="1.4"/>
<circle cx="148.92" cy="431" r="0.75" fill="#b11e22"/>
<circle cx="155.7" cy="438.6" r="3.1" fill="#fff" stroke="#b11e22" stroke-width="1.4"/>
<circle cx="155.7" cy="438.6" r="0.75" fill="#b11e22"/>
<circle cx="162.48" cy="443.2" r="3.1" fill="#fff" stroke="#b11e22" stroke-width="1.4"/>
<circle cx="162.48" cy="443.2" r="0.75" fill="#b11e22"/>
<circle cx="169.26" cy="444.4" r="3.1" fill="#fff" stroke="#b11e22" stroke-width="1.4"/>
<circle cx="169.26" cy="444.4" r="0.75" fill="#b11e22"/>
<circle cx="176.04" cy="444.4" r="3.1" fill="#fff" stroke="#b11e22" stroke-width="1.4"/>
<circle cx="176.04" cy="444.4" r="0.75" fill="#b11e22"/>
<circle cx="182.82" cy="444.4" r="3.1" fill="#fff" stroke="#b11e22" stroke-width="1.4"/>
<circle cx="182.82" cy="444.4" r="0.75" fill="#b11e22"/>
<circle cx="189.6" cy="445.5" r="3.1" fill="#fff" stroke="#b11e22" stroke-width="1.4"/>
<circle cx="189.6" cy="445.5" r="0.75" fill="#b11e22"/>
<circle cx="196.38" cy="445.8" r="3.1" fill="#fff" stroke="#b11e22" stroke-width="1.4"/>
<circle cx="196.38" cy="445.8" r="0.75" fill="#b11e22"/>
<circle cx="203.16" cy="440.6" r="3.1" fill="#fff" stroke="#b11e22" stroke-width="1.4"/>
<circle cx="203.16" cy="440.6" r="0.75" fill="#b11e22"/>
<circle cx="209.94" cy="435.4" r="3.1" fill="#fff" stroke="#b11e22" stroke-width="1.4"/>
<circle cx="209.94" cy="435.4" r="0.75" fill="#b11e22"/>
<circle cx="216.72" cy="428.7" r="3.1" fill="#fff" stroke="#b11e22" stroke-width="1.4"/>
<circle cx="216.72" cy="428.7" r="0.75" fill="#b11e22"/>
<circle cx="223.5" cy="408.3" r="3.1" fill="#fff" stroke="#b11e22" stroke-width="1.4"/>
<circle cx="223.5" cy="408.3" r="0.75" fill="#b11e22"/>
<circle cx="230.28" cy="382.5" r="3.1" fill="#fff" stroke="#b11e22" stroke-width="1.4"/>
<circle cx="230.28" cy="382.5" r="0.75" fill="#b11e22"/>
<circle cx="237.06" cy="367.1" r="3.1" fill="#fff" stroke="#b11e22" stroke-width="1.4"/>
<circle cx="237.06" cy="367.1" r="0.75" fill="#b11e22"/>
<circle cx="243.84" cy="361" r="3.1" fill="#fff" stroke="#b11e22" stroke-width="1.4"/>
<circle cx="243.84" cy="361" r="0.75" fill="#b11e22"/>
<circle cx="250.62" cy="358.7" r="3.1" fill="#fff" stroke="#b11e22" stroke-width="1.4"/>
<circle cx="250.62" cy="358.7" r="0.75" fill="#b11e22"/>
<circle cx="257.4" cy="357.8" r="3.1" fill="#fff" stroke="#b11e22" stroke-width="1.4"/>
<circle cx="257.4" cy="357.8" r="0.75" fill="#b11e22"/>
<rect x="54" y="330.2" width="203.4" height="152.3" fill="none" stroke="#3c3c3c" stroke-width="1.2"/>
<line x1="51.6" y1="457.12" x2="54" y2="457.12" stroke="#3c3c3c" stroke-width="1.0"/>
<text x="49" y="460.72" font-size="11.8" text-anchor="end" fill="#111">3</text>
<line x1="51.6" y1="419.04" x2="54" y2="419.04" stroke="#3c3c3c" stroke-width="1.0"/>
<text x="49" y="422.64" font-size="11.8" text-anchor="end" fill="#111">6</text>
<line x1="51.6" y1="380.97" x2="54" y2="380.97" stroke="#3c3c3c" stroke-width="1.0"/>
<text x="49" y="384.57" font-size="11.8" text-anchor="end" fill="#111">9</text>
<line x1="51.6" y1="342.89" x2="54" y2="342.89" stroke="#3c3c3c" stroke-width="1.0"/>
<text x="49" y="346.49" font-size="11.8" text-anchor="end" fill="#111">12</text>
<line x1="52.6" y1="476.15" x2="54" y2="476.15" stroke="#3c3c3c" stroke-width="1.0"/>
<line x1="52.6" y1="438.08" x2="54" y2="438.08" stroke="#3c3c3c" stroke-width="1.0"/>
<line x1="52.6" y1="400" x2="54" y2="400" stroke="#3c3c3c" stroke-width="1.0"/>
<line x1="52.6" y1="361.93" x2="54" y2="361.93" stroke="#3c3c3c" stroke-width="1.0"/>
<line x1="54" y1="482.5" x2="54" y2="484.9" stroke="#3c3c3c" stroke-width="1.0"/>
<text x="54" y="496.3" font-size="11.8" text-anchor="middle" fill="#111">0</text>
<line x1="87.9" y1="482.5" x2="87.9" y2="484.9" stroke="#3c3c3c" stroke-width="1.0"/>
<text x="87.9" y="496.3" font-size="11.8" text-anchor="middle" fill="#111">5</text>
<line x1="121.8" y1="482.5" x2="121.8" y2="484.9" stroke="#3c3c3c" stroke-width="1.0"/>
<text x="121.8" y="496.3" font-size="11.8" text-anchor="middle" fill="#111">10</text>
<line x1="155.7" y1="482.5" x2="155.7" y2="484.9" stroke="#3c3c3c" stroke-width="1.0"/>
<text x="155.7" y="496.3" font-size="11.8" text-anchor="middle" fill="#111">15</text>
<line x1="189.6" y1="482.5" x2="189.6" y2="484.9" stroke="#3c3c3c" stroke-width="1.0"/>
<text x="189.6" y="496.3" font-size="11.8" text-anchor="middle" fill="#111">20</text>
<line x1="223.5" y1="482.5" x2="223.5" y2="484.9" stroke="#3c3c3c" stroke-width="1.0"/>
<text x="223.5" y="496.3" font-size="11.8" text-anchor="middle" fill="#111">25</text>
<line x1="257.4" y1="482.5" x2="257.4" y2="484.9" stroke="#3c3c3c" stroke-width="1.0"/>
<text x="257.4" y="496.3" font-size="11.8" text-anchor="middle" fill="#111">30</text>
<line x1="70.95" y1="482.5" x2="70.95" y2="483.9" stroke="#3c3c3c" stroke-width="1.0"/>
<line x1="104.85" y1="482.5" x2="104.85" y2="483.9" stroke="#3c3c3c" stroke-width="1.0"/>
<line x1="138.75" y1="482.5" x2="138.75" y2="483.9" stroke="#3c3c3c" stroke-width="1.0"/>
<line x1="172.65" y1="482.5" x2="172.65" y2="483.9" stroke="#3c3c3c" stroke-width="1.0"/>
<line x1="206.55" y1="482.5" x2="206.55" y2="483.9" stroke="#3c3c3c" stroke-width="1.0"/>
<line x1="240.45" y1="482.5" x2="240.45" y2="483.9" stroke="#3c3c3c" stroke-width="1.0"/>
<text x="123.2" y="343.2" font-size="13" text-anchor="start" fill="#111">Electrolysis</text>
<text x="155.6" y="513.1" font-size="13" text-anchor="middle" fill="#111">Time (min)</text>
<text x="30.4" y="405.7" font-size="12.4" text-anchor="middle" fill="#111" transform="rotate(-90 30.4 405.7)">Spins (10<tspan font-size="9" dy="-5">16</tspan><tspan dy="5">)</tspan></text>
<line x1="64" y1="471.5" x2="93.3" y2="471.5" stroke="#b11e22" stroke-width="1.3"/>
<circle cx="78.7" cy="471.5" r="3.1" fill="#fff" stroke="#b11e22" stroke-width="1.4"/>
<text x="97.1" y="475.6" font-size="12.8" text-anchor="start" fill="#b11e22">Cu&#8211;Ti<tspan font-size="9" dy="3.5">1</tspan><tspan dy="-3.5">O</tspan><tspan font-size="9" dy="3.5">3</tspan></text>
<line x1="158.3" y1="471.5" x2="186.8" y2="471.5" stroke="#306284" stroke-width="1.2"/>
<rect x="169.9" y="468.9" width="5.2" height="5.2" fill="#fff" stroke="#306284" stroke-width="1.3"/>
<text x="190.5" y="475.6" font-size="12.8" text-anchor="start" fill="#306284">Cu&#8211;O<tspan font-size="9" dy="3.5">4</tspan><tspan dy="-3.5">(Ti)</tspan></text>
<text x="272.5" y="338" font-size="25" text-anchor="start" fill="#111">d</text>
<polyline points="299.1,473.24 299.7,473.37 300.3,473.41 300.9,473.52 301.5,473.66 302.1,473.74 302.7,473.79 303.3,473.91 303.9,474.11 304.5,474.13 305.1,474.22 305.7,474.28 306.3,474.32 306.9,474.32 307.5,474.41 308.1,474.35 308.7,474.28 309.3,474.28 309.9,474.13 310.5,473.93 311.1,473.94 311.7,473.9 312.3,473.83 312.9,473.78 313.5,473.81 314.1,473.66 314.7,473.53 315.3,473.32 315.9,473.24 316.5,473.1 317.1,473.06 317.7,472.94 318.3,472.92 318.9,472.78 319.5,472.66 320.1,472.44 320.7,472.36 321.3,472.24 321.9,472.21 322.5,472.05 323.1,471.99 323.7,471.96 324.3,471.92 324.9,471.72 325.5,471.62 326.1,471.58 326.7,471.5 327.3,471.32 327.9,471.19 328.5,471.2 329.1,471.01 329.7,470.89 330.3,470.79 330.9,470.79 331.5,470.56 332.1,470.5 332.7,470.28 333.3,470.13 333.9,470.01 334.5,469.97 335.1,469.76 335.7,469.62 336.3,469.49 336.9,469.3 337.5,469.1 338.1,468.94 338.7,468.78 339.3,468.67 339.9,468.55 340.5,468.34 341.1,468.23 341.7,468.12 342.3,467.85 342.9,467.66 343.5,467.5 344.1,467.33 344.7,467.12 345.3,467.03 345.9,466.79 346.5,466.67 347.1,466.5 347.7,466.33 348.3,466.19 348.9,466.07 349.5,465.95 350.1,465.76 350.7,465.69 351.3,465.58 351.9,465.46 352.5,465.42 353.1,465.44 353.7,465.32 354.3,465.18 354.9,465.1 355.5,464.88 356.1,464.64 356.7,464.47 357.3,464.27 357.9,464.06 358.5,463.87 359.1,463.6 359.7,463.34 360.3,463.04 360.9,462.75 361.5,462.44 362.1,462.14 362.7,461.67 363.3,461.32 363.9,460.85 364.5,460.42 365.1,459.9 365.7,459.53 366.3,459.09 366.9,458.61 367.5,458.03 368.1,457.47 368.7,456.89 369.3,456.21 369.9,455.63 370.5,455.01 371.1,454.38 371.7,453.71 372.3,453.13 372.9,452.36 373.5,451.65 374.1,451.1 374.7,450.38 375.3,449.76 375.9,449.18 376.5,448.6 377.1,447.87 377.7,447.25 378.3,446.59 378.9,445.92 379.5,445.19 380.1,444.61 380.7,443.97 381.3,443.27 381.9,442.72 382.5,442.2 383.1,441.81 383.7,441.52 384.3,441.41 384.9,441.27 385.5,441.27 386.1,441.08 386.7,440.97 387.3,440.79 387.9,440.59 388.5,440.28 389.1,439.94 389.7,439.5 390.3,439.06 390.9,438.54 391.5,438.09 392.1,437.67 392.7,437.28 393.3,436.98 393.9,436.83 394.5,436.78 395.1,436.84 395.7,436.98 396.3,437.19 396.9,437.51 397.5,437.75 398.1,438.17 398.7,438.58 399.3,439.07 399.9,439.55 400.5,440.15 401.1,440.73 401.7,441.38 402.3,441.98 402.9,442.65 403.5,443.25 404.1,443.84 404.7,444.51 405.3,445.26 405.9,446.04 406.5,446.87 407.1,447.75 407.7,448.49 408.3,449.17 408.9,449.91 409.5,450.54 410.1,451.13 410.7,451.87 411.3,452.57 411.9,453.24 412.5,453.98 413.1,454.77 413.7,455.5 414.3,456.21 414.9,456.92 415.5,457.62 416.1,458.2 416.7,458.88 417.3,459.51 417.9,460.08 418.5,460.67 419.1,461.37 419.7,461.99 420.3,462.67 420.9,463.3 421.5,463.88 422.1,464.32 422.7,464.78 423.3,465.19 423.9,465.57 424.5,465.96 425.1,466.31 425.7,466.62 426.3,466.89 426.9,467.1 427.5,467.35 428.1,467.48 428.7,467.6 429.3,467.72 429.9,467.87 430.5,467.89 431.1,468.12 431.7,468.17 432.3,468.31 432.9,468.52 433.5,468.64 434.1,468.66 434.7,468.85 435.3,468.95 435.9,469.02 436.5,469.22 437.1,469.33 437.7,469.41 438.3,469.51 438.9,469.55 439.5,469.67 440.1,469.87 440.7,470.04 441.3,470.11 441.9,470.33 442.5,470.42 443.1,470.48 443.7,470.59 444.3,470.75 444.9,470.76 445.5,470.77 446.1,470.84 446.7,470.83 447.3,470.91 447.9,471.07 448.5,471.25 449.1,471.42 449.7,471.6 450.3,471.68 450.9,471.74 451.5,471.79 452.1,471.87 452.7,471.93 453.3,472.01 453.9,472.1 454.5,472.26 455.1,472.25 455.7,472.37 456.3,472.41 456.9,472.42 457.5,472.38 458.1,472.52 458.7,472.59 459.3,472.75 459.9,472.81 460.5,472.96 461.1,472.96 461.7,472.92 462.3,473 462.9,473.1 463.5,473.13 464.1,473.24 464.7,473.36 465.3,473.38" fill="none" stroke="#efc0c0" stroke-width="1.15" stroke-linejoin="round"/>
<polyline points="299.1,437.32 299.7,437.37 300.3,437.46 300.9,437.46 301.5,437.57 302.1,437.61 302.7,437.63 303.3,437.62 303.9,437.72 304.5,437.7 305.1,437.82 305.7,437.85 306.3,437.88 306.9,437.86 307.5,438.01 308.1,437.96 308.7,437.97 309.3,437.97 309.9,437.95 310.5,437.89 311.1,437.9 311.7,437.93 312.3,437.98 312.9,437.93 313.5,437.85 314.1,437.74 314.7,437.68 315.3,437.62 315.9,437.65 316.5,437.49 317.1,437.47 317.7,437.4 318.3,437.33 318.9,437.13 319.5,437.06 320.1,436.87 320.7,436.66 321.3,436.56 321.9,436.58 322.5,436.57 323.1,436.6 323.7,436.62 324.3,436.48 324.9,436.32 325.5,436.18 326.1,436.12 326.7,436 327.3,435.94 327.9,435.93 328.5,435.86 329.1,435.74 329.7,435.69 330.3,435.69 330.9,435.63 331.5,435.62 332.1,435.66 332.7,435.63 333.3,435.6 333.9,435.58 334.5,435.48 335.1,435.34 335.7,435.28 336.3,435.21 336.9,435.11 337.5,435.15 338.1,435.12 338.7,435.05 339.3,435.03 339.9,434.95 340.5,434.93 341.1,434.84 341.7,434.77 342.3,434.63 342.9,434.67 343.5,434.63 344.1,434.53 344.7,434.52 345.3,434.46 345.9,434.35 346.5,434.1 347.1,434.02 347.7,433.84 348.3,433.7 348.9,433.44 349.5,433.34 350.1,433.1 350.7,432.86 351.3,432.61 351.9,432.41 352.5,432.05 353.1,431.86 353.7,431.6 354.3,431.37 354.9,431.15 355.5,431.01 356.1,430.77 356.7,430.57 357.3,430.28 357.9,430.01 358.5,429.78 359.1,429.47 359.7,429.3 360.3,429 360.9,428.71 361.5,428.36 362.1,428.2 362.7,427.86 363.3,427.62 363.9,427.41 364.5,427.1 365.1,426.74 365.7,426.45 366.3,426.22 366.9,425.91 367.5,425.68 368.1,425.37 368.7,425.04 369.3,424.66 369.9,424.35 370.5,424.03 371.1,423.75 371.7,423.37 372.3,423.04 372.9,422.63 373.5,422.21 374.1,421.68 374.7,421.26 375.3,420.83 375.9,420.21 376.5,419.53 377.1,418.86 377.7,418.14 378.3,417.34 378.9,416.5 379.5,415.64 380.1,414.78 380.7,413.88 381.3,413 381.9,412.2 382.5,411.46 383.1,410.75 383.7,410.19 384.3,409.6 384.9,409.01 385.5,408.55 386.1,408.01 386.7,407.43 387.3,406.98 387.9,406.6 388.5,406.08 389.1,405.6 389.7,405.03 390.3,404.44 390.9,403.82 391.5,403.26 392.1,402.82 392.7,402.43 393.3,402.12 393.9,402.05 394.5,402.07 395.1,402.16 395.7,402.42 396.3,402.7 396.9,402.95 397.5,403.35 398.1,403.8 398.7,404.33 399.3,404.93 399.9,405.53 400.5,406.1 401.1,406.72 401.7,407.26 402.3,407.77 402.9,408.44 403.5,409.13 404.1,409.81 404.7,410.54 405.3,411.35 405.9,412.08 406.5,412.8 407.1,413.53 407.7,414.26 408.3,415.04 408.9,415.79 409.5,416.65 410.1,417.66 410.7,418.73 411.3,419.78 411.9,420.89 412.5,421.97 413.1,423 413.7,424.03 414.3,425.01 414.9,426.01 415.5,426.95 416.1,427.68 416.7,428.35 417.3,428.98 417.9,429.47 418.5,429.89 419.1,430.45 419.7,430.77 420.3,431.11 420.9,431.42 421.5,431.77 422.1,432.06 422.7,432.4 423.3,432.6 423.9,432.9 424.5,433.1 425.1,433.31 425.7,433.54 426.3,433.85 426.9,434.12 427.5,434.37 428.1,434.57 428.7,434.87 429.3,435.04 429.9,435.25 430.5,435.46 431.1,435.72 431.7,435.82 432.3,436.14 432.9,436.29 433.5,436.43 434.1,436.55 434.7,436.76 435.3,436.8 435.9,436.96 436.5,437.17 437.1,437.37 437.7,437.49 438.3,437.64 438.9,437.73 439.5,437.87 440.1,437.99 440.7,438.08 441.3,438.11 441.9,438.2 442.5,438.13 443.1,437.98 443.7,437.87 444.3,437.87 444.9,437.79 445.5,437.73 446.1,437.67 446.7,437.64 447.3,437.47 447.9,437.41 448.5,437.31 449.1,437.28 449.7,437.28 450.3,437.35 450.9,437.29 451.5,437.31 452.1,437.33 452.7,437.27 453.3,437.31 453.9,437.35 454.5,437.48 455.1,437.5 455.7,437.59 456.3,437.58 456.9,437.66 457.5,437.64 458.1,437.68 458.7,437.8 459.3,437.88 459.9,437.94 460.5,438.03 461.1,438.18 461.7,438.22 462.3,438.35 462.9,438.48 463.5,438.56 464.1,438.7 464.7,438.8 465.3,438.87" fill="none" stroke="#dd8e8e" stroke-width="1.15" stroke-linejoin="round"/>
<polyline points="299.1,414.01 299.7,414.14 300.3,414.25 300.9,414.24 301.5,414.43 302.1,414.48 302.7,414.42 303.3,414.35 303.9,414.5 304.5,414.49 305.1,414.45 305.7,414.48 306.3,414.52 306.9,414.43 307.5,414.46 308.1,414.48 308.7,414.5 309.3,414.61 309.9,414.7 310.5,414.62 311.1,414.69 311.7,414.76 312.3,414.74 312.9,414.71 313.5,414.81 314.1,414.78 314.7,414.8 315.3,414.7 315.9,414.69 316.5,414.62 317.1,414.58 317.7,414.5 318.3,414.56 318.9,414.5 319.5,414.42 320.1,414.29 320.7,414.2 321.3,414.08 321.9,413.95 322.5,413.91 323.1,413.83 323.7,413.81 324.3,413.74 324.9,413.73 325.5,413.71 326.1,413.62 326.7,413.6 327.3,413.52 327.9,413.46 328.5,413.36 329.1,413.41 329.7,413.28 330.3,413.22 330.9,413.21 331.5,413.07 332.1,412.98 332.7,412.96 333.3,412.85 333.9,412.75 334.5,412.78 335.1,412.76 335.7,412.67 336.3,412.75 336.9,412.68 337.5,412.59 338.1,412.53 338.7,412.44 339.3,412.34 339.9,412.3 340.5,412.22 341.1,412.16 341.7,412.14 342.3,412.05 342.9,411.97 343.5,411.97 344.1,411.81 344.7,411.75 345.3,411.67 345.9,411.6 346.5,411.53 347.1,411.47 347.7,411.44 348.3,411.36 348.9,411.26 349.5,411.1 350.1,411.03 350.7,410.95 351.3,410.86 351.9,410.75 352.5,410.59 353.1,410.36 353.7,410.05 354.3,409.8 354.9,409.52 355.5,409.31 356.1,408.98 356.7,408.72 357.3,408.41 357.9,408.03 358.5,407.54 359.1,407.17 359.7,406.66 360.3,406.16 360.9,405.8 361.5,405.48 362.1,405.15 362.7,404.89 363.3,404.65 363.9,404.3 364.5,404.03 365.1,403.79 365.7,403.57 366.3,403.33 366.9,403.16 367.5,402.93 368.1,402.76 368.7,402.55 369.3,402.37 369.9,402.07 370.5,401.82 371.1,401.44 371.7,401.15 372.3,400.8 372.9,400.48 373.5,400.08 374.1,399.74 374.7,399.27 375.3,398.74 375.9,398.19 376.5,397.68 377.1,397.12 377.7,396.56 378.3,396.04 378.9,395.61 379.5,395.22 380.1,394.71 380.7,394.28 381.3,393.74 381.9,393.17 382.5,392.65 383.1,392.22 383.7,391.78 384.3,391.35 384.9,390.88 385.5,390.38 386.1,389.97 386.7,389.6 387.3,389.34 387.9,389.12 388.5,388.87 389.1,388.54 389.7,388.25 390.3,387.91 390.9,387.63 391.5,387.36 392.1,387.15 392.7,386.98 393.3,386.81 393.9,386.79 394.5,386.69 395.1,386.73 395.7,386.61 396.3,386.59 396.9,386.58 397.5,386.67 398.1,386.76 398.7,386.94 399.3,387.21 399.9,387.57 400.5,388.06 401.1,388.56 401.7,389.18 402.3,389.76 402.9,390.34 403.5,390.96 404.1,391.52 404.7,392.16 405.3,392.76 405.9,393.36 406.5,393.87 407.1,394.3 407.7,394.67 408.3,395.21 408.9,395.68 409.5,396.08 410.1,396.62 410.7,397.21 411.3,397.64 411.9,398.15 412.5,398.71 413.1,399.19 413.7,399.66 414.3,400.25 414.9,400.74 415.5,401.34 416.1,401.95 416.7,402.61 417.3,403.18 417.9,403.81 418.5,404.4 419.1,405.01 419.7,405.51 420.3,406.1 420.9,406.65 421.5,407.13 422.1,407.57 422.7,407.95 423.3,408.23 423.9,408.59 424.5,408.92 425.1,409.28 425.7,409.6 426.3,409.98 426.9,410.27 427.5,410.57 428.1,410.81 428.7,411.08 429.3,411.32 429.9,411.57 430.5,411.77 431.1,412.05 431.7,412.35 432.3,412.69 432.9,412.94 433.5,413.17 434.1,413.31 434.7,413.48 435.3,413.61 435.9,413.77 436.5,414.03 437.1,414.33 437.7,414.46 438.3,414.69 438.9,414.89 439.5,415.07 440.1,415.19 440.7,415.39 441.3,415.55 441.9,415.7 442.5,415.81 443.1,415.99 443.7,416.11 444.3,416.1 444.9,416.15 445.5,416.23 446.1,416.18 446.7,416.27 447.3,416.42 447.9,416.4 448.5,416.4 449.1,416.48 449.7,416.45 450.3,416.35 450.9,416.35 451.5,416.37 452.1,416.38 452.7,416.36 453.3,416.33 453.9,416.4 454.5,416.38 455.1,416.29 455.7,416.28 456.3,416.38 456.9,416.37 457.5,416.32 458.1,416.33 458.7,416.32 459.3,416.2 459.9,416.07 460.5,415.99 461.1,415.98 461.7,415.9 462.3,415.9 462.9,415.88 463.5,415.88 464.1,415.75 464.7,415.7 465.3,415.62" fill="none" stroke="#c95757" stroke-width="1.15" stroke-linejoin="round"/>
<polyline points="299.1,388.73 299.7,388.74 300.3,388.87 300.9,389.07 301.5,389.05 302.1,389.18 302.7,389.31 303.3,389.39 303.9,389.37 304.5,389.43 305.1,389.54 305.7,389.67 306.3,389.69 306.9,389.78 307.5,389.8 308.1,389.74 308.7,389.61 309.3,389.6 309.9,389.52 310.5,389.48 311.1,389.38 311.7,389.21 312.3,388.94 312.9,388.7 313.5,388.46 314.1,388.18 314.7,388 315.3,387.92 315.9,387.88 316.5,387.79 317.1,387.8 317.7,387.83 318.3,387.67 318.9,387.54 319.5,387.45 320.1,387.25 320.7,387.18 321.3,387.13 321.9,387.04 322.5,387 323.1,387.05 323.7,386.93 324.3,386.88 324.9,386.8 325.5,386.66 326.1,386.59 326.7,386.57 327.3,386.48 327.9,386.35 328.5,386.3 329.1,386.14 329.7,386.06 330.3,386.09 330.9,386.13 331.5,386.03 332.1,386.02 332.7,385.92 333.3,385.81 333.9,385.76 334.5,385.7 335.1,385.55 335.7,385.49 336.3,385.47 336.9,385.37 337.5,385.34 338.1,385.35 338.7,385.29 339.3,385.11 339.9,385 340.5,384.94 341.1,384.81 341.7,384.71 342.3,384.65 342.9,384.57 343.5,384.48 344.1,384.48 344.7,384.33 345.3,384.32 345.9,384.22 346.5,384.11 347.1,384.04 347.7,383.96 348.3,383.87 348.9,383.85 349.5,383.85 350.1,383.61 350.7,383.52 351.3,383.27 351.9,383.14 352.5,383 353.1,382.93 353.7,382.78 354.3,382.67 354.9,382.49 355.5,382.28 356.1,382.11 356.7,381.89 357.3,381.69 357.9,381.39 358.5,381.22 359.1,381 359.7,380.78 360.3,380.64 360.9,380.43 361.5,380.14 362.1,379.82 362.7,379.56 363.3,379.27 363.9,378.97 364.5,378.62 365.1,378.33 365.7,377.99 366.3,377.64 366.9,377.23 367.5,376.95 368.1,376.49 368.7,376.15 369.3,375.68 369.9,375.24 370.5,374.7 371.1,374.25 371.7,373.67 372.3,373.09 372.9,372.54 373.5,372 374.1,371.45 374.7,370.86 375.3,370.14 375.9,369.4 376.5,368.66 377.1,367.8 377.7,367.06 378.3,366.38 378.9,365.81 379.5,365.04 380.1,364.55 380.7,363.92 381.3,363.33 381.9,362.64 382.5,362.23 383.1,361.68 383.7,361.17 384.3,360.75 384.9,360.44 385.5,359.96 386.1,359.6 386.7,359.26 387.3,358.93 387.9,358.64 388.5,358.47 389.1,358.2 389.7,358.01 390.3,357.84 390.9,357.69 391.5,357.56 392.1,357.51 392.7,357.49 393.3,357.56 393.9,357.61 394.5,357.73 395.1,357.9 395.7,358.08 396.3,358.23 396.9,358.51 397.5,358.79 398.1,359.2 398.7,359.63 399.3,360.23 399.9,360.71 400.5,361.34 401.1,361.95 401.7,362.63 402.3,363.15 402.9,363.88 403.5,364.48 404.1,365.13 404.7,365.75 405.3,366.41 405.9,367.02 406.5,367.6 407.1,368.11 407.7,368.74 408.3,369.41 408.9,369.91 409.5,370.55 410.1,371.2 410.7,371.83 411.3,372.37 411.9,373.07 412.5,373.7 413.1,374.33 413.7,374.87 414.3,375.51 414.9,376.01 415.5,376.56 416.1,377 416.7,377.62 417.3,378.2 417.9,378.74 418.5,379.23 419.1,379.79 419.7,380.23 420.3,380.55 420.9,381.05 421.5,381.42 422.1,381.74 422.7,382.02 423.3,382.37 423.9,382.64 424.5,382.88 425.1,383.11 425.7,383.42 426.3,383.63 426.9,383.71 427.5,383.99 428.1,384.24 428.7,384.39 429.3,384.64 429.9,384.83 430.5,385.04 431.1,385.21 431.7,385.29 432.3,385.34 432.9,385.52 433.5,385.59 434.1,385.64 434.7,385.75 435.3,385.9 435.9,385.95 436.5,386.07 437.1,386.26 437.7,386.37 438.3,386.51 438.9,386.71 439.5,386.77 440.1,386.88 440.7,387.11 441.3,387.2 441.9,387.27 442.5,387.47 443.1,387.52 443.7,387.53 444.3,387.68 444.9,387.79 445.5,387.77 446.1,387.76 446.7,387.78 447.3,387.73 447.9,387.78 448.5,387.85 449.1,387.95 449.7,388.02 450.3,388.08 450.9,387.95 451.5,387.9 452.1,387.9 452.7,387.9 453.3,387.81 453.9,387.85 454.5,387.85 455.1,387.76 455.7,387.69 456.3,387.65 456.9,387.65 457.5,387.62 458.1,387.57 458.7,387.51 459.3,387.64 459.9,387.69 460.5,387.75 461.1,387.83 461.7,387.93 462.3,387.92 462.9,387.93 463.5,387.8 464.1,387.81 464.7,387.78 465.3,387.71" fill="none" stroke="#b01d22" stroke-width="1.45" stroke-linejoin="round"/>
<polyline points="393.1,350.2 393.1,367.3" fill="none" stroke="#2a2a2a" stroke-width="1.0" stroke-linejoin="round"/>
<polyline points="393.1,367.3 398.3,380.4" fill="none" stroke="#2a2a2a" stroke-width="0.9" stroke-linejoin="round" stroke-dasharray="1.2 0.9"/>
<polyline points="398.3,380.4 398.3,393.5 394.9,400 394.6,405" fill="none" stroke="#2a2a2a" stroke-width="1.0" stroke-linejoin="round"/>
<polyline points="394.6,405 394,428" fill="none" stroke="#2a2a2a" stroke-width="0.9" stroke-linejoin="round" stroke-dasharray="1.2 0.9"/>
<polyline points="394,428 393.6,447.1" fill="none" stroke="#2a2a2a" stroke-width="1.0" stroke-linejoin="round"/>
<rect x="298.5" y="329.4" width="167.7" height="151.8" fill="none" stroke="#3c3c3c" stroke-width="1.2"/>
<line x1="298.5" y1="481.2" x2="298.5" y2="483.6" stroke="#3c3c3c" stroke-width="1.0"/>
<text x="298.5" y="495.3" font-size="11.8" text-anchor="middle" fill="#111">180</text>
<line x1="326.45" y1="481.2" x2="326.45" y2="482.6" stroke="#3c3c3c" stroke-width="1.0"/>
<line x1="354.4" y1="481.2" x2="354.4" y2="483.6" stroke="#3c3c3c" stroke-width="1.0"/>
<text x="354.4" y="495.3" font-size="11.8" text-anchor="middle" fill="#111">160</text>
<line x1="382.35" y1="481.2" x2="382.35" y2="482.6" stroke="#3c3c3c" stroke-width="1.0"/>
<line x1="410.3" y1="481.2" x2="410.3" y2="483.6" stroke="#3c3c3c" stroke-width="1.0"/>
<text x="410.3" y="495.3" font-size="11.8" text-anchor="middle" fill="#111">140</text>
<line x1="438.25" y1="481.2" x2="438.25" y2="482.6" stroke="#3c3c3c" stroke-width="1.0"/>
<line x1="466.2" y1="481.2" x2="466.2" y2="483.6" stroke="#3c3c3c" stroke-width="1.0"/>
<text x="466.2" y="495.3" font-size="11.8" text-anchor="middle" fill="#111">120</text>
<text x="300" y="374" font-size="11.5" text-anchor="start" fill="#111">After reaction</text>
<text x="309.5" y="409.3" font-size="11.5" text-anchor="start" fill="#111">10 min</text>
<text x="312.3" y="431.7" font-size="11.5" text-anchor="start" fill="#111">5 min</text>
<text x="312.3" y="465.9" font-size="11.5" text-anchor="start" fill="#111">OCP</text>
<text x="463.8" y="343.3" font-size="12.8" text-anchor="end" fill="#b11e22">Cu&#8211;Ti<tspan font-size="9" dy="3.5">1</tspan><tspan dy="-3.5">O</tspan><tspan font-size="9" dy="3.5">3</tspan></text>
<text x="383.85" y="513" font-size="13" text-anchor="middle" fill="#111">Raman shift (cm<tspan font-size="9" dy="-5">-1</tspan><tspan dy="5">)</tspan></text>
<text x="365.8" y="354" font-size="12" text-anchor="start" fill="#111"><tspan font-style="italic">E</tspan><tspan font-family="Liberation Serif" font-size="7.5" dy="2.5">g(1)</tspan></text>
<text x="283.3" y="405" font-size="13" text-anchor="middle" fill="#111" transform="rotate(-90 283.3 405)">Intensity (arb. units)</text>
<text x="481.5" y="337.6" font-size="25" text-anchor="start" fill="#111">e</text>
<polyline points="508.9,469.13 509.5,469.11 510.1,469.12 510.7,469.12 511.3,469 511.9,468.99 512.5,468.92 513.1,468.87 513.7,468.77 514.3,468.72 514.9,468.69 515.5,468.59 516.1,468.49 516.7,468.53 517.3,468.5 517.9,468.4 518.5,468.39 519.1,468.33 519.7,468.17 520.3,468.06 520.9,467.99 521.5,467.91 522.1,467.84 522.7,467.81 523.3,467.78 523.9,467.72 524.5,467.7 525.1,467.71 525.7,467.71 526.3,467.71 526.9,467.74 527.5,467.65 528.1,467.59 528.7,467.52 529.3,467.47 529.9,467.42 530.5,467.41 531.1,467.31 531.7,467.24 532.3,467.14 532.9,467.08 533.5,467.02 534.1,467.01 534.7,466.93 535.3,466.9 535.9,466.9 536.5,466.82 537.1,466.76 537.7,466.77 538.3,466.7 538.9,466.66 539.5,466.61 540.1,466.57 540.7,466.46 541.3,466.37 541.9,466.3 542.5,466.26 543.1,466.1 543.7,466.08 544.3,466.07 544.9,466 545.5,465.89 546.1,465.86 546.7,465.88 547.3,465.86 547.9,465.72 548.5,465.69 549.1,465.65 549.7,465.54 550.3,465.46 550.9,465.49 551.5,465.49 552.1,465.44 552.7,465.38 553.3,465.32 553.9,465.23 554.5,465.1 555.1,465.05 555.7,464.95 556.3,464.88 556.9,464.7 557.5,464.65 558.1,464.44 558.7,464.34 559.3,464.18 559.9,464.11 560.5,464 561.1,463.95 561.7,463.76 562.3,463.63 562.9,463.53 563.5,463.3 564.1,463.09 564.7,462.9 565.3,462.65 565.9,462.41 566.5,462.13 567.1,461.89 567.7,461.64 568.3,461.36 568.9,461.02 569.5,460.79 570.1,460.54 570.7,460.2 571.3,459.87 571.9,459.49 572.5,459.04 573.1,458.54 573.7,458.14 574.3,457.73 574.9,457.28 575.5,456.91 576.1,456.47 576.7,456.04 577.3,455.59 577.9,455.22 578.5,454.62 579.1,454.12 579.7,453.62 580.3,452.99 580.9,452.34 581.5,451.86 582.1,451.34 582.7,450.8 583.3,450.37 583.9,449.89 584.5,449.39 585.1,448.83 585.7,448.2 586.3,447.6 586.9,446.99 587.5,446.3 588.1,445.7 588.7,445.06 589.3,444.46 589.9,443.86 590.5,443.23 591.1,442.49 591.7,441.82 592.3,441.03 592.9,440.24 593.5,439.43 594.1,438.7 594.7,437.91 595.3,437.05 595.9,436.15 596.5,435.28 597.1,434.45 597.7,433.54 598.3,432.76 598.9,432.08 599.5,431.35 600.1,430.6 600.7,430.01 601.3,429.37 601.9,428.66 602.5,428.01 603.1,427.51 603.7,426.97 604.3,426.56 604.9,426.33 605.5,426.27 606.1,426.2 606.7,426.28 607.3,426.49 607.9,426.82 608.5,427.26 609.1,427.8 609.7,428.45 610.3,429.21 610.9,429.97 611.5,430.75 612.1,431.68 612.7,432.58 613.3,433.34 613.9,434.15 614.5,435.02 615.1,435.71 615.7,436.46 616.3,437.19 616.9,437.92 617.5,438.68 618.1,439.49 618.7,440.26 619.3,441.07 619.9,441.89 620.5,442.63 621.1,443.38 621.7,444.16 622.3,444.98 622.9,445.82 623.5,446.58 624.1,447.34 624.7,448 625.3,448.65 625.9,449.31 626.5,449.91 627.1,450.53 627.7,451.18 628.3,451.86 628.9,452.48 629.5,453.15 630.1,453.83 630.7,454.37 631.3,454.83 631.9,455.33 632.5,455.76 633.1,456.2 633.7,456.66 634.3,457.07 634.9,457.35 635.5,457.66 636.1,458 636.7,458.33 637.3,458.63 637.9,458.92 638.5,459.21 639.1,459.33 639.7,459.6 640.3,459.86 640.9,460.14 641.5,460.36 642.1,460.64 642.7,460.76 643.3,460.89 643.9,461.09 644.5,461.36 645.1,461.54 645.7,461.84 646.3,462.16 646.9,462.29 647.5,462.46 648.1,462.76 648.7,462.91 649.3,463.13 649.9,463.32 650.5,463.49 651.1,463.65 651.7,463.8 652.3,463.89 652.9,464.16 653.5,464.34 654.1,464.52 654.7,464.68 655.3,464.82 655.9,464.89 656.5,464.98 657.1,465.14 657.7,465.27 658.3,465.44 658.9,465.51 659.5,465.66 660.1,465.68 660.7,465.78 661.3,465.8 661.9,465.89 662.5,466 663.1,466.08 663.7,466.12 664.3,466.21 664.9,466.3 665.5,466.28 666.1,466.3 666.7,466.42 667.3,466.5 667.9,466.53 668.5,466.66 669.1,466.72 669.7,466.72 670.3,466.85 670.9,466.9 671.5,466.92 672.1,467.09 672.7,467.22 673.3,467.19 673.9,467.32 674.5,467.41" fill="none" stroke="#cde4f4" stroke-width="1.15" stroke-linejoin="round"/>
<polyline points="508.9,439.69 509.5,439.55 510.1,439.26 510.7,439.1 511.3,438.83 511.9,438.56 512.5,438.25 513.1,437.99 513.7,437.7 514.3,437.42 514.9,437.27 515.5,437.05 516.1,436.85 516.7,436.55 517.3,436.38 517.9,436.07 518.5,435.91 519.1,435.68 519.7,435.54 520.3,435.36 520.9,435.22 521.5,435.07 522.1,434.99 522.7,434.9 523.3,434.81 523.9,434.72 524.5,434.59 525.1,434.48 525.7,434.36 526.3,434.34 526.9,434.3 527.5,434.29 528.1,434.26 528.7,434.27 529.3,434.17 529.9,434.16 530.5,434.08 531.1,434.04 531.7,433.96 532.3,433.9 532.9,433.81 533.5,433.82 534.1,433.79 534.7,433.75 535.3,433.79 535.9,433.83 536.5,433.81 537.1,433.85 537.7,433.77 538.3,433.64 538.9,433.49 539.5,433.42 540.1,433.36 540.7,433.34 541.3,433.31 541.9,433.35 542.5,433.3 543.1,433.18 543.7,433.19 544.3,433.11 544.9,433.02 545.5,432.86 546.1,432.75 546.7,432.65 547.3,432.59 547.9,432.47 548.5,432.31 549.1,432.15 549.7,431.88 550.3,431.64 550.9,431.4 551.5,431.27 552.1,431.08 552.7,430.9 553.3,430.76 553.9,430.55 554.5,430.41 555.1,430.28 555.7,430.14 556.3,429.89 556.9,429.73 557.5,429.52 558.1,429.3 558.7,429.02 559.3,428.93 559.9,428.82 560.5,428.62 561.1,428.43 561.7,428.42 562.3,428.26 562.9,428.04 563.5,427.92 564.1,427.83 564.7,427.71 565.3,427.56 565.9,427.58 566.5,427.55 567.1,427.45 567.7,427.33 568.3,427.26 568.9,427.13 569.5,427.03 570.1,426.94 570.7,426.73 571.3,426.68 571.9,426.5 572.5,426.36 573.1,426.26 573.7,426.19 574.3,426 574.9,425.86 575.5,425.61 576.1,425.34 576.7,425.15 577.3,424.9 577.9,424.68 578.5,424.53 579.1,424.32 579.7,424.1 580.3,423.8 580.9,423.57 581.5,423.28 582.1,423.01 582.7,422.68 583.3,422.49 583.9,422.14 584.5,421.72 585.1,421.29 585.7,420.75 586.3,420.16 586.9,419.59 587.5,419 588.1,418.45 588.7,417.91 589.3,417.41 589.9,416.92 590.5,416.43 591.1,415.95 591.7,415.58 592.3,415.16 592.9,414.84 593.5,414.52 594.1,414.22 594.7,413.97 595.3,413.64 595.9,413.31 596.5,413.04 597.1,412.84 597.7,412.53 598.3,412.34 598.9,412.01 599.5,411.76 600.1,411.41 600.7,411.02 601.3,410.62 601.9,410.29 602.5,409.8 603.1,409.36 603.7,408.98 604.3,408.6 604.9,408.25 605.5,408.13 606.1,408.07 606.7,408.19 607.3,408.38 607.9,408.62 608.5,408.91 609.1,409.29 609.7,409.63 610.3,410.02 610.9,410.46 611.5,410.89 612.1,411.45 612.7,411.99 613.3,412.47 613.9,413.03 614.5,413.62 615.1,413.99 615.7,414.29 616.3,414.72 616.9,415.03 617.5,415.27 618.1,415.61 618.7,415.93 619.3,416.32 619.9,416.68 620.5,417.06 621.1,417.44 621.7,417.86 622.3,418.1 622.9,418.37 623.5,418.64 624.1,418.86 624.7,419.23 625.3,419.67 625.9,420.05 626.5,420.44 627.1,420.92 627.7,421.35 628.3,421.79 628.9,422.21 629.5,422.81 630.1,423.44 630.7,424.1 631.3,424.73 631.9,425.47 632.5,426.23 633.1,426.9 633.7,427.55 634.3,428.24 634.9,428.86 635.5,429.36 636.1,429.75 636.7,429.97 637.3,430.05 637.9,429.98 638.5,429.72 639.1,429.43 639.7,429.13 640.3,428.75 640.9,428.31 641.5,427.9 642.1,427.57 642.7,427.36 643.3,427.37 643.9,427.48 644.5,427.73 645.1,428.02 645.7,428.37 646.3,428.8 646.9,429.2 647.5,429.53 648.1,430 648.7,430.4 649.3,430.79 649.9,431.19 650.5,431.68 651.1,432.08 651.7,432.46 652.3,432.66 652.9,432.9 653.5,433.07 654.1,433.21 654.7,433.34 655.3,433.5 655.9,433.68 656.5,433.84 657.1,434.03 657.7,434.23 658.3,434.34 658.9,434.44 659.5,434.52 660.1,434.59 660.7,434.61 661.3,434.7 661.9,434.75 662.5,434.81 663.1,434.86 663.7,435.01 664.3,435.16 664.9,435.31 665.5,435.44 666.1,435.53 666.7,435.47 667.3,435.42 667.9,435.25 668.5,435.14 669.1,435.01 669.7,434.86 670.3,434.72 670.9,434.73 671.5,434.59 672.1,434.47 672.7,434.36 673.3,434.21 673.9,434.03 674.5,433.92" fill="none" stroke="#afd3ed" stroke-width="1.15" stroke-linejoin="round"/>
<polyline points="508.9,419.41 509.5,419.76 510.1,420.1 510.7,420.34 511.3,420.76 511.9,421.07 512.5,421.26 513.1,421.34 513.7,421.4 514.3,421.34 514.9,421.27 515.5,421.1 516.1,420.95 516.7,420.86 517.3,420.71 517.9,420.51 518.5,420.45 519.1,420.3 519.7,420.03 520.3,419.88 520.9,419.76 521.5,419.59 522.1,419.54 522.7,419.49 523.3,419.45 523.9,419.43 524.5,419.46 525.1,419.53 525.7,419.61 526.3,419.71 526.9,419.84 527.5,419.99 528.1,420.19 528.7,420.43 529.3,420.64 529.9,420.9 530.5,421.01 531.1,421.17 531.7,421.32 532.3,421.33 532.9,421.41 533.5,421.48 534.1,421.37 534.7,421.36 535.3,421.37 535.9,421.28 536.5,421.15 537.1,421.13 537.7,420.89 538.3,420.71 538.9,420.51 539.5,420.34 540.1,420.15 540.7,420 541.3,419.84 541.9,419.7 542.5,419.58 543.1,419.43 543.7,419.3 544.3,419.2 544.9,418.99 545.5,418.88 546.1,418.7 546.7,418.46 547.3,418.28 547.9,418.09 548.5,417.9 549.1,417.71 549.7,417.64 550.3,417.38 550.9,417.22 551.5,417.05 552.1,416.92 552.7,416.73 553.3,416.55 553.9,416.41 554.5,416.14 555.1,415.91 555.7,415.74 556.3,415.56 556.9,415.42 557.5,415.31 558.1,415.08 558.7,414.79 559.3,414.64 559.9,414.43 560.5,414.2 561.1,413.98 561.7,413.74 562.3,413.49 562.9,413.27 563.5,413.01 564.1,412.85 564.7,412.67 565.3,412.54 565.9,412.26 566.5,412.03 567.1,411.84 567.7,411.64 568.3,411.4 568.9,411.22 569.5,411.08 570.1,410.71 570.7,410.42 571.3,410.07 571.9,409.75 572.5,409.46 573.1,409.27 573.7,408.93 574.3,408.6 574.9,408.3 575.5,407.9 576.1,407.46 576.7,407.12 577.3,406.7 577.9,406.27 578.5,405.79 579.1,405.42 579.7,404.98 580.3,404.52 580.9,404 581.5,403.52 582.1,403.06 582.7,402.58 583.3,402.1 583.9,401.58 584.5,401.11 585.1,400.55 585.7,400.04 586.3,399.58 586.9,399.1 587.5,398.54 588.1,398.05 588.7,397.51 589.3,396.97 589.9,396.48 590.5,396.12 591.1,395.54 591.7,395.02 592.3,394.6 592.9,394.08 593.5,393.47 594.1,393.04 594.7,392.55 595.3,392.04 595.9,391.58 596.5,391.17 597.1,390.75 597.7,390.2 598.3,389.68 598.9,389.19 599.5,388.68 600.1,388.18 600.7,387.84 601.3,387.48 601.9,387.01 602.5,386.5 603.1,386.07 603.7,385.71 604.3,385.42 604.9,385.21 605.5,385.07 606.1,385.06 606.7,385.2 607.3,385.37 607.9,385.65 608.5,385.99 609.1,386.33 609.7,386.7 610.3,387.09 610.9,387.53 611.5,388.03 612.1,388.62 612.7,389.18 613.3,389.79 613.9,390.35 614.5,390.92 615.1,391.41 615.7,391.94 616.3,392.48 616.9,393.19 617.5,393.87 618.1,394.56 618.7,395.32 619.3,396.07 619.9,396.69 620.5,397.36 621.1,398.07 621.7,398.76 622.3,399.54 622.9,400.3 623.5,401.11 624.1,401.79 624.7,402.53 625.3,403.13 625.9,403.66 626.5,404.12 627.1,404.71 627.7,405.27 628.3,405.78 628.9,406.41 629.5,406.97 630.1,407.52 630.7,407.88 631.3,408.38 631.9,408.86 632.5,409.28 633.1,409.62 633.7,410.02 634.3,410.36 634.9,410.62 635.5,411.01 636.1,411.31 636.7,411.64 637.3,411.86 637.9,412.06 638.5,412.18 639.1,412.3 639.7,412.29 640.3,412.35 640.9,412.38 641.5,412.3 642.1,412.19 642.7,412.24 643.3,412.25 643.9,412.19 644.5,412.18 645.1,412.29 645.7,412.41 646.3,412.63 646.9,412.95 647.5,413.39 648.1,413.77 648.7,414.14 649.3,414.55 649.9,414.99 650.5,415.35 651.1,415.85 651.7,416.26 652.3,416.55 652.9,416.86 653.5,417.11 654.1,417.34 654.7,417.52 655.3,417.68 655.9,417.75 656.5,417.78 657.1,417.71 657.7,417.59 658.3,417.54 658.9,417.4 659.5,417.35 660.1,417.13 660.7,417.04 661.3,416.85 661.9,416.65 662.5,416.37 663.1,416.25 663.7,416.08 664.3,416 664.9,415.93 665.5,416.03 666.1,416.1 666.7,416.21 667.3,416.27 667.9,416.44 668.5,416.54 669.1,416.7 669.7,416.82 670.3,417 670.9,417.12 671.5,417.3 672.1,417.49 672.7,417.72 673.3,417.82 673.9,418.04 674.5,418.17" fill="none" stroke="#95c3e7" stroke-width="1.15" stroke-linejoin="round"/>
<polyline points="508.9,394.06 509.5,393.9 510.1,393.8 510.7,393.74 511.3,393.54 511.9,393.39 512.5,393.33 513.1,393.26 513.7,393.15 514.3,393.1 514.9,393.15 515.5,393.03 516.1,392.97 516.7,392.8 517.3,392.68 517.9,392.49 518.5,392.4 519.1,392.3 519.7,392.29 520.3,392.24 520.9,392.28 521.5,392.25 522.1,392.14 522.7,392.03 523.3,392.06 523.9,392.02 524.5,391.98 525.1,391.96 525.7,392.07 526.3,392.05 526.9,392.15 527.5,392.34 528.1,392.6 528.7,392.75 529.3,393.06 529.9,393.23 530.5,393.44 531.1,393.7 531.7,393.87 532.3,394.02 532.9,394.09 533.5,394.2 534.1,394.13 534.7,394.16 535.3,393.91 535.9,393.75 536.5,393.45 537.1,393.21 537.7,392.88 538.3,392.61 538.9,392.21 539.5,391.84 540.1,391.44 540.7,391.1 541.3,390.82 541.9,390.66 542.5,390.65 543.1,390.69 543.7,390.72 544.3,390.91 544.9,391.03 545.5,391.13 546.1,391.2 546.7,391.42 547.3,391.51 547.9,391.6 548.5,391.67 549.1,391.75 549.7,391.59 550.3,391.37 550.9,391.23 551.5,391.05 552.1,390.73 552.7,390.54 553.3,390.3 553.9,390.02 554.5,389.68 555.1,389.47 555.7,389.09 556.3,388.82 556.9,388.49 557.5,388.21 558.1,387.9 558.7,387.6 559.3,387.31 559.9,387.13 560.5,386.82 561.1,386.45 561.7,386.2 562.3,385.97 562.9,385.59 563.5,385.44 564.1,385.22 564.7,385.08 565.3,384.73 565.9,384.52 566.5,384.27 567.1,384.04 567.7,383.77 568.3,383.67 568.9,383.55 569.5,383.37 570.1,383.31 570.7,383.07 571.3,382.81 571.9,382.7 572.5,382.59 573.1,382.4 573.7,382.41 574.3,382.35 574.9,382.22 575.5,382.04 576.1,381.89 576.7,381.76 577.3,381.51 577.9,381.24 578.5,380.84 579.1,380.46 579.7,379.84 580.3,379.34 580.9,378.7 581.5,378.24 582.1,377.66 582.7,377.22 583.3,376.74 583.9,376.28 584.5,375.81 585.1,375.45 585.7,375.07 586.3,374.65 586.9,374.27 587.5,373.97 588.1,373.64 588.7,373.23 589.3,372.84 589.9,372.45 590.5,371.97 591.1,371.46 591.7,370.97 592.3,370.6 592.9,370.24 593.5,369.88 594.1,369.53 594.7,369.13 595.3,368.76 595.9,368.39 596.5,367.99 597.1,367.61 597.7,367.29 598.3,366.9 598.9,366.5 599.5,366.08 600.1,365.57 600.7,364.95 601.3,364.26 601.9,363.65 602.5,362.93 603.1,362.17 603.7,361.37 604.3,360.53 604.9,359.8 605.5,359.13 606.1,358.72 606.7,358.57 607.3,358.51 607.9,358.47 608.5,358.64 609.1,358.8 609.7,358.99 610.3,359.34 610.9,359.81 611.5,360.38 612.1,361.05 612.7,361.71 613.3,362.57 613.9,363.34 614.5,364.22 615.1,365.1 615.7,366.08 616.3,367.05 616.9,367.91 617.5,368.78 618.1,369.61 618.7,370.35 619.3,370.97 619.9,371.74 620.5,372.29 621.1,372.85 621.7,373.46 622.3,374 622.9,374.53 623.5,375.12 624.1,375.68 624.7,376.25 625.3,376.91 625.9,377.49 626.5,378.19 627.1,378.89 627.7,379.57 628.3,380.31 628.9,381.06 629.5,381.86 630.1,382.61 630.7,383.43 631.3,384.14 631.9,384.89 632.5,385.58 633.1,386.33 633.7,387.16 634.3,387.92 634.9,388.62 635.5,389.26 636.1,389.83 636.7,390.06 637.3,390.19 637.9,390.29 638.5,390.25 639.1,390.12 639.7,390.05 640.3,389.98 640.9,389.82 641.5,389.61 642.1,389.47 642.7,389.44 643.3,389.49 643.9,389.5 644.5,389.66 645.1,389.81 645.7,389.91 646.3,390.05 646.9,390.37 647.5,390.65 648.1,390.91 648.7,391.13 649.3,391.35 649.9,391.58 650.5,391.78 651.1,391.92 651.7,392.09 652.3,392.23 652.9,392.24 653.5,392.2 654.1,392.24 654.7,392.23 655.3,392.17 655.9,392.08 656.5,392.07 657.1,391.98 657.7,391.93 658.3,391.81 658.9,391.75 659.5,391.72 660.1,391.62 660.7,391.53 661.3,391.57 661.9,391.53 662.5,391.45 663.1,391.44 663.7,391.5 664.3,391.4 664.9,391.44 665.5,391.53 666.1,391.54 666.7,391.52 667.3,391.66 667.9,391.72 668.5,391.71 669.1,391.76 669.7,391.84 670.3,391.86 670.9,391.96 671.5,392.03 672.1,392.17 672.7,392.29 673.3,392.43 673.9,392.49 674.5,392.63" fill="none" stroke="#3a7dc0" stroke-width="1.45" stroke-linejoin="round"/>
<line x1="607.1" y1="348.1" x2="607.1" y2="447.5" stroke="#707070" stroke-width="1.4"/>
<rect x="508.3" y="329.6" width="167.3" height="151.6" fill="none" stroke="#3c3c3c" stroke-width="1.2"/>
<line x1="508.3" y1="481.2" x2="508.3" y2="483.6" stroke="#3c3c3c" stroke-width="1.0"/>
<text x="508.3" y="495.3" font-size="11.8" text-anchor="middle" fill="#111">180</text>
<line x1="536.18" y1="481.2" x2="536.18" y2="482.6" stroke="#3c3c3c" stroke-width="1.0"/>
<line x1="564.07" y1="481.2" x2="564.07" y2="483.6" stroke="#3c3c3c" stroke-width="1.0"/>
<text x="564.07" y="495.3" font-size="11.8" text-anchor="middle" fill="#111">160</text>
<line x1="591.95" y1="481.2" x2="591.95" y2="482.6" stroke="#3c3c3c" stroke-width="1.0"/>
<line x1="619.83" y1="481.2" x2="619.83" y2="483.6" stroke="#3c3c3c" stroke-width="1.0"/>
<text x="619.83" y="495.3" font-size="11.8" text-anchor="middle" fill="#111">140</text>
<line x1="647.72" y1="481.2" x2="647.72" y2="482.6" stroke="#3c3c3c" stroke-width="1.0"/>
<line x1="675.6" y1="481.2" x2="675.6" y2="483.6" stroke="#3c3c3c" stroke-width="1.0"/>
<text x="675.6" y="495.3" font-size="11.8" text-anchor="middle" fill="#111">120</text>
<text x="509.3" y="380.2" font-size="11.5" text-anchor="start" fill="#111">After reaction</text>
<text x="519" y="414.6" font-size="11.5" text-anchor="start" fill="#111">10 min</text>
<text x="520.1" y="434.5" font-size="11.5" text-anchor="start" fill="#111">5 min</text>
<text x="521.7" y="463.5" font-size="11.5" text-anchor="start" fill="#111">OCP</text>
<text x="674" y="342.4" font-size="12.8" text-anchor="end" fill="#306284">Cu&#8211;O<tspan font-size="9" dy="3.5">4</tspan><tspan dy="-3.5">(Ti)</tspan></text>
<text x="593.45" y="513" font-size="13" text-anchor="middle" fill="#111">Raman shift (cm<tspan font-size="9" dy="-5">-1</tspan><tspan dy="5">)</tspan></text>
<text x="577.9" y="353.6" font-size="12" text-anchor="start" fill="#111"><tspan font-style="italic">E</tspan><tspan font-family="Liberation Serif" font-size="7.5" dy="2.5">g(1)</tspan></text>
<text x="492.3" y="405" font-size="13" text-anchor="middle" fill="#111" transform="rotate(-90 492.3 405)">Intensity (arb. units)</text></svg></body></html>
